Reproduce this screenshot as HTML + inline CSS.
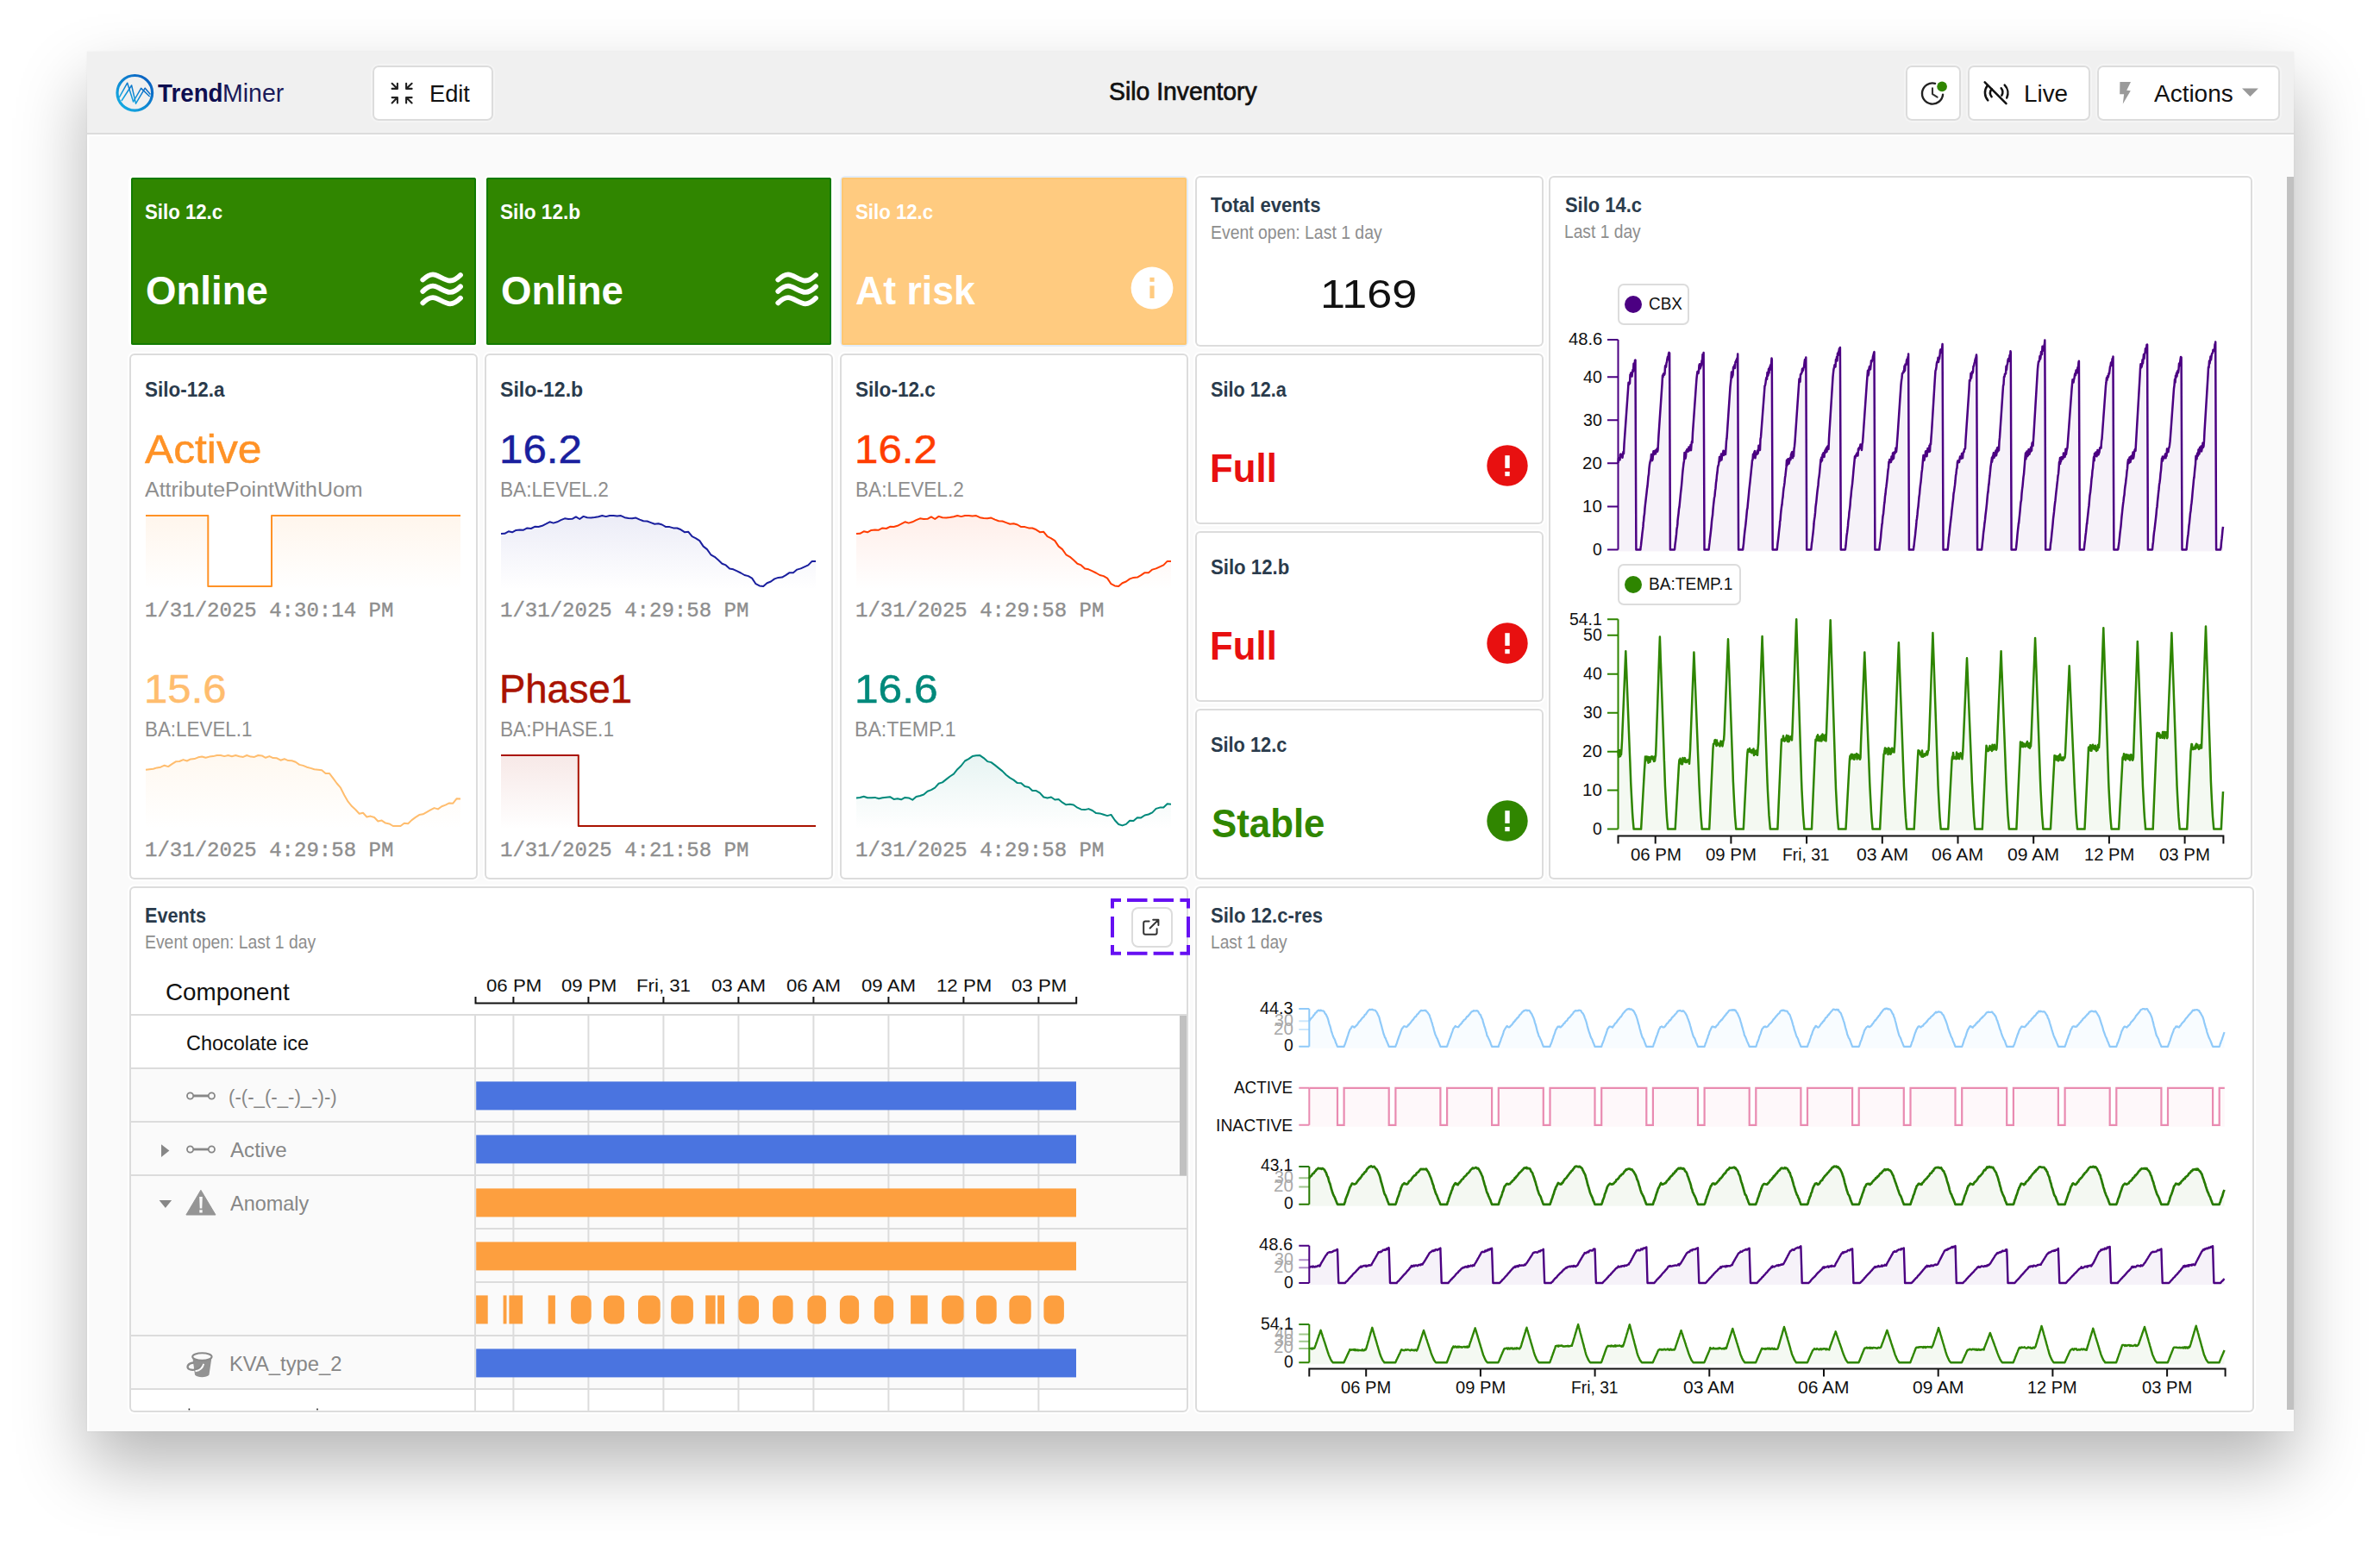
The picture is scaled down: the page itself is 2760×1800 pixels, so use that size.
<!DOCTYPE html>
<html lang="en"><head><meta charset="utf-8"><title>Silo Inventory</title>
<style>
html,body{margin:0;padding:0;background:#fff;}
body{width:2760px;height:1800px;position:relative;overflow:hidden;font-family:"Liberation Sans",sans-serif;}
#win{position:absolute;left:101.4px;top:60px;width:2558.6px;height:1600px;background:#fafafa;box-shadow:0 39px 76px rgba(0,0,0,.29),0 0 2px rgba(0,0,0,.06);overflow:visible;}
#win #hdr{left:0;top:0;width:2558.6px;height:96px;background:#f0f0f0;border-bottom:2px solid #dcdcdc;}
#ring{left:0;top:96px;width:2558.6px;height:1504px;box-shadow:inset 2.4px 2px 0 #fff;}
#win div,#win svg,#win i,#win section,#win button,#win header{position:absolute;box-sizing:border-box;display:block;margin:0;padding:0;border:0;}
button{font:inherit;color:inherit;appearance:none;-webkit-appearance:none;text-align:left;overflow:visible;}
.t{position:absolute;white-space:nowrap;line-height:1;transform-origin:0 0;display:block;}
.a{position:absolute;}
.btn{background:#fff;box-shadow:inset 0 0 0 2px #dcdcdc,0 0 0 2px rgba(255,255,255,.28);border-radius:7px;}
.card{background:#fff;box-shadow:inset 0 0 0 2px #dcdcdc,0 0 0 2px #fff;border-radius:6px;}
.tile{border-radius:2.5px;}
.lgd{background:#fff;box-shadow:inset 0 0 0 2px #dcdcdc;border-radius:7px;}
.dot{width:20px;height:20px;border-radius:50%;}
#sb{left:2550.6px;top:145px;width:8px;height:1430px;background:#c1c1c1;}
</style></head>
<body><div id="win">
<header id="hdr"><svg class="a" style="left:28.6px;top:22px" width="52" height="52" viewBox="130 82 52 52"><defs><linearGradient id="lg" x1="0" y1="1" x2="1" y2="0"><stop offset="0" stop-color="#14b4e6"/><stop offset="1" stop-color="#0a58bd"/></linearGradient></defs><circle cx="156.3" cy="107.8" r="20.3" fill="none" stroke="url(#lg)" stroke-width="3.2"/><path d="M138.2,113.2 L147.7,96.2 L154.6,118 L163.6,102.4 L173.6,112" fill="none" stroke="url(#lg)" stroke-width="1.5" stroke-linejoin="round"/><path d="M140.9,117 L152.6,99 L157.5,120.2 L168.2,102.2 L174.4,109.6" fill="none" stroke="url(#lg)" stroke-width="1.5" stroke-linejoin="round"/></svg><span class="t" style="left:81.6px;top:33px;font-size:29.5px;color:#0e0e50;font-weight:700;transform:scaleX(0.9407);">Trend</span><span class="t" style="left:156.37px;top:33px;font-size:29.5px;color:#1b1b5a;transform:scaleX(0.9661);">Miner</span><button class="btn" style="left:330.6px;top:16px;width:140px;height:64px;"><svg class="a" style="left:19px;top:17px" width="30" height="30" viewBox="451 93 30 30" fill="none" stroke="#222" stroke-width="2.1" stroke-linecap="round" stroke-linejoin="round"><path d="M454.6,96.8 L460.9,102.9 M454.6,102.9 H460.9 V96.8"/><path d="M477.6,96.8 L471.1,102.9 M477.6,102.9 H471.1 V96.8"/><path d="M454.6,119.4 L460.9,113.1 M454.6,113.1 H460.9 V119.4"/><path d="M477.6,119.4 L471.1,113.1 M477.6,113.1 H471.1 V119.4"/></svg><span class="t" style="left:66.28px;top:20px;font-size:27px;color:#111;transform:scaleX(1.0084);">Edit</span></button><span class="t" style="left:1184.61px;top:32px;font-size:28.6px;color:#111;-webkit-text-stroke:0.7px #111;transform:scaleX(0.9911);">Silo Inventory</span><button class="btn" style="left:2108.6px;top:16px;width:64px;height:64px;"><svg class="a" style="left:15px;top:8.5px" width="40" height="44" viewBox="2225 84.5 40 44" fill="none"><path d="M2244.1,96.3 A12.1,12.1 0 1 0 2253.1,109.2" stroke="#222" stroke-width="2.4" stroke-linecap="round"/><path d="M2241,101.9 V108.6 L2246.6,112.1" stroke="#333" stroke-width="2.1" stroke-linecap="round" stroke-linejoin="round"/><circle cx="2252.1" cy="99.9" r="5.8" fill="#308600"/></svg></button><button class="btn" style="left:2180.6px;top:16px;width:142px;height:64px;"><svg class="a" style="left:14px;top:14px" width="36" height="36" viewBox="2296 90 36 36" fill="none" stroke="#111" stroke-width="2.5" stroke-linecap="round"><path d="M2301.7,95.3 L2326.5,120.1"/><path d="M2304.6,99.6 A13.2,13.2 0 0 0 2305.3,116.3"/><path d="M2309.6,103.2 A7.4,7.4 0 0 0 2309.6,112.3"/><path d="M2320.7,102.2 A7.4,7.4 0 0 1 2321.3,110.6"/><path d="M2324.7,98.7 A13.2,13.2 0 0 1 2327.2,113.5"/></svg><span class="t" style="left:64.74px;top:20px;font-size:27px;color:#111;transform:scaleX(1.0319);">Live</span></button><button class="btn" style="left:2330.6px;top:16px;width:212px;height:64px;"><svg class="a" style="left:22.5px;top:15px" width="20" height="32" viewBox="2454.5 91 20 32"><path d="M2458.9,95.1 H2471.5 L2466.7,104.8 L2471.3,105.3 L2462.3,120.4 L2463.6,109.2 H2458.7 Z" fill="#9a9a9a"/></svg><span class="t" style="left:65.6px;top:20px;font-size:27px;color:#111;transform:scaleX(1.0359);">Actions</span><svg class="a" style="left:166.5px;top:23.5px" width="24" height="16" viewBox="2598.5 99.5 24 16"><path d="M2600.5,102 H2619.4 L2609.95,111.6 Z" fill="#999"/></svg></button></header><div id="ring"></div>
<div id="sb"></div><section class="card" style="left:48.6px;top:144px;width:404px;height:198px;background:#fff;box-shadow:0 0 0 1px #fff;"><div class="tile" style="left:2px;top:2px;width:400px;height:194px;background:#308600;box-shadow:inset 0 0 0 2px #127a00;"><span class="t" style="left:16.2px;top:28px;font-size:24px;color:#fff;font-weight:700;transform:scaleX(0.9254);">Silo 12.c</span><span class="t" style="left:16.52px;top:108px;font-size:46.6px;color:#fff;font-weight:700;transform:scaleX(0.9786);">Online</span><svg class="a" style="left:332px;top:103px" width="60" height="52" viewBox="484 309 60 52" fill="none" stroke="#fff" stroke-width="5.8" stroke-linecap="round"><path d="M490.3,324.5 C494,321 498,318.3 502,318.3 C508,318.3 515,325.5 522,325.5 C527,325.5 531,322 534,319"/><path d="M490.3,337.9 C494,334.4 498,331.7 502,331.7 C508,331.7 515,338.9 522,338.9 C527,338.9 531,335.4 534,332.4"/><path d="M490.3,351.3 C494,347.8 498,345.1 502,345.1 C508,345.1 515,352.3 522,352.3 C527,352.3 531,348.8 534,345.8"/></svg></div></section><section class="card" style="left:460.6px;top:144px;width:404px;height:198px;background:#fff;box-shadow:0 0 0 1px #fff;"><div class="tile" style="left:2px;top:2px;width:400px;height:194px;background:#308600;box-shadow:inset 0 0 0 2px #127a00;"><span class="t" style="left:16.2px;top:28px;font-size:24px;color:#fff;font-weight:700;transform:scaleX(0.9435);">Silo 12.b</span><span class="t" style="left:16.52px;top:108px;font-size:46.6px;color:#fff;font-weight:700;transform:scaleX(0.9786);">Online</span><svg class="a" style="left:332px;top:103px" width="60" height="52" viewBox="484 309 60 52" fill="none" stroke="#fff" stroke-width="5.8" stroke-linecap="round"><path d="M490.3,324.5 C494,321 498,318.3 502,318.3 C508,318.3 515,325.5 522,325.5 C527,325.5 531,322 534,319"/><path d="M490.3,337.9 C494,334.4 498,331.7 502,331.7 C508,331.7 515,338.9 522,338.9 C527,338.9 531,335.4 534,332.4"/><path d="M490.3,351.3 C494,347.8 498,345.1 502,345.1 C508,345.1 515,352.3 522,352.3 C527,352.3 531,348.8 534,345.8"/></svg></div></section><section class="card" style="left:872.6px;top:144px;width:404px;height:198px;background:#e3ecf8;box-shadow:none;"><div class="tile" style="left:2px;top:2px;width:400px;height:194px;background:#ffcb80;box-shadow:inset 0 0 0 2px #fdc772;"><span class="t" style="left:16.2px;top:28px;font-size:24px;color:#fff;font-weight:700;transform:scaleX(0.9254);">Silo 12.c</span><span class="t" style="left:15.54px;top:108px;font-size:46.6px;color:#fff;font-weight:700;transform:scaleX(0.9577);">At risk</span><svg class="a" style="left:331.8px;top:100.1px" width="56" height="56" viewBox="1307.8 306.1 56 56"><circle cx="1335.8" cy="334.1" r="24.4" fill="#fff"/><rect x="1333.2" y="321.9" width="5.2" height="5" fill="#ffcb80"/><rect x="1333.2" y="331.5" width="5.2" height="14.6" fill="#ffcb80"/></svg></div></section><section class="card" style="left:1284.6px;top:144px;width:404px;height:198px;"><span class="t" style="left:18.5px;top:22px;font-size:24px;color:#2a3b4c;font-weight:700;transform:scaleX(0.9223);">Total events</span><span class="t" style="left:17.6px;top:56px;font-size:21.5px;color:#8e8e8e;transform:scaleX(0.9034);">Event open: Last 1 day</span><span class="t" style="left:145.35px;top:114px;font-size:46.8px;color:#111;transform:scaleX(1.1150);">1169</span></section><section class="card" style="left:48.6px;top:350px;width:404px;height:610px;"><span class="t" style="left:18.2px;top:30px;font-size:24px;color:#2a3b4c;font-weight:700;transform:scaleX(0.9360);">Silo-12.a</span><span class="t" style="left:18.5px;top:88px;font-size:46.6px;color:#ff9226;-webkit-text-stroke:0.5px #ff9226;transform:scaleX(1.0675);">Active</span><span class="t" style="left:18.5px;top:147px;font-size:23px;color:#8e8e8e;transform:scaleX(1.0861);">AttributePointWithUom</span><svg class="a" style="left:14.7px;top:184px" width="373" height="94" viewBox="164.7 594 373 94"><defs><linearGradient id="sg1" x1="0" y1="0" x2="0" y2="1"><stop offset="0" stop-color="#ff9226" stop-opacity="0.085"/><stop offset="1" stop-color="#ff9226" stop-opacity="0"/></linearGradient></defs><path d="M168.7,598.0 L241.0,598.0 L241.0,680.0 L314.7,680.0 L314.7,598.0 L533.7,598.0 L533.7,684.0 L168.7,684.0 Z" fill="url(#sg1)"/><path d="M168.7,598.0 L241.0,598.0 L241.0,680.0 L314.7,680.0 L314.7,598.0 L533.7,598.0" fill="none" stroke="#ff9226" stroke-width="2" stroke-linejoin="round"/></svg><span class="t" style="left:18.3px;top:287px;font-size:24px;color:#8e8e8e;font-family:'Liberation Mono', monospace;-webkit-text-stroke:0.35px #8e8e8e;transform:scaleX(1.0012);">1/31/2025 4:30:14 PM</span><span class="t" style="left:17.34px;top:366px;font-size:46.6px;color:#ffbd6e;-webkit-text-stroke:0.5px #ffbd6e;transform:scaleX(1.0540);">15.6</span><span class="t" style="left:17.53px;top:425px;font-size:23px;color:#8e8e8e;transform:scaleX(0.9733);">BA:LEVEL.1</span><svg class="a" style="left:14.7px;top:462px" width="373" height="94" viewBox="164.7 872 373 94"><defs><linearGradient id="sg2" x1="0" y1="0" x2="0" y2="1"><stop offset="0" stop-color="#ffbd6e" stop-opacity="0.1"/><stop offset="1" stop-color="#ffbd6e" stop-opacity="0"/></linearGradient></defs><path d="M168.7,892.8 L173.0,892.3 L177.4,891.7 L181.7,890.4 L186.1,889.7 L190.4,887.7 L194.8,889.1 L199.1,886.2 L203.5,883.3 L207.8,883.0 L212.2,881.1 L216.5,882.5 L220.8,880.4 L225.2,880.1 L229.5,878.3 L233.9,877.5 L238.2,878.8 L242.6,877.6 L246.9,877.1 L251.3,876.0 L255.6,876.0 L259.9,877.1 L264.3,876.0 L268.6,877.2 L273.0,876.0 L277.3,877.3 L281.7,877.9 L286.0,876.0 L290.4,877.6 L294.7,877.9 L299.1,876.0 L303.4,876.4 L307.7,878.8 L312.1,877.1 L316.4,879.1 L320.8,879.3 L325.1,881.7 L329.5,880.2 L333.8,882.1 L338.2,882.3 L342.5,883.8 L346.9,886.9 L351.2,887.9 L355.5,889.7 L359.9,890.9 L364.2,892.3 L368.6,892.7 L372.9,893.2 L377.3,896.9 L381.6,896.9 L386.0,902.6 L390.3,908.5 L394.7,913.7 L399.0,922.3 L403.3,929.7 L407.7,935.1 L412.0,939.0 L416.4,943.8 L420.7,942.8 L425.1,947.5 L429.4,946.6 L433.8,948.0 L438.1,952.5 L442.4,951.6 L446.8,954.6 L451.1,955.4 L455.5,958.0 L459.8,958.0 L464.2,958.0 L468.5,954.7 L472.9,955.3 L477.2,951.1 L481.6,947.9 L485.9,945.1 L490.2,944.3 L494.6,941.8 L498.9,939.3 L503.3,937.1 L507.6,938.4 L512.0,935.2 L516.3,933.6 L520.7,931.4 L525.0,931.7 L529.4,926.2 L533.7,926.5 L533.7,962.0 L168.7,962.0 Z" fill="url(#sg2)"/><path d="M168.7,892.8 L173.0,892.3 L177.4,891.7 L181.7,890.4 L186.1,889.7 L190.4,887.7 L194.8,889.1 L199.1,886.2 L203.5,883.3 L207.8,883.0 L212.2,881.1 L216.5,882.5 L220.8,880.4 L225.2,880.1 L229.5,878.3 L233.9,877.5 L238.2,878.8 L242.6,877.6 L246.9,877.1 L251.3,876.0 L255.6,876.0 L259.9,877.1 L264.3,876.0 L268.6,877.2 L273.0,876.0 L277.3,877.3 L281.7,877.9 L286.0,876.0 L290.4,877.6 L294.7,877.9 L299.1,876.0 L303.4,876.4 L307.7,878.8 L312.1,877.1 L316.4,879.1 L320.8,879.3 L325.1,881.7 L329.5,880.2 L333.8,882.1 L338.2,882.3 L342.5,883.8 L346.9,886.9 L351.2,887.9 L355.5,889.7 L359.9,890.9 L364.2,892.3 L368.6,892.7 L372.9,893.2 L377.3,896.9 L381.6,896.9 L386.0,902.6 L390.3,908.5 L394.7,913.7 L399.0,922.3 L403.3,929.7 L407.7,935.1 L412.0,939.0 L416.4,943.8 L420.7,942.8 L425.1,947.5 L429.4,946.6 L433.8,948.0 L438.1,952.5 L442.4,951.6 L446.8,954.6 L451.1,955.4 L455.5,958.0 L459.8,958.0 L464.2,958.0 L468.5,954.7 L472.9,955.3 L477.2,951.1 L481.6,947.9 L485.9,945.1 L490.2,944.3 L494.6,941.8 L498.9,939.3 L503.3,937.1 L507.6,938.4 L512.0,935.2 L516.3,933.6 L520.7,931.4 L525.0,931.7 L529.4,926.2 L533.7,926.5" fill="none" stroke="#ffbd6e" stroke-width="2" stroke-linejoin="round"/></svg><span class="t" style="left:18.3px;top:565px;font-size:24px;color:#8e8e8e;font-family:'Liberation Mono', monospace;-webkit-text-stroke:0.35px #8e8e8e;transform:scaleX(1.0012);">1/31/2025 4:29:58 PM</span></section><section class="card" style="left:460.6px;top:350px;width:404px;height:610px;"><span class="t" style="left:18.2px;top:30px;font-size:24px;color:#2a3b4c;font-weight:700;transform:scaleX(0.9612);">Silo-12.b</span><span class="t" style="left:16.83px;top:88px;font-size:46.6px;color:#1a1f9e;-webkit-text-stroke:0.5px #1a1f9e;transform:scaleX(1.0575);">16.2</span><span class="t" style="left:17.52px;top:147px;font-size:23px;color:#8e8e8e;transform:scaleX(0.9836);">BA:LEVEL.2</span><svg class="a" style="left:15px;top:184px" width="373" height="94" viewBox="577 594 373 94"><defs><linearGradient id="sg3" x1="0" y1="0" x2="0" y2="1"><stop offset="0" stop-color="#1a1f9e" stop-opacity="0.085"/><stop offset="1" stop-color="#1a1f9e" stop-opacity="0"/></linearGradient></defs><path d="M581.0,619.1 L585.3,618.8 L589.7,616.3 L594.0,617.3 L598.4,614.9 L602.7,614.6 L607.1,614.7 L611.4,612.4 L615.8,613.0 L620.1,610.8 L624.5,611.0 L628.8,609.8 L633.1,607.7 L637.5,605.3 L641.8,606.6 L646.2,605.3 L650.5,603.2 L654.9,601.3 L659.2,601.9 L663.6,601.8 L667.9,599.4 L672.2,602.0 L676.6,598.9 L680.9,600.3 L685.3,600.4 L689.6,600.1 L694.0,599.2 L698.3,598.0 L702.7,599.1 L707.0,598.0 L711.4,598.0 L715.7,598.4 L720.0,598.1 L724.4,600.2 L728.7,600.9 L733.1,601.2 L737.4,600.6 L741.8,602.6 L746.1,604.2 L750.5,604.5 L754.8,606.1 L759.2,607.7 L763.5,607.2 L767.8,608.5 L772.2,611.1 L776.5,611.1 L780.9,612.4 L785.2,612.5 L789.6,614.3 L793.9,617.2 L798.3,616.8 L802.6,622.2 L807.0,624.3 L811.3,627.1 L815.6,633.6 L820.0,637.1 L824.3,643.3 L828.7,645.8 L833.0,649.6 L837.4,653.7 L841.7,655.4 L846.1,659.5 L850.4,660.3 L854.8,662.4 L859.1,664.5 L863.4,667.0 L867.8,668.1 L872.1,670.6 L876.5,677.2 L880.8,679.4 L885.2,680.0 L889.5,676.2 L893.9,674.5 L898.2,671.4 L902.5,669.9 L906.9,669.6 L911.2,667.2 L915.6,664.2 L919.9,664.2 L924.3,660.6 L928.6,659.4 L933.0,657.4 L937.3,655.4 L941.7,650.9 L946.0,650.9 L946.0,684.0 L581.0,684.0 Z" fill="url(#sg3)"/><path d="M581.0,619.1 L585.3,618.8 L589.7,616.3 L594.0,617.3 L598.4,614.9 L602.7,614.6 L607.1,614.7 L611.4,612.4 L615.8,613.0 L620.1,610.8 L624.5,611.0 L628.8,609.8 L633.1,607.7 L637.5,605.3 L641.8,606.6 L646.2,605.3 L650.5,603.2 L654.9,601.3 L659.2,601.9 L663.6,601.8 L667.9,599.4 L672.2,602.0 L676.6,598.9 L680.9,600.3 L685.3,600.4 L689.6,600.1 L694.0,599.2 L698.3,598.0 L702.7,599.1 L707.0,598.0 L711.4,598.0 L715.7,598.4 L720.0,598.1 L724.4,600.2 L728.7,600.9 L733.1,601.2 L737.4,600.6 L741.8,602.6 L746.1,604.2 L750.5,604.5 L754.8,606.1 L759.2,607.7 L763.5,607.2 L767.8,608.5 L772.2,611.1 L776.5,611.1 L780.9,612.4 L785.2,612.5 L789.6,614.3 L793.9,617.2 L798.3,616.8 L802.6,622.2 L807.0,624.3 L811.3,627.1 L815.6,633.6 L820.0,637.1 L824.3,643.3 L828.7,645.8 L833.0,649.6 L837.4,653.7 L841.7,655.4 L846.1,659.5 L850.4,660.3 L854.8,662.4 L859.1,664.5 L863.4,667.0 L867.8,668.1 L872.1,670.6 L876.5,677.2 L880.8,679.4 L885.2,680.0 L889.5,676.2 L893.9,674.5 L898.2,671.4 L902.5,669.9 L906.9,669.6 L911.2,667.2 L915.6,664.2 L919.9,664.2 L924.3,660.6 L928.6,659.4 L933.0,657.4 L937.3,655.4 L941.7,650.9 L946.0,650.9" fill="none" stroke="#1a1f9e" stroke-width="2" stroke-linejoin="round"/></svg><span class="t" style="left:18.3px;top:287px;font-size:24px;color:#8e8e8e;font-family:'Liberation Mono', monospace;-webkit-text-stroke:0.35px #8e8e8e;transform:scaleX(1.0012);">1/31/2025 4:29:58 PM</span><span class="t" style="left:16.57px;top:366px;font-size:46.6px;color:#a91200;-webkit-text-stroke:0.5px #a91200;transform:scaleX(0.9751);">Phase1</span><span class="t" style="left:17.52px;top:425px;font-size:23px;color:#8e8e8e;transform:scaleX(0.9831);">BA:PHASE.1</span><svg class="a" style="left:15px;top:462px" width="373" height="94" viewBox="577 872 373 94"><defs><linearGradient id="sg4" x1="0" y1="0" x2="0" y2="1"><stop offset="0" stop-color="#a91200" stop-opacity="0.095"/><stop offset="1" stop-color="#a91200" stop-opacity="0"/></linearGradient></defs><path d="M581.0,876.0 L670.8,876.0 L670.8,958.0 L946.0,958.0 L946.0,962.0 L581.0,962.0 Z" fill="url(#sg4)"/><path d="M581.0,876.0 L670.8,876.0 L670.8,958.0 L946.0,958.0" fill="none" stroke="#a91200" stroke-width="2" stroke-linejoin="round"/></svg><span class="t" style="left:18.3px;top:565px;font-size:24px;color:#8e8e8e;font-family:'Liberation Mono', monospace;-webkit-text-stroke:0.35px #8e8e8e;transform:scaleX(1.0012);">1/31/2025 4:21:58 PM</span></section><section class="card" style="left:872.6px;top:350px;width:404px;height:610px;"><span class="t" style="left:18.2px;top:30px;font-size:24px;color:#2a3b4c;font-weight:700;transform:scaleX(0.9404);">Silo-12.c</span><span class="t" style="left:16.83px;top:88px;font-size:46.6px;color:#ff3d00;-webkit-text-stroke:0.5px #ff3d00;transform:scaleX(1.0575);">16.2</span><span class="t" style="left:17.52px;top:147px;font-size:23px;color:#8e8e8e;transform:scaleX(0.9836);">BA:LEVEL.2</span><svg class="a" style="left:15px;top:184px" width="373" height="94" viewBox="989 594 373 94"><defs><linearGradient id="sg5" x1="0" y1="0" x2="0" y2="1"><stop offset="0" stop-color="#ff3d00" stop-opacity="0.085"/><stop offset="1" stop-color="#ff3d00" stop-opacity="0"/></linearGradient></defs><path d="M993.0,619.1 L997.3,618.8 L1001.7,616.3 L1006.0,617.3 L1010.4,614.9 L1014.7,614.6 L1019.1,614.7 L1023.4,612.4 L1027.8,613.0 L1032.1,610.8 L1036.5,611.0 L1040.8,609.8 L1045.1,607.7 L1049.5,605.3 L1053.8,606.6 L1058.2,605.3 L1062.5,603.2 L1066.9,601.3 L1071.2,601.9 L1075.6,601.8 L1079.9,599.4 L1084.2,602.0 L1088.6,598.9 L1092.9,600.3 L1097.3,600.4 L1101.6,600.1 L1106.0,599.2 L1110.3,598.0 L1114.7,599.1 L1119.0,598.0 L1123.4,598.0 L1127.7,598.4 L1132.0,598.1 L1136.4,600.2 L1140.7,600.9 L1145.1,601.2 L1149.4,600.6 L1153.8,602.6 L1158.1,604.2 L1162.5,604.5 L1166.8,606.1 L1171.2,607.7 L1175.5,607.2 L1179.8,608.5 L1184.2,611.1 L1188.5,611.1 L1192.9,612.4 L1197.2,612.5 L1201.6,614.3 L1205.9,617.2 L1210.3,616.8 L1214.6,622.2 L1219.0,624.3 L1223.3,627.1 L1227.6,633.6 L1232.0,637.1 L1236.3,643.3 L1240.7,645.8 L1245.0,649.6 L1249.4,653.7 L1253.7,655.4 L1258.1,659.5 L1262.4,660.3 L1266.8,662.4 L1271.1,664.5 L1275.4,667.0 L1279.8,668.1 L1284.1,670.6 L1288.5,677.2 L1292.8,679.4 L1297.2,680.0 L1301.5,676.2 L1305.9,674.5 L1310.2,671.4 L1314.5,669.9 L1318.9,669.6 L1323.2,667.2 L1327.6,664.2 L1331.9,664.2 L1336.3,660.6 L1340.6,659.4 L1345.0,657.4 L1349.3,655.4 L1353.7,650.9 L1358.0,650.9 L1358.0,684.0 L993.0,684.0 Z" fill="url(#sg5)"/><path d="M993.0,619.1 L997.3,618.8 L1001.7,616.3 L1006.0,617.3 L1010.4,614.9 L1014.7,614.6 L1019.1,614.7 L1023.4,612.4 L1027.8,613.0 L1032.1,610.8 L1036.5,611.0 L1040.8,609.8 L1045.1,607.7 L1049.5,605.3 L1053.8,606.6 L1058.2,605.3 L1062.5,603.2 L1066.9,601.3 L1071.2,601.9 L1075.6,601.8 L1079.9,599.4 L1084.2,602.0 L1088.6,598.9 L1092.9,600.3 L1097.3,600.4 L1101.6,600.1 L1106.0,599.2 L1110.3,598.0 L1114.7,599.1 L1119.0,598.0 L1123.4,598.0 L1127.7,598.4 L1132.0,598.1 L1136.4,600.2 L1140.7,600.9 L1145.1,601.2 L1149.4,600.6 L1153.8,602.6 L1158.1,604.2 L1162.5,604.5 L1166.8,606.1 L1171.2,607.7 L1175.5,607.2 L1179.8,608.5 L1184.2,611.1 L1188.5,611.1 L1192.9,612.4 L1197.2,612.5 L1201.6,614.3 L1205.9,617.2 L1210.3,616.8 L1214.6,622.2 L1219.0,624.3 L1223.3,627.1 L1227.6,633.6 L1232.0,637.1 L1236.3,643.3 L1240.7,645.8 L1245.0,649.6 L1249.4,653.7 L1253.7,655.4 L1258.1,659.5 L1262.4,660.3 L1266.8,662.4 L1271.1,664.5 L1275.4,667.0 L1279.8,668.1 L1284.1,670.6 L1288.5,677.2 L1292.8,679.4 L1297.2,680.0 L1301.5,676.2 L1305.9,674.5 L1310.2,671.4 L1314.5,669.9 L1318.9,669.6 L1323.2,667.2 L1327.6,664.2 L1331.9,664.2 L1336.3,660.6 L1340.6,659.4 L1345.0,657.4 L1349.3,655.4 L1353.7,650.9 L1358.0,650.9" fill="none" stroke="#ff3d00" stroke-width="2" stroke-linejoin="round"/></svg><span class="t" style="left:18.3px;top:287px;font-size:24px;color:#8e8e8e;font-family:'Liberation Mono', monospace;-webkit-text-stroke:0.35px #8e8e8e;transform:scaleX(1.0012);">1/31/2025 4:29:58 PM</span><span class="t" style="left:16.8px;top:366px;font-size:46.6px;color:#00897b;-webkit-text-stroke:0.5px #00897b;transform:scaleX(1.0656);">16.6</span><span class="t" style="left:17.5px;top:425px;font-size:23px;color:#8e8e8e;transform:scaleX(1.0036);">BA:TEMP.1</span><svg class="a" style="left:15px;top:462px" width="373" height="94" viewBox="989 872 373 94"><defs><linearGradient id="sg6" x1="0" y1="0" x2="0" y2="1"><stop offset="0" stop-color="#00897b" stop-opacity="0.095"/><stop offset="1" stop-color="#00897b" stop-opacity="0"/></linearGradient></defs><path d="M993.0,925.4 L997.3,925.0 L1001.7,923.7 L1006.0,925.3 L1010.4,925.2 L1014.7,924.9 L1019.1,926.3 L1023.4,925.2 L1027.8,924.7 L1032.1,924.2 L1036.5,926.9 L1040.8,926.3 L1045.1,927.3 L1049.5,924.9 L1053.8,925.4 L1058.2,927.7 L1062.5,923.9 L1066.9,923.0 L1071.2,921.5 L1075.6,917.7 L1079.9,916.1 L1084.2,913.6 L1088.6,908.8 L1092.9,907.4 L1097.3,903.9 L1101.6,900.5 L1106.0,897.7 L1110.3,892.2 L1114.7,888.0 L1119.0,882.5 L1123.4,880.1 L1127.7,877.1 L1132.0,876.2 L1136.4,876.1 L1140.7,879.1 L1145.1,883.1 L1149.4,884.1 L1153.8,887.4 L1158.1,890.9 L1162.5,894.4 L1166.8,898.8 L1171.2,902.1 L1175.5,904.6 L1179.8,908.1 L1184.2,908.2 L1188.5,912.1 L1192.9,912.9 L1197.2,917.0 L1201.6,917.1 L1205.9,919.6 L1210.3,924.5 L1214.6,925.4 L1219.0,924.5 L1223.3,927.5 L1227.6,927.1 L1232.0,930.7 L1236.3,933.3 L1240.7,932.7 L1245.0,933.5 L1249.4,936.7 L1253.7,938.7 L1258.1,939.1 L1262.4,938.1 L1266.8,940.0 L1271.1,943.1 L1275.4,943.4 L1279.8,944.8 L1284.1,946.1 L1288.5,944.9 L1292.8,951.2 L1297.2,956.0 L1301.5,957.4 L1305.9,955.9 L1310.2,951.7 L1314.5,951.9 L1318.9,948.2 L1323.2,948.4 L1327.6,945.5 L1331.9,944.5 L1336.3,942.4 L1340.6,937.9 L1345.0,936.6 L1349.3,936.4 L1353.7,932.3 L1358.0,932.8 L1358.0,962.0 L993.0,962.0 Z" fill="url(#sg6)"/><path d="M993.0,925.4 L997.3,925.0 L1001.7,923.7 L1006.0,925.3 L1010.4,925.2 L1014.7,924.9 L1019.1,926.3 L1023.4,925.2 L1027.8,924.7 L1032.1,924.2 L1036.5,926.9 L1040.8,926.3 L1045.1,927.3 L1049.5,924.9 L1053.8,925.4 L1058.2,927.7 L1062.5,923.9 L1066.9,923.0 L1071.2,921.5 L1075.6,917.7 L1079.9,916.1 L1084.2,913.6 L1088.6,908.8 L1092.9,907.4 L1097.3,903.9 L1101.6,900.5 L1106.0,897.7 L1110.3,892.2 L1114.7,888.0 L1119.0,882.5 L1123.4,880.1 L1127.7,877.1 L1132.0,876.2 L1136.4,876.1 L1140.7,879.1 L1145.1,883.1 L1149.4,884.1 L1153.8,887.4 L1158.1,890.9 L1162.5,894.4 L1166.8,898.8 L1171.2,902.1 L1175.5,904.6 L1179.8,908.1 L1184.2,908.2 L1188.5,912.1 L1192.9,912.9 L1197.2,917.0 L1201.6,917.1 L1205.9,919.6 L1210.3,924.5 L1214.6,925.4 L1219.0,924.5 L1223.3,927.5 L1227.6,927.1 L1232.0,930.7 L1236.3,933.3 L1240.7,932.7 L1245.0,933.5 L1249.4,936.7 L1253.7,938.7 L1258.1,939.1 L1262.4,938.1 L1266.8,940.0 L1271.1,943.1 L1275.4,943.4 L1279.8,944.8 L1284.1,946.1 L1288.5,944.9 L1292.8,951.2 L1297.2,956.0 L1301.5,957.4 L1305.9,955.9 L1310.2,951.7 L1314.5,951.9 L1318.9,948.2 L1323.2,948.4 L1327.6,945.5 L1331.9,944.5 L1336.3,942.4 L1340.6,937.9 L1345.0,936.6 L1349.3,936.4 L1353.7,932.3 L1358.0,932.8" fill="none" stroke="#00897b" stroke-width="2" stroke-linejoin="round"/></svg><span class="t" style="left:18.3px;top:565px;font-size:24px;color:#8e8e8e;font-family:'Liberation Mono', monospace;-webkit-text-stroke:0.35px #8e8e8e;transform:scaleX(1.0012);">1/31/2025 4:29:58 PM</span></section><section class="card" style="left:1284.6px;top:350px;width:404px;height:198px;"><span class="t" style="left:18.4px;top:30px;font-size:24px;color:#2a3b4c;font-weight:700;transform:scaleX(0.9027);">Silo 12.a</span><span class="t" style="left:17.18px;top:110px;font-size:46.6px;color:#e81010;font-weight:700;transform:scaleX(0.9393);">Full</span><svg class="a" style="left:334px;top:101.6px" width="56" height="56" viewBox="0 0 56 56"><circle cx="28" cy="28" r="23.7" fill="#e81010"/><rect x="25.3" y="16.2" width="5.4" height="14.7" fill="#fff"/><rect x="25.3" y="35" width="5.4" height="5.2" fill="#fff"/></svg></section><section class="card" style="left:1284.6px;top:556px;width:404px;height:198px;"><span class="t" style="left:18.4px;top:30px;font-size:24px;color:#2a3b4c;font-weight:700;transform:scaleX(0.9242);">Silo 12.b</span><span class="t" style="left:17.18px;top:110px;font-size:46.6px;color:#e81010;font-weight:700;transform:scaleX(0.9393);">Full</span><svg class="a" style="left:334px;top:101.6px" width="56" height="56" viewBox="0 0 56 56"><circle cx="28" cy="28" r="23.7" fill="#e81010"/><rect x="25.3" y="16.2" width="5.4" height="14.7" fill="#fff"/><rect x="25.3" y="35" width="5.4" height="5.2" fill="#fff"/></svg></section><section class="card" style="left:1284.6px;top:762px;width:404px;height:198px;"><span class="t" style="left:18.4px;top:30px;font-size:24px;color:#2a3b4c;font-weight:700;transform:scaleX(0.9069);">Silo 12.c</span><span class="t" style="left:18.56px;top:110px;font-size:46.6px;color:#308600;font-weight:700;transform:scaleX(0.9397);">Stable</span><svg class="a" style="left:334px;top:101.6px" width="56" height="56" viewBox="0 0 56 56"><circle cx="28" cy="28" r="23.7" fill="#308600"/><rect x="25.3" y="16.2" width="5.4" height="14.7" fill="#fff"/><rect x="25.3" y="35" width="5.4" height="5.2" fill="#fff"/></svg></section><section class="card" style="left:1694.6px;top:144px;width:816px;height:816px;"><span class="t" style="left:18.6px;top:22px;font-size:24px;color:#2a3b4c;font-weight:700;transform:scaleX(0.9131);">Silo 14.c</span><span class="t" style="left:17.71px;top:55px;font-size:21.5px;color:#8e8e8e;transform:scaleX(0.8938);">Last 1 day</span><div class="lgd" style="left:80px;top:125px;width:83.5px;height:48px;"><i class="dot" style="left:7.7px;top:13.8px;background:#4b0082"></i><span class="t" style="left:35.65px;top:13px;font-size:20px;color:#111;transform:scaleX(0.9451);">CBX</span></div>
<div class="lgd" style="left:80px;top:450px;width:142.6px;height:48px;"><i class="dot" style="left:7.7px;top:13.8px;background:#2e8500"></i><span class="t" style="left:35.65px;top:13px;font-size:20px;color:#111;transform:scaleX(0.9546);">BA:TEMP.1</span></div><svg class="a" style="left:0;top:0" width="816" height="816" viewBox="1796 204 816 816" fill="none"><path d="M1876.5,536.8 L1877.0,531.4 L1877.5,531.1 L1878.0,531.8 L1878.5,533.4 L1879.0,527.4 L1879.5,526.6 L1880.0,528.5 L1880.5,527.8 L1881.0,529.5 L1881.5,530.8 L1882.0,526.8 L1882.5,524.1 L1883.0,526.1 L1883.5,515.2 L1884.0,508.1 L1884.5,501.1 L1885.0,494.1 L1885.5,487.1 L1886.0,480.0 L1886.5,473.0 L1887.0,466.0 L1887.5,459.0 L1888.0,451.9 L1888.5,443.8 L1889.0,446.2 L1889.5,444.6 L1890.0,444.7 L1890.5,434.4 L1891.0,435.1 L1891.5,432.2 L1892.0,432.9 L1892.5,436.5 L1893.0,432.2 L1893.5,429.0 L1894.0,430.8 L1894.5,421.7 L1895.0,425.3 L1895.5,425.6 L1896.0,417.9 L1896.5,417.6 L1897.0,543.9 L1897.4,637.5 L1897.5,637.5 L1898.0,637.5 L1898.5,637.5 L1899.0,637.5 L1899.5,637.5 L1900.0,637.5 L1900.5,637.5 L1901.0,637.5 L1901.5,637.5 L1901.6,637.5 L1902.0,637.5 L1902.4,637.5 L1902.5,635.6 L1903.0,632.4 L1903.5,627.5 L1904.0,623.5 L1904.5,618.4 L1905.0,614.6 L1905.5,610.4 L1905.8,605.2 L1906.0,605.2 L1906.5,598.9 L1907.0,596.0 L1907.5,589.1 L1908.0,584.7 L1908.5,580.5 L1909.0,575.8 L1909.5,571.8 L1910.0,566.8 L1910.5,564.0 L1911.0,558.3 L1911.5,552.7 L1912.0,550.0 L1912.5,543.2 L1913.0,538.7 L1913.5,536.1 L1914.0,534.1 L1914.3,532.9 L1914.5,533.2 L1915.0,526.9 L1915.5,531.7 L1916.0,534.2 L1916.5,532.8 L1917.0,526.5 L1917.5,523.2 L1918.0,527.0 L1918.5,526.2 L1919.0,525.0 L1919.5,522.4 L1920.0,526.4 L1920.5,522.2 L1921.0,521.9 L1921.5,520.6 L1922.0,523.8 L1922.5,522.1 L1923.0,513.1 L1923.5,504.4 L1924.0,497.0 L1924.5,489.6 L1925.0,482.2 L1925.5,474.9 L1926.0,467.5 L1926.5,460.1 L1927.0,452.7 L1927.5,445.4 L1928.0,435.6 L1928.5,437.4 L1929.0,433.5 L1929.5,434.5 L1930.0,434.7 L1930.5,433.4 L1931.0,425.0 L1931.5,423.7 L1932.0,425.7 L1932.5,421.2 L1933.0,419.7 L1933.5,416.0 L1934.0,413.8 L1934.5,417.1 L1935.0,410.3 L1935.5,408.9 L1936.0,410.6 L1936.1,409.6 L1936.5,522.2 L1936.9,637.5 L1937.0,637.5 L1937.5,637.5 L1938.0,637.5 L1938.5,637.5 L1939.0,637.5 L1939.5,637.5 L1940.0,637.5 L1940.5,637.5 L1941.0,637.5 L1941.1,637.5 L1941.5,637.5 L1942.0,637.5 L1942.0,637.5 L1942.5,631.8 L1943.0,628.3 L1943.5,624.0 L1944.0,619.7 L1944.5,613.2 L1945.0,610.7 L1945.4,607.6 L1945.5,604.1 L1946.0,599.6 L1946.5,595.8 L1947.0,590.1 L1947.5,587.9 L1948.0,582.6 L1948.5,577.5 L1949.0,572.1 L1949.5,567.9 L1950.0,563.2 L1950.5,557.5 L1951.0,550.8 L1951.5,545.6 L1952.0,541.3 L1952.5,537.2 L1953.0,534.4 L1953.5,524.9 L1953.9,528.2 L1954.0,526.2 L1954.5,531.8 L1955.0,529.4 L1955.5,523.0 L1956.0,522.6 L1956.5,521.1 L1957.0,522.9 L1957.5,523.7 L1958.0,521.5 L1958.5,518.4 L1959.0,522.5 L1959.5,519.7 L1960.0,521.3 L1960.5,516.1 L1961.0,522.2 L1961.5,515.4 L1962.0,512.0 L1962.5,513.4 L1963.0,502.0 L1963.5,494.9 L1964.0,487.9 L1964.5,480.8 L1965.0,473.7 L1965.5,466.7 L1966.0,459.6 L1966.5,452.5 L1967.0,445.4 L1967.5,439.0 L1968.0,434.5 L1968.5,431.0 L1969.0,431.7 L1969.5,433.0 L1970.0,430.0 L1970.5,423.4 L1971.0,422.2 L1971.5,427.6 L1972.0,426.3 L1972.5,424.6 L1973.0,423.6 L1973.5,418.2 L1974.0,419.3 L1974.5,411.1 L1975.0,411.3 L1975.5,414.5 L1975.6,409.1 L1976.0,503.6 L1976.5,634.7 L1976.5,637.5 L1977.0,637.5 L1977.5,637.5 L1978.0,637.5 L1978.5,637.5 L1979.0,637.5 L1979.5,637.5 L1980.0,637.5 L1980.5,637.5 L1980.7,637.5 L1981.0,637.5 L1981.5,637.5 L1981.6,637.5 L1982.0,633.4 L1982.5,629.4 L1983.0,624.3 L1983.5,620.5 L1984.0,616.0 L1984.5,611.3 L1984.9,606.7 L1985.0,605.1 L1985.5,600.9 L1986.0,597.8 L1986.5,591.2 L1987.0,586.0 L1987.5,581.7 L1988.0,577.2 L1988.5,575.2 L1989.0,569.4 L1989.5,566.2 L1990.0,559.7 L1990.5,557.0 L1991.0,551.0 L1991.5,548.0 L1992.0,542.3 L1992.5,540.1 L1993.0,539.2 L1993.4,535.5 L1993.5,536.1 L1994.0,530.0 L1994.5,534.7 L1995.0,532.1 L1995.5,530.9 L1996.0,526.6 L1996.5,533.5 L1997.0,528.2 L1997.5,528.3 L1998.0,525.5 L1998.5,522.7 L1999.0,527.9 L1999.5,523.6 L2000.0,524.4 L2000.5,523.4 L2001.0,527.1 L2001.5,519.6 L2002.0,511.4 L2002.5,508.3 L2003.0,500.8 L2003.5,493.3 L2004.0,485.9 L2004.5,478.4 L2005.0,470.9 L2005.5,463.5 L2006.0,456.0 L2006.5,448.6 L2007.0,443.9 L2007.5,439.2 L2008.0,431.4 L2008.5,437.8 L2009.0,436.4 L2009.5,434.8 L2010.0,426.5 L2010.5,425.3 L2011.0,426.5 L2011.5,423.3 L2012.0,427.0 L2012.5,419.8 L2013.0,419.9 L2013.5,417.6 L2014.0,417.1 L2014.5,415.4 L2015.0,415.3 L2015.2,410.6 L2015.5,486.2 L2016.0,616.5 L2016.1,637.5 L2016.5,637.5 L2017.0,637.5 L2017.5,637.5 L2018.0,637.5 L2018.5,637.5 L2019.0,637.5 L2019.5,637.5 L2020.0,637.5 L2020.3,637.5 L2020.5,637.5 L2021.0,637.5 L2021.1,637.5 L2021.5,634.4 L2022.0,630.3 L2022.5,624.3 L2023.0,619.3 L2023.5,615.0 L2024.0,611.1 L2024.5,607.2 L2024.5,606.6 L2025.0,601.8 L2025.5,596.7 L2026.0,591.1 L2026.5,589.1 L2027.0,583.2 L2027.5,578.4 L2028.0,573.0 L2028.5,567.7 L2029.0,563.2 L2029.5,558.9 L2030.0,553.7 L2030.5,549.2 L2031.0,543.9 L2031.5,539.6 L2032.0,533.7 L2032.5,533.5 L2033.0,526.7 L2033.0,531.5 L2033.5,528.7 L2034.0,526.0 L2034.5,524.0 L2035.0,523.1 L2035.5,531.2 L2036.0,527.7 L2036.5,526.9 L2037.0,525.5 L2037.5,526.9 L2038.0,522.5 L2038.5,526.0 L2039.0,523.3 L2039.5,516.7 L2040.0,517.8 L2040.5,519.6 L2041.0,522.0 L2041.5,509.3 L2042.0,506.9 L2042.5,500.4 L2043.0,493.8 L2043.5,487.3 L2044.0,480.7 L2044.5,474.2 L2045.0,467.6 L2045.5,461.1 L2046.0,454.5 L2046.5,447.6 L2047.0,446.9 L2047.5,444.1 L2048.0,439.7 L2048.5,437.7 L2049.0,439.8 L2049.5,432.0 L2050.0,436.0 L2050.5,434.9 L2051.0,428.0 L2051.5,432.6 L2052.0,426.2 L2052.5,428.9 L2053.0,423.6 L2053.5,424.9 L2054.0,422.3 L2054.5,415.6 L2054.8,417.1 L2055.0,472.8 L2055.5,599.4 L2055.7,637.5 L2056.0,637.5 L2056.5,637.5 L2057.0,637.5 L2057.5,637.5 L2058.0,637.5 L2058.5,637.5 L2059.0,637.5 L2059.5,637.5 L2059.8,637.5 L2060.0,637.5 L2060.5,637.5 L2060.7,637.5 L2061.0,635.0 L2061.5,629.9 L2062.0,626.2 L2062.5,621.9 L2063.0,616.6 L2063.5,612.3 L2064.0,608.0 L2064.1,604.9 L2064.5,603.8 L2065.0,596.8 L2065.5,591.8 L2066.0,587.8 L2066.5,585.3 L2067.0,579.5 L2067.5,576.6 L2068.0,570.7 L2068.5,566.2 L2069.0,563.4 L2069.5,559.9 L2070.0,554.0 L2070.5,551.2 L2071.0,546.3 L2071.5,541.9 L2072.0,533.8 L2072.5,537.8 L2072.6,539.7 L2073.0,533.2 L2073.5,532.2 L2074.0,534.1 L2074.5,537.7 L2075.0,535.7 L2075.5,533.0 L2076.0,530.9 L2076.5,533.1 L2077.0,527.1 L2077.5,526.0 L2078.0,524.5 L2078.5,524.1 L2079.0,531.2 L2079.5,525.4 L2080.0,529.1 L2080.5,521.0 L2081.0,517.7 L2081.5,512.6 L2082.0,505.3 L2082.5,498.1 L2083.0,490.8 L2083.5,483.5 L2084.0,476.2 L2084.5,468.9 L2085.0,461.6 L2085.5,454.3 L2086.0,447.0 L2086.5,439.6 L2087.0,443.1 L2087.5,442.7 L2088.0,434.2 L2088.5,434.4 L2089.0,432.7 L2089.5,432.4 L2090.0,427.8 L2090.5,430.3 L2091.0,429.2 L2091.5,426.8 L2092.0,425.7 L2092.5,421.1 L2093.0,417.1 L2093.5,422.8 L2094.0,421.2 L2094.3,414.6 L2094.5,453.0 L2095.0,581.0 L2095.2,637.5 L2095.5,637.5 L2096.0,637.5 L2096.5,637.5 L2097.0,637.5 L2097.5,637.5 L2098.0,637.5 L2098.5,637.5 L2099.0,637.5 L2099.4,637.5 L2099.5,637.5 L2100.0,637.5 L2100.3,637.5 L2100.5,635.5 L2101.0,630.3 L2101.5,627.2 L2102.0,622.3 L2102.5,618.3 L2103.0,613.7 L2103.5,607.7 L2103.6,605.7 L2104.0,602.6 L2104.5,599.4 L2105.0,594.9 L2105.5,587.8 L2106.0,584.3 L2106.5,580.1 L2107.0,574.7 L2107.5,570.0 L2108.0,566.0 L2108.5,562.7 L2109.0,555.9 L2109.5,553.1 L2110.0,549.1 L2110.5,543.5 L2111.0,538.2 L2111.5,532.8 L2112.0,535.6 L2112.2,530.6 L2112.5,532.0 L2113.0,534.2 L2113.5,527.3 L2114.0,526.9 L2114.5,525.3 L2115.0,526.6 L2115.5,530.0 L2116.0,524.2 L2116.5,522.3 L2117.0,524.9 L2117.5,520.8 L2118.0,519.5 L2118.5,523.9 L2119.0,518.2 L2119.5,517.5 L2120.0,518.1 L2120.5,521.0 L2121.0,508.7 L2121.5,500.7 L2122.0,492.8 L2122.5,484.9 L2123.0,476.9 L2123.5,469.0 L2124.0,461.0 L2124.5,453.1 L2125.0,445.1 L2125.5,437.2 L2126.0,432.1 L2126.5,428.0 L2127.0,426.4 L2127.5,423.4 L2128.0,422.8 L2128.5,425.5 L2129.0,416.9 L2129.5,418.8 L2130.0,414.1 L2130.5,418.5 L2131.0,409.7 L2131.5,412.1 L2132.0,408.5 L2132.5,407.1 L2133.0,404.2 L2133.5,407.3 L2133.9,403.1 L2134.0,424.7 L2134.5,559.3 L2134.8,637.5 L2135.0,637.5 L2135.5,637.5 L2136.0,637.5 L2136.5,637.5 L2137.0,637.5 L2137.5,637.5 L2138.0,637.5 L2138.5,637.5 L2139.0,637.5 L2139.0,637.5 L2139.5,637.5 L2139.9,637.5 L2140.0,636.4 L2140.5,632.5 L2141.0,626.8 L2141.5,621.3 L2142.0,618.0 L2142.5,614.1 L2143.0,609.7 L2143.2,606.5 L2143.5,603.4 L2144.0,600.5 L2144.5,593.9 L2145.0,590.6 L2145.5,586.3 L2146.0,579.0 L2146.5,575.3 L2147.0,569.2 L2147.5,565.4 L2148.0,561.6 L2148.5,556.3 L2149.0,550.8 L2149.5,545.1 L2150.0,539.8 L2150.5,534.9 L2151.0,529.3 L2151.5,531.0 L2151.7,529.1 L2152.0,529.1 L2152.5,527.4 L2153.0,528.6 L2153.5,525.4 L2154.0,525.4 L2154.5,528.5 L2155.0,520.6 L2155.5,522.0 L2156.0,519.3 L2156.5,519.2 L2157.0,518.5 L2157.5,515.4 L2158.0,520.2 L2158.5,519.3 L2159.0,522.0 L2159.5,515.3 L2160.0,513.3 L2160.5,506.8 L2161.0,499.7 L2161.5,492.5 L2162.0,485.4 L2162.5,478.2 L2163.0,471.0 L2163.5,463.9 L2164.0,456.7 L2164.5,449.6 L2165.0,442.4 L2165.5,436.1 L2166.0,429.8 L2166.5,435.4 L2167.0,433.5 L2167.5,427.2 L2168.0,424.9 L2168.5,426.2 L2169.0,428.4 L2169.5,423.9 L2170.0,418.2 L2170.5,419.5 L2171.0,418.2 L2171.5,417.2 L2172.0,413.4 L2172.5,412.0 L2173.0,409.5 L2173.5,408.1 L2173.5,410.8 L2174.0,542.5 L2174.4,637.5 L2174.5,637.5 L2175.0,637.5 L2175.5,637.5 L2176.0,637.5 L2176.5,637.5 L2177.0,637.5 L2177.5,637.5 L2178.0,637.5 L2178.5,637.5 L2178.6,637.5 L2179.0,637.5 L2179.4,637.5 L2179.5,635.7 L2180.0,631.4 L2180.5,627.9 L2181.0,623.6 L2181.5,617.4 L2182.0,612.7 L2182.5,607.7 L2182.8,607.2 L2183.0,603.3 L2183.5,598.5 L2184.0,596.3 L2184.5,591.0 L2185.0,585.4 L2185.5,582.3 L2186.0,575.8 L2186.5,573.1 L2187.0,567.4 L2187.5,564.2 L2188.0,560.0 L2188.5,555.6 L2189.0,550.4 L2189.5,545.3 L2190.0,542.4 L2190.5,535.4 L2191.0,536.4 L2191.3,533.1 L2191.5,535.3 L2192.0,536.2 L2192.5,535.9 L2193.0,535.9 L2193.5,529.4 L2194.0,531.2 L2194.5,533.1 L2195.0,525.5 L2195.5,526.8 L2196.0,531.7 L2196.5,524.6 L2197.0,525.1 L2197.5,525.7 L2198.0,524.4 L2198.5,519.5 L2199.0,524.1 L2199.5,519.7 L2200.0,512.3 L2200.5,506.0 L2201.0,498.6 L2201.5,491.1 L2202.0,483.6 L2202.5,476.2 L2203.0,468.7 L2203.5,461.2 L2204.0,453.8 L2204.5,446.3 L2205.0,441.6 L2205.5,438.4 L2206.0,433.1 L2206.5,432.5 L2207.0,432.5 L2207.5,430.3 L2208.0,431.3 L2208.5,424.5 L2209.0,429.8 L2209.5,422.6 L2210.0,422.6 L2210.5,423.1 L2211.0,418.1 L2211.5,416.5 L2212.0,419.4 L2212.5,414.1 L2213.0,415.4 L2213.1,410.6 L2213.5,525.3 L2213.9,637.5 L2214.0,637.5 L2214.5,637.5 L2215.0,637.5 L2215.5,637.5 L2216.0,637.5 L2216.5,637.5 L2217.0,637.5 L2217.5,637.5 L2218.0,637.5 L2218.1,637.5 L2218.5,637.5 L2219.0,637.5 L2219.0,636.6 L2219.5,633.3 L2220.0,628.7 L2220.5,624.4 L2221.0,620.3 L2221.5,615.2 L2222.0,610.7 L2222.4,605.9 L2222.5,603.9 L2223.0,601.2 L2223.5,596.9 L2224.0,590.9 L2224.5,587.6 L2225.0,582.0 L2225.5,576.2 L2226.0,573.1 L2226.5,566.8 L2227.0,562.5 L2227.5,559.1 L2228.0,553.8 L2228.5,548.0 L2229.0,544.7 L2229.5,539.6 L2230.0,533.2 L2230.5,528.1 L2230.9,530.3 L2231.0,528.8 L2231.5,533.9 L2232.0,530.5 L2232.5,529.6 L2233.0,523.5 L2233.5,527.8 L2234.0,523.2 L2234.5,529.2 L2235.0,524.3 L2235.5,520.0 L2236.0,520.3 L2236.5,521.3 L2237.0,524.1 L2237.5,516.7 L2238.0,523.6 L2238.5,514.8 L2239.0,515.5 L2239.5,507.9 L2240.0,501.7 L2240.5,493.6 L2241.0,485.5 L2241.5,477.4 L2242.0,469.3 L2242.5,461.1 L2243.0,453.0 L2243.5,444.9 L2244.0,436.8 L2244.5,429.9 L2245.0,428.8 L2245.5,425.5 L2246.0,421.0 L2246.5,419.4 L2247.0,420.1 L2247.5,414.8 L2248.0,419.9 L2248.5,416.1 L2249.0,416.3 L2249.5,412.5 L2250.0,406.6 L2250.5,405.3 L2251.0,409.1 L2251.5,406.1 L2252.0,406.2 L2252.5,399.6 L2252.6,399.1 L2253.0,500.4 L2253.5,637.3 L2253.5,637.5 L2254.0,637.5 L2254.5,637.5 L2255.0,637.5 L2255.5,637.5 L2256.0,637.5 L2256.5,637.5 L2257.0,637.5 L2257.5,637.5 L2257.7,637.5 L2258.0,637.5 L2258.5,637.5 L2258.6,637.5 L2259.0,634.3 L2259.5,629.2 L2260.0,623.1 L2260.5,619.8 L2261.0,614.3 L2261.5,609.9 L2261.9,606.4 L2262.0,605.5 L2262.5,601.4 L2263.0,597.2 L2263.5,591.7 L2264.0,587.6 L2264.5,582.9 L2265.0,579.1 L2265.5,572.7 L2266.0,570.0 L2266.5,566.4 L2267.0,562.7 L2267.5,558.0 L2268.0,551.8 L2268.5,549.2 L2269.0,544.0 L2269.5,542.7 L2270.0,535.7 L2270.4,536.9 L2270.5,534.2 L2271.0,535.4 L2271.5,536.0 L2272.0,536.1 L2272.5,532.5 L2273.0,529.6 L2273.5,530.1 L2274.0,531.3 L2274.5,531.9 L2275.0,526.1 L2275.5,525.8 L2276.0,531.3 L2276.5,525.8 L2277.0,524.2 L2277.5,524.3 L2278.0,521.0 L2278.5,521.0 L2279.0,519.9 L2279.5,510.3 L2280.0,502.9 L2280.5,495.5 L2281.0,488.2 L2281.5,480.8 L2282.0,473.4 L2282.5,466.0 L2283.0,458.7 L2283.5,451.3 L2284.0,440.9 L2284.5,442.0 L2285.0,439.9 L2285.5,432.9 L2286.0,438.5 L2286.5,434.8 L2287.0,431.1 L2287.5,432.7 L2288.0,431.1 L2288.5,424.7 L2289.0,424.7 L2289.5,421.8 L2290.0,419.8 L2290.5,417.4 L2291.0,415.5 L2291.5,414.5 L2292.0,411.5 L2292.2,413.6 L2292.5,490.8 L2293.0,619.4 L2293.1,637.5 L2293.5,637.5 L2294.0,637.5 L2294.5,637.5 L2295.0,637.5 L2295.5,637.5 L2296.0,637.5 L2296.5,637.5 L2297.0,637.5 L2297.3,637.5 L2297.5,637.5 L2298.0,637.5 L2298.1,637.5 L2298.5,634.1 L2299.0,628.9 L2299.5,624.8 L2300.0,618.8 L2300.5,615.1 L2301.0,611.1 L2301.5,605.8 L2301.5,606.9 L2302.0,602.7 L2302.5,597.3 L2303.0,593.4 L2303.5,589.2 L2304.0,584.3 L2304.5,578.6 L2305.0,573.1 L2305.5,570.6 L2306.0,564.3 L2306.5,561.3 L2307.0,555.5 L2307.5,551.5 L2308.0,546.5 L2308.5,541.1 L2309.0,537.9 L2309.5,534.2 L2310.0,530.4 L2310.0,535.9 L2310.5,533.1 L2311.0,529.1 L2311.5,527.2 L2312.0,525.1 L2312.5,530.9 L2313.0,526.8 L2313.5,528.9 L2314.0,524.7 L2314.5,522.6 L2315.0,528.3 L2315.5,525.6 L2316.0,519.5 L2316.5,524.1 L2317.0,520.8 L2317.5,518.4 L2318.0,522.5 L2318.5,512.1 L2319.0,507.2 L2319.5,499.7 L2320.0,492.2 L2320.5,484.8 L2321.0,477.3 L2321.5,469.8 L2322.0,462.4 L2322.5,454.9 L2323.0,447.5 L2323.5,446.0 L2324.0,437.1 L2324.5,437.1 L2325.0,433.8 L2325.5,433.4 L2326.0,433.4 L2326.5,424.7 L2327.0,428.8 L2327.5,423.5 L2328.0,422.1 L2328.5,417.7 L2329.0,416.1 L2329.5,416.5 L2330.0,418.9 L2330.5,412.0 L2331.0,416.3 L2331.5,407.2 L2331.8,408.6 L2332.0,469.1 L2332.5,600.5 L2332.6,637.5 L2333.0,637.5 L2333.5,637.5 L2334.0,637.5 L2334.5,637.5 L2335.0,637.5 L2335.5,637.5 L2336.0,637.5 L2336.5,637.5 L2336.8,637.5 L2337.0,637.5 L2337.5,637.5 L2337.7,637.5 L2338.0,635.5 L2338.5,631.0 L2339.0,625.8 L2339.5,620.0 L2340.0,615.1 L2340.5,610.8 L2341.0,606.2 L2341.1,607.1 L2341.5,602.8 L2342.0,598.2 L2342.5,593.2 L2343.0,587.2 L2343.5,582.2 L2344.0,580.1 L2344.5,572.5 L2345.0,567.7 L2345.5,564.1 L2346.0,558.4 L2346.5,553.1 L2347.0,550.0 L2347.5,543.7 L2348.0,537.6 L2348.5,530.7 L2349.0,525.6 L2349.5,532.3 L2349.6,526.5 L2350.0,527.9 L2350.5,523.4 L2351.0,529.3 L2351.5,525.1 L2352.0,528.2 L2352.5,521.3 L2353.0,521.3 L2353.5,526.8 L2354.0,523.5 L2354.5,524.3 L2355.0,519.1 L2355.5,518.4 L2356.0,522.8 L2356.5,514.0 L2357.0,513.1 L2357.5,517.1 L2358.0,510.4 L2358.5,502.8 L2359.0,494.4 L2359.5,486.1 L2360.0,477.8 L2360.5,469.4 L2361.0,461.1 L2361.5,452.8 L2362.0,444.4 L2362.5,436.1 L2363.0,427.8 L2363.5,423.1 L2364.0,419.3 L2364.5,419.5 L2365.0,417.5 L2365.5,413.1 L2366.0,416.5 L2366.5,413.9 L2367.0,408.0 L2367.5,411.2 L2368.0,411.0 L2368.5,401.7 L2369.0,406.9 L2369.5,403.0 L2370.0,402.2 L2370.5,401.0 L2371.0,398.6 L2371.3,394.6 L2371.5,439.2 L2372.0,578.8 L2372.2,637.5 L2372.5,637.5 L2373.0,637.5 L2373.5,637.5 L2374.0,637.5 L2374.5,637.5 L2375.0,637.5 L2375.5,637.5 L2376.0,637.5 L2376.4,637.5 L2376.5,637.5 L2377.0,637.5 L2377.3,637.4 L2377.5,636.6 L2378.0,630.7 L2378.5,627.5 L2379.0,622.8 L2379.5,617.7 L2380.0,613.0 L2380.5,608.0 L2380.6,606.9 L2381.0,601.9 L2381.5,597.8 L2382.0,593.7 L2382.5,588.2 L2383.0,583.8 L2383.5,580.4 L2384.0,575.1 L2384.5,570.3 L2385.0,566.5 L2385.5,561.5 L2386.0,557.4 L2386.5,552.1 L2387.0,549.7 L2387.5,544.1 L2388.0,535.9 L2388.5,535.6 L2389.0,531.0 L2389.1,538.1 L2389.5,531.9 L2390.0,535.3 L2390.5,530.2 L2391.0,532.4 L2391.5,530.6 L2392.0,532.4 L2392.5,531.6 L2393.0,525.4 L2393.5,526.6 L2394.0,526.0 L2394.5,529.9 L2395.0,527.6 L2395.5,520.7 L2396.0,526.9 L2396.5,523.1 L2397.0,520.9 L2397.5,519.0 L2398.0,512.3 L2398.5,505.5 L2399.0,498.8 L2399.5,492.0 L2400.0,485.2 L2400.5,478.5 L2401.0,471.7 L2401.5,464.9 L2402.0,458.2 L2402.5,451.4 L2403.0,445.7 L2403.5,440.3 L2404.0,440.4 L2404.5,443.6 L2405.0,440.2 L2405.5,438.7 L2406.0,434.7 L2406.5,433.1 L2407.0,435.2 L2407.5,429.6 L2408.0,430.3 L2408.5,432.5 L2409.0,428.3 L2409.5,425.9 L2410.0,425.9 L2410.5,420.0 L2410.9,418.7 L2411.0,441.3 L2411.5,567.0 L2411.8,637.5 L2412.0,637.5 L2412.5,637.5 L2413.0,637.5 L2413.5,637.5 L2414.0,637.5 L2414.5,637.5 L2415.0,637.5 L2415.5,637.5 L2416.0,637.5 L2416.0,637.5 L2416.5,637.5 L2416.8,637.5 L2417.0,634.6 L2417.5,630.1 L2418.0,626.4 L2418.5,621.1 L2419.0,617.5 L2419.5,612.6 L2420.0,607.0 L2420.2,607.6 L2420.5,604.0 L2421.0,599.3 L2421.5,594.8 L2422.0,589.9 L2422.5,586.4 L2423.0,579.8 L2423.5,574.2 L2424.0,571.6 L2424.5,566.9 L2425.0,561.7 L2425.5,555.5 L2426.0,552.5 L2426.5,546.0 L2427.0,543.1 L2427.5,537.0 L2428.0,530.5 L2428.5,529.2 L2428.7,534.2 L2429.0,525.9 L2429.5,526.1 L2430.0,528.7 L2430.5,524.5 L2431.0,526.1 L2431.5,529.3 L2432.0,526.5 L2432.5,521.9 L2433.0,524.4 L2433.5,527.4 L2434.0,525.6 L2434.5,524.6 L2435.0,520.3 L2435.5,519.0 L2436.0,520.0 L2436.5,519.7 L2437.0,511.8 L2437.5,509.1 L2438.0,502.3 L2438.5,495.4 L2439.0,488.6 L2439.5,481.7 L2440.0,474.8 L2440.5,468.0 L2441.0,461.1 L2441.5,454.3 L2442.0,447.4 L2442.5,443.5 L2443.0,438.2 L2443.5,440.8 L2444.0,436.3 L2444.5,437.7 L2445.0,436.7 L2445.5,433.0 L2446.0,433.4 L2446.5,429.3 L2447.0,425.2 L2447.5,424.5 L2448.0,420.6 L2448.5,421.9 L2449.0,423.8 L2449.5,416.3 L2450.0,417.6 L2450.5,413.6 L2450.5,418.8 L2451.0,547.4 L2451.4,637.5 L2451.5,637.5 L2452.0,637.5 L2452.5,637.5 L2453.0,637.5 L2453.5,637.5 L2454.0,637.5 L2454.5,637.5 L2455.0,637.5 L2455.5,637.5 L2455.5,637.5 L2456.0,637.5 L2456.4,636.7 L2456.5,635.3 L2457.0,632.0 L2457.5,628.2 L2458.0,623.2 L2458.5,618.2 L2459.0,614.1 L2459.5,610.1 L2459.8,606.6 L2460.0,603.8 L2460.5,598.6 L2461.0,594.2 L2461.5,589.2 L2462.0,584.8 L2462.5,581.4 L2463.0,576.5 L2463.5,574.1 L2464.0,567.6 L2464.5,563.7 L2465.0,560.8 L2465.5,555.9 L2466.0,552.3 L2466.5,546.5 L2467.0,543.4 L2467.5,536.4 L2468.0,533.1 L2468.3,533.9 L2468.5,537.2 L2469.0,536.8 L2469.5,530.6 L2470.0,530.2 L2470.5,535.9 L2471.0,533.6 L2471.5,529.0 L2472.0,528.6 L2472.5,532.1 L2473.0,529.9 L2473.5,524.5 L2474.0,531.6 L2474.5,529.2 L2475.0,524.9 L2475.5,522.0 L2476.0,520.9 L2476.5,522.9 L2477.0,514.0 L2477.5,505.5 L2478.0,496.9 L2478.5,488.4 L2479.0,479.8 L2479.5,471.3 L2480.0,462.7 L2480.5,454.1 L2481.0,445.6 L2481.5,437.0 L2482.0,427.4 L2482.5,422.2 L2483.0,426.4 L2483.5,425.6 L2484.0,423.7 L2484.5,417.3 L2485.0,421.5 L2485.5,416.2 L2486.0,411.1 L2486.5,416.0 L2487.0,410.5 L2487.5,409.7 L2488.0,404.2 L2488.5,406.6 L2489.0,405.2 L2489.5,399.8 L2490.0,399.5 L2490.1,400.1 L2490.5,522.8 L2490.9,637.5 L2491.0,637.5 L2491.5,637.5 L2492.0,637.5 L2492.5,637.5 L2493.0,637.5 L2493.5,637.5 L2494.0,637.5 L2494.5,637.5 L2495.0,637.5 L2495.1,637.5 L2495.5,637.5 L2496.0,637.5 L2496.0,637.5 L2496.5,631.8 L2497.0,628.4 L2497.5,622.0 L2498.0,617.4 L2498.5,614.2 L2499.0,609.8 L2499.3,607.1 L2499.5,605.6 L2500.0,601.1 L2500.5,596.6 L2501.0,590.3 L2501.5,587.7 L2502.0,581.4 L2502.5,576.8 L2503.0,571.8 L2503.5,567.7 L2504.0,562.0 L2504.5,559.4 L2505.0,555.3 L2505.5,549.3 L2506.0,545.6 L2506.5,538.9 L2507.0,531.9 L2507.5,531.3 L2507.9,529.4 L2508.0,534.5 L2508.5,531.6 L2509.0,531.8 L2509.5,531.4 L2510.0,530.4 L2510.5,528.7 L2511.0,526.4 L2511.5,531.3 L2512.0,525.9 L2512.5,528.9 L2513.0,520.5 L2513.5,523.5 L2514.0,522.5 L2514.5,524.2 L2515.0,519.9 L2515.5,519.1 L2516.0,516.2 L2516.5,512.2 L2517.0,506.0 L2517.5,499.1 L2518.0,492.1 L2518.5,485.2 L2519.0,478.2 L2519.5,471.3 L2520.0,464.4 L2520.5,457.4 L2521.0,450.5 L2521.5,447.1 L2522.0,440.1 L2522.5,443.6 L2523.0,435.7 L2523.5,438.0 L2524.0,432.7 L2524.5,436.3 L2525.0,430.5 L2525.5,432.7 L2526.0,432.2 L2526.5,428.5 L2527.0,421.6 L2527.5,424.1 L2528.0,421.3 L2528.5,417.2 L2529.0,413.9 L2529.5,418.7 L2529.6,414.6 L2530.0,511.9 L2530.5,637.5 L2530.5,637.5 L2531.0,637.5 L2531.5,637.5 L2532.0,637.5 L2532.5,637.5 L2533.0,637.5 L2533.5,637.5 L2534.0,637.5 L2534.5,637.5 L2534.7,637.5 L2535.0,637.5 L2535.5,637.5 L2535.6,637.5 L2536.0,632.8 L2536.5,627.9 L2537.0,623.2 L2537.5,619.9 L2538.0,614.9 L2538.5,609.3 L2538.9,607.0 L2539.0,605.6 L2539.5,600.5 L2540.0,595.2 L2540.5,592.4 L2541.0,586.5 L2541.5,583.2 L2542.0,578.4 L2542.5,572.5 L2543.0,567.0 L2543.5,562.0 L2544.0,556.1 L2544.5,553.5 L2545.0,547.5 L2545.5,542.6 L2546.0,538.3 L2546.5,528.9 L2547.0,532.3 L2547.4,530.6 L2547.5,532.5 L2548.0,526.3 L2548.5,525.4 L2549.0,528.6 L2549.5,521.5 L2550.0,523.4 L2550.5,526.5 L2551.0,519.1 L2551.5,519.2 L2552.0,523.3 L2552.5,517.6 L2553.0,523.4 L2553.5,520.7 L2554.0,519.3 L2554.5,513.8 L2555.0,518.9 L2555.5,517.4 L2556.0,511.4 L2556.5,500.6 L2557.0,492.4 L2557.5,484.3 L2558.0,476.1 L2558.5,468.0 L2559.0,459.8 L2559.5,451.6 L2560.0,443.5 L2560.5,435.3 L2561.0,425.8 L2561.5,426.3 L2562.0,418.6 L2562.5,421.6 L2563.0,418.0 L2563.5,413.4 L2564.0,417.3 L2564.5,413.3 L2565.0,410.7 L2565.5,409.6 L2566.0,409.4 L2566.5,405.7 L2567.0,407.0 L2567.5,406.8 L2568.0,406.5 L2568.5,399.4 L2569.0,398.1 L2569.2,396.6 L2569.5,482.4 L2570.0,620.7 L2570.1,637.5 L2570.5,637.5 L2571.0,637.5 L2571.5,637.5 L2572.0,637.5 L2572.5,637.5 L2573.0,637.5 L2573.5,637.5 L2574.0,637.5 L2574.3,637.5 L2574.5,637.5 L2575.0,637.5 L2575.1,636.6 L2575.5,635.1 L2576.0,628.9 L2576.5,624.9 L2577.0,620.0 L2577.5,614.5 L2578.0,610.8 L2578.0,639.5 L1876.5,639.5 Z" fill="#4b0082" fill-opacity="0.05"/><path d="M1876.5,536.8 L1877.0,531.4 L1877.5,531.1 L1878.0,531.8 L1878.5,533.4 L1879.0,527.4 L1879.5,526.6 L1880.0,528.5 L1880.5,527.8 L1881.0,529.5 L1881.5,530.8 L1882.0,526.8 L1882.5,524.1 L1883.0,526.1 L1883.5,515.2 L1884.0,508.1 L1884.5,501.1 L1885.0,494.1 L1885.5,487.1 L1886.0,480.0 L1886.5,473.0 L1887.0,466.0 L1887.5,459.0 L1888.0,451.9 L1888.5,443.8 L1889.0,446.2 L1889.5,444.6 L1890.0,444.7 L1890.5,434.4 L1891.0,435.1 L1891.5,432.2 L1892.0,432.9 L1892.5,436.5 L1893.0,432.2 L1893.5,429.0 L1894.0,430.8 L1894.5,421.7 L1895.0,425.3 L1895.5,425.6 L1896.0,417.9 L1896.5,417.6 L1897.0,543.9 L1897.4,637.5 L1897.5,637.5 L1898.0,637.5 L1898.5,637.5 L1899.0,637.5 L1899.5,637.5 L1900.0,637.5 L1900.5,637.5 L1901.0,637.5 L1901.5,637.5 L1901.6,637.5 L1902.0,637.5 L1902.4,637.5 L1902.5,635.6 L1903.0,632.4 L1903.5,627.5 L1904.0,623.5 L1904.5,618.4 L1905.0,614.6 L1905.5,610.4 L1905.8,605.2 L1906.0,605.2 L1906.5,598.9 L1907.0,596.0 L1907.5,589.1 L1908.0,584.7 L1908.5,580.5 L1909.0,575.8 L1909.5,571.8 L1910.0,566.8 L1910.5,564.0 L1911.0,558.3 L1911.5,552.7 L1912.0,550.0 L1912.5,543.2 L1913.0,538.7 L1913.5,536.1 L1914.0,534.1 L1914.3,532.9 L1914.5,533.2 L1915.0,526.9 L1915.5,531.7 L1916.0,534.2 L1916.5,532.8 L1917.0,526.5 L1917.5,523.2 L1918.0,527.0 L1918.5,526.2 L1919.0,525.0 L1919.5,522.4 L1920.0,526.4 L1920.5,522.2 L1921.0,521.9 L1921.5,520.6 L1922.0,523.8 L1922.5,522.1 L1923.0,513.1 L1923.5,504.4 L1924.0,497.0 L1924.5,489.6 L1925.0,482.2 L1925.5,474.9 L1926.0,467.5 L1926.5,460.1 L1927.0,452.7 L1927.5,445.4 L1928.0,435.6 L1928.5,437.4 L1929.0,433.5 L1929.5,434.5 L1930.0,434.7 L1930.5,433.4 L1931.0,425.0 L1931.5,423.7 L1932.0,425.7 L1932.5,421.2 L1933.0,419.7 L1933.5,416.0 L1934.0,413.8 L1934.5,417.1 L1935.0,410.3 L1935.5,408.9 L1936.0,410.6 L1936.1,409.6 L1936.5,522.2 L1936.9,637.5 L1937.0,637.5 L1937.5,637.5 L1938.0,637.5 L1938.5,637.5 L1939.0,637.5 L1939.5,637.5 L1940.0,637.5 L1940.5,637.5 L1941.0,637.5 L1941.1,637.5 L1941.5,637.5 L1942.0,637.5 L1942.0,637.5 L1942.5,631.8 L1943.0,628.3 L1943.5,624.0 L1944.0,619.7 L1944.5,613.2 L1945.0,610.7 L1945.4,607.6 L1945.5,604.1 L1946.0,599.6 L1946.5,595.8 L1947.0,590.1 L1947.5,587.9 L1948.0,582.6 L1948.5,577.5 L1949.0,572.1 L1949.5,567.9 L1950.0,563.2 L1950.5,557.5 L1951.0,550.8 L1951.5,545.6 L1952.0,541.3 L1952.5,537.2 L1953.0,534.4 L1953.5,524.9 L1953.9,528.2 L1954.0,526.2 L1954.5,531.8 L1955.0,529.4 L1955.5,523.0 L1956.0,522.6 L1956.5,521.1 L1957.0,522.9 L1957.5,523.7 L1958.0,521.5 L1958.5,518.4 L1959.0,522.5 L1959.5,519.7 L1960.0,521.3 L1960.5,516.1 L1961.0,522.2 L1961.5,515.4 L1962.0,512.0 L1962.5,513.4 L1963.0,502.0 L1963.5,494.9 L1964.0,487.9 L1964.5,480.8 L1965.0,473.7 L1965.5,466.7 L1966.0,459.6 L1966.5,452.5 L1967.0,445.4 L1967.5,439.0 L1968.0,434.5 L1968.5,431.0 L1969.0,431.7 L1969.5,433.0 L1970.0,430.0 L1970.5,423.4 L1971.0,422.2 L1971.5,427.6 L1972.0,426.3 L1972.5,424.6 L1973.0,423.6 L1973.5,418.2 L1974.0,419.3 L1974.5,411.1 L1975.0,411.3 L1975.5,414.5 L1975.6,409.1 L1976.0,503.6 L1976.5,634.7 L1976.5,637.5 L1977.0,637.5 L1977.5,637.5 L1978.0,637.5 L1978.5,637.5 L1979.0,637.5 L1979.5,637.5 L1980.0,637.5 L1980.5,637.5 L1980.7,637.5 L1981.0,637.5 L1981.5,637.5 L1981.6,637.5 L1982.0,633.4 L1982.5,629.4 L1983.0,624.3 L1983.5,620.5 L1984.0,616.0 L1984.5,611.3 L1984.9,606.7 L1985.0,605.1 L1985.5,600.9 L1986.0,597.8 L1986.5,591.2 L1987.0,586.0 L1987.5,581.7 L1988.0,577.2 L1988.5,575.2 L1989.0,569.4 L1989.5,566.2 L1990.0,559.7 L1990.5,557.0 L1991.0,551.0 L1991.5,548.0 L1992.0,542.3 L1992.5,540.1 L1993.0,539.2 L1993.4,535.5 L1993.5,536.1 L1994.0,530.0 L1994.5,534.7 L1995.0,532.1 L1995.5,530.9 L1996.0,526.6 L1996.5,533.5 L1997.0,528.2 L1997.5,528.3 L1998.0,525.5 L1998.5,522.7 L1999.0,527.9 L1999.5,523.6 L2000.0,524.4 L2000.5,523.4 L2001.0,527.1 L2001.5,519.6 L2002.0,511.4 L2002.5,508.3 L2003.0,500.8 L2003.5,493.3 L2004.0,485.9 L2004.5,478.4 L2005.0,470.9 L2005.5,463.5 L2006.0,456.0 L2006.5,448.6 L2007.0,443.9 L2007.5,439.2 L2008.0,431.4 L2008.5,437.8 L2009.0,436.4 L2009.5,434.8 L2010.0,426.5 L2010.5,425.3 L2011.0,426.5 L2011.5,423.3 L2012.0,427.0 L2012.5,419.8 L2013.0,419.9 L2013.5,417.6 L2014.0,417.1 L2014.5,415.4 L2015.0,415.3 L2015.2,410.6 L2015.5,486.2 L2016.0,616.5 L2016.1,637.5 L2016.5,637.5 L2017.0,637.5 L2017.5,637.5 L2018.0,637.5 L2018.5,637.5 L2019.0,637.5 L2019.5,637.5 L2020.0,637.5 L2020.3,637.5 L2020.5,637.5 L2021.0,637.5 L2021.1,637.5 L2021.5,634.4 L2022.0,630.3 L2022.5,624.3 L2023.0,619.3 L2023.5,615.0 L2024.0,611.1 L2024.5,607.2 L2024.5,606.6 L2025.0,601.8 L2025.5,596.7 L2026.0,591.1 L2026.5,589.1 L2027.0,583.2 L2027.5,578.4 L2028.0,573.0 L2028.5,567.7 L2029.0,563.2 L2029.5,558.9 L2030.0,553.7 L2030.5,549.2 L2031.0,543.9 L2031.5,539.6 L2032.0,533.7 L2032.5,533.5 L2033.0,526.7 L2033.0,531.5 L2033.5,528.7 L2034.0,526.0 L2034.5,524.0 L2035.0,523.1 L2035.5,531.2 L2036.0,527.7 L2036.5,526.9 L2037.0,525.5 L2037.5,526.9 L2038.0,522.5 L2038.5,526.0 L2039.0,523.3 L2039.5,516.7 L2040.0,517.8 L2040.5,519.6 L2041.0,522.0 L2041.5,509.3 L2042.0,506.9 L2042.5,500.4 L2043.0,493.8 L2043.5,487.3 L2044.0,480.7 L2044.5,474.2 L2045.0,467.6 L2045.5,461.1 L2046.0,454.5 L2046.5,447.6 L2047.0,446.9 L2047.5,444.1 L2048.0,439.7 L2048.5,437.7 L2049.0,439.8 L2049.5,432.0 L2050.0,436.0 L2050.5,434.9 L2051.0,428.0 L2051.5,432.6 L2052.0,426.2 L2052.5,428.9 L2053.0,423.6 L2053.5,424.9 L2054.0,422.3 L2054.5,415.6 L2054.8,417.1 L2055.0,472.8 L2055.5,599.4 L2055.7,637.5 L2056.0,637.5 L2056.5,637.5 L2057.0,637.5 L2057.5,637.5 L2058.0,637.5 L2058.5,637.5 L2059.0,637.5 L2059.5,637.5 L2059.8,637.5 L2060.0,637.5 L2060.5,637.5 L2060.7,637.5 L2061.0,635.0 L2061.5,629.9 L2062.0,626.2 L2062.5,621.9 L2063.0,616.6 L2063.5,612.3 L2064.0,608.0 L2064.1,604.9 L2064.5,603.8 L2065.0,596.8 L2065.5,591.8 L2066.0,587.8 L2066.5,585.3 L2067.0,579.5 L2067.5,576.6 L2068.0,570.7 L2068.5,566.2 L2069.0,563.4 L2069.5,559.9 L2070.0,554.0 L2070.5,551.2 L2071.0,546.3 L2071.5,541.9 L2072.0,533.8 L2072.5,537.8 L2072.6,539.7 L2073.0,533.2 L2073.5,532.2 L2074.0,534.1 L2074.5,537.7 L2075.0,535.7 L2075.5,533.0 L2076.0,530.9 L2076.5,533.1 L2077.0,527.1 L2077.5,526.0 L2078.0,524.5 L2078.5,524.1 L2079.0,531.2 L2079.5,525.4 L2080.0,529.1 L2080.5,521.0 L2081.0,517.7 L2081.5,512.6 L2082.0,505.3 L2082.5,498.1 L2083.0,490.8 L2083.5,483.5 L2084.0,476.2 L2084.5,468.9 L2085.0,461.6 L2085.5,454.3 L2086.0,447.0 L2086.5,439.6 L2087.0,443.1 L2087.5,442.7 L2088.0,434.2 L2088.5,434.4 L2089.0,432.7 L2089.5,432.4 L2090.0,427.8 L2090.5,430.3 L2091.0,429.2 L2091.5,426.8 L2092.0,425.7 L2092.5,421.1 L2093.0,417.1 L2093.5,422.8 L2094.0,421.2 L2094.3,414.6 L2094.5,453.0 L2095.0,581.0 L2095.2,637.5 L2095.5,637.5 L2096.0,637.5 L2096.5,637.5 L2097.0,637.5 L2097.5,637.5 L2098.0,637.5 L2098.5,637.5 L2099.0,637.5 L2099.4,637.5 L2099.5,637.5 L2100.0,637.5 L2100.3,637.5 L2100.5,635.5 L2101.0,630.3 L2101.5,627.2 L2102.0,622.3 L2102.5,618.3 L2103.0,613.7 L2103.5,607.7 L2103.6,605.7 L2104.0,602.6 L2104.5,599.4 L2105.0,594.9 L2105.5,587.8 L2106.0,584.3 L2106.5,580.1 L2107.0,574.7 L2107.5,570.0 L2108.0,566.0 L2108.5,562.7 L2109.0,555.9 L2109.5,553.1 L2110.0,549.1 L2110.5,543.5 L2111.0,538.2 L2111.5,532.8 L2112.0,535.6 L2112.2,530.6 L2112.5,532.0 L2113.0,534.2 L2113.5,527.3 L2114.0,526.9 L2114.5,525.3 L2115.0,526.6 L2115.5,530.0 L2116.0,524.2 L2116.5,522.3 L2117.0,524.9 L2117.5,520.8 L2118.0,519.5 L2118.5,523.9 L2119.0,518.2 L2119.5,517.5 L2120.0,518.1 L2120.5,521.0 L2121.0,508.7 L2121.5,500.7 L2122.0,492.8 L2122.5,484.9 L2123.0,476.9 L2123.5,469.0 L2124.0,461.0 L2124.5,453.1 L2125.0,445.1 L2125.5,437.2 L2126.0,432.1 L2126.5,428.0 L2127.0,426.4 L2127.5,423.4 L2128.0,422.8 L2128.5,425.5 L2129.0,416.9 L2129.5,418.8 L2130.0,414.1 L2130.5,418.5 L2131.0,409.7 L2131.5,412.1 L2132.0,408.5 L2132.5,407.1 L2133.0,404.2 L2133.5,407.3 L2133.9,403.1 L2134.0,424.7 L2134.5,559.3 L2134.8,637.5 L2135.0,637.5 L2135.5,637.5 L2136.0,637.5 L2136.5,637.5 L2137.0,637.5 L2137.5,637.5 L2138.0,637.5 L2138.5,637.5 L2139.0,637.5 L2139.0,637.5 L2139.5,637.5 L2139.9,637.5 L2140.0,636.4 L2140.5,632.5 L2141.0,626.8 L2141.5,621.3 L2142.0,618.0 L2142.5,614.1 L2143.0,609.7 L2143.2,606.5 L2143.5,603.4 L2144.0,600.5 L2144.5,593.9 L2145.0,590.6 L2145.5,586.3 L2146.0,579.0 L2146.5,575.3 L2147.0,569.2 L2147.5,565.4 L2148.0,561.6 L2148.5,556.3 L2149.0,550.8 L2149.5,545.1 L2150.0,539.8 L2150.5,534.9 L2151.0,529.3 L2151.5,531.0 L2151.7,529.1 L2152.0,529.1 L2152.5,527.4 L2153.0,528.6 L2153.5,525.4 L2154.0,525.4 L2154.5,528.5 L2155.0,520.6 L2155.5,522.0 L2156.0,519.3 L2156.5,519.2 L2157.0,518.5 L2157.5,515.4 L2158.0,520.2 L2158.5,519.3 L2159.0,522.0 L2159.5,515.3 L2160.0,513.3 L2160.5,506.8 L2161.0,499.7 L2161.5,492.5 L2162.0,485.4 L2162.5,478.2 L2163.0,471.0 L2163.5,463.9 L2164.0,456.7 L2164.5,449.6 L2165.0,442.4 L2165.5,436.1 L2166.0,429.8 L2166.5,435.4 L2167.0,433.5 L2167.5,427.2 L2168.0,424.9 L2168.5,426.2 L2169.0,428.4 L2169.5,423.9 L2170.0,418.2 L2170.5,419.5 L2171.0,418.2 L2171.5,417.2 L2172.0,413.4 L2172.5,412.0 L2173.0,409.5 L2173.5,408.1 L2173.5,410.8 L2174.0,542.5 L2174.4,637.5 L2174.5,637.5 L2175.0,637.5 L2175.5,637.5 L2176.0,637.5 L2176.5,637.5 L2177.0,637.5 L2177.5,637.5 L2178.0,637.5 L2178.5,637.5 L2178.6,637.5 L2179.0,637.5 L2179.4,637.5 L2179.5,635.7 L2180.0,631.4 L2180.5,627.9 L2181.0,623.6 L2181.5,617.4 L2182.0,612.7 L2182.5,607.7 L2182.8,607.2 L2183.0,603.3 L2183.5,598.5 L2184.0,596.3 L2184.5,591.0 L2185.0,585.4 L2185.5,582.3 L2186.0,575.8 L2186.5,573.1 L2187.0,567.4 L2187.5,564.2 L2188.0,560.0 L2188.5,555.6 L2189.0,550.4 L2189.5,545.3 L2190.0,542.4 L2190.5,535.4 L2191.0,536.4 L2191.3,533.1 L2191.5,535.3 L2192.0,536.2 L2192.5,535.9 L2193.0,535.9 L2193.5,529.4 L2194.0,531.2 L2194.5,533.1 L2195.0,525.5 L2195.5,526.8 L2196.0,531.7 L2196.5,524.6 L2197.0,525.1 L2197.5,525.7 L2198.0,524.4 L2198.5,519.5 L2199.0,524.1 L2199.5,519.7 L2200.0,512.3 L2200.5,506.0 L2201.0,498.6 L2201.5,491.1 L2202.0,483.6 L2202.5,476.2 L2203.0,468.7 L2203.5,461.2 L2204.0,453.8 L2204.5,446.3 L2205.0,441.6 L2205.5,438.4 L2206.0,433.1 L2206.5,432.5 L2207.0,432.5 L2207.5,430.3 L2208.0,431.3 L2208.5,424.5 L2209.0,429.8 L2209.5,422.6 L2210.0,422.6 L2210.5,423.1 L2211.0,418.1 L2211.5,416.5 L2212.0,419.4 L2212.5,414.1 L2213.0,415.4 L2213.1,410.6 L2213.5,525.3 L2213.9,637.5 L2214.0,637.5 L2214.5,637.5 L2215.0,637.5 L2215.5,637.5 L2216.0,637.5 L2216.5,637.5 L2217.0,637.5 L2217.5,637.5 L2218.0,637.5 L2218.1,637.5 L2218.5,637.5 L2219.0,637.5 L2219.0,636.6 L2219.5,633.3 L2220.0,628.7 L2220.5,624.4 L2221.0,620.3 L2221.5,615.2 L2222.0,610.7 L2222.4,605.9 L2222.5,603.9 L2223.0,601.2 L2223.5,596.9 L2224.0,590.9 L2224.5,587.6 L2225.0,582.0 L2225.5,576.2 L2226.0,573.1 L2226.5,566.8 L2227.0,562.5 L2227.5,559.1 L2228.0,553.8 L2228.5,548.0 L2229.0,544.7 L2229.5,539.6 L2230.0,533.2 L2230.5,528.1 L2230.9,530.3 L2231.0,528.8 L2231.5,533.9 L2232.0,530.5 L2232.5,529.6 L2233.0,523.5 L2233.5,527.8 L2234.0,523.2 L2234.5,529.2 L2235.0,524.3 L2235.5,520.0 L2236.0,520.3 L2236.5,521.3 L2237.0,524.1 L2237.5,516.7 L2238.0,523.6 L2238.5,514.8 L2239.0,515.5 L2239.5,507.9 L2240.0,501.7 L2240.5,493.6 L2241.0,485.5 L2241.5,477.4 L2242.0,469.3 L2242.5,461.1 L2243.0,453.0 L2243.5,444.9 L2244.0,436.8 L2244.5,429.9 L2245.0,428.8 L2245.5,425.5 L2246.0,421.0 L2246.5,419.4 L2247.0,420.1 L2247.5,414.8 L2248.0,419.9 L2248.5,416.1 L2249.0,416.3 L2249.5,412.5 L2250.0,406.6 L2250.5,405.3 L2251.0,409.1 L2251.5,406.1 L2252.0,406.2 L2252.5,399.6 L2252.6,399.1 L2253.0,500.4 L2253.5,637.3 L2253.5,637.5 L2254.0,637.5 L2254.5,637.5 L2255.0,637.5 L2255.5,637.5 L2256.0,637.5 L2256.5,637.5 L2257.0,637.5 L2257.5,637.5 L2257.7,637.5 L2258.0,637.5 L2258.5,637.5 L2258.6,637.5 L2259.0,634.3 L2259.5,629.2 L2260.0,623.1 L2260.5,619.8 L2261.0,614.3 L2261.5,609.9 L2261.9,606.4 L2262.0,605.5 L2262.5,601.4 L2263.0,597.2 L2263.5,591.7 L2264.0,587.6 L2264.5,582.9 L2265.0,579.1 L2265.5,572.7 L2266.0,570.0 L2266.5,566.4 L2267.0,562.7 L2267.5,558.0 L2268.0,551.8 L2268.5,549.2 L2269.0,544.0 L2269.5,542.7 L2270.0,535.7 L2270.4,536.9 L2270.5,534.2 L2271.0,535.4 L2271.5,536.0 L2272.0,536.1 L2272.5,532.5 L2273.0,529.6 L2273.5,530.1 L2274.0,531.3 L2274.5,531.9 L2275.0,526.1 L2275.5,525.8 L2276.0,531.3 L2276.5,525.8 L2277.0,524.2 L2277.5,524.3 L2278.0,521.0 L2278.5,521.0 L2279.0,519.9 L2279.5,510.3 L2280.0,502.9 L2280.5,495.5 L2281.0,488.2 L2281.5,480.8 L2282.0,473.4 L2282.5,466.0 L2283.0,458.7 L2283.5,451.3 L2284.0,440.9 L2284.5,442.0 L2285.0,439.9 L2285.5,432.9 L2286.0,438.5 L2286.5,434.8 L2287.0,431.1 L2287.5,432.7 L2288.0,431.1 L2288.5,424.7 L2289.0,424.7 L2289.5,421.8 L2290.0,419.8 L2290.5,417.4 L2291.0,415.5 L2291.5,414.5 L2292.0,411.5 L2292.2,413.6 L2292.5,490.8 L2293.0,619.4 L2293.1,637.5 L2293.5,637.5 L2294.0,637.5 L2294.5,637.5 L2295.0,637.5 L2295.5,637.5 L2296.0,637.5 L2296.5,637.5 L2297.0,637.5 L2297.3,637.5 L2297.5,637.5 L2298.0,637.5 L2298.1,637.5 L2298.5,634.1 L2299.0,628.9 L2299.5,624.8 L2300.0,618.8 L2300.5,615.1 L2301.0,611.1 L2301.5,605.8 L2301.5,606.9 L2302.0,602.7 L2302.5,597.3 L2303.0,593.4 L2303.5,589.2 L2304.0,584.3 L2304.5,578.6 L2305.0,573.1 L2305.5,570.6 L2306.0,564.3 L2306.5,561.3 L2307.0,555.5 L2307.5,551.5 L2308.0,546.5 L2308.5,541.1 L2309.0,537.9 L2309.5,534.2 L2310.0,530.4 L2310.0,535.9 L2310.5,533.1 L2311.0,529.1 L2311.5,527.2 L2312.0,525.1 L2312.5,530.9 L2313.0,526.8 L2313.5,528.9 L2314.0,524.7 L2314.5,522.6 L2315.0,528.3 L2315.5,525.6 L2316.0,519.5 L2316.5,524.1 L2317.0,520.8 L2317.5,518.4 L2318.0,522.5 L2318.5,512.1 L2319.0,507.2 L2319.5,499.7 L2320.0,492.2 L2320.5,484.8 L2321.0,477.3 L2321.5,469.8 L2322.0,462.4 L2322.5,454.9 L2323.0,447.5 L2323.5,446.0 L2324.0,437.1 L2324.5,437.1 L2325.0,433.8 L2325.5,433.4 L2326.0,433.4 L2326.5,424.7 L2327.0,428.8 L2327.5,423.5 L2328.0,422.1 L2328.5,417.7 L2329.0,416.1 L2329.5,416.5 L2330.0,418.9 L2330.5,412.0 L2331.0,416.3 L2331.5,407.2 L2331.8,408.6 L2332.0,469.1 L2332.5,600.5 L2332.6,637.5 L2333.0,637.5 L2333.5,637.5 L2334.0,637.5 L2334.5,637.5 L2335.0,637.5 L2335.5,637.5 L2336.0,637.5 L2336.5,637.5 L2336.8,637.5 L2337.0,637.5 L2337.5,637.5 L2337.7,637.5 L2338.0,635.5 L2338.5,631.0 L2339.0,625.8 L2339.5,620.0 L2340.0,615.1 L2340.5,610.8 L2341.0,606.2 L2341.1,607.1 L2341.5,602.8 L2342.0,598.2 L2342.5,593.2 L2343.0,587.2 L2343.5,582.2 L2344.0,580.1 L2344.5,572.5 L2345.0,567.7 L2345.5,564.1 L2346.0,558.4 L2346.5,553.1 L2347.0,550.0 L2347.5,543.7 L2348.0,537.6 L2348.5,530.7 L2349.0,525.6 L2349.5,532.3 L2349.6,526.5 L2350.0,527.9 L2350.5,523.4 L2351.0,529.3 L2351.5,525.1 L2352.0,528.2 L2352.5,521.3 L2353.0,521.3 L2353.5,526.8 L2354.0,523.5 L2354.5,524.3 L2355.0,519.1 L2355.5,518.4 L2356.0,522.8 L2356.5,514.0 L2357.0,513.1 L2357.5,517.1 L2358.0,510.4 L2358.5,502.8 L2359.0,494.4 L2359.5,486.1 L2360.0,477.8 L2360.5,469.4 L2361.0,461.1 L2361.5,452.8 L2362.0,444.4 L2362.5,436.1 L2363.0,427.8 L2363.5,423.1 L2364.0,419.3 L2364.5,419.5 L2365.0,417.5 L2365.5,413.1 L2366.0,416.5 L2366.5,413.9 L2367.0,408.0 L2367.5,411.2 L2368.0,411.0 L2368.5,401.7 L2369.0,406.9 L2369.5,403.0 L2370.0,402.2 L2370.5,401.0 L2371.0,398.6 L2371.3,394.6 L2371.5,439.2 L2372.0,578.8 L2372.2,637.5 L2372.5,637.5 L2373.0,637.5 L2373.5,637.5 L2374.0,637.5 L2374.5,637.5 L2375.0,637.5 L2375.5,637.5 L2376.0,637.5 L2376.4,637.5 L2376.5,637.5 L2377.0,637.5 L2377.3,637.4 L2377.5,636.6 L2378.0,630.7 L2378.5,627.5 L2379.0,622.8 L2379.5,617.7 L2380.0,613.0 L2380.5,608.0 L2380.6,606.9 L2381.0,601.9 L2381.5,597.8 L2382.0,593.7 L2382.5,588.2 L2383.0,583.8 L2383.5,580.4 L2384.0,575.1 L2384.5,570.3 L2385.0,566.5 L2385.5,561.5 L2386.0,557.4 L2386.5,552.1 L2387.0,549.7 L2387.5,544.1 L2388.0,535.9 L2388.5,535.6 L2389.0,531.0 L2389.1,538.1 L2389.5,531.9 L2390.0,535.3 L2390.5,530.2 L2391.0,532.4 L2391.5,530.6 L2392.0,532.4 L2392.5,531.6 L2393.0,525.4 L2393.5,526.6 L2394.0,526.0 L2394.5,529.9 L2395.0,527.6 L2395.5,520.7 L2396.0,526.9 L2396.5,523.1 L2397.0,520.9 L2397.5,519.0 L2398.0,512.3 L2398.5,505.5 L2399.0,498.8 L2399.5,492.0 L2400.0,485.2 L2400.5,478.5 L2401.0,471.7 L2401.5,464.9 L2402.0,458.2 L2402.5,451.4 L2403.0,445.7 L2403.5,440.3 L2404.0,440.4 L2404.5,443.6 L2405.0,440.2 L2405.5,438.7 L2406.0,434.7 L2406.5,433.1 L2407.0,435.2 L2407.5,429.6 L2408.0,430.3 L2408.5,432.5 L2409.0,428.3 L2409.5,425.9 L2410.0,425.9 L2410.5,420.0 L2410.9,418.7 L2411.0,441.3 L2411.5,567.0 L2411.8,637.5 L2412.0,637.5 L2412.5,637.5 L2413.0,637.5 L2413.5,637.5 L2414.0,637.5 L2414.5,637.5 L2415.0,637.5 L2415.5,637.5 L2416.0,637.5 L2416.0,637.5 L2416.5,637.5 L2416.8,637.5 L2417.0,634.6 L2417.5,630.1 L2418.0,626.4 L2418.5,621.1 L2419.0,617.5 L2419.5,612.6 L2420.0,607.0 L2420.2,607.6 L2420.5,604.0 L2421.0,599.3 L2421.5,594.8 L2422.0,589.9 L2422.5,586.4 L2423.0,579.8 L2423.5,574.2 L2424.0,571.6 L2424.5,566.9 L2425.0,561.7 L2425.5,555.5 L2426.0,552.5 L2426.5,546.0 L2427.0,543.1 L2427.5,537.0 L2428.0,530.5 L2428.5,529.2 L2428.7,534.2 L2429.0,525.9 L2429.5,526.1 L2430.0,528.7 L2430.5,524.5 L2431.0,526.1 L2431.5,529.3 L2432.0,526.5 L2432.5,521.9 L2433.0,524.4 L2433.5,527.4 L2434.0,525.6 L2434.5,524.6 L2435.0,520.3 L2435.5,519.0 L2436.0,520.0 L2436.5,519.7 L2437.0,511.8 L2437.5,509.1 L2438.0,502.3 L2438.5,495.4 L2439.0,488.6 L2439.5,481.7 L2440.0,474.8 L2440.5,468.0 L2441.0,461.1 L2441.5,454.3 L2442.0,447.4 L2442.5,443.5 L2443.0,438.2 L2443.5,440.8 L2444.0,436.3 L2444.5,437.7 L2445.0,436.7 L2445.5,433.0 L2446.0,433.4 L2446.5,429.3 L2447.0,425.2 L2447.5,424.5 L2448.0,420.6 L2448.5,421.9 L2449.0,423.8 L2449.5,416.3 L2450.0,417.6 L2450.5,413.6 L2450.5,418.8 L2451.0,547.4 L2451.4,637.5 L2451.5,637.5 L2452.0,637.5 L2452.5,637.5 L2453.0,637.5 L2453.5,637.5 L2454.0,637.5 L2454.5,637.5 L2455.0,637.5 L2455.5,637.5 L2455.5,637.5 L2456.0,637.5 L2456.4,636.7 L2456.5,635.3 L2457.0,632.0 L2457.5,628.2 L2458.0,623.2 L2458.5,618.2 L2459.0,614.1 L2459.5,610.1 L2459.8,606.6 L2460.0,603.8 L2460.5,598.6 L2461.0,594.2 L2461.5,589.2 L2462.0,584.8 L2462.5,581.4 L2463.0,576.5 L2463.5,574.1 L2464.0,567.6 L2464.5,563.7 L2465.0,560.8 L2465.5,555.9 L2466.0,552.3 L2466.5,546.5 L2467.0,543.4 L2467.5,536.4 L2468.0,533.1 L2468.3,533.9 L2468.5,537.2 L2469.0,536.8 L2469.5,530.6 L2470.0,530.2 L2470.5,535.9 L2471.0,533.6 L2471.5,529.0 L2472.0,528.6 L2472.5,532.1 L2473.0,529.9 L2473.5,524.5 L2474.0,531.6 L2474.5,529.2 L2475.0,524.9 L2475.5,522.0 L2476.0,520.9 L2476.5,522.9 L2477.0,514.0 L2477.5,505.5 L2478.0,496.9 L2478.5,488.4 L2479.0,479.8 L2479.5,471.3 L2480.0,462.7 L2480.5,454.1 L2481.0,445.6 L2481.5,437.0 L2482.0,427.4 L2482.5,422.2 L2483.0,426.4 L2483.5,425.6 L2484.0,423.7 L2484.5,417.3 L2485.0,421.5 L2485.5,416.2 L2486.0,411.1 L2486.5,416.0 L2487.0,410.5 L2487.5,409.7 L2488.0,404.2 L2488.5,406.6 L2489.0,405.2 L2489.5,399.8 L2490.0,399.5 L2490.1,400.1 L2490.5,522.8 L2490.9,637.5 L2491.0,637.5 L2491.5,637.5 L2492.0,637.5 L2492.5,637.5 L2493.0,637.5 L2493.5,637.5 L2494.0,637.5 L2494.5,637.5 L2495.0,637.5 L2495.1,637.5 L2495.5,637.5 L2496.0,637.5 L2496.0,637.5 L2496.5,631.8 L2497.0,628.4 L2497.5,622.0 L2498.0,617.4 L2498.5,614.2 L2499.0,609.8 L2499.3,607.1 L2499.5,605.6 L2500.0,601.1 L2500.5,596.6 L2501.0,590.3 L2501.5,587.7 L2502.0,581.4 L2502.5,576.8 L2503.0,571.8 L2503.5,567.7 L2504.0,562.0 L2504.5,559.4 L2505.0,555.3 L2505.5,549.3 L2506.0,545.6 L2506.5,538.9 L2507.0,531.9 L2507.5,531.3 L2507.9,529.4 L2508.0,534.5 L2508.5,531.6 L2509.0,531.8 L2509.5,531.4 L2510.0,530.4 L2510.5,528.7 L2511.0,526.4 L2511.5,531.3 L2512.0,525.9 L2512.5,528.9 L2513.0,520.5 L2513.5,523.5 L2514.0,522.5 L2514.5,524.2 L2515.0,519.9 L2515.5,519.1 L2516.0,516.2 L2516.5,512.2 L2517.0,506.0 L2517.5,499.1 L2518.0,492.1 L2518.5,485.2 L2519.0,478.2 L2519.5,471.3 L2520.0,464.4 L2520.5,457.4 L2521.0,450.5 L2521.5,447.1 L2522.0,440.1 L2522.5,443.6 L2523.0,435.7 L2523.5,438.0 L2524.0,432.7 L2524.5,436.3 L2525.0,430.5 L2525.5,432.7 L2526.0,432.2 L2526.5,428.5 L2527.0,421.6 L2527.5,424.1 L2528.0,421.3 L2528.5,417.2 L2529.0,413.9 L2529.5,418.7 L2529.6,414.6 L2530.0,511.9 L2530.5,637.5 L2530.5,637.5 L2531.0,637.5 L2531.5,637.5 L2532.0,637.5 L2532.5,637.5 L2533.0,637.5 L2533.5,637.5 L2534.0,637.5 L2534.5,637.5 L2534.7,637.5 L2535.0,637.5 L2535.5,637.5 L2535.6,637.5 L2536.0,632.8 L2536.5,627.9 L2537.0,623.2 L2537.5,619.9 L2538.0,614.9 L2538.5,609.3 L2538.9,607.0 L2539.0,605.6 L2539.5,600.5 L2540.0,595.2 L2540.5,592.4 L2541.0,586.5 L2541.5,583.2 L2542.0,578.4 L2542.5,572.5 L2543.0,567.0 L2543.5,562.0 L2544.0,556.1 L2544.5,553.5 L2545.0,547.5 L2545.5,542.6 L2546.0,538.3 L2546.5,528.9 L2547.0,532.3 L2547.4,530.6 L2547.5,532.5 L2548.0,526.3 L2548.5,525.4 L2549.0,528.6 L2549.5,521.5 L2550.0,523.4 L2550.5,526.5 L2551.0,519.1 L2551.5,519.2 L2552.0,523.3 L2552.5,517.6 L2553.0,523.4 L2553.5,520.7 L2554.0,519.3 L2554.5,513.8 L2555.0,518.9 L2555.5,517.4 L2556.0,511.4 L2556.5,500.6 L2557.0,492.4 L2557.5,484.3 L2558.0,476.1 L2558.5,468.0 L2559.0,459.8 L2559.5,451.6 L2560.0,443.5 L2560.5,435.3 L2561.0,425.8 L2561.5,426.3 L2562.0,418.6 L2562.5,421.6 L2563.0,418.0 L2563.5,413.4 L2564.0,417.3 L2564.5,413.3 L2565.0,410.7 L2565.5,409.6 L2566.0,409.4 L2566.5,405.7 L2567.0,407.0 L2567.5,406.8 L2568.0,406.5 L2568.5,399.4 L2569.0,398.1 L2569.2,396.6 L2569.5,482.4 L2570.0,620.7 L2570.1,637.5 L2570.5,637.5 L2571.0,637.5 L2571.5,637.5 L2572.0,637.5 L2572.5,637.5 L2573.0,637.5 L2573.5,637.5 L2574.0,637.5 L2574.3,637.5 L2574.5,637.5 L2575.0,637.5 L2575.1,636.6 L2575.5,635.1 L2576.0,628.9 L2576.5,624.9 L2577.0,620.0 L2577.5,614.5 L2578.0,610.8" stroke="#4b0082" stroke-width="2.5" stroke-linejoin="round"/><path d="M1876.5,870.2 L1877.0,876.8 L1877.5,877.8 L1878.0,869.9 L1878.5,876.5 L1879.0,877.0 L1879.5,872.7 L1880.0,875.2 L1880.5,868.2 L1881.0,859.2 L1881.5,847.1 L1882.0,835.0 L1882.5,822.9 L1883.0,810.8 L1883.5,798.7 L1884.0,786.6 L1884.5,774.5 L1885.0,762.4 L1885.3,755.2 L1885.5,760.3 L1886.0,773.1 L1886.2,777.5 L1886.5,785.9 L1887.0,798.7 L1887.5,811.5 L1888.0,824.3 L1888.5,837.1 L1889.0,849.9 L1889.5,862.7 L1890.0,875.5 L1890.4,884.8 L1890.5,888.2 L1891.0,901.0 L1891.2,907.1 L1891.5,913.4 L1892.0,922.9 L1892.5,932.3 L1893.0,941.8 L1893.5,949.1 L1894.0,954.8 L1894.5,960.5 L1894.6,961.6 L1895.0,961.6 L1895.5,961.6 L1896.0,961.6 L1896.5,961.6 L1897.0,961.6 L1897.5,961.6 L1898.0,961.6 L1898.5,961.6 L1899.0,961.6 L1899.5,961.6 L1900.0,961.6 L1900.5,961.6 L1901.0,961.6 L1901.5,961.6 L1902.0,961.6 L1902.5,961.6 L1903.0,961.6 L1903.1,961.6 L1903.5,954.6 L1904.0,945.8 L1904.5,936.9 L1905.0,928.1 L1905.5,919.3 L1906.0,910.4 L1906.5,901.6 L1907.0,892.7 L1907.5,886.1 L1908.0,877.4 L1908.5,882.6 L1909.0,880.3 L1909.5,877.6 L1910.0,879.6 L1910.5,877.7 L1911.0,879.4 L1911.5,884.8 L1912.0,878.0 L1912.5,880.4 L1913.0,882.6 L1913.5,883.6 L1914.0,878.3 L1914.5,880.4 L1915.0,877.6 L1915.5,878.9 L1916.0,877.4 L1916.5,880.6 L1917.0,879.5 L1917.5,880.2 L1918.0,883.1 L1918.5,877.4 L1919.0,882.6 L1919.5,878.8 L1920.0,876.4 L1920.5,865.5 L1921.0,851.0 L1921.5,836.5 L1922.0,821.9 L1922.5,807.4 L1923.0,792.9 L1923.5,778.4 L1924.0,763.8 L1924.5,749.3 L1924.9,738.5 L1925.0,742.2 L1925.5,756.4 L1925.7,763.2 L1926.0,770.5 L1926.5,784.7 L1927.0,798.8 L1927.5,813.0 L1928.0,827.1 L1928.5,841.3 L1929.0,855.4 L1929.5,869.6 L1929.9,881.9 L1930.0,883.7 L1930.5,897.9 L1930.8,906.5 L1931.0,912.0 L1931.5,921.5 L1932.0,931.0 L1932.5,940.5 L1933.0,948.3 L1933.5,954.0 L1934.0,959.7 L1934.2,961.6 L1934.5,961.6 L1935.0,961.6 L1935.5,961.6 L1936.0,961.6 L1936.5,961.6 L1937.0,961.6 L1937.5,961.6 L1938.0,961.6 L1938.5,961.6 L1939.0,961.6 L1939.5,961.6 L1940.0,961.6 L1940.5,961.6 L1941.0,961.6 L1941.5,961.6 L1942.0,961.6 L1942.5,961.6 L1942.7,961.6 L1943.0,956.0 L1943.5,947.3 L1944.0,938.6 L1944.5,929.9 L1945.0,921.2 L1945.5,912.5 L1946.0,903.8 L1946.5,895.1 L1947.0,886.4 L1947.5,881.2 L1948.0,885.3 L1948.5,879.8 L1949.0,881.1 L1949.5,885.0 L1950.0,886.1 L1950.5,882.2 L1951.0,886.2 L1951.5,879.0 L1952.0,882.4 L1952.5,882.3 L1953.0,883.2 L1953.5,881.1 L1954.0,879.1 L1954.5,884.0 L1955.0,883.5 L1955.5,881.8 L1956.0,884.1 L1956.5,881.7 L1957.0,882.1 L1957.5,883.0 L1958.0,881.1 L1958.5,882.2 L1959.0,885.8 L1959.5,878.4 L1960.0,870.5 L1960.5,857.6 L1961.0,844.8 L1961.5,832.0 L1962.0,819.2 L1962.5,806.3 L1963.0,793.5 L1963.5,780.7 L1964.0,767.8 L1964.4,756.5 L1964.5,758.1 L1965.0,770.7 L1965.3,778.6 L1965.5,783.4 L1966.0,796.1 L1966.5,808.8 L1967.0,821.5 L1967.5,834.2 L1968.0,846.8 L1968.5,859.5 L1969.0,872.2 L1969.5,884.9 L1969.5,885.0 L1970.0,897.6 L1970.4,907.1 L1970.5,910.3 L1971.0,920.2 L1971.5,929.7 L1972.0,939.2 L1972.5,947.5 L1973.0,953.2 L1973.5,958.9 L1973.7,961.6 L1974.0,961.6 L1974.5,961.6 L1975.0,961.6 L1975.5,961.6 L1976.0,961.6 L1976.5,961.6 L1977.0,961.6 L1977.5,961.6 L1978.0,961.6 L1978.5,961.6 L1979.0,961.6 L1979.5,961.6 L1980.0,961.6 L1980.5,961.6 L1981.0,961.6 L1981.5,961.6 L1982.0,961.6 L1982.2,961.6 L1982.5,956.0 L1983.0,945.1 L1983.5,934.1 L1984.0,923.1 L1984.5,912.2 L1985.0,901.2 L1985.5,890.2 L1986.0,879.3 L1986.5,868.3 L1987.0,862.9 L1987.5,862.3 L1988.0,862.6 L1988.5,858.3 L1989.0,858.1 L1989.5,861.7 L1990.0,862.6 L1990.5,865.0 L1991.0,858.6 L1991.5,864.4 L1992.0,861.4 L1992.5,863.0 L1993.0,863.2 L1993.5,862.9 L1994.0,864.3 L1994.5,865.5 L1995.0,861.5 L1995.5,859.4 L1996.0,860.6 L1996.5,864.2 L1997.0,860.2 L1997.5,865.4 L1998.0,862.5 L1998.5,859.1 L1999.0,858.4 L1999.5,852.0 L2000.0,839.7 L2000.5,827.5 L2001.0,815.2 L2001.5,802.9 L2002.0,790.6 L2002.5,778.3 L2003.0,766.1 L2003.5,753.8 L2004.0,741.5 L2004.0,741.2 L2004.5,754.9 L2004.9,765.5 L2005.0,768.8 L2005.5,782.8 L2006.0,796.7 L2006.5,810.6 L2007.0,824.6 L2007.5,838.5 L2008.0,852.4 L2008.5,866.3 L2009.0,880.3 L2009.1,882.4 L2009.5,894.2 L2009.9,906.6 L2010.0,908.1 L2010.5,918.9 L2011.0,928.4 L2011.5,937.8 L2012.0,946.7 L2012.5,952.4 L2013.0,958.1 L2013.3,961.6 L2013.5,961.6 L2014.0,961.6 L2014.5,961.6 L2015.0,961.6 L2015.5,961.6 L2016.0,961.6 L2016.5,961.6 L2017.0,961.6 L2017.5,961.6 L2018.0,961.6 L2018.5,961.6 L2019.0,961.6 L2019.5,961.6 L2020.0,961.6 L2020.5,961.6 L2021.0,961.6 L2021.5,961.6 L2021.8,961.6 L2022.0,958.0 L2022.5,948.2 L2023.0,938.3 L2023.5,928.5 L2024.0,918.7 L2024.5,908.8 L2025.0,899.0 L2025.5,889.2 L2026.0,879.3 L2026.5,872.4 L2027.0,869.3 L2027.5,872.1 L2028.0,871.9 L2028.5,871.4 L2029.0,868.1 L2029.5,870.1 L2030.0,872.3 L2030.5,870.3 L2031.0,871.0 L2031.5,873.3 L2032.0,869.8 L2032.5,869.5 L2033.0,871.2 L2033.5,868.5 L2034.0,876.0 L2034.5,872.1 L2035.0,871.0 L2035.5,873.4 L2036.0,874.8 L2036.5,870.6 L2037.0,872.6 L2037.5,874.0 L2038.0,875.8 L2038.5,868.3 L2039.0,863.2 L2039.5,849.5 L2040.0,835.9 L2040.5,822.2 L2041.0,808.6 L2041.5,794.9 L2042.0,781.3 L2042.5,767.6 L2043.0,753.9 L2043.5,740.3 L2043.6,738.1 L2044.0,750.0 L2044.5,762.8 L2044.5,764.2 L2045.0,778.4 L2045.5,792.6 L2046.0,806.8 L2046.5,821.0 L2047.0,835.1 L2047.5,849.3 L2048.0,863.5 L2048.5,877.7 L2048.6,881.8 L2049.0,891.9 L2049.5,906.1 L2049.5,906.5 L2050.0,917.6 L2050.5,927.0 L2051.0,936.5 L2051.5,945.9 L2052.0,951.6 L2052.5,957.3 L2052.9,961.6 L2053.0,961.6 L2053.5,961.6 L2054.0,961.6 L2054.5,961.6 L2055.0,961.6 L2055.5,961.6 L2056.0,961.6 L2056.5,961.6 L2057.0,961.6 L2057.5,961.6 L2058.0,961.6 L2058.5,961.6 L2059.0,961.6 L2059.5,961.6 L2060.0,961.6 L2060.5,961.6 L2061.0,961.6 L2061.4,961.6 L2061.5,959.0 L2062.0,947.4 L2062.5,935.9 L2063.0,924.3 L2063.5,912.7 L2064.0,901.2 L2064.5,889.6 L2065.0,878.0 L2065.5,866.5 L2066.0,857.6 L2066.5,859.5 L2067.0,858.7 L2067.5,858.4 L2068.0,853.4 L2068.5,859.0 L2069.0,858.2 L2069.5,859.6 L2070.0,856.6 L2070.5,858.7 L2071.0,857.6 L2071.5,854.5 L2072.0,852.9 L2072.5,853.7 L2073.0,860.1 L2073.5,857.4 L2074.0,853.5 L2074.5,860.2 L2075.0,858.8 L2075.5,856.5 L2076.0,857.3 L2076.5,854.3 L2077.0,854.6 L2077.5,856.7 L2078.0,858.4 L2078.5,849.1 L2079.0,835.1 L2079.5,821.0 L2080.0,806.9 L2080.5,792.9 L2081.0,778.8 L2081.5,764.7 L2082.0,750.7 L2082.5,736.6 L2083.0,722.5 L2083.2,718.3 L2083.5,729.4 L2084.0,745.2 L2084.0,745.8 L2084.5,761.0 L2085.0,776.8 L2085.5,792.6 L2086.0,808.4 L2086.5,824.2 L2087.0,840.0 L2087.5,855.8 L2088.0,871.6 L2088.2,878.4 L2088.5,887.4 L2089.0,903.2 L2089.1,905.9 L2089.5,916.2 L2090.0,925.7 L2090.5,935.2 L2091.0,944.6 L2091.5,950.8 L2092.0,956.5 L2092.4,961.6 L2092.5,961.6 L2093.0,961.6 L2093.5,961.6 L2094.0,961.6 L2094.5,961.6 L2095.0,961.6 L2095.5,961.6 L2096.0,961.6 L2096.5,961.6 L2097.0,961.6 L2097.5,961.6 L2098.0,961.6 L2098.5,961.6 L2099.0,961.6 L2099.5,961.6 L2100.0,961.6 L2100.5,961.6 L2101.0,961.6 L2101.0,960.6 L2101.5,948.9 L2102.0,937.3 L2102.5,925.6 L2103.0,913.9 L2103.5,902.3 L2104.0,890.6 L2104.5,879.0 L2105.0,867.3 L2105.5,857.8 L2106.0,857.4 L2106.5,859.0 L2107.0,854.1 L2107.5,858.2 L2108.0,852.3 L2108.5,854.3 L2109.0,859.1 L2109.5,855.5 L2110.0,854.6 L2110.5,859.2 L2111.0,855.6 L2111.5,859.3 L2112.0,853.3 L2112.5,859.5 L2113.0,854.4 L2113.5,851.5 L2114.0,852.7 L2114.5,857.6 L2115.0,855.2 L2115.5,858.4 L2116.0,856.7 L2116.5,852.5 L2117.0,852.9 L2117.5,859.4 L2118.0,850.3 L2118.5,836.4 L2119.0,822.5 L2119.5,808.6 L2120.0,794.7 L2120.5,780.9 L2121.0,767.0 L2121.5,753.1 L2122.0,739.2 L2122.5,725.3 L2122.7,719.2 L2123.0,728.0 L2123.5,743.7 L2123.6,746.6 L2124.0,759.5 L2124.5,775.2 L2125.0,790.9 L2125.5,806.7 L2126.0,822.4 L2126.5,838.1 L2127.0,853.8 L2127.5,869.6 L2127.8,878.5 L2128.0,885.3 L2128.5,901.0 L2128.7,905.9 L2129.0,914.9 L2129.5,924.4 L2130.0,933.9 L2130.5,943.3 L2131.0,950.0 L2131.5,955.7 L2132.0,961.4 L2132.0,961.6 L2132.5,961.6 L2133.0,961.6 L2133.5,961.6 L2134.0,961.6 L2134.5,961.6 L2135.0,961.6 L2135.5,961.6 L2136.0,961.6 L2136.5,961.6 L2137.0,961.6 L2137.5,961.6 L2138.0,961.6 L2138.5,961.6 L2139.0,961.6 L2139.5,961.6 L2140.0,961.6 L2140.5,961.6 L2140.5,961.6 L2141.0,952.9 L2141.5,943.7 L2142.0,934.5 L2142.5,925.3 L2143.0,916.1 L2143.5,906.9 L2144.0,897.8 L2144.5,888.6 L2145.0,880.3 L2145.5,876.8 L2146.0,880.6 L2146.5,875.5 L2147.0,874.8 L2147.5,877.5 L2148.0,879.1 L2148.5,875.1 L2149.0,877.9 L2149.5,880.5 L2150.0,879.8 L2150.5,880.7 L2151.0,875.2 L2151.5,877.9 L2152.0,876.4 L2152.5,875.4 L2153.0,874.1 L2153.5,880.5 L2154.0,878.7 L2154.5,874.9 L2155.0,875.8 L2155.5,878.9 L2156.0,876.7 L2156.5,880.4 L2157.0,880.7 L2157.5,878.7 L2158.0,862.7 L2158.5,850.3 L2159.0,838.0 L2159.5,825.6 L2160.0,813.2 L2160.5,800.8 L2161.0,788.5 L2161.5,776.1 L2162.0,763.7 L2162.3,756.5 L2162.5,761.9 L2163.0,774.5 L2163.2,778.6 L2163.5,787.2 L2164.0,799.9 L2164.5,812.6 L2165.0,825.3 L2165.5,838.0 L2166.0,850.7 L2166.5,863.3 L2167.0,876.0 L2167.4,885.0 L2167.5,888.7 L2168.0,901.4 L2168.2,907.1 L2168.5,913.6 L2169.0,923.1 L2169.5,932.5 L2170.0,942.0 L2170.5,949.2 L2171.0,954.9 L2171.5,960.6 L2171.6,961.6 L2172.0,961.6 L2172.5,961.6 L2173.0,961.6 L2173.5,961.6 L2174.0,961.6 L2174.5,961.6 L2175.0,961.6 L2175.5,961.6 L2176.0,961.6 L2176.5,961.6 L2177.0,961.6 L2177.5,961.6 L2178.0,961.6 L2178.5,961.6 L2179.0,961.6 L2179.5,961.6 L2180.0,961.6 L2180.1,961.6 L2180.5,953.6 L2181.0,943.7 L2181.5,933.7 L2182.0,923.8 L2182.5,913.9 L2183.0,903.9 L2183.5,894.0 L2184.0,884.1 L2184.5,875.1 L2185.0,873.3 L2185.5,871.1 L2186.0,867.4 L2186.5,874.0 L2187.0,870.7 L2187.5,868.3 L2188.0,870.4 L2188.5,871.0 L2189.0,869.0 L2189.5,875.1 L2190.0,867.6 L2190.5,869.7 L2191.0,868.7 L2191.5,868.6 L2192.0,874.5 L2192.5,874.7 L2193.0,873.8 L2193.5,871.2 L2194.0,867.7 L2194.5,867.9 L2195.0,871.9 L2195.5,870.2 L2196.0,869.3 L2196.5,872.6 L2197.0,866.2 L2197.5,857.2 L2198.0,844.4 L2198.5,831.5 L2199.0,818.7 L2199.5,805.9 L2200.0,793.0 L2200.5,780.2 L2201.0,767.4 L2201.5,754.5 L2201.9,745.3 L2202.0,749.1 L2202.5,762.7 L2202.7,769.0 L2203.0,776.3 L2203.5,789.9 L2204.0,803.5 L2204.5,817.1 L2205.0,830.7 L2205.5,844.3 L2206.0,857.9 L2206.5,871.5 L2206.9,883.1 L2207.0,885.1 L2207.5,898.7 L2207.8,906.8 L2208.0,912.3 L2208.5,921.7 L2209.0,931.2 L2209.5,940.7 L2210.0,948.4 L2210.5,954.1 L2211.0,959.8 L2211.2,961.6 L2211.5,961.6 L2212.0,961.6 L2212.5,961.6 L2213.0,961.6 L2213.5,961.6 L2214.0,961.6 L2214.5,961.6 L2215.0,961.6 L2215.5,961.6 L2216.0,961.6 L2216.5,961.6 L2217.0,961.6 L2217.5,961.6 L2218.0,961.6 L2218.5,961.6 L2219.0,961.6 L2219.5,961.6 L2219.7,961.6 L2220.0,955.2 L2220.5,945.5 L2221.0,935.9 L2221.5,926.3 L2222.0,916.6 L2222.5,907.0 L2223.0,897.4 L2223.5,887.7 L2224.0,878.1 L2224.5,870.3 L2225.0,872.1 L2225.5,870.7 L2226.0,871.5 L2226.5,872.7 L2227.0,875.4 L2227.5,875.7 L2228.0,876.0 L2228.5,877.5 L2229.0,870.5 L2229.5,875.5 L2230.0,877.8 L2230.5,875.4 L2231.0,877.1 L2231.5,874.4 L2232.0,875.3 L2232.5,876.5 L2233.0,874.1 L2233.5,874.6 L2234.0,875.1 L2234.5,871.4 L2235.0,875.5 L2235.5,873.6 L2236.0,870.8 L2236.5,870.2 L2237.0,860.3 L2237.5,846.1 L2238.0,831.8 L2238.5,817.6 L2239.0,803.3 L2239.5,789.1 L2240.0,774.8 L2240.5,760.6 L2241.0,746.3 L2241.4,734.1 L2241.5,736.1 L2242.0,750.6 L2242.3,759.3 L2242.5,765.1 L2243.0,779.6 L2243.5,794.2 L2244.0,808.7 L2244.5,823.2 L2245.0,837.7 L2245.5,852.2 L2246.0,866.7 L2246.5,881.1 L2246.5,881.3 L2247.0,895.8 L2247.4,906.4 L2247.5,910.3 L2248.0,920.4 L2248.5,929.9 L2249.0,939.3 L2249.5,947.6 L2250.0,953.3 L2250.5,959.0 L2250.7,961.6 L2251.0,961.6 L2251.5,961.6 L2252.0,961.6 L2252.5,961.6 L2253.0,961.6 L2253.5,961.6 L2254.0,961.6 L2254.5,961.6 L2255.0,961.6 L2255.5,961.6 L2256.0,961.6 L2256.5,961.6 L2257.0,961.6 L2257.5,961.6 L2258.0,961.6 L2258.5,961.6 L2259.0,961.6 L2259.2,961.6 L2259.5,956.7 L2260.0,947.3 L2260.5,938.0 L2261.0,928.7 L2261.5,919.3 L2262.0,910.0 L2262.5,900.6 L2263.0,891.3 L2263.5,882.0 L2264.0,877.6 L2264.5,880.3 L2265.0,873.0 L2265.5,876.5 L2266.0,878.9 L2266.5,879.6 L2267.0,878.7 L2267.5,878.1 L2268.0,879.5 L2268.5,880.3 L2269.0,872.6 L2269.5,874.0 L2270.0,879.7 L2270.5,876.8 L2271.0,874.2 L2271.5,876.6 L2272.0,880.1 L2272.5,877.9 L2273.0,877.6 L2273.5,873.3 L2274.0,875.9 L2274.5,876.9 L2275.0,875.5 L2275.5,880.3 L2276.0,875.1 L2276.5,867.2 L2277.0,855.7 L2277.5,844.1 L2278.0,832.6 L2278.5,821.0 L2279.0,809.5 L2279.5,797.9 L2280.0,786.4 L2280.5,774.8 L2281.0,763.3 L2281.5,775.4 L2281.9,784.4 L2282.0,787.6 L2282.5,799.7 L2283.0,811.8 L2283.5,824.0 L2284.0,836.1 L2284.5,848.2 L2285.0,860.4 L2285.5,872.5 L2286.0,884.6 L2286.1,886.2 L2286.5,896.8 L2286.9,907.3 L2287.0,908.9 L2287.5,919.1 L2288.0,928.5 L2288.5,938.0 L2289.0,946.8 L2289.5,952.5 L2290.0,958.2 L2290.3,961.6 L2290.5,961.6 L2291.0,961.6 L2291.5,961.6 L2292.0,961.6 L2292.5,961.6 L2293.0,961.6 L2293.5,961.6 L2294.0,961.6 L2294.5,961.6 L2295.0,961.6 L2295.5,961.6 L2296.0,961.6 L2296.5,961.6 L2297.0,961.6 L2297.5,961.6 L2298.0,961.6 L2298.5,961.6 L2298.8,961.6 L2299.0,957.6 L2299.5,947.2 L2300.0,936.8 L2300.5,926.5 L2301.0,916.1 L2301.5,905.7 L2302.0,895.3 L2302.5,884.9 L2303.0,874.6 L2303.5,864.7 L2304.0,865.8 L2304.5,868.3 L2305.0,868.9 L2305.5,871.1 L2306.0,870.5 L2306.5,870.0 L2307.0,867.5 L2307.5,864.9 L2308.0,869.5 L2308.5,867.4 L2309.0,866.1 L2309.5,866.1 L2310.0,871.0 L2310.5,863.8 L2311.0,866.5 L2311.5,868.8 L2312.0,869.3 L2312.5,865.6 L2313.0,863.7 L2313.5,868.5 L2314.0,868.0 L2314.5,866.7 L2315.0,869.8 L2315.5,867.9 L2316.0,859.5 L2316.5,848.1 L2317.0,836.7 L2317.5,825.2 L2318.0,813.8 L2318.5,802.4 L2319.0,791.0 L2319.5,779.6 L2320.0,768.2 L2320.5,756.8 L2320.6,755.2 L2321.0,766.2 L2321.4,777.5 L2321.5,779.0 L2322.0,791.8 L2322.5,804.6 L2323.0,817.4 L2323.5,830.2 L2324.0,843.0 L2324.5,855.8 L2325.0,868.5 L2325.5,881.3 L2325.6,884.8 L2326.0,894.1 L2326.5,906.9 L2326.5,907.1 L2327.0,917.8 L2327.5,927.2 L2328.0,936.7 L2328.5,946.0 L2329.0,951.7 L2329.5,957.4 L2329.9,961.6 L2330.0,961.6 L2330.5,961.6 L2331.0,961.6 L2331.5,961.6 L2332.0,961.6 L2332.5,961.6 L2333.0,961.6 L2333.5,961.6 L2334.0,961.6 L2334.5,961.6 L2335.0,961.6 L2335.5,961.6 L2336.0,961.6 L2336.5,961.6 L2337.0,961.6 L2337.5,961.6 L2338.0,961.6 L2338.4,961.6 L2338.5,959.0 L2339.0,948.2 L2339.5,937.5 L2340.0,926.8 L2340.5,916.1 L2341.0,905.3 L2341.5,894.6 L2342.0,883.9 L2342.5,873.2 L2343.0,860.6 L2343.5,863.6 L2344.0,861.4 L2344.5,865.9 L2345.0,861.0 L2345.5,861.7 L2346.0,866.2 L2346.5,863.8 L2347.0,862.5 L2347.5,863.4 L2348.0,863.2 L2348.5,866.1 L2349.0,863.6 L2349.5,865.2 L2350.0,861.6 L2350.5,865.0 L2351.0,860.1 L2351.5,863.4 L2352.0,866.2 L2352.5,864.7 L2353.0,867.0 L2353.5,862.1 L2354.0,867.7 L2354.5,863.2 L2355.0,865.6 L2355.5,857.3 L2356.0,844.6 L2356.5,832.0 L2357.0,819.3 L2357.5,806.7 L2358.0,794.0 L2358.5,781.4 L2359.0,768.7 L2359.5,756.1 L2360.0,743.4 L2360.1,739.9 L2360.5,750.0 L2361.0,764.0 L2361.0,764.4 L2361.5,778.1 L2362.0,792.1 L2362.5,806.2 L2363.0,820.2 L2363.5,834.3 L2364.0,848.3 L2364.5,862.3 L2365.0,876.4 L2365.2,882.1 L2365.5,890.4 L2366.0,904.5 L2366.1,906.6 L2366.5,916.4 L2367.0,925.9 L2367.5,935.4 L2368.0,944.8 L2368.5,950.9 L2369.0,956.6 L2369.4,961.6 L2369.5,961.6 L2370.0,961.6 L2370.5,961.6 L2371.0,961.6 L2371.5,961.6 L2372.0,961.6 L2372.5,961.6 L2373.0,961.6 L2373.5,961.6 L2374.0,961.6 L2374.5,961.6 L2375.0,961.6 L2375.5,961.6 L2376.0,961.6 L2376.5,961.6 L2377.0,961.6 L2377.5,961.6 L2377.9,961.6 L2378.0,960.6 L2378.5,951.5 L2379.0,942.3 L2379.5,933.2 L2380.0,924.1 L2380.5,914.9 L2381.0,905.8 L2381.5,896.6 L2382.0,887.5 L2382.5,876.2 L2383.0,881.4 L2383.5,876.9 L2384.0,876.7 L2384.5,880.6 L2385.0,881.4 L2385.5,879.4 L2386.0,877.2 L2386.5,880.3 L2387.0,882.4 L2387.5,878.9 L2388.0,875.9 L2388.5,881.2 L2389.0,874.8 L2389.5,878.3 L2390.0,881.2 L2390.5,881.6 L2391.0,879.5 L2391.5,878.6 L2392.0,881.0 L2392.5,881.8 L2393.0,878.4 L2393.5,880.4 L2394.0,878.9 L2394.5,878.8 L2395.0,874.2 L2395.5,863.3 L2396.0,852.5 L2396.5,841.7 L2397.0,830.9 L2397.5,820.1 L2398.0,809.3 L2398.5,798.4 L2399.0,787.6 L2399.5,776.8 L2399.7,772.3 L2400.0,778.9 L2400.5,790.3 L2400.6,792.1 L2401.0,801.7 L2401.5,813.1 L2402.0,824.5 L2402.5,835.9 L2403.0,847.3 L2403.5,858.7 L2404.0,870.1 L2404.5,881.5 L2404.8,887.8 L2405.0,892.9 L2405.5,904.3 L2405.6,907.6 L2406.0,915.1 L2406.5,924.6 L2407.0,934.0 L2407.5,943.5 L2408.0,950.1 L2408.5,955.8 L2409.0,961.5 L2409.0,961.6 L2409.5,961.6 L2410.0,961.6 L2410.5,961.6 L2411.0,961.6 L2411.5,961.6 L2412.0,961.6 L2412.5,961.6 L2413.0,961.6 L2413.5,961.6 L2414.0,961.6 L2414.5,961.6 L2415.0,961.6 L2415.5,961.6 L2416.0,961.6 L2416.5,961.6 L2417.0,961.6 L2417.5,961.6 L2417.5,961.6 L2418.0,951.6 L2418.5,941.2 L2419.0,930.8 L2419.5,920.4 L2420.0,910.1 L2420.5,899.7 L2421.0,889.3 L2421.5,878.9 L2422.0,867.0 L2422.5,866.5 L2423.0,869.4 L2423.5,869.8 L2424.0,864.3 L2424.5,870.8 L2425.0,870.2 L2425.5,870.6 L2426.0,864.5 L2426.5,866.8 L2427.0,863.7 L2427.5,866.1 L2428.0,868.5 L2428.5,867.7 L2429.0,865.3 L2429.5,869.3 L2430.0,864.7 L2430.5,867.9 L2431.0,870.9 L2431.5,868.4 L2432.0,866.7 L2432.5,870.0 L2433.0,863.9 L2433.5,863.7 L2434.0,867.1 L2434.5,860.3 L2435.0,849.4 L2435.5,835.3 L2436.0,821.1 L2436.5,806.9 L2437.0,792.8 L2437.5,778.6 L2438.0,764.5 L2438.5,750.3 L2439.0,736.1 L2439.3,728.2 L2439.5,734.8 L2440.0,749.8 L2440.2,754.3 L2440.5,764.8 L2441.0,779.8 L2441.5,794.8 L2442.0,809.8 L2442.5,824.8 L2443.0,839.8 L2443.5,854.8 L2444.0,869.7 L2444.3,880.1 L2444.5,884.7 L2445.0,899.7 L2445.2,906.2 L2445.5,913.8 L2446.0,923.2 L2446.5,932.7 L2447.0,942.2 L2447.5,949.3 L2448.0,955.0 L2448.5,960.7 L2448.6,961.6 L2449.0,961.6 L2449.5,961.6 L2450.0,961.6 L2450.5,961.6 L2451.0,961.6 L2451.5,961.6 L2452.0,961.6 L2452.5,961.6 L2453.0,961.6 L2453.5,961.6 L2454.0,961.6 L2454.5,961.6 L2455.0,961.6 L2455.5,961.6 L2456.0,961.6 L2456.5,961.6 L2457.0,961.6 L2457.1,961.6 L2457.5,954.0 L2458.0,944.8 L2458.5,935.6 L2459.0,926.4 L2459.5,917.2 L2460.0,908.0 L2460.5,898.9 L2461.0,889.7 L2461.5,878.9 L2462.0,877.6 L2462.5,880.7 L2463.0,874.3 L2463.5,874.6 L2464.0,878.3 L2464.5,878.9 L2465.0,881.4 L2465.5,877.0 L2466.0,875.1 L2466.5,878.9 L2467.0,879.7 L2467.5,877.0 L2468.0,875.6 L2468.5,880.6 L2469.0,879.7 L2469.5,876.8 L2470.0,881.7 L2470.5,875.4 L2471.0,879.4 L2471.5,875.3 L2472.0,878.3 L2472.5,880.7 L2473.0,881.8 L2473.5,881.1 L2474.0,878.3 L2474.5,862.8 L2475.0,849.1 L2475.5,835.4 L2476.0,821.8 L2476.5,808.1 L2477.0,794.5 L2477.5,780.8 L2478.0,767.2 L2478.5,753.5 L2478.8,743.9 L2479.0,748.1 L2479.5,761.8 L2479.7,767.8 L2480.0,775.5 L2480.5,789.2 L2481.0,802.9 L2481.5,816.6 L2482.0,830.3 L2482.5,844.0 L2483.0,857.7 L2483.5,871.5 L2483.9,882.8 L2484.0,885.2 L2484.5,898.9 L2484.8,906.7 L2485.0,912.4 L2485.5,921.9 L2486.0,931.4 L2486.5,940.9 L2487.0,948.5 L2487.5,954.2 L2488.0,959.9 L2488.1,961.6 L2488.5,961.6 L2489.0,961.6 L2489.5,961.6 L2490.0,961.6 L2490.5,961.6 L2491.0,961.6 L2491.5,961.6 L2492.0,961.6 L2492.5,961.6 L2493.0,961.6 L2493.5,961.6 L2494.0,961.6 L2494.5,961.6 L2495.0,961.6 L2495.5,961.6 L2496.0,961.6 L2496.5,961.6 L2496.7,961.6 L2497.0,953.4 L2497.5,941.3 L2498.0,929.3 L2498.5,917.3 L2499.0,905.3 L2499.5,893.3 L2500.0,881.3 L2500.5,869.3 L2501.0,857.3 L2501.5,850.2 L2502.0,849.9 L2502.5,851.3 L2503.0,853.9 L2503.5,851.0 L2504.0,850.4 L2504.5,853.4 L2505.0,855.7 L2505.5,852.6 L2506.0,854.6 L2506.5,854.8 L2507.0,853.2 L2507.5,855.8 L2508.0,849.1 L2508.5,854.1 L2509.0,849.1 L2509.5,850.4 L2510.0,856.3 L2510.5,849.1 L2511.0,849.8 L2511.5,852.1 L2512.0,849.2 L2512.5,852.5 L2513.0,856.2 L2513.5,855.2 L2514.0,840.6 L2514.5,828.5 L2515.0,816.5 L2515.5,804.4 L2516.0,792.4 L2516.5,780.3 L2517.0,768.3 L2517.5,756.2 L2518.0,744.2 L2518.4,734.1 L2518.5,736.4 L2519.0,750.9 L2519.3,759.3 L2519.5,765.4 L2520.0,779.9 L2520.5,794.4 L2521.0,809.0 L2521.5,823.5 L2522.0,838.0 L2522.5,852.5 L2523.0,867.0 L2523.5,881.1 L2523.5,881.5 L2524.0,896.1 L2524.4,906.4 L2524.5,910.6 L2525.0,920.6 L2525.5,930.1 L2526.0,939.5 L2526.5,947.7 L2527.0,953.4 L2527.5,959.1 L2527.7,961.6 L2528.0,961.6 L2528.5,961.6 L2529.0,961.6 L2529.5,961.6 L2530.0,961.6 L2530.5,961.6 L2531.0,961.6 L2531.5,961.6 L2532.0,961.6 L2532.5,961.6 L2533.0,961.6 L2533.5,961.6 L2534.0,961.6 L2534.5,961.6 L2535.0,961.6 L2535.5,961.6 L2536.0,961.6 L2536.2,961.6 L2536.5,955.8 L2537.0,945.3 L2537.5,934.8 L2538.0,924.3 L2538.5,913.7 L2539.0,903.2 L2539.5,892.7 L2540.0,882.2 L2540.5,871.6 L2541.0,867.3 L2541.5,862.9 L2542.0,863.1 L2542.5,868.9 L2543.0,867.0 L2543.5,869.0 L2544.0,868.0 L2544.5,867.0 L2545.0,866.5 L2545.5,868.6 L2546.0,864.5 L2546.5,867.9 L2547.0,862.7 L2547.5,866.0 L2548.0,866.4 L2548.5,863.7 L2549.0,867.1 L2549.5,867.8 L2550.0,868.9 L2550.5,867.5 L2551.0,868.0 L2551.5,863.9 L2552.0,867.0 L2552.5,864.1 L2553.0,867.6 L2553.5,854.0 L2554.0,839.8 L2554.5,825.6 L2555.0,811.4 L2555.5,797.2 L2556.0,782.9 L2556.5,768.7 L2557.0,754.5 L2557.5,740.3 L2558.0,726.4 L2558.0,726.7 L2558.5,741.9 L2558.9,752.8 L2559.0,757.0 L2559.5,772.1 L2560.0,787.3 L2560.5,802.4 L2561.0,817.6 L2561.5,832.7 L2562.0,847.8 L2562.5,863.0 L2563.0,878.1 L2563.1,879.8 L2563.5,893.3 L2563.9,906.1 L2564.0,908.4 L2564.5,919.3 L2565.0,928.7 L2565.5,938.2 L2566.0,947.0 L2566.5,952.6 L2567.0,958.3 L2567.3,961.6 L2567.5,961.6 L2568.0,961.6 L2568.5,961.6 L2569.0,961.6 L2569.5,961.6 L2570.0,961.6 L2570.5,961.6 L2571.0,961.6 L2571.5,961.6 L2572.0,961.6 L2572.5,961.6 L2573.0,961.6 L2573.5,961.6 L2574.0,961.6 L2574.5,961.6 L2575.0,961.6 L2575.5,961.6 L2575.8,961.6 L2576.0,957.6 L2576.5,947.7 L2577.0,937.8 L2577.5,927.9 L2578.0,918.0 L2578.0,963.6 L1876.5,963.6 Z" fill="#2e8500" fill-opacity="0.05"/><path d="M1876.5,870.2 L1877.0,876.8 L1877.5,877.8 L1878.0,869.9 L1878.5,876.5 L1879.0,877.0 L1879.5,872.7 L1880.0,875.2 L1880.5,868.2 L1881.0,859.2 L1881.5,847.1 L1882.0,835.0 L1882.5,822.9 L1883.0,810.8 L1883.5,798.7 L1884.0,786.6 L1884.5,774.5 L1885.0,762.4 L1885.3,755.2 L1885.5,760.3 L1886.0,773.1 L1886.2,777.5 L1886.5,785.9 L1887.0,798.7 L1887.5,811.5 L1888.0,824.3 L1888.5,837.1 L1889.0,849.9 L1889.5,862.7 L1890.0,875.5 L1890.4,884.8 L1890.5,888.2 L1891.0,901.0 L1891.2,907.1 L1891.5,913.4 L1892.0,922.9 L1892.5,932.3 L1893.0,941.8 L1893.5,949.1 L1894.0,954.8 L1894.5,960.5 L1894.6,961.6 L1895.0,961.6 L1895.5,961.6 L1896.0,961.6 L1896.5,961.6 L1897.0,961.6 L1897.5,961.6 L1898.0,961.6 L1898.5,961.6 L1899.0,961.6 L1899.5,961.6 L1900.0,961.6 L1900.5,961.6 L1901.0,961.6 L1901.5,961.6 L1902.0,961.6 L1902.5,961.6 L1903.0,961.6 L1903.1,961.6 L1903.5,954.6 L1904.0,945.8 L1904.5,936.9 L1905.0,928.1 L1905.5,919.3 L1906.0,910.4 L1906.5,901.6 L1907.0,892.7 L1907.5,886.1 L1908.0,877.4 L1908.5,882.6 L1909.0,880.3 L1909.5,877.6 L1910.0,879.6 L1910.5,877.7 L1911.0,879.4 L1911.5,884.8 L1912.0,878.0 L1912.5,880.4 L1913.0,882.6 L1913.5,883.6 L1914.0,878.3 L1914.5,880.4 L1915.0,877.6 L1915.5,878.9 L1916.0,877.4 L1916.5,880.6 L1917.0,879.5 L1917.5,880.2 L1918.0,883.1 L1918.5,877.4 L1919.0,882.6 L1919.5,878.8 L1920.0,876.4 L1920.5,865.5 L1921.0,851.0 L1921.5,836.5 L1922.0,821.9 L1922.5,807.4 L1923.0,792.9 L1923.5,778.4 L1924.0,763.8 L1924.5,749.3 L1924.9,738.5 L1925.0,742.2 L1925.5,756.4 L1925.7,763.2 L1926.0,770.5 L1926.5,784.7 L1927.0,798.8 L1927.5,813.0 L1928.0,827.1 L1928.5,841.3 L1929.0,855.4 L1929.5,869.6 L1929.9,881.9 L1930.0,883.7 L1930.5,897.9 L1930.8,906.5 L1931.0,912.0 L1931.5,921.5 L1932.0,931.0 L1932.5,940.5 L1933.0,948.3 L1933.5,954.0 L1934.0,959.7 L1934.2,961.6 L1934.5,961.6 L1935.0,961.6 L1935.5,961.6 L1936.0,961.6 L1936.5,961.6 L1937.0,961.6 L1937.5,961.6 L1938.0,961.6 L1938.5,961.6 L1939.0,961.6 L1939.5,961.6 L1940.0,961.6 L1940.5,961.6 L1941.0,961.6 L1941.5,961.6 L1942.0,961.6 L1942.5,961.6 L1942.7,961.6 L1943.0,956.0 L1943.5,947.3 L1944.0,938.6 L1944.5,929.9 L1945.0,921.2 L1945.5,912.5 L1946.0,903.8 L1946.5,895.1 L1947.0,886.4 L1947.5,881.2 L1948.0,885.3 L1948.5,879.8 L1949.0,881.1 L1949.5,885.0 L1950.0,886.1 L1950.5,882.2 L1951.0,886.2 L1951.5,879.0 L1952.0,882.4 L1952.5,882.3 L1953.0,883.2 L1953.5,881.1 L1954.0,879.1 L1954.5,884.0 L1955.0,883.5 L1955.5,881.8 L1956.0,884.1 L1956.5,881.7 L1957.0,882.1 L1957.5,883.0 L1958.0,881.1 L1958.5,882.2 L1959.0,885.8 L1959.5,878.4 L1960.0,870.5 L1960.5,857.6 L1961.0,844.8 L1961.5,832.0 L1962.0,819.2 L1962.5,806.3 L1963.0,793.5 L1963.5,780.7 L1964.0,767.8 L1964.4,756.5 L1964.5,758.1 L1965.0,770.7 L1965.3,778.6 L1965.5,783.4 L1966.0,796.1 L1966.5,808.8 L1967.0,821.5 L1967.5,834.2 L1968.0,846.8 L1968.5,859.5 L1969.0,872.2 L1969.5,884.9 L1969.5,885.0 L1970.0,897.6 L1970.4,907.1 L1970.5,910.3 L1971.0,920.2 L1971.5,929.7 L1972.0,939.2 L1972.5,947.5 L1973.0,953.2 L1973.5,958.9 L1973.7,961.6 L1974.0,961.6 L1974.5,961.6 L1975.0,961.6 L1975.5,961.6 L1976.0,961.6 L1976.5,961.6 L1977.0,961.6 L1977.5,961.6 L1978.0,961.6 L1978.5,961.6 L1979.0,961.6 L1979.5,961.6 L1980.0,961.6 L1980.5,961.6 L1981.0,961.6 L1981.5,961.6 L1982.0,961.6 L1982.2,961.6 L1982.5,956.0 L1983.0,945.1 L1983.5,934.1 L1984.0,923.1 L1984.5,912.2 L1985.0,901.2 L1985.5,890.2 L1986.0,879.3 L1986.5,868.3 L1987.0,862.9 L1987.5,862.3 L1988.0,862.6 L1988.5,858.3 L1989.0,858.1 L1989.5,861.7 L1990.0,862.6 L1990.5,865.0 L1991.0,858.6 L1991.5,864.4 L1992.0,861.4 L1992.5,863.0 L1993.0,863.2 L1993.5,862.9 L1994.0,864.3 L1994.5,865.5 L1995.0,861.5 L1995.5,859.4 L1996.0,860.6 L1996.5,864.2 L1997.0,860.2 L1997.5,865.4 L1998.0,862.5 L1998.5,859.1 L1999.0,858.4 L1999.5,852.0 L2000.0,839.7 L2000.5,827.5 L2001.0,815.2 L2001.5,802.9 L2002.0,790.6 L2002.5,778.3 L2003.0,766.1 L2003.5,753.8 L2004.0,741.5 L2004.0,741.2 L2004.5,754.9 L2004.9,765.5 L2005.0,768.8 L2005.5,782.8 L2006.0,796.7 L2006.5,810.6 L2007.0,824.6 L2007.5,838.5 L2008.0,852.4 L2008.5,866.3 L2009.0,880.3 L2009.1,882.4 L2009.5,894.2 L2009.9,906.6 L2010.0,908.1 L2010.5,918.9 L2011.0,928.4 L2011.5,937.8 L2012.0,946.7 L2012.5,952.4 L2013.0,958.1 L2013.3,961.6 L2013.5,961.6 L2014.0,961.6 L2014.5,961.6 L2015.0,961.6 L2015.5,961.6 L2016.0,961.6 L2016.5,961.6 L2017.0,961.6 L2017.5,961.6 L2018.0,961.6 L2018.5,961.6 L2019.0,961.6 L2019.5,961.6 L2020.0,961.6 L2020.5,961.6 L2021.0,961.6 L2021.5,961.6 L2021.8,961.6 L2022.0,958.0 L2022.5,948.2 L2023.0,938.3 L2023.5,928.5 L2024.0,918.7 L2024.5,908.8 L2025.0,899.0 L2025.5,889.2 L2026.0,879.3 L2026.5,872.4 L2027.0,869.3 L2027.5,872.1 L2028.0,871.9 L2028.5,871.4 L2029.0,868.1 L2029.5,870.1 L2030.0,872.3 L2030.5,870.3 L2031.0,871.0 L2031.5,873.3 L2032.0,869.8 L2032.5,869.5 L2033.0,871.2 L2033.5,868.5 L2034.0,876.0 L2034.5,872.1 L2035.0,871.0 L2035.5,873.4 L2036.0,874.8 L2036.5,870.6 L2037.0,872.6 L2037.5,874.0 L2038.0,875.8 L2038.5,868.3 L2039.0,863.2 L2039.5,849.5 L2040.0,835.9 L2040.5,822.2 L2041.0,808.6 L2041.5,794.9 L2042.0,781.3 L2042.5,767.6 L2043.0,753.9 L2043.5,740.3 L2043.6,738.1 L2044.0,750.0 L2044.5,762.8 L2044.5,764.2 L2045.0,778.4 L2045.5,792.6 L2046.0,806.8 L2046.5,821.0 L2047.0,835.1 L2047.5,849.3 L2048.0,863.5 L2048.5,877.7 L2048.6,881.8 L2049.0,891.9 L2049.5,906.1 L2049.5,906.5 L2050.0,917.6 L2050.5,927.0 L2051.0,936.5 L2051.5,945.9 L2052.0,951.6 L2052.5,957.3 L2052.9,961.6 L2053.0,961.6 L2053.5,961.6 L2054.0,961.6 L2054.5,961.6 L2055.0,961.6 L2055.5,961.6 L2056.0,961.6 L2056.5,961.6 L2057.0,961.6 L2057.5,961.6 L2058.0,961.6 L2058.5,961.6 L2059.0,961.6 L2059.5,961.6 L2060.0,961.6 L2060.5,961.6 L2061.0,961.6 L2061.4,961.6 L2061.5,959.0 L2062.0,947.4 L2062.5,935.9 L2063.0,924.3 L2063.5,912.7 L2064.0,901.2 L2064.5,889.6 L2065.0,878.0 L2065.5,866.5 L2066.0,857.6 L2066.5,859.5 L2067.0,858.7 L2067.5,858.4 L2068.0,853.4 L2068.5,859.0 L2069.0,858.2 L2069.5,859.6 L2070.0,856.6 L2070.5,858.7 L2071.0,857.6 L2071.5,854.5 L2072.0,852.9 L2072.5,853.7 L2073.0,860.1 L2073.5,857.4 L2074.0,853.5 L2074.5,860.2 L2075.0,858.8 L2075.5,856.5 L2076.0,857.3 L2076.5,854.3 L2077.0,854.6 L2077.5,856.7 L2078.0,858.4 L2078.5,849.1 L2079.0,835.1 L2079.5,821.0 L2080.0,806.9 L2080.5,792.9 L2081.0,778.8 L2081.5,764.7 L2082.0,750.7 L2082.5,736.6 L2083.0,722.5 L2083.2,718.3 L2083.5,729.4 L2084.0,745.2 L2084.0,745.8 L2084.5,761.0 L2085.0,776.8 L2085.5,792.6 L2086.0,808.4 L2086.5,824.2 L2087.0,840.0 L2087.5,855.8 L2088.0,871.6 L2088.2,878.4 L2088.5,887.4 L2089.0,903.2 L2089.1,905.9 L2089.5,916.2 L2090.0,925.7 L2090.5,935.2 L2091.0,944.6 L2091.5,950.8 L2092.0,956.5 L2092.4,961.6 L2092.5,961.6 L2093.0,961.6 L2093.5,961.6 L2094.0,961.6 L2094.5,961.6 L2095.0,961.6 L2095.5,961.6 L2096.0,961.6 L2096.5,961.6 L2097.0,961.6 L2097.5,961.6 L2098.0,961.6 L2098.5,961.6 L2099.0,961.6 L2099.5,961.6 L2100.0,961.6 L2100.5,961.6 L2101.0,961.6 L2101.0,960.6 L2101.5,948.9 L2102.0,937.3 L2102.5,925.6 L2103.0,913.9 L2103.5,902.3 L2104.0,890.6 L2104.5,879.0 L2105.0,867.3 L2105.5,857.8 L2106.0,857.4 L2106.5,859.0 L2107.0,854.1 L2107.5,858.2 L2108.0,852.3 L2108.5,854.3 L2109.0,859.1 L2109.5,855.5 L2110.0,854.6 L2110.5,859.2 L2111.0,855.6 L2111.5,859.3 L2112.0,853.3 L2112.5,859.5 L2113.0,854.4 L2113.5,851.5 L2114.0,852.7 L2114.5,857.6 L2115.0,855.2 L2115.5,858.4 L2116.0,856.7 L2116.5,852.5 L2117.0,852.9 L2117.5,859.4 L2118.0,850.3 L2118.5,836.4 L2119.0,822.5 L2119.5,808.6 L2120.0,794.7 L2120.5,780.9 L2121.0,767.0 L2121.5,753.1 L2122.0,739.2 L2122.5,725.3 L2122.7,719.2 L2123.0,728.0 L2123.5,743.7 L2123.6,746.6 L2124.0,759.5 L2124.5,775.2 L2125.0,790.9 L2125.5,806.7 L2126.0,822.4 L2126.5,838.1 L2127.0,853.8 L2127.5,869.6 L2127.8,878.5 L2128.0,885.3 L2128.5,901.0 L2128.7,905.9 L2129.0,914.9 L2129.5,924.4 L2130.0,933.9 L2130.5,943.3 L2131.0,950.0 L2131.5,955.7 L2132.0,961.4 L2132.0,961.6 L2132.5,961.6 L2133.0,961.6 L2133.5,961.6 L2134.0,961.6 L2134.5,961.6 L2135.0,961.6 L2135.5,961.6 L2136.0,961.6 L2136.5,961.6 L2137.0,961.6 L2137.5,961.6 L2138.0,961.6 L2138.5,961.6 L2139.0,961.6 L2139.5,961.6 L2140.0,961.6 L2140.5,961.6 L2140.5,961.6 L2141.0,952.9 L2141.5,943.7 L2142.0,934.5 L2142.5,925.3 L2143.0,916.1 L2143.5,906.9 L2144.0,897.8 L2144.5,888.6 L2145.0,880.3 L2145.5,876.8 L2146.0,880.6 L2146.5,875.5 L2147.0,874.8 L2147.5,877.5 L2148.0,879.1 L2148.5,875.1 L2149.0,877.9 L2149.5,880.5 L2150.0,879.8 L2150.5,880.7 L2151.0,875.2 L2151.5,877.9 L2152.0,876.4 L2152.5,875.4 L2153.0,874.1 L2153.5,880.5 L2154.0,878.7 L2154.5,874.9 L2155.0,875.8 L2155.5,878.9 L2156.0,876.7 L2156.5,880.4 L2157.0,880.7 L2157.5,878.7 L2158.0,862.7 L2158.5,850.3 L2159.0,838.0 L2159.5,825.6 L2160.0,813.2 L2160.5,800.8 L2161.0,788.5 L2161.5,776.1 L2162.0,763.7 L2162.3,756.5 L2162.5,761.9 L2163.0,774.5 L2163.2,778.6 L2163.5,787.2 L2164.0,799.9 L2164.5,812.6 L2165.0,825.3 L2165.5,838.0 L2166.0,850.7 L2166.5,863.3 L2167.0,876.0 L2167.4,885.0 L2167.5,888.7 L2168.0,901.4 L2168.2,907.1 L2168.5,913.6 L2169.0,923.1 L2169.5,932.5 L2170.0,942.0 L2170.5,949.2 L2171.0,954.9 L2171.5,960.6 L2171.6,961.6 L2172.0,961.6 L2172.5,961.6 L2173.0,961.6 L2173.5,961.6 L2174.0,961.6 L2174.5,961.6 L2175.0,961.6 L2175.5,961.6 L2176.0,961.6 L2176.5,961.6 L2177.0,961.6 L2177.5,961.6 L2178.0,961.6 L2178.5,961.6 L2179.0,961.6 L2179.5,961.6 L2180.0,961.6 L2180.1,961.6 L2180.5,953.6 L2181.0,943.7 L2181.5,933.7 L2182.0,923.8 L2182.5,913.9 L2183.0,903.9 L2183.5,894.0 L2184.0,884.1 L2184.5,875.1 L2185.0,873.3 L2185.5,871.1 L2186.0,867.4 L2186.5,874.0 L2187.0,870.7 L2187.5,868.3 L2188.0,870.4 L2188.5,871.0 L2189.0,869.0 L2189.5,875.1 L2190.0,867.6 L2190.5,869.7 L2191.0,868.7 L2191.5,868.6 L2192.0,874.5 L2192.5,874.7 L2193.0,873.8 L2193.5,871.2 L2194.0,867.7 L2194.5,867.9 L2195.0,871.9 L2195.5,870.2 L2196.0,869.3 L2196.5,872.6 L2197.0,866.2 L2197.5,857.2 L2198.0,844.4 L2198.5,831.5 L2199.0,818.7 L2199.5,805.9 L2200.0,793.0 L2200.5,780.2 L2201.0,767.4 L2201.5,754.5 L2201.9,745.3 L2202.0,749.1 L2202.5,762.7 L2202.7,769.0 L2203.0,776.3 L2203.5,789.9 L2204.0,803.5 L2204.5,817.1 L2205.0,830.7 L2205.5,844.3 L2206.0,857.9 L2206.5,871.5 L2206.9,883.1 L2207.0,885.1 L2207.5,898.7 L2207.8,906.8 L2208.0,912.3 L2208.5,921.7 L2209.0,931.2 L2209.5,940.7 L2210.0,948.4 L2210.5,954.1 L2211.0,959.8 L2211.2,961.6 L2211.5,961.6 L2212.0,961.6 L2212.5,961.6 L2213.0,961.6 L2213.5,961.6 L2214.0,961.6 L2214.5,961.6 L2215.0,961.6 L2215.5,961.6 L2216.0,961.6 L2216.5,961.6 L2217.0,961.6 L2217.5,961.6 L2218.0,961.6 L2218.5,961.6 L2219.0,961.6 L2219.5,961.6 L2219.7,961.6 L2220.0,955.2 L2220.5,945.5 L2221.0,935.9 L2221.5,926.3 L2222.0,916.6 L2222.5,907.0 L2223.0,897.4 L2223.5,887.7 L2224.0,878.1 L2224.5,870.3 L2225.0,872.1 L2225.5,870.7 L2226.0,871.5 L2226.5,872.7 L2227.0,875.4 L2227.5,875.7 L2228.0,876.0 L2228.5,877.5 L2229.0,870.5 L2229.5,875.5 L2230.0,877.8 L2230.5,875.4 L2231.0,877.1 L2231.5,874.4 L2232.0,875.3 L2232.5,876.5 L2233.0,874.1 L2233.5,874.6 L2234.0,875.1 L2234.5,871.4 L2235.0,875.5 L2235.5,873.6 L2236.0,870.8 L2236.5,870.2 L2237.0,860.3 L2237.5,846.1 L2238.0,831.8 L2238.5,817.6 L2239.0,803.3 L2239.5,789.1 L2240.0,774.8 L2240.5,760.6 L2241.0,746.3 L2241.4,734.1 L2241.5,736.1 L2242.0,750.6 L2242.3,759.3 L2242.5,765.1 L2243.0,779.6 L2243.5,794.2 L2244.0,808.7 L2244.5,823.2 L2245.0,837.7 L2245.5,852.2 L2246.0,866.7 L2246.5,881.1 L2246.5,881.3 L2247.0,895.8 L2247.4,906.4 L2247.5,910.3 L2248.0,920.4 L2248.5,929.9 L2249.0,939.3 L2249.5,947.6 L2250.0,953.3 L2250.5,959.0 L2250.7,961.6 L2251.0,961.6 L2251.5,961.6 L2252.0,961.6 L2252.5,961.6 L2253.0,961.6 L2253.5,961.6 L2254.0,961.6 L2254.5,961.6 L2255.0,961.6 L2255.5,961.6 L2256.0,961.6 L2256.5,961.6 L2257.0,961.6 L2257.5,961.6 L2258.0,961.6 L2258.5,961.6 L2259.0,961.6 L2259.2,961.6 L2259.5,956.7 L2260.0,947.3 L2260.5,938.0 L2261.0,928.7 L2261.5,919.3 L2262.0,910.0 L2262.5,900.6 L2263.0,891.3 L2263.5,882.0 L2264.0,877.6 L2264.5,880.3 L2265.0,873.0 L2265.5,876.5 L2266.0,878.9 L2266.5,879.6 L2267.0,878.7 L2267.5,878.1 L2268.0,879.5 L2268.5,880.3 L2269.0,872.6 L2269.5,874.0 L2270.0,879.7 L2270.5,876.8 L2271.0,874.2 L2271.5,876.6 L2272.0,880.1 L2272.5,877.9 L2273.0,877.6 L2273.5,873.3 L2274.0,875.9 L2274.5,876.9 L2275.0,875.5 L2275.5,880.3 L2276.0,875.1 L2276.5,867.2 L2277.0,855.7 L2277.5,844.1 L2278.0,832.6 L2278.5,821.0 L2279.0,809.5 L2279.5,797.9 L2280.0,786.4 L2280.5,774.8 L2281.0,763.3 L2281.5,775.4 L2281.9,784.4 L2282.0,787.6 L2282.5,799.7 L2283.0,811.8 L2283.5,824.0 L2284.0,836.1 L2284.5,848.2 L2285.0,860.4 L2285.5,872.5 L2286.0,884.6 L2286.1,886.2 L2286.5,896.8 L2286.9,907.3 L2287.0,908.9 L2287.5,919.1 L2288.0,928.5 L2288.5,938.0 L2289.0,946.8 L2289.5,952.5 L2290.0,958.2 L2290.3,961.6 L2290.5,961.6 L2291.0,961.6 L2291.5,961.6 L2292.0,961.6 L2292.5,961.6 L2293.0,961.6 L2293.5,961.6 L2294.0,961.6 L2294.5,961.6 L2295.0,961.6 L2295.5,961.6 L2296.0,961.6 L2296.5,961.6 L2297.0,961.6 L2297.5,961.6 L2298.0,961.6 L2298.5,961.6 L2298.8,961.6 L2299.0,957.6 L2299.5,947.2 L2300.0,936.8 L2300.5,926.5 L2301.0,916.1 L2301.5,905.7 L2302.0,895.3 L2302.5,884.9 L2303.0,874.6 L2303.5,864.7 L2304.0,865.8 L2304.5,868.3 L2305.0,868.9 L2305.5,871.1 L2306.0,870.5 L2306.5,870.0 L2307.0,867.5 L2307.5,864.9 L2308.0,869.5 L2308.5,867.4 L2309.0,866.1 L2309.5,866.1 L2310.0,871.0 L2310.5,863.8 L2311.0,866.5 L2311.5,868.8 L2312.0,869.3 L2312.5,865.6 L2313.0,863.7 L2313.5,868.5 L2314.0,868.0 L2314.5,866.7 L2315.0,869.8 L2315.5,867.9 L2316.0,859.5 L2316.5,848.1 L2317.0,836.7 L2317.5,825.2 L2318.0,813.8 L2318.5,802.4 L2319.0,791.0 L2319.5,779.6 L2320.0,768.2 L2320.5,756.8 L2320.6,755.2 L2321.0,766.2 L2321.4,777.5 L2321.5,779.0 L2322.0,791.8 L2322.5,804.6 L2323.0,817.4 L2323.5,830.2 L2324.0,843.0 L2324.5,855.8 L2325.0,868.5 L2325.5,881.3 L2325.6,884.8 L2326.0,894.1 L2326.5,906.9 L2326.5,907.1 L2327.0,917.8 L2327.5,927.2 L2328.0,936.7 L2328.5,946.0 L2329.0,951.7 L2329.5,957.4 L2329.9,961.6 L2330.0,961.6 L2330.5,961.6 L2331.0,961.6 L2331.5,961.6 L2332.0,961.6 L2332.5,961.6 L2333.0,961.6 L2333.5,961.6 L2334.0,961.6 L2334.5,961.6 L2335.0,961.6 L2335.5,961.6 L2336.0,961.6 L2336.5,961.6 L2337.0,961.6 L2337.5,961.6 L2338.0,961.6 L2338.4,961.6 L2338.5,959.0 L2339.0,948.2 L2339.5,937.5 L2340.0,926.8 L2340.5,916.1 L2341.0,905.3 L2341.5,894.6 L2342.0,883.9 L2342.5,873.2 L2343.0,860.6 L2343.5,863.6 L2344.0,861.4 L2344.5,865.9 L2345.0,861.0 L2345.5,861.7 L2346.0,866.2 L2346.5,863.8 L2347.0,862.5 L2347.5,863.4 L2348.0,863.2 L2348.5,866.1 L2349.0,863.6 L2349.5,865.2 L2350.0,861.6 L2350.5,865.0 L2351.0,860.1 L2351.5,863.4 L2352.0,866.2 L2352.5,864.7 L2353.0,867.0 L2353.5,862.1 L2354.0,867.7 L2354.5,863.2 L2355.0,865.6 L2355.5,857.3 L2356.0,844.6 L2356.5,832.0 L2357.0,819.3 L2357.5,806.7 L2358.0,794.0 L2358.5,781.4 L2359.0,768.7 L2359.5,756.1 L2360.0,743.4 L2360.1,739.9 L2360.5,750.0 L2361.0,764.0 L2361.0,764.4 L2361.5,778.1 L2362.0,792.1 L2362.5,806.2 L2363.0,820.2 L2363.5,834.3 L2364.0,848.3 L2364.5,862.3 L2365.0,876.4 L2365.2,882.1 L2365.5,890.4 L2366.0,904.5 L2366.1,906.6 L2366.5,916.4 L2367.0,925.9 L2367.5,935.4 L2368.0,944.8 L2368.5,950.9 L2369.0,956.6 L2369.4,961.6 L2369.5,961.6 L2370.0,961.6 L2370.5,961.6 L2371.0,961.6 L2371.5,961.6 L2372.0,961.6 L2372.5,961.6 L2373.0,961.6 L2373.5,961.6 L2374.0,961.6 L2374.5,961.6 L2375.0,961.6 L2375.5,961.6 L2376.0,961.6 L2376.5,961.6 L2377.0,961.6 L2377.5,961.6 L2377.9,961.6 L2378.0,960.6 L2378.5,951.5 L2379.0,942.3 L2379.5,933.2 L2380.0,924.1 L2380.5,914.9 L2381.0,905.8 L2381.5,896.6 L2382.0,887.5 L2382.5,876.2 L2383.0,881.4 L2383.5,876.9 L2384.0,876.7 L2384.5,880.6 L2385.0,881.4 L2385.5,879.4 L2386.0,877.2 L2386.5,880.3 L2387.0,882.4 L2387.5,878.9 L2388.0,875.9 L2388.5,881.2 L2389.0,874.8 L2389.5,878.3 L2390.0,881.2 L2390.5,881.6 L2391.0,879.5 L2391.5,878.6 L2392.0,881.0 L2392.5,881.8 L2393.0,878.4 L2393.5,880.4 L2394.0,878.9 L2394.5,878.8 L2395.0,874.2 L2395.5,863.3 L2396.0,852.5 L2396.5,841.7 L2397.0,830.9 L2397.5,820.1 L2398.0,809.3 L2398.5,798.4 L2399.0,787.6 L2399.5,776.8 L2399.7,772.3 L2400.0,778.9 L2400.5,790.3 L2400.6,792.1 L2401.0,801.7 L2401.5,813.1 L2402.0,824.5 L2402.5,835.9 L2403.0,847.3 L2403.5,858.7 L2404.0,870.1 L2404.5,881.5 L2404.8,887.8 L2405.0,892.9 L2405.5,904.3 L2405.6,907.6 L2406.0,915.1 L2406.5,924.6 L2407.0,934.0 L2407.5,943.5 L2408.0,950.1 L2408.5,955.8 L2409.0,961.5 L2409.0,961.6 L2409.5,961.6 L2410.0,961.6 L2410.5,961.6 L2411.0,961.6 L2411.5,961.6 L2412.0,961.6 L2412.5,961.6 L2413.0,961.6 L2413.5,961.6 L2414.0,961.6 L2414.5,961.6 L2415.0,961.6 L2415.5,961.6 L2416.0,961.6 L2416.5,961.6 L2417.0,961.6 L2417.5,961.6 L2417.5,961.6 L2418.0,951.6 L2418.5,941.2 L2419.0,930.8 L2419.5,920.4 L2420.0,910.1 L2420.5,899.7 L2421.0,889.3 L2421.5,878.9 L2422.0,867.0 L2422.5,866.5 L2423.0,869.4 L2423.5,869.8 L2424.0,864.3 L2424.5,870.8 L2425.0,870.2 L2425.5,870.6 L2426.0,864.5 L2426.5,866.8 L2427.0,863.7 L2427.5,866.1 L2428.0,868.5 L2428.5,867.7 L2429.0,865.3 L2429.5,869.3 L2430.0,864.7 L2430.5,867.9 L2431.0,870.9 L2431.5,868.4 L2432.0,866.7 L2432.5,870.0 L2433.0,863.9 L2433.5,863.7 L2434.0,867.1 L2434.5,860.3 L2435.0,849.4 L2435.5,835.3 L2436.0,821.1 L2436.5,806.9 L2437.0,792.8 L2437.5,778.6 L2438.0,764.5 L2438.5,750.3 L2439.0,736.1 L2439.3,728.2 L2439.5,734.8 L2440.0,749.8 L2440.2,754.3 L2440.5,764.8 L2441.0,779.8 L2441.5,794.8 L2442.0,809.8 L2442.5,824.8 L2443.0,839.8 L2443.5,854.8 L2444.0,869.7 L2444.3,880.1 L2444.5,884.7 L2445.0,899.7 L2445.2,906.2 L2445.5,913.8 L2446.0,923.2 L2446.5,932.7 L2447.0,942.2 L2447.5,949.3 L2448.0,955.0 L2448.5,960.7 L2448.6,961.6 L2449.0,961.6 L2449.5,961.6 L2450.0,961.6 L2450.5,961.6 L2451.0,961.6 L2451.5,961.6 L2452.0,961.6 L2452.5,961.6 L2453.0,961.6 L2453.5,961.6 L2454.0,961.6 L2454.5,961.6 L2455.0,961.6 L2455.5,961.6 L2456.0,961.6 L2456.5,961.6 L2457.0,961.6 L2457.1,961.6 L2457.5,954.0 L2458.0,944.8 L2458.5,935.6 L2459.0,926.4 L2459.5,917.2 L2460.0,908.0 L2460.5,898.9 L2461.0,889.7 L2461.5,878.9 L2462.0,877.6 L2462.5,880.7 L2463.0,874.3 L2463.5,874.6 L2464.0,878.3 L2464.5,878.9 L2465.0,881.4 L2465.5,877.0 L2466.0,875.1 L2466.5,878.9 L2467.0,879.7 L2467.5,877.0 L2468.0,875.6 L2468.5,880.6 L2469.0,879.7 L2469.5,876.8 L2470.0,881.7 L2470.5,875.4 L2471.0,879.4 L2471.5,875.3 L2472.0,878.3 L2472.5,880.7 L2473.0,881.8 L2473.5,881.1 L2474.0,878.3 L2474.5,862.8 L2475.0,849.1 L2475.5,835.4 L2476.0,821.8 L2476.5,808.1 L2477.0,794.5 L2477.5,780.8 L2478.0,767.2 L2478.5,753.5 L2478.8,743.9 L2479.0,748.1 L2479.5,761.8 L2479.7,767.8 L2480.0,775.5 L2480.5,789.2 L2481.0,802.9 L2481.5,816.6 L2482.0,830.3 L2482.5,844.0 L2483.0,857.7 L2483.5,871.5 L2483.9,882.8 L2484.0,885.2 L2484.5,898.9 L2484.8,906.7 L2485.0,912.4 L2485.5,921.9 L2486.0,931.4 L2486.5,940.9 L2487.0,948.5 L2487.5,954.2 L2488.0,959.9 L2488.1,961.6 L2488.5,961.6 L2489.0,961.6 L2489.5,961.6 L2490.0,961.6 L2490.5,961.6 L2491.0,961.6 L2491.5,961.6 L2492.0,961.6 L2492.5,961.6 L2493.0,961.6 L2493.5,961.6 L2494.0,961.6 L2494.5,961.6 L2495.0,961.6 L2495.5,961.6 L2496.0,961.6 L2496.5,961.6 L2496.7,961.6 L2497.0,953.4 L2497.5,941.3 L2498.0,929.3 L2498.5,917.3 L2499.0,905.3 L2499.5,893.3 L2500.0,881.3 L2500.5,869.3 L2501.0,857.3 L2501.5,850.2 L2502.0,849.9 L2502.5,851.3 L2503.0,853.9 L2503.5,851.0 L2504.0,850.4 L2504.5,853.4 L2505.0,855.7 L2505.5,852.6 L2506.0,854.6 L2506.5,854.8 L2507.0,853.2 L2507.5,855.8 L2508.0,849.1 L2508.5,854.1 L2509.0,849.1 L2509.5,850.4 L2510.0,856.3 L2510.5,849.1 L2511.0,849.8 L2511.5,852.1 L2512.0,849.2 L2512.5,852.5 L2513.0,856.2 L2513.5,855.2 L2514.0,840.6 L2514.5,828.5 L2515.0,816.5 L2515.5,804.4 L2516.0,792.4 L2516.5,780.3 L2517.0,768.3 L2517.5,756.2 L2518.0,744.2 L2518.4,734.1 L2518.5,736.4 L2519.0,750.9 L2519.3,759.3 L2519.5,765.4 L2520.0,779.9 L2520.5,794.4 L2521.0,809.0 L2521.5,823.5 L2522.0,838.0 L2522.5,852.5 L2523.0,867.0 L2523.5,881.1 L2523.5,881.5 L2524.0,896.1 L2524.4,906.4 L2524.5,910.6 L2525.0,920.6 L2525.5,930.1 L2526.0,939.5 L2526.5,947.7 L2527.0,953.4 L2527.5,959.1 L2527.7,961.6 L2528.0,961.6 L2528.5,961.6 L2529.0,961.6 L2529.5,961.6 L2530.0,961.6 L2530.5,961.6 L2531.0,961.6 L2531.5,961.6 L2532.0,961.6 L2532.5,961.6 L2533.0,961.6 L2533.5,961.6 L2534.0,961.6 L2534.5,961.6 L2535.0,961.6 L2535.5,961.6 L2536.0,961.6 L2536.2,961.6 L2536.5,955.8 L2537.0,945.3 L2537.5,934.8 L2538.0,924.3 L2538.5,913.7 L2539.0,903.2 L2539.5,892.7 L2540.0,882.2 L2540.5,871.6 L2541.0,867.3 L2541.5,862.9 L2542.0,863.1 L2542.5,868.9 L2543.0,867.0 L2543.5,869.0 L2544.0,868.0 L2544.5,867.0 L2545.0,866.5 L2545.5,868.6 L2546.0,864.5 L2546.5,867.9 L2547.0,862.7 L2547.5,866.0 L2548.0,866.4 L2548.5,863.7 L2549.0,867.1 L2549.5,867.8 L2550.0,868.9 L2550.5,867.5 L2551.0,868.0 L2551.5,863.9 L2552.0,867.0 L2552.5,864.1 L2553.0,867.6 L2553.5,854.0 L2554.0,839.8 L2554.5,825.6 L2555.0,811.4 L2555.5,797.2 L2556.0,782.9 L2556.5,768.7 L2557.0,754.5 L2557.5,740.3 L2558.0,726.4 L2558.0,726.7 L2558.5,741.9 L2558.9,752.8 L2559.0,757.0 L2559.5,772.1 L2560.0,787.3 L2560.5,802.4 L2561.0,817.6 L2561.5,832.7 L2562.0,847.8 L2562.5,863.0 L2563.0,878.1 L2563.1,879.8 L2563.5,893.3 L2563.9,906.1 L2564.0,908.4 L2564.5,919.3 L2565.0,928.7 L2565.5,938.2 L2566.0,947.0 L2566.5,952.6 L2567.0,958.3 L2567.3,961.6 L2567.5,961.6 L2568.0,961.6 L2568.5,961.6 L2569.0,961.6 L2569.5,961.6 L2570.0,961.6 L2570.5,961.6 L2571.0,961.6 L2571.5,961.6 L2572.0,961.6 L2572.5,961.6 L2573.0,961.6 L2573.5,961.6 L2574.0,961.6 L2574.5,961.6 L2575.0,961.6 L2575.5,961.6 L2575.8,961.6 L2576.0,957.6 L2576.5,947.7 L2577.0,937.8 L2577.5,927.9 L2578.0,918.0" stroke="#2e8500" stroke-width="2.5" stroke-linejoin="round"/><path d="M1876.5,394.1 V637.5 M1864,394.1 H1876.5 M1864,437.2 H1876.5 M1864,487.3 H1876.5 M1864,537.3 H1876.5 M1864,587.4 H1876.5 M1864,637.5 H1876.5" stroke="#4b0082" stroke-width="2"/><path d="M1876.5,718.3 V961.6 M1864,718.3 H1876.5 M1864,736.7 H1876.5 M1864,781.7 H1876.5 M1864,826.7 H1876.5 M1864,871.7 H1876.5 M1864,916.6 H1876.5 M1864,961.6 H1876.5" stroke="#2e8500" stroke-width="2"/><path d="M1876.5,978.4 V969.4 H2578.4 V978.4 M1919.7,969.4 V978.4 M2007.4,969.4 V978.4 M2095.1,969.4 V978.4 M2182.8,969.4 V978.4 M2270.5,969.4 V978.4 M2358.2,969.4 V978.4 M2445.9,969.4 V978.4 M2533.6,969.4 V978.4" stroke="#111" stroke-width="2"/></svg><span class="t" style="left:22.6px;top:179px;font-size:20.3px;color:#111;transform:scaleX(0.9951);">48.6</span><span class="t" style="left:40.1px;top:223px;font-size:20.3px;color:#111;transform:scaleX(0.9650);">40</span><span class="t" style="left:40.1px;top:273px;font-size:20.3px;color:#111;transform:scaleX(0.9650);">30</span><span class="t" style="left:39.09px;top:323px;font-size:20.3px;color:#111;transform:scaleX(1.0104);">20</span><span class="t" style="left:39.09px;top:373px;font-size:20.3px;color:#111;transform:scaleX(1.0104);">10</span><span class="t" style="left:51.1px;top:423px;font-size:20.3px;color:#111;transform:scaleX(0.9545);">0</span><span class="t" style="left:24.1px;top:504px;font-size:20.3px;color:#111;transform:scaleX(0.9568);">54.1</span><span class="t" style="left:40.1px;top:522px;font-size:20.3px;color:#111;transform:scaleX(0.9650);">50</span><span class="t" style="left:40.1px;top:567px;font-size:20.3px;color:#111;transform:scaleX(0.9650);">40</span><span class="t" style="left:40.1px;top:612px;font-size:20.3px;color:#111;transform:scaleX(0.9650);">30</span><span class="t" style="left:39.09px;top:657px;font-size:20.3px;color:#111;transform:scaleX(1.0104);">20</span><span class="t" style="left:39.09px;top:702px;font-size:20.3px;color:#111;transform:scaleX(1.0104);">10</span><span class="t" style="left:51.1px;top:747px;font-size:20.3px;color:#111;transform:scaleX(0.9545);">0</span><span class="t" style="left:94.6px;top:777px;font-size:20px;color:#111;transform:scaleX(1.0185);">06 PM</span><span class="t" style="left:182.3px;top:777px;font-size:20px;color:#111;transform:scaleX(1.0185);">09 PM</span><span class="t" style="left:271.39px;top:777px;font-size:20px;color:#111;transform:scaleX(0.9630);">Fri, 31</span><span class="t" style="left:356.55px;top:777px;font-size:20px;color:#111;transform:scaleX(1.0588);">03 AM</span><span class="t" style="left:444.25px;top:777px;font-size:20px;color:#111;transform:scaleX(1.0588);">06 AM</span><span class="t" style="left:531.95px;top:777px;font-size:20px;color:#111;transform:scaleX(1.0588);">09 AM</span><span class="t" style="left:620.64px;top:777px;font-size:20px;color:#111;transform:scaleX(1.0064);">12 PM</span><span class="t" style="left:708.5px;top:777px;font-size:20px;color:#111;transform:scaleX(1.0185);">03 PM</span></section><section class="card" style="left:48.6px;top:968px;width:1228px;height:610px;overflow:hidden;"><div class="a" style="left:2px;top:149px;width:1224px;height:62px;background:#fff;"></div>
<div class="a" style="left:2px;top:211px;width:1224px;height:372px;background:#fafafa;"></div><svg class="a" style="left:0;top:0" width="1228" height="610" viewBox="150 1028 1228 610" fill="none"><path d="M150,1177 H1378 M150,1239 H1378 M150,1301 H1378 M150,1363 H1378 M150,1549 H1378 M150,1611 H1378 M551,1425 H1378 M551,1487 H1378 M551,1177 V1638 M595.4,1177 V1638 M682.4,1177 V1638 M769.4,1177 V1638 M856.4,1177 V1638 M943.4,1177 V1638 M1030.4,1177 V1638 M1117.4,1177 V1638 M1204.4,1177 V1638 " stroke="#dcdcdc" stroke-width="2"/><rect x="552.2" y="1254.4" width="695.8" height="33" fill="#4a74e0"/><rect x="552.2" y="1316.4" width="695.8" height="33" fill="#4a74e0"/><rect x="552.2" y="1378.4" width="695.8" height="33" fill="#fd9f3f"/><rect x="552.2" y="1440.4" width="695.8" height="33" fill="#fd9f3f"/><rect x="552.2" y="1564.4" width="695.8" height="33" fill="#4a74e0"/><rect x="552.1" y="1502.4" width="13.6" height="33" rx="0" fill="#fd9f3f"/><rect x="583.6" y="1502.4" width="3.9" height="33" rx="0" fill="#fd9f3f"/><rect x="590.4" y="1502.4" width="15.7" height="33" rx="0" fill="#fd9f3f"/><rect x="635.7" y="1502.4" width="8.2" height="33" rx="0" fill="#fd9f3f"/><rect x="662.1" y="1502.4" width="23.6" height="33" rx="8.5" fill="#fd9f3f"/><rect x="700" y="1502.4" width="23.9" height="33" rx="8.5" fill="#fd9f3f"/><rect x="740" y="1502.4" width="25.7" height="33" rx="8.5" fill="#fd9f3f"/><rect x="778.2" y="1502.4" width="25.7" height="33" rx="8.5" fill="#fd9f3f"/><rect x="818.2" y="1502.4" width="11.4" height="33" rx="0" fill="#fd9f3f"/><rect x="832.1" y="1502.4" width="7.9" height="33" rx="0" fill="#fd9f3f"/><rect x="856.4" y="1502.4" width="23.6" height="33" rx="8.5" fill="#fd9f3f"/><rect x="896.1" y="1502.4" width="23.5" height="33" rx="8.5" fill="#fd9f3f"/><rect x="936.4" y="1502.4" width="21.5" height="33" rx="8.5" fill="#fd9f3f"/><rect x="973.9" y="1502.4" width="22.2" height="33" rx="8.5" fill="#fd9f3f"/><rect x="1013.9" y="1502.4" width="22.2" height="33" rx="8.5" fill="#fd9f3f"/><rect x="1056.1" y="1502.4" width="19.6" height="33" rx="0" fill="#fd9f3f"/><rect x="1092.1" y="1502.4" width="25.4" height="33" rx="8.5" fill="#fd9f3f"/><rect x="1132.1" y="1502.4" width="23.6" height="33" rx="8.5" fill="#fd9f3f"/><rect x="1170.4" y="1502.4" width="25.3" height="33" rx="8.5" fill="#fd9f3f"/><rect x="1210.4" y="1502.4" width="23.5" height="33" rx="8.5" fill="#fd9f3f"/><path d="M551.5,1156 V1163.5 H1248.2 V1156 M595.4,1156 V1163.5 M682.4,1156 V1163.5 M769.4,1156 V1163.5 M856.4,1156 V1163.5 M943.4,1156 V1163.5 M1030.4,1156 V1163.5 M1117.4,1156 V1163.5 M1204.4,1156 V1163.5 " stroke="#111" stroke-width="2"/><rect x="1368" y="1178" width="8" height="185.5" fill="#c1c1c1"/><path d="M187,1327.2 V1342 L196.4,1334.6 Z" fill="#878787"/><path d="M184.6,1391.9 H199.1 L191.85,1401 Z" fill="#878787"/><path d="M232.9,1380.3 L250,1409 H215.9 Z" fill="#959595" stroke="#959595" stroke-width="1" stroke-linejoin="round"/><path d="M231.2,1388 h3.6 l-0.5,13.6 h-2.6 z M231.3,1403.2 h3.4 v3.2 h-3.4 z" fill="#fafafa"/><g transform="translate(216,1567.5)" fill="none" stroke="#8a8a8a"><path d="M7.2,6 L10,27 C13,30.5 23.5,30.5 26.5,27 L29.6,6 Z" fill="#929292" stroke="none"/><ellipse cx="18.4" cy="6" rx="11.2" ry="4.2" fill="#fafafa" stroke-width="2"/><path d="M8,13 C2,13.5 -0.5,18.5 3.5,20.5 C8,22.5 15,21 19.5,14.5" stroke-width="2.4" stroke-linecap="round"/><path d="M10.5,22.8 C15.5,22 19.2,18.5 20.2,14.2" stroke="#fafafa" stroke-width="2"/></g><rect x="218.6" y="1633.6" width="1.6" height="1.8" fill="#222"/><rect x="367.2" y="1633.6" width="1.6" height="1.8" fill="#222"/></svg><svg class="a" style="left:66px;top:235px" width="42" height="16" viewBox="0 0 42 16" fill="none" stroke="#878787"><path d="M8.5,8 H29.5" stroke-width="2.8"/><circle cx="4.6" cy="8" r="3.6" stroke-width="1.8" fill="#fafafa"/><circle cx="29.4" cy="8" r="3.6" stroke-width="1.8" fill="#fafafa"/></svg><svg class="a" style="left:66px;top:297.3px" width="42" height="16" viewBox="0 0 42 16" fill="none" stroke="#878787"><path d="M8.5,8 H29.5" stroke-width="2.8"/><circle cx="4.6" cy="8" r="3.6" stroke-width="1.8" fill="#fafafa"/><circle cx="29.4" cy="8" r="3.6" stroke-width="1.8" fill="#fafafa"/></svg><span class="t" style="left:17.8px;top:22px;font-size:24px;color:#2a3b4c;font-weight:700;transform:scaleX(0.9023);">Events</span><span class="t" style="left:17.8px;top:55px;font-size:21.5px;color:#8e8e8e;transform:scaleX(0.9011);">Event open: Last 1 day</span><span class="t" style="left:41.89px;top:109px;font-size:27.6px;color:#111;transform:scaleX(1.0071);">Component</span><span class="t" style="left:414.08px;top:104px;font-size:21px;color:#111;transform:scaleX(1.0580);">06 PM</span><span class="t" style="left:501.08px;top:104px;font-size:21px;color:#111;transform:scaleX(1.0580);">09 PM</span><span class="t" style="left:587.75px;top:104px;font-size:21px;color:#111;transform:scaleX(1.0580);">Fri, 31</span><span class="t" style="left:675.08px;top:104px;font-size:21px;color:#111;transform:scaleX(1.0580);">03 AM</span><span class="t" style="left:762.08px;top:104px;font-size:21px;color:#111;transform:scaleX(1.0580);">06 AM</span><span class="t" style="left:849.08px;top:104px;font-size:21px;color:#111;transform:scaleX(1.0580);">09 AM</span><span class="t" style="left:935.55px;top:104px;font-size:21px;color:#111;transform:scaleX(1.0580);">12 PM</span><span class="t" style="left:1023.08px;top:104px;font-size:21px;color:#111;transform:scaleX(1.0580);">03 PM</span><span class="t" style="left:65.82px;top:170px;font-size:24px;color:#111;transform:scaleX(0.9766);">Chocolate ice</span><span class="t" style="left:115.46px;top:233px;font-size:23.6px;color:#878787;transform:scaleX(0.9409);">(-(-_(-_-)_-)-)</span><span class="t" style="left:116.6px;top:295px;font-size:23.6px;color:#878787;transform:scaleX(1.0230);">Active</span><span class="t" style="left:116.6px;top:357px;font-size:23.6px;color:#878787;transform:scaleX(0.9935);">Anomaly</span><span class="t" style="left:115.89px;top:543px;font-size:23.6px;color:#878787;transform:scaleX(1.0087);">KVA_type_2</span><button class="btn" style="left:1162.4px;top:24.3px;width:47.2px;height:47.2px;border-radius:8px;"><svg class="a" style="left:11px;top:12px" width="24" height="24" viewBox="1323.4 1064.3 24 24" fill="none" stroke="#333" stroke-width="2" stroke-linecap="round" stroke-linejoin="round"><path d="M1333,1068.8 H1328.6 Q1326.6,1068.8 1326.6,1070.8 V1082 Q1326.6,1084 1328.6,1084 H1340 Q1342,1084 1342,1082 V1077.6"/><path d="M1337.6,1067 H1343.8 V1073.2 M1343.4,1067.4 L1334,1076.8"/></svg></button></section><svg class="a" style="left:1182.6px;top:978px" width="100" height="74" viewBox="1284 1038 100 74" fill="none" stroke="#6610f2" stroke-width="4"><path d="M1288,1044 H1300 M1307,1044 H1330.5 M1337.6,1044 H1361 M1368.4,1044 H1380 M1288,1105.7 H1300 M1307,1105.7 H1330.5 M1337.6,1105.7 H1361 M1368.4,1105.7 H1380 M1290,1044 V1053.6 M1290,1063 V1087.2 M1290,1096 V1105.7 M1378,1044 V1053.6 M1378,1063 V1087.2 M1378,1096 V1105.7"/></svg><section class="card" style="left:1284.6px;top:968px;width:1228px;height:610px;"><span class="t" style="left:18.3px;top:22px;font-size:24px;color:#2a3b4c;font-weight:700;transform:scaleX(0.9187);">Silo 12.c-res</span><span class="t" style="left:17.71px;top:55px;font-size:21.5px;color:#8e8e8e;transform:scaleX(0.8938);">Last 1 day</span><svg class="a" style="left:0;top:0" width="1228" height="610" viewBox="1386 1028 1228 610" fill="none"><path d="M1518.3,1184.1 L1519.0,1183.1 L1519.8,1181.9 L1520.5,1180.8 L1521.3,1180.4 L1522.0,1179.6 L1522.8,1178.6 L1523.5,1177.2 L1524.3,1176.9 L1525.0,1175.4 L1525.8,1174.6 L1526.5,1174.3 L1527.3,1173.0 L1528.0,1172.2 L1528.8,1172.1 L1529.5,1171.5 L1530.3,1172.2 L1531.0,1172.3 L1531.8,1171.5 L1532.5,1172.1 L1533.3,1172.3 L1534.0,1172.3 L1534.8,1172.6 L1535.5,1173.1 L1536.3,1174.8 L1537.0,1175.9 L1537.8,1176.6 L1538.5,1178.4 L1539.3,1179.8 L1540.0,1181.8 L1540.8,1184.8 L1541.5,1187.6 L1542.3,1189.6 L1543.0,1192.0 L1543.8,1195.6 L1544.5,1197.5 L1545.3,1200.0 L1546.0,1202.0 L1546.8,1203.9 L1547.5,1204.9 L1548.3,1206.7 L1549.0,1209.2 L1549.8,1210.8 L1550.5,1212.7 L1551.0,1213.8 L1551.3,1213.8 L1552.0,1213.8 L1552.3,1213.8 L1552.8,1213.8 L1553.5,1213.8 L1554.3,1213.8 L1555.0,1213.8 L1555.8,1213.8 L1556.5,1213.8 L1557.3,1213.8 L1558.0,1213.8 L1558.6,1213.8 L1558.8,1213.2 L1559.5,1211.5 L1560.0,1210.5 L1560.3,1209.3 L1561.0,1207.2 L1561.8,1205.0 L1562.5,1202.6 L1563.3,1200.3 L1564.0,1198.0 L1564.8,1195.9 L1565.0,1195.2 L1565.5,1194.0 L1566.3,1193.2 L1567.0,1192.1 L1567.8,1190.5 L1568.5,1190.3 L1569.3,1190.5 L1570.0,1191.4 L1570.8,1191.6 L1571.5,1190.7 L1572.3,1190.1 L1573.0,1189.1 L1573.8,1188.8 L1574.5,1187.5 L1575.3,1186.1 L1576.0,1185.4 L1576.8,1184.2 L1577.5,1184.0 L1577.9,1183.4 L1578.3,1182.5 L1579.0,1181.9 L1579.8,1180.7 L1580.5,1180.0 L1581.3,1179.5 L1582.0,1178.6 L1582.8,1176.8 L1583.5,1176.7 L1584.3,1175.7 L1585.0,1174.6 L1585.8,1173.3 L1586.5,1172.3 L1587.3,1171.7 L1588.0,1171.1 L1588.8,1170.7 L1589.5,1171.1 L1590.3,1170.9 L1591.0,1170.7 L1591.8,1170.8 L1592.5,1171.5 L1593.3,1171.5 L1594.0,1171.5 L1594.8,1171.7 L1595.5,1172.7 L1596.3,1173.5 L1597.0,1174.7 L1597.8,1176.5 L1598.5,1177.9 L1599.3,1179.5 L1600.0,1182.3 L1600.8,1185.4 L1601.5,1187.8 L1602.3,1190.6 L1603.0,1193.4 L1603.8,1196.3 L1604.5,1199.0 L1605.3,1200.9 L1606.0,1203.2 L1606.8,1204.1 L1607.5,1206.1 L1608.3,1208.0 L1609.0,1209.6 L1609.8,1211.5 L1610.5,1213.4 L1610.7,1213.8 L1611.3,1213.8 L1612.0,1213.8 L1612.0,1213.8 L1612.8,1213.8 L1613.5,1213.8 L1614.3,1213.8 L1615.0,1213.8 L1615.8,1213.8 L1616.5,1213.8 L1617.3,1213.8 L1618.0,1213.8 L1618.4,1213.8 L1618.8,1212.2 L1619.5,1210.6 L1619.7,1210.4 L1620.3,1208.3 L1621.0,1206.0 L1621.8,1204.0 L1622.5,1201.6 L1623.3,1199.9 L1624.0,1197.7 L1624.7,1195.5 L1624.8,1195.6 L1625.5,1193.5 L1626.3,1192.5 L1627.0,1191.7 L1627.8,1190.5 L1628.5,1190.2 L1629.3,1190.5 L1630.0,1190.6 L1630.8,1191.2 L1631.5,1190.7 L1632.3,1190.3 L1633.0,1188.7 L1633.8,1188.6 L1634.5,1187.4 L1635.3,1186.8 L1636.0,1185.7 L1636.8,1184.8 L1637.5,1183.9 L1637.6,1183.5 L1638.3,1182.9 L1639.0,1182.3 L1639.8,1180.9 L1640.5,1180.0 L1641.3,1179.1 L1642.0,1179.0 L1642.8,1177.5 L1643.5,1176.3 L1644.3,1176.1 L1645.0,1175.3 L1645.8,1173.8 L1646.5,1173.3 L1647.3,1172.4 L1648.0,1171.8 L1648.8,1172.1 L1649.5,1172.2 L1650.3,1172.1 L1651.0,1172.0 L1651.8,1171.8 L1652.5,1172.2 L1653.3,1171.8 L1654.0,1172.7 L1654.8,1173.5 L1655.5,1174.2 L1656.3,1175.4 L1657.0,1176.4 L1657.8,1177.6 L1658.5,1180.1 L1659.3,1182.0 L1660.0,1184.6 L1660.8,1186.7 L1661.5,1189.5 L1662.3,1191.9 L1663.0,1195.0 L1663.8,1197.6 L1664.5,1199.9 L1665.3,1201.5 L1666.0,1203.5 L1666.8,1204.4 L1667.5,1206.5 L1668.3,1208.5 L1669.0,1210.3 L1669.8,1212.2 L1670.4,1213.8 L1670.5,1213.8 L1671.3,1213.8 L1671.7,1213.8 L1672.0,1213.8 L1672.8,1213.8 L1673.5,1213.8 L1674.3,1213.8 L1675.0,1213.8 L1675.8,1213.8 L1676.5,1213.8 L1677.3,1213.8 L1678.0,1213.8 L1678.1,1213.8 L1678.8,1211.4 L1679.4,1210.3 L1679.5,1209.5 L1680.3,1207.1 L1681.0,1205.3 L1681.8,1203.4 L1682.5,1201.5 L1683.3,1198.9 L1684.0,1197.2 L1684.5,1195.8 L1684.8,1194.7 L1685.5,1192.8 L1686.3,1191.9 L1687.0,1190.9 L1687.8,1189.9 L1688.5,1190.8 L1689.3,1191.0 L1690.0,1191.0 L1690.8,1191.3 L1691.5,1190.8 L1692.3,1189.7 L1693.0,1188.5 L1693.8,1188.2 L1694.5,1186.9 L1695.3,1186.7 L1696.0,1184.9 L1696.8,1184.3 L1697.3,1184.1 L1697.5,1183.2 L1698.3,1182.5 L1699.0,1182.4 L1699.8,1181.3 L1700.5,1180.2 L1701.3,1178.9 L1702.0,1178.8 L1702.8,1178.1 L1703.5,1177.0 L1704.3,1176.4 L1705.0,1175.2 L1705.8,1174.2 L1706.5,1173.4 L1707.3,1173.0 L1708.0,1173.0 L1708.8,1172.1 L1709.5,1172.4 L1710.3,1172.3 L1711.0,1172.4 L1711.8,1172.3 L1712.5,1172.2 L1713.3,1172.3 L1714.0,1172.9 L1714.8,1174.3 L1715.5,1175.5 L1716.3,1176.7 L1717.0,1177.0 L1717.8,1179.6 L1718.5,1181.0 L1719.3,1182.6 L1720.0,1185.7 L1720.8,1188.2 L1721.5,1190.7 L1722.3,1192.7 L1723.0,1195.5 L1723.8,1197.9 L1724.5,1201.2 L1725.3,1202.2 L1726.0,1203.9 L1726.8,1205.5 L1727.5,1207.0 L1728.3,1208.9 L1729.0,1211.1 L1729.8,1213.0 L1730.1,1213.8 L1730.5,1213.8 L1731.3,1213.8 L1731.4,1213.8 L1732.0,1213.8 L1732.8,1213.8 L1733.5,1213.8 L1734.3,1213.8 L1735.0,1213.8 L1735.8,1213.8 L1736.5,1213.8 L1737.3,1213.8 L1737.8,1213.8 L1738.0,1212.6 L1738.8,1210.7 L1739.1,1209.7 L1739.5,1208.8 L1740.3,1206.6 L1741.0,1204.2 L1741.8,1202.4 L1742.5,1200.6 L1743.3,1198.1 L1744.0,1195.7 L1744.2,1195.3 L1744.8,1194.3 L1745.5,1192.9 L1746.3,1191.9 L1747.0,1190.6 L1747.8,1190.0 L1748.5,1190.8 L1749.3,1191.2 L1750.0,1191.5 L1750.8,1191.1 L1751.5,1190.0 L1752.3,1189.4 L1753.0,1188.7 L1753.8,1187.8 L1754.5,1186.9 L1755.3,1185.3 L1756.0,1185.2 L1756.8,1183.7 L1757.0,1184.1 L1757.5,1182.8 L1758.3,1182.4 L1759.0,1181.1 L1759.8,1180.5 L1760.5,1180.0 L1761.3,1179.1 L1762.0,1177.5 L1762.8,1176.9 L1763.5,1176.1 L1764.3,1175.3 L1765.0,1174.1 L1765.8,1173.4 L1766.5,1173.0 L1767.3,1172.0 L1768.0,1172.2 L1768.8,1171.5 L1769.5,1171.7 L1770.3,1171.6 L1771.0,1172.3 L1771.8,1171.8 L1772.5,1172.0 L1773.3,1171.8 L1774.0,1172.7 L1774.8,1174.0 L1775.5,1175.0 L1776.3,1175.9 L1777.0,1177.8 L1777.8,1179.4 L1778.5,1181.0 L1779.3,1183.4 L1780.0,1186.1 L1780.8,1188.4 L1781.5,1190.9 L1782.3,1194.2 L1783.0,1197.0 L1783.8,1199.0 L1784.5,1201.8 L1785.3,1202.5 L1786.0,1204.5 L1786.8,1206.1 L1787.5,1207.7 L1788.3,1209.9 L1789.0,1211.8 L1789.8,1213.7 L1789.8,1213.8 L1790.5,1213.8 L1791.2,1213.8 L1791.3,1213.8 L1792.0,1213.8 L1792.8,1213.8 L1793.5,1213.8 L1794.3,1213.8 L1795.0,1213.8 L1795.8,1213.8 L1796.5,1213.8 L1797.3,1213.8 L1797.5,1213.8 L1798.0,1211.8 L1798.8,1210.4 L1798.8,1210.1 L1799.5,1208.3 L1800.3,1205.9 L1801.0,1204.1 L1801.8,1201.2 L1802.5,1199.6 L1803.3,1197.4 L1803.9,1195.3 L1804.0,1194.9 L1804.8,1193.7 L1805.5,1192.3 L1806.3,1191.0 L1807.0,1190.5 L1807.8,1190.9 L1808.5,1190.5 L1809.3,1191.5 L1810.0,1191.2 L1810.8,1190.4 L1811.5,1189.7 L1812.3,1189.1 L1813.0,1187.7 L1813.8,1186.9 L1814.5,1186.7 L1815.3,1185.0 L1816.0,1184.4 L1816.7,1184.0 L1816.8,1184.0 L1817.5,1183.2 L1818.3,1181.6 L1819.0,1180.7 L1819.8,1180.3 L1820.5,1179.6 L1821.3,1178.8 L1822.0,1177.6 L1822.8,1176.8 L1823.5,1176.2 L1824.3,1175.0 L1825.0,1173.6 L1825.8,1173.5 L1826.5,1172.3 L1827.3,1172.1 L1828.0,1172.3 L1828.8,1172.3 L1829.5,1172.2 L1830.3,1172.2 L1831.0,1171.5 L1831.8,1171.7 L1832.5,1171.9 L1833.3,1172.0 L1834.0,1173.6 L1834.8,1174.7 L1835.5,1175.2 L1836.3,1176.5 L1837.0,1177.9 L1837.8,1180.3 L1838.5,1182.1 L1839.3,1184.3 L1840.0,1186.7 L1840.8,1190.1 L1841.5,1192.6 L1842.3,1195.4 L1843.0,1197.5 L1843.8,1199.7 L1844.5,1202.0 L1845.3,1203.9 L1846.0,1204.9 L1846.8,1206.7 L1847.5,1209.1 L1848.3,1210.6 L1849.0,1212.5 L1849.5,1213.8 L1849.8,1213.8 L1850.5,1213.8 L1850.9,1213.8 L1851.3,1213.8 L1852.0,1213.8 L1852.8,1213.8 L1853.5,1213.8 L1854.3,1213.8 L1855.0,1213.8 L1855.8,1213.8 L1856.5,1213.8 L1857.2,1213.8 L1857.3,1213.5 L1858.0,1211.0 L1858.5,1209.9 L1858.8,1209.3 L1859.5,1207.3 L1860.3,1205.3 L1861.0,1202.9 L1861.8,1200.9 L1862.5,1198.9 L1863.3,1196.4 L1863.6,1195.6 L1864.0,1193.9 L1864.8,1192.6 L1865.5,1191.9 L1866.3,1190.5 L1867.0,1190.5 L1867.8,1190.7 L1868.5,1190.9 L1869.3,1190.8 L1870.0,1191.7 L1870.8,1190.3 L1871.5,1189.5 L1872.3,1188.1 L1873.0,1187.0 L1873.8,1186.5 L1874.5,1185.9 L1875.3,1184.5 L1876.0,1183.5 L1876.4,1183.0 L1876.8,1182.4 L1877.5,1181.8 L1878.3,1180.7 L1879.0,1179.6 L1879.8,1179.3 L1880.5,1178.2 L1881.3,1176.8 L1882.0,1175.6 L1882.8,1174.6 L1883.5,1174.3 L1884.3,1172.7 L1885.0,1172.5 L1885.8,1171.3 L1886.5,1171.0 L1887.3,1170.4 L1888.0,1170.5 L1888.8,1170.1 L1889.5,1169.9 L1890.3,1170.8 L1891.0,1170.4 L1891.8,1170.5 L1892.5,1170.9 L1893.3,1171.8 L1894.0,1171.9 L1894.8,1173.2 L1895.5,1174.3 L1896.3,1176.1 L1897.0,1177.1 L1897.8,1179.5 L1898.5,1181.5 L1899.3,1184.2 L1900.0,1187.2 L1900.8,1189.5 L1901.5,1192.8 L1902.3,1195.4 L1903.0,1198.1 L1903.8,1200.7 L1904.5,1202.9 L1905.3,1204.3 L1906.0,1205.2 L1906.8,1207.5 L1907.5,1209.5 L1908.3,1211.4 L1909.0,1213.3 L1909.3,1213.8 L1909.8,1213.8 L1910.5,1213.8 L1910.6,1213.8 L1911.3,1213.8 L1912.0,1213.8 L1912.8,1213.8 L1913.5,1213.8 L1914.3,1213.8 L1915.0,1213.8 L1915.8,1213.8 L1916.5,1213.8 L1916.9,1213.8 L1917.3,1212.8 L1918.0,1210.2 L1918.2,1210.5 L1918.8,1208.7 L1919.5,1206.7 L1920.3,1204.0 L1921.0,1202.1 L1921.8,1200.1 L1922.5,1197.9 L1923.3,1196.0 L1923.3,1195.5 L1924.0,1193.5 L1924.8,1192.7 L1925.5,1191.0 L1926.3,1190.7 L1927.0,1190.4 L1927.8,1191.1 L1928.5,1191.4 L1929.3,1191.3 L1930.0,1191.3 L1930.8,1190.5 L1931.5,1189.5 L1932.3,1188.4 L1933.0,1187.1 L1933.8,1186.8 L1934.5,1186.1 L1935.3,1184.6 L1936.0,1183.7 L1936.1,1183.4 L1936.8,1183.6 L1937.5,1182.6 L1938.3,1181.5 L1939.0,1180.1 L1939.8,1179.7 L1940.5,1178.5 L1941.3,1178.3 L1942.0,1177.2 L1942.8,1176.1 L1943.5,1175.7 L1944.3,1174.6 L1945.0,1173.4 L1945.8,1172.6 L1946.5,1172.4 L1947.3,1172.2 L1948.0,1171.9 L1948.8,1172.2 L1949.5,1172.6 L1950.3,1172.7 L1951.0,1173.0 L1951.8,1172.2 L1952.5,1172.6 L1953.3,1173.6 L1954.0,1174.4 L1954.8,1175.6 L1955.5,1176.9 L1956.3,1178.3 L1957.0,1180.6 L1957.8,1182.3 L1958.5,1184.5 L1959.3,1186.6 L1960.0,1189.3 L1960.8,1191.9 L1961.5,1194.6 L1962.3,1197.2 L1963.0,1199.7 L1963.8,1202.1 L1964.5,1203.3 L1965.3,1204.3 L1966.0,1206.1 L1966.8,1208.6 L1967.5,1210.2 L1968.3,1212.1 L1969.0,1213.8 L1969.0,1213.8 L1969.8,1213.8 L1970.3,1213.8 L1970.5,1213.8 L1971.3,1213.8 L1972.0,1213.8 L1972.8,1213.8 L1973.5,1213.8 L1974.3,1213.8 L1975.0,1213.8 L1975.8,1213.8 L1976.5,1213.8 L1976.6,1213.8 L1977.3,1211.9 L1977.9,1209.8 L1978.0,1210.0 L1978.8,1207.8 L1979.5,1205.4 L1980.3,1203.7 L1981.0,1200.8 L1981.8,1199.6 L1982.5,1196.6 L1983.0,1195.5 L1983.3,1195.0 L1984.0,1193.5 L1984.8,1191.8 L1985.5,1190.7 L1986.3,1190.6 L1987.0,1190.8 L1987.8,1191.3 L1988.5,1191.0 L1989.3,1191.5 L1990.0,1190.7 L1990.8,1189.4 L1991.5,1189.0 L1992.3,1188.2 L1993.0,1186.6 L1993.8,1185.6 L1994.5,1184.8 L1995.3,1184.1 L1995.8,1183.3 L1996.0,1182.9 L1996.8,1182.8 L1997.5,1181.7 L1998.3,1180.7 L1999.0,1179.4 L1999.8,1178.9 L2000.5,1177.6 L2001.3,1177.2 L2002.0,1175.6 L2002.8,1175.2 L2003.5,1174.2 L2004.3,1173.2 L2005.0,1172.1 L2005.8,1171.6 L2006.5,1171.8 L2007.3,1171.5 L2008.0,1171.3 L2008.8,1171.8 L2009.5,1171.1 L2010.3,1171.7 L2011.0,1171.1 L2011.8,1171.8 L2012.5,1171.6 L2013.3,1172.9 L2014.0,1174.3 L2014.8,1175.0 L2015.5,1176.7 L2016.3,1178.5 L2017.0,1179.9 L2017.8,1182.0 L2018.5,1184.6 L2019.3,1187.0 L2020.0,1189.9 L2020.8,1192.4 L2021.5,1195.0 L2022.3,1197.6 L2023.0,1200.9 L2023.8,1202.0 L2024.5,1203.6 L2025.3,1205.6 L2026.0,1207.6 L2026.8,1209.3 L2027.5,1210.9 L2028.3,1212.8 L2028.7,1213.8 L2029.0,1213.8 L2029.8,1213.8 L2030.0,1213.8 L2030.5,1213.8 L2031.3,1213.8 L2032.0,1213.8 L2032.8,1213.8 L2033.5,1213.8 L2034.3,1213.8 L2035.0,1213.8 L2035.8,1213.8 L2036.3,1213.8 L2036.5,1213.6 L2037.3,1211.0 L2037.6,1209.6 L2038.0,1208.9 L2038.8,1207.0 L2039.5,1205.0 L2040.3,1202.1 L2041.0,1200.4 L2041.8,1198.6 L2042.5,1195.8 L2042.7,1195.8 L2043.3,1193.6 L2044.0,1192.8 L2044.8,1191.9 L2045.5,1190.8 L2046.3,1190.9 L2047.0,1190.4 L2047.8,1191.2 L2048.6,1191.1 L2049.3,1190.7 L2050.1,1190.3 L2050.8,1189.3 L2051.6,1188.2 L2052.3,1187.4 L2053.1,1186.8 L2053.8,1186.1 L2054.6,1185.1 L2055.3,1184.5 L2055.6,1183.6 L2056.1,1183.0 L2056.8,1182.0 L2057.6,1181.5 L2058.3,1180.3 L2059.1,1179.6 L2059.8,1178.4 L2060.6,1177.8 L2061.3,1176.8 L2062.1,1176.0 L2062.8,1175.5 L2063.6,1174.8 L2064.3,1173.2 L2065.1,1172.4 L2065.8,1172.1 L2066.6,1171.6 L2067.3,1172.2 L2068.1,1171.6 L2068.8,1171.8 L2069.6,1172.3 L2070.3,1172.4 L2071.1,1172.6 L2071.8,1172.5 L2072.6,1172.7 L2073.3,1174.0 L2074.1,1175.5 L2074.8,1176.1 L2075.6,1177.0 L2076.3,1179.0 L2077.1,1181.3 L2077.8,1183.3 L2078.6,1186.1 L2079.3,1188.8 L2080.1,1191.0 L2080.8,1194.2 L2081.6,1196.4 L2082.3,1198.5 L2083.1,1201.1 L2083.8,1202.7 L2084.6,1204.0 L2085.3,1205.5 L2086.1,1208.1 L2086.8,1209.8 L2087.6,1211.7 L2088.3,1213.6 L2088.4,1213.8 L2089.1,1213.8 L2089.7,1213.8 L2089.8,1213.8 L2090.6,1213.8 L2091.3,1213.8 L2092.1,1213.8 L2092.8,1213.8 L2093.6,1213.8 L2094.3,1213.8 L2095.1,1213.8 L2095.8,1213.8 L2096.0,1213.8 L2096.6,1211.9 L2097.3,1209.8 L2097.3,1210.1 L2098.1,1208.5 L2098.8,1205.9 L2099.6,1203.8 L2100.3,1201.2 L2101.1,1199.9 L2101.8,1197.3 L2102.4,1195.5 L2102.6,1195.3 L2103.3,1193.8 L2104.1,1192.0 L2104.8,1191.5 L2105.6,1189.8 L2106.3,1190.1 L2107.1,1190.8 L2107.8,1191.5 L2108.6,1191.6 L2109.3,1191.1 L2110.1,1190.1 L2110.8,1189.0 L2111.6,1187.9 L2112.3,1186.7 L2113.1,1186.5 L2113.8,1184.9 L2114.6,1184.6 L2115.3,1183.1 L2115.3,1183.8 L2116.1,1182.5 L2116.8,1181.0 L2117.6,1180.1 L2118.3,1180.0 L2119.1,1178.8 L2119.8,1177.3 L2120.6,1177.1 L2121.3,1175.9 L2122.1,1175.2 L2122.8,1174.2 L2123.6,1173.1 L2124.3,1172.5 L2125.1,1171.6 L2125.8,1170.6 L2126.6,1170.7 L2127.3,1170.8 L2128.1,1171.2 L2128.8,1171.3 L2129.6,1170.8 L2130.3,1170.9 L2131.1,1171.6 L2131.8,1170.9 L2132.6,1172.5 L2133.3,1173.7 L2134.1,1174.3 L2134.8,1175.1 L2135.6,1177.3 L2136.3,1179.0 L2137.1,1181.3 L2137.8,1183.5 L2138.6,1185.8 L2139.3,1188.5 L2140.1,1191.8 L2140.8,1194.1 L2141.6,1196.7 L2142.3,1200.1 L2143.1,1201.6 L2143.8,1203.7 L2144.6,1204.5 L2145.3,1206.3 L2146.1,1208.2 L2146.8,1210.5 L2147.6,1212.4 L2148.1,1213.8 L2148.3,1213.8 L2149.1,1213.8 L2149.4,1213.8 L2149.8,1213.8 L2150.6,1213.8 L2151.3,1213.8 L2152.1,1213.8 L2152.8,1213.8 L2153.6,1213.8 L2154.3,1213.8 L2155.1,1213.8 L2155.7,1213.8 L2155.8,1213.6 L2156.6,1211.6 L2157.1,1209.9 L2157.3,1209.2 L2158.1,1207.2 L2158.8,1205.6 L2159.6,1202.9 L2160.3,1200.6 L2161.1,1198.6 L2161.8,1196.3 L2162.1,1195.3 L2162.6,1194.4 L2163.3,1193.3 L2164.1,1191.9 L2164.8,1191.1 L2165.6,1190.6 L2166.3,1190.1 L2167.1,1191.0 L2167.8,1191.2 L2168.6,1190.9 L2169.3,1190.0 L2170.1,1189.8 L2170.8,1188.5 L2171.6,1187.4 L2172.3,1186.7 L2173.1,1185.2 L2173.8,1184.4 L2174.6,1183.2 L2175.0,1183.4 L2175.3,1182.9 L2176.1,1181.8 L2176.8,1180.7 L2177.6,1180.0 L2178.3,1178.7 L2179.1,1177.9 L2179.8,1177.3 L2180.6,1175.6 L2181.3,1174.9 L2182.1,1173.6 L2182.8,1173.0 L2183.6,1171.7 L2184.3,1171.0 L2185.1,1170.4 L2185.8,1169.8 L2186.6,1170.3 L2187.3,1169.6 L2188.1,1170.0 L2188.8,1169.7 L2189.6,1170.6 L2190.3,1170.2 L2191.1,1170.5 L2191.8,1170.6 L2192.6,1171.6 L2193.3,1172.7 L2194.1,1174.2 L2194.8,1175.7 L2195.6,1176.6 L2196.3,1179.2 L2197.1,1180.7 L2197.8,1183.8 L2198.6,1186.5 L2199.3,1189.4 L2200.1,1192.7 L2200.8,1195.4 L2201.6,1198.2 L2202.3,1200.8 L2203.1,1202.3 L2203.8,1203.5 L2204.6,1205.5 L2205.3,1207.6 L2206.1,1209.3 L2206.8,1211.2 L2207.6,1213.1 L2207.8,1213.8 L2208.3,1213.8 L2209.1,1213.8 L2209.1,1213.8 L2209.8,1213.8 L2210.6,1213.8 L2211.3,1213.8 L2212.1,1213.8 L2212.8,1213.8 L2213.6,1213.8 L2214.3,1213.8 L2215.1,1213.8 L2215.5,1213.8 L2215.8,1213.2 L2216.6,1210.8 L2216.8,1210.0 L2217.3,1208.4 L2218.1,1206.9 L2218.8,1204.6 L2219.6,1202.1 L2220.3,1199.8 L2221.1,1197.5 L2221.8,1196.2 L2221.8,1195.5 L2222.6,1193.9 L2223.3,1192.6 L2224.1,1191.3 L2224.8,1190.4 L2225.6,1190.3 L2226.3,1190.3 L2227.1,1191.5 L2227.8,1191.3 L2228.6,1190.5 L2229.3,1189.8 L2230.1,1189.7 L2230.8,1188.3 L2231.6,1187.4 L2232.3,1187.1 L2233.1,1186.2 L2233.8,1185.7 L2234.6,1184.2 L2234.7,1184.8 L2235.3,1183.7 L2236.1,1182.6 L2236.8,1181.8 L2237.6,1181.2 L2238.3,1180.8 L2239.1,1179.5 L2239.8,1178.8 L2240.6,1178.4 L2241.3,1177.7 L2242.1,1176.9 L2242.8,1176.2 L2243.6,1175.1 L2244.3,1174.5 L2245.1,1173.6 L2245.8,1174.5 L2246.6,1173.8 L2247.3,1173.8 L2248.1,1173.3 L2248.8,1173.4 L2249.6,1173.8 L2250.3,1173.8 L2251.1,1174.3 L2251.8,1174.9 L2252.6,1176.4 L2253.3,1176.9 L2254.1,1178.2 L2254.8,1180.0 L2255.6,1181.9 L2256.3,1183.5 L2257.1,1185.7 L2257.8,1187.7 L2258.6,1190.3 L2259.3,1193.0 L2260.1,1195.1 L2260.8,1197.3 L2261.6,1199.1 L2262.3,1201.2 L2263.1,1203.0 L2263.8,1204.2 L2264.6,1206.6 L2265.3,1208.5 L2266.1,1210.1 L2266.8,1212.0 L2267.5,1213.8 L2267.6,1213.8 L2268.3,1213.8 L2268.8,1213.8 L2269.1,1213.8 L2269.8,1213.8 L2270.6,1213.8 L2271.3,1213.8 L2272.1,1213.8 L2272.8,1213.8 L2273.6,1213.8 L2274.3,1213.8 L2275.1,1213.8 L2275.2,1213.8 L2275.8,1212.3 L2276.5,1210.3 L2276.6,1210.1 L2277.3,1207.7 L2278.1,1205.2 L2278.8,1203.7 L2279.6,1201.6 L2280.3,1199.3 L2281.1,1196.7 L2281.6,1195.7 L2281.8,1194.5 L2282.6,1193.6 L2283.3,1192.2 L2284.1,1190.9 L2284.8,1190.0 L2285.6,1190.2 L2286.3,1191.2 L2287.1,1191.4 L2287.8,1191.8 L2288.6,1190.4 L2289.3,1189.9 L2290.1,1189.1 L2290.8,1188.8 L2291.6,1187.2 L2292.3,1186.3 L2293.1,1186.4 L2293.8,1184.7 L2294.4,1184.5 L2294.6,1184.7 L2295.3,1184.0 L2296.1,1182.6 L2296.8,1181.7 L2297.6,1181.3 L2298.3,1180.0 L2299.1,1180.1 L2299.8,1178.5 L2300.6,1178.4 L2301.3,1177.6 L2302.1,1176.6 L2302.8,1175.8 L2303.6,1174.5 L2304.3,1174.1 L2305.1,1174.1 L2305.8,1173.6 L2306.6,1173.9 L2307.3,1174.0 L2308.1,1174.0 L2308.8,1173.9 L2309.6,1173.6 L2310.3,1173.7 L2311.1,1175.0 L2311.8,1175.7 L2312.6,1176.4 L2313.3,1177.6 L2314.1,1178.4 L2314.8,1180.0 L2315.6,1182.7 L2316.3,1183.9 L2317.1,1186.7 L2317.8,1188.6 L2318.6,1191.4 L2319.3,1193.8 L2320.1,1195.5 L2320.8,1198.0 L2321.6,1200.3 L2322.3,1202.2 L2323.1,1203.9 L2323.8,1205.6 L2324.6,1206.6 L2325.3,1208.6 L2326.1,1210.8 L2326.8,1212.7 L2327.2,1213.8 L2327.6,1213.8 L2328.3,1213.8 L2328.5,1213.8 L2329.1,1213.8 L2329.8,1213.8 L2330.6,1213.8 L2331.3,1213.8 L2332.1,1213.8 L2332.8,1213.8 L2333.6,1213.8 L2334.3,1213.8 L2334.9,1213.8 L2335.1,1213.0 L2335.8,1211.6 L2336.2,1210.6 L2336.6,1209.1 L2337.3,1207.3 L2338.1,1204.7 L2338.8,1202.9 L2339.6,1200.3 L2340.3,1198.8 L2341.1,1196.3 L2341.3,1195.8 L2341.8,1194.5 L2342.6,1193.1 L2343.3,1192.1 L2344.1,1190.8 L2344.8,1190.4 L2345.6,1190.8 L2346.3,1190.8 L2347.1,1190.9 L2347.8,1191.2 L2348.6,1190.6 L2349.3,1189.5 L2350.1,1189.0 L2350.8,1187.5 L2351.6,1187.5 L2352.3,1186.4 L2353.1,1184.9 L2353.8,1184.4 L2354.1,1184.3 L2354.6,1184.1 L2355.3,1183.1 L2356.1,1181.6 L2356.8,1181.5 L2357.6,1180.1 L2358.3,1179.8 L2359.1,1178.4 L2359.8,1178.2 L2360.6,1177.3 L2361.3,1176.4 L2362.1,1174.8 L2362.8,1174.9 L2363.6,1173.6 L2364.3,1172.7 L2365.1,1172.8 L2365.8,1173.4 L2366.6,1172.6 L2367.3,1173.0 L2368.1,1173.2 L2368.8,1173.4 L2369.6,1173.4 L2370.3,1173.1 L2371.1,1173.6 L2371.8,1174.5 L2372.6,1175.8 L2373.3,1177.1 L2374.1,1177.9 L2374.8,1180.5 L2375.6,1181.6 L2376.3,1183.6 L2377.1,1186.5 L2377.8,1188.8 L2378.6,1191.4 L2379.3,1193.8 L2380.1,1196.3 L2380.8,1198.7 L2381.6,1201.1 L2382.3,1202.8 L2383.1,1204.6 L2383.8,1206.0 L2384.6,1207.9 L2385.3,1209.7 L2386.1,1211.5 L2386.8,1213.4 L2386.9,1213.8 L2387.6,1213.8 L2388.3,1213.8 L2388.3,1213.8 L2389.1,1213.8 L2389.8,1213.8 L2390.6,1213.8 L2391.3,1213.8 L2392.1,1213.8 L2392.8,1213.8 L2393.6,1213.8 L2394.3,1213.8 L2394.6,1213.8 L2395.1,1212.3 L2395.8,1210.7 L2395.9,1209.9 L2396.6,1208.3 L2397.3,1205.7 L2398.1,1204.1 L2398.8,1201.6 L2399.6,1200.1 L2400.3,1198.0 L2401.0,1195.4 L2401.1,1195.2 L2401.8,1193.9 L2402.6,1192.6 L2403.3,1191.0 L2404.1,1190.6 L2404.8,1190.3 L2405.6,1190.6 L2406.3,1190.6 L2407.1,1190.9 L2407.8,1190.6 L2408.6,1190.4 L2409.3,1188.8 L2410.1,1188.7 L2410.8,1187.7 L2411.6,1186.3 L2412.3,1185.8 L2413.1,1185.1 L2413.8,1183.8 L2413.8,1183.8 L2414.6,1183.5 L2415.3,1182.1 L2416.1,1181.2 L2416.8,1180.6 L2417.6,1180.2 L2418.3,1179.1 L2419.1,1178.2 L2419.8,1177.7 L2420.6,1176.4 L2421.3,1176.2 L2422.1,1175.3 L2422.8,1173.7 L2423.6,1173.4 L2424.3,1173.4 L2425.1,1172.7 L2425.8,1172.6 L2426.6,1172.8 L2427.3,1172.9 L2428.1,1173.4 L2428.8,1173.5 L2429.6,1172.7 L2430.3,1172.8 L2431.1,1174.1 L2431.8,1175.2 L2432.6,1176.5 L2433.3,1177.6 L2434.1,1178.8 L2434.8,1180.6 L2435.6,1183.1 L2436.3,1185.4 L2437.1,1187.9 L2437.8,1189.8 L2438.6,1192.5 L2439.3,1195.4 L2440.1,1197.4 L2440.8,1199.4 L2441.6,1201.6 L2442.3,1203.1 L2443.1,1204.7 L2443.8,1206.9 L2444.6,1208.4 L2445.3,1210.4 L2446.1,1212.3 L2446.7,1213.8 L2446.8,1213.8 L2447.6,1213.8 L2448.0,1213.8 L2448.3,1213.8 L2449.1,1213.8 L2449.8,1213.8 L2450.6,1213.8 L2451.3,1213.8 L2452.1,1213.8 L2452.8,1213.8 L2453.6,1213.8 L2454.3,1213.8 L2454.3,1213.8 L2455.1,1211.7 L2455.6,1209.6 L2455.8,1210.0 L2456.6,1207.9 L2457.3,1205.8 L2458.1,1203.6 L2458.8,1201.2 L2459.6,1198.8 L2460.3,1196.5 L2460.7,1195.4 L2461.1,1195.1 L2461.8,1193.3 L2462.6,1191.9 L2463.3,1191.0 L2464.1,1190.5 L2464.8,1190.9 L2465.6,1191.0 L2466.3,1191.6 L2467.1,1190.8 L2467.8,1190.1 L2468.6,1189.0 L2469.3,1188.9 L2470.1,1187.9 L2470.8,1186.4 L2471.6,1185.1 L2472.3,1184.7 L2473.1,1183.8 L2473.5,1183.1 L2473.8,1183.2 L2474.6,1182.0 L2475.3,1181.1 L2476.1,1180.1 L2476.8,1178.4 L2477.6,1177.7 L2478.3,1176.6 L2479.1,1176.0 L2479.8,1174.9 L2480.6,1174.1 L2481.3,1173.1 L2482.1,1171.8 L2482.8,1171.0 L2483.6,1170.7 L2484.3,1170.5 L2485.1,1170.0 L2485.8,1170.0 L2486.6,1170.0 L2487.3,1170.6 L2488.1,1170.4 L2488.8,1170.3 L2489.6,1170.0 L2490.3,1170.4 L2491.1,1172.3 L2491.8,1173.0 L2492.6,1174.3 L2493.3,1175.2 L2494.1,1176.9 L2494.8,1178.6 L2495.6,1180.7 L2496.3,1183.6 L2497.1,1186.4 L2497.8,1189.7 L2498.6,1192.5 L2499.3,1195.1 L2500.1,1198.4 L2500.8,1200.9 L2501.6,1202.3 L2502.3,1203.6 L2503.1,1205.0 L2503.8,1207.3 L2504.6,1209.6 L2505.3,1211.1 L2506.1,1213.0 L2506.4,1213.8 L2506.8,1213.8 L2507.6,1213.8 L2507.7,1213.8 L2508.3,1213.8 L2509.1,1213.8 L2509.8,1213.8 L2510.6,1213.8 L2511.3,1213.8 L2512.1,1213.8 L2512.8,1213.8 L2513.6,1213.8 L2514.0,1213.8 L2514.3,1212.9 L2515.1,1210.7 L2515.3,1210.4 L2515.8,1208.4 L2516.6,1206.9 L2517.3,1204.3 L2518.1,1201.9 L2518.8,1199.9 L2519.6,1197.8 L2520.3,1196.2 L2520.4,1195.8 L2521.1,1193.5 L2521.8,1192.8 L2522.6,1191.9 L2523.3,1190.5 L2524.1,1190.8 L2524.8,1190.3 L2525.6,1191.1 L2526.3,1191.3 L2527.1,1191.4 L2527.8,1190.0 L2528.6,1189.5 L2529.3,1188.6 L2530.1,1187.1 L2530.8,1186.5 L2531.6,1185.5 L2532.3,1184.9 L2533.1,1184.2 L2533.2,1183.7 L2533.8,1183.0 L2534.6,1181.6 L2535.3,1180.8 L2536.1,1180.2 L2536.8,1179.2 L2537.6,1178.1 L2538.3,1177.2 L2539.1,1176.3 L2539.8,1175.8 L2540.6,1174.8 L2541.3,1174.0 L2542.1,1173.0 L2542.8,1171.7 L2543.6,1171.7 L2544.3,1171.9 L2545.1,1171.2 L2545.8,1171.4 L2546.6,1171.2 L2547.3,1171.0 L2548.1,1171.1 L2548.8,1171.5 L2549.6,1172.1 L2550.3,1172.2 L2551.1,1174.1 L2551.8,1174.6 L2552.6,1176.2 L2553.3,1177.6 L2554.1,1178.6 L2554.8,1180.6 L2555.6,1183.0 L2556.3,1186.1 L2557.1,1188.7 L2557.8,1191.3 L2558.6,1193.5 L2559.3,1196.8 L2560.1,1199.1 L2560.8,1201.1 L2561.6,1203.4 L2562.3,1204.6 L2563.1,1206.4 L2563.8,1208.0 L2564.6,1210.0 L2565.3,1211.9 L2566.1,1213.7 L2566.1,1213.8 L2566.8,1213.8 L2567.4,1213.8 L2567.6,1213.8 L2568.3,1213.8 L2569.1,1213.8 L2569.8,1213.8 L2570.6,1213.8 L2571.3,1213.8 L2572.1,1213.8 L2572.8,1213.8 L2573.6,1213.8 L2573.7,1213.8 L2574.3,1212.3 L2575.0,1209.6 L2575.1,1210.2 L2575.8,1207.5 L2576.6,1205.9 L2577.3,1203.6 L2578.1,1201.3 L2578.8,1199.2 L2579.6,1197.1 L2579.6,1215.8 L1518.3,1215.8 Z" fill="#90caf9" fill-opacity="0.06"/><path d="M1518.3,1184.1 L1519.0,1183.1 L1519.8,1181.9 L1520.5,1180.8 L1521.3,1180.4 L1522.0,1179.6 L1522.8,1178.6 L1523.5,1177.2 L1524.3,1176.9 L1525.0,1175.4 L1525.8,1174.6 L1526.5,1174.3 L1527.3,1173.0 L1528.0,1172.2 L1528.8,1172.1 L1529.5,1171.5 L1530.3,1172.2 L1531.0,1172.3 L1531.8,1171.5 L1532.5,1172.1 L1533.3,1172.3 L1534.0,1172.3 L1534.8,1172.6 L1535.5,1173.1 L1536.3,1174.8 L1537.0,1175.9 L1537.8,1176.6 L1538.5,1178.4 L1539.3,1179.8 L1540.0,1181.8 L1540.8,1184.8 L1541.5,1187.6 L1542.3,1189.6 L1543.0,1192.0 L1543.8,1195.6 L1544.5,1197.5 L1545.3,1200.0 L1546.0,1202.0 L1546.8,1203.9 L1547.5,1204.9 L1548.3,1206.7 L1549.0,1209.2 L1549.8,1210.8 L1550.5,1212.7 L1551.0,1213.8 L1551.3,1213.8 L1552.0,1213.8 L1552.3,1213.8 L1552.8,1213.8 L1553.5,1213.8 L1554.3,1213.8 L1555.0,1213.8 L1555.8,1213.8 L1556.5,1213.8 L1557.3,1213.8 L1558.0,1213.8 L1558.6,1213.8 L1558.8,1213.2 L1559.5,1211.5 L1560.0,1210.5 L1560.3,1209.3 L1561.0,1207.2 L1561.8,1205.0 L1562.5,1202.6 L1563.3,1200.3 L1564.0,1198.0 L1564.8,1195.9 L1565.0,1195.2 L1565.5,1194.0 L1566.3,1193.2 L1567.0,1192.1 L1567.8,1190.5 L1568.5,1190.3 L1569.3,1190.5 L1570.0,1191.4 L1570.8,1191.6 L1571.5,1190.7 L1572.3,1190.1 L1573.0,1189.1 L1573.8,1188.8 L1574.5,1187.5 L1575.3,1186.1 L1576.0,1185.4 L1576.8,1184.2 L1577.5,1184.0 L1577.9,1183.4 L1578.3,1182.5 L1579.0,1181.9 L1579.8,1180.7 L1580.5,1180.0 L1581.3,1179.5 L1582.0,1178.6 L1582.8,1176.8 L1583.5,1176.7 L1584.3,1175.7 L1585.0,1174.6 L1585.8,1173.3 L1586.5,1172.3 L1587.3,1171.7 L1588.0,1171.1 L1588.8,1170.7 L1589.5,1171.1 L1590.3,1170.9 L1591.0,1170.7 L1591.8,1170.8 L1592.5,1171.5 L1593.3,1171.5 L1594.0,1171.5 L1594.8,1171.7 L1595.5,1172.7 L1596.3,1173.5 L1597.0,1174.7 L1597.8,1176.5 L1598.5,1177.9 L1599.3,1179.5 L1600.0,1182.3 L1600.8,1185.4 L1601.5,1187.8 L1602.3,1190.6 L1603.0,1193.4 L1603.8,1196.3 L1604.5,1199.0 L1605.3,1200.9 L1606.0,1203.2 L1606.8,1204.1 L1607.5,1206.1 L1608.3,1208.0 L1609.0,1209.6 L1609.8,1211.5 L1610.5,1213.4 L1610.7,1213.8 L1611.3,1213.8 L1612.0,1213.8 L1612.0,1213.8 L1612.8,1213.8 L1613.5,1213.8 L1614.3,1213.8 L1615.0,1213.8 L1615.8,1213.8 L1616.5,1213.8 L1617.3,1213.8 L1618.0,1213.8 L1618.4,1213.8 L1618.8,1212.2 L1619.5,1210.6 L1619.7,1210.4 L1620.3,1208.3 L1621.0,1206.0 L1621.8,1204.0 L1622.5,1201.6 L1623.3,1199.9 L1624.0,1197.7 L1624.7,1195.5 L1624.8,1195.6 L1625.5,1193.5 L1626.3,1192.5 L1627.0,1191.7 L1627.8,1190.5 L1628.5,1190.2 L1629.3,1190.5 L1630.0,1190.6 L1630.8,1191.2 L1631.5,1190.7 L1632.3,1190.3 L1633.0,1188.7 L1633.8,1188.6 L1634.5,1187.4 L1635.3,1186.8 L1636.0,1185.7 L1636.8,1184.8 L1637.5,1183.9 L1637.6,1183.5 L1638.3,1182.9 L1639.0,1182.3 L1639.8,1180.9 L1640.5,1180.0 L1641.3,1179.1 L1642.0,1179.0 L1642.8,1177.5 L1643.5,1176.3 L1644.3,1176.1 L1645.0,1175.3 L1645.8,1173.8 L1646.5,1173.3 L1647.3,1172.4 L1648.0,1171.8 L1648.8,1172.1 L1649.5,1172.2 L1650.3,1172.1 L1651.0,1172.0 L1651.8,1171.8 L1652.5,1172.2 L1653.3,1171.8 L1654.0,1172.7 L1654.8,1173.5 L1655.5,1174.2 L1656.3,1175.4 L1657.0,1176.4 L1657.8,1177.6 L1658.5,1180.1 L1659.3,1182.0 L1660.0,1184.6 L1660.8,1186.7 L1661.5,1189.5 L1662.3,1191.9 L1663.0,1195.0 L1663.8,1197.6 L1664.5,1199.9 L1665.3,1201.5 L1666.0,1203.5 L1666.8,1204.4 L1667.5,1206.5 L1668.3,1208.5 L1669.0,1210.3 L1669.8,1212.2 L1670.4,1213.8 L1670.5,1213.8 L1671.3,1213.8 L1671.7,1213.8 L1672.0,1213.8 L1672.8,1213.8 L1673.5,1213.8 L1674.3,1213.8 L1675.0,1213.8 L1675.8,1213.8 L1676.5,1213.8 L1677.3,1213.8 L1678.0,1213.8 L1678.1,1213.8 L1678.8,1211.4 L1679.4,1210.3 L1679.5,1209.5 L1680.3,1207.1 L1681.0,1205.3 L1681.8,1203.4 L1682.5,1201.5 L1683.3,1198.9 L1684.0,1197.2 L1684.5,1195.8 L1684.8,1194.7 L1685.5,1192.8 L1686.3,1191.9 L1687.0,1190.9 L1687.8,1189.9 L1688.5,1190.8 L1689.3,1191.0 L1690.0,1191.0 L1690.8,1191.3 L1691.5,1190.8 L1692.3,1189.7 L1693.0,1188.5 L1693.8,1188.2 L1694.5,1186.9 L1695.3,1186.7 L1696.0,1184.9 L1696.8,1184.3 L1697.3,1184.1 L1697.5,1183.2 L1698.3,1182.5 L1699.0,1182.4 L1699.8,1181.3 L1700.5,1180.2 L1701.3,1178.9 L1702.0,1178.8 L1702.8,1178.1 L1703.5,1177.0 L1704.3,1176.4 L1705.0,1175.2 L1705.8,1174.2 L1706.5,1173.4 L1707.3,1173.0 L1708.0,1173.0 L1708.8,1172.1 L1709.5,1172.4 L1710.3,1172.3 L1711.0,1172.4 L1711.8,1172.3 L1712.5,1172.2 L1713.3,1172.3 L1714.0,1172.9 L1714.8,1174.3 L1715.5,1175.5 L1716.3,1176.7 L1717.0,1177.0 L1717.8,1179.6 L1718.5,1181.0 L1719.3,1182.6 L1720.0,1185.7 L1720.8,1188.2 L1721.5,1190.7 L1722.3,1192.7 L1723.0,1195.5 L1723.8,1197.9 L1724.5,1201.2 L1725.3,1202.2 L1726.0,1203.9 L1726.8,1205.5 L1727.5,1207.0 L1728.3,1208.9 L1729.0,1211.1 L1729.8,1213.0 L1730.1,1213.8 L1730.5,1213.8 L1731.3,1213.8 L1731.4,1213.8 L1732.0,1213.8 L1732.8,1213.8 L1733.5,1213.8 L1734.3,1213.8 L1735.0,1213.8 L1735.8,1213.8 L1736.5,1213.8 L1737.3,1213.8 L1737.8,1213.8 L1738.0,1212.6 L1738.8,1210.7 L1739.1,1209.7 L1739.5,1208.8 L1740.3,1206.6 L1741.0,1204.2 L1741.8,1202.4 L1742.5,1200.6 L1743.3,1198.1 L1744.0,1195.7 L1744.2,1195.3 L1744.8,1194.3 L1745.5,1192.9 L1746.3,1191.9 L1747.0,1190.6 L1747.8,1190.0 L1748.5,1190.8 L1749.3,1191.2 L1750.0,1191.5 L1750.8,1191.1 L1751.5,1190.0 L1752.3,1189.4 L1753.0,1188.7 L1753.8,1187.8 L1754.5,1186.9 L1755.3,1185.3 L1756.0,1185.2 L1756.8,1183.7 L1757.0,1184.1 L1757.5,1182.8 L1758.3,1182.4 L1759.0,1181.1 L1759.8,1180.5 L1760.5,1180.0 L1761.3,1179.1 L1762.0,1177.5 L1762.8,1176.9 L1763.5,1176.1 L1764.3,1175.3 L1765.0,1174.1 L1765.8,1173.4 L1766.5,1173.0 L1767.3,1172.0 L1768.0,1172.2 L1768.8,1171.5 L1769.5,1171.7 L1770.3,1171.6 L1771.0,1172.3 L1771.8,1171.8 L1772.5,1172.0 L1773.3,1171.8 L1774.0,1172.7 L1774.8,1174.0 L1775.5,1175.0 L1776.3,1175.9 L1777.0,1177.8 L1777.8,1179.4 L1778.5,1181.0 L1779.3,1183.4 L1780.0,1186.1 L1780.8,1188.4 L1781.5,1190.9 L1782.3,1194.2 L1783.0,1197.0 L1783.8,1199.0 L1784.5,1201.8 L1785.3,1202.5 L1786.0,1204.5 L1786.8,1206.1 L1787.5,1207.7 L1788.3,1209.9 L1789.0,1211.8 L1789.8,1213.7 L1789.8,1213.8 L1790.5,1213.8 L1791.2,1213.8 L1791.3,1213.8 L1792.0,1213.8 L1792.8,1213.8 L1793.5,1213.8 L1794.3,1213.8 L1795.0,1213.8 L1795.8,1213.8 L1796.5,1213.8 L1797.3,1213.8 L1797.5,1213.8 L1798.0,1211.8 L1798.8,1210.4 L1798.8,1210.1 L1799.5,1208.3 L1800.3,1205.9 L1801.0,1204.1 L1801.8,1201.2 L1802.5,1199.6 L1803.3,1197.4 L1803.9,1195.3 L1804.0,1194.9 L1804.8,1193.7 L1805.5,1192.3 L1806.3,1191.0 L1807.0,1190.5 L1807.8,1190.9 L1808.5,1190.5 L1809.3,1191.5 L1810.0,1191.2 L1810.8,1190.4 L1811.5,1189.7 L1812.3,1189.1 L1813.0,1187.7 L1813.8,1186.9 L1814.5,1186.7 L1815.3,1185.0 L1816.0,1184.4 L1816.7,1184.0 L1816.8,1184.0 L1817.5,1183.2 L1818.3,1181.6 L1819.0,1180.7 L1819.8,1180.3 L1820.5,1179.6 L1821.3,1178.8 L1822.0,1177.6 L1822.8,1176.8 L1823.5,1176.2 L1824.3,1175.0 L1825.0,1173.6 L1825.8,1173.5 L1826.5,1172.3 L1827.3,1172.1 L1828.0,1172.3 L1828.8,1172.3 L1829.5,1172.2 L1830.3,1172.2 L1831.0,1171.5 L1831.8,1171.7 L1832.5,1171.9 L1833.3,1172.0 L1834.0,1173.6 L1834.8,1174.7 L1835.5,1175.2 L1836.3,1176.5 L1837.0,1177.9 L1837.8,1180.3 L1838.5,1182.1 L1839.3,1184.3 L1840.0,1186.7 L1840.8,1190.1 L1841.5,1192.6 L1842.3,1195.4 L1843.0,1197.5 L1843.8,1199.7 L1844.5,1202.0 L1845.3,1203.9 L1846.0,1204.9 L1846.8,1206.7 L1847.5,1209.1 L1848.3,1210.6 L1849.0,1212.5 L1849.5,1213.8 L1849.8,1213.8 L1850.5,1213.8 L1850.9,1213.8 L1851.3,1213.8 L1852.0,1213.8 L1852.8,1213.8 L1853.5,1213.8 L1854.3,1213.8 L1855.0,1213.8 L1855.8,1213.8 L1856.5,1213.8 L1857.2,1213.8 L1857.3,1213.5 L1858.0,1211.0 L1858.5,1209.9 L1858.8,1209.3 L1859.5,1207.3 L1860.3,1205.3 L1861.0,1202.9 L1861.8,1200.9 L1862.5,1198.9 L1863.3,1196.4 L1863.6,1195.6 L1864.0,1193.9 L1864.8,1192.6 L1865.5,1191.9 L1866.3,1190.5 L1867.0,1190.5 L1867.8,1190.7 L1868.5,1190.9 L1869.3,1190.8 L1870.0,1191.7 L1870.8,1190.3 L1871.5,1189.5 L1872.3,1188.1 L1873.0,1187.0 L1873.8,1186.5 L1874.5,1185.9 L1875.3,1184.5 L1876.0,1183.5 L1876.4,1183.0 L1876.8,1182.4 L1877.5,1181.8 L1878.3,1180.7 L1879.0,1179.6 L1879.8,1179.3 L1880.5,1178.2 L1881.3,1176.8 L1882.0,1175.6 L1882.8,1174.6 L1883.5,1174.3 L1884.3,1172.7 L1885.0,1172.5 L1885.8,1171.3 L1886.5,1171.0 L1887.3,1170.4 L1888.0,1170.5 L1888.8,1170.1 L1889.5,1169.9 L1890.3,1170.8 L1891.0,1170.4 L1891.8,1170.5 L1892.5,1170.9 L1893.3,1171.8 L1894.0,1171.9 L1894.8,1173.2 L1895.5,1174.3 L1896.3,1176.1 L1897.0,1177.1 L1897.8,1179.5 L1898.5,1181.5 L1899.3,1184.2 L1900.0,1187.2 L1900.8,1189.5 L1901.5,1192.8 L1902.3,1195.4 L1903.0,1198.1 L1903.8,1200.7 L1904.5,1202.9 L1905.3,1204.3 L1906.0,1205.2 L1906.8,1207.5 L1907.5,1209.5 L1908.3,1211.4 L1909.0,1213.3 L1909.3,1213.8 L1909.8,1213.8 L1910.5,1213.8 L1910.6,1213.8 L1911.3,1213.8 L1912.0,1213.8 L1912.8,1213.8 L1913.5,1213.8 L1914.3,1213.8 L1915.0,1213.8 L1915.8,1213.8 L1916.5,1213.8 L1916.9,1213.8 L1917.3,1212.8 L1918.0,1210.2 L1918.2,1210.5 L1918.8,1208.7 L1919.5,1206.7 L1920.3,1204.0 L1921.0,1202.1 L1921.8,1200.1 L1922.5,1197.9 L1923.3,1196.0 L1923.3,1195.5 L1924.0,1193.5 L1924.8,1192.7 L1925.5,1191.0 L1926.3,1190.7 L1927.0,1190.4 L1927.8,1191.1 L1928.5,1191.4 L1929.3,1191.3 L1930.0,1191.3 L1930.8,1190.5 L1931.5,1189.5 L1932.3,1188.4 L1933.0,1187.1 L1933.8,1186.8 L1934.5,1186.1 L1935.3,1184.6 L1936.0,1183.7 L1936.1,1183.4 L1936.8,1183.6 L1937.5,1182.6 L1938.3,1181.5 L1939.0,1180.1 L1939.8,1179.7 L1940.5,1178.5 L1941.3,1178.3 L1942.0,1177.2 L1942.8,1176.1 L1943.5,1175.7 L1944.3,1174.6 L1945.0,1173.4 L1945.8,1172.6 L1946.5,1172.4 L1947.3,1172.2 L1948.0,1171.9 L1948.8,1172.2 L1949.5,1172.6 L1950.3,1172.7 L1951.0,1173.0 L1951.8,1172.2 L1952.5,1172.6 L1953.3,1173.6 L1954.0,1174.4 L1954.8,1175.6 L1955.5,1176.9 L1956.3,1178.3 L1957.0,1180.6 L1957.8,1182.3 L1958.5,1184.5 L1959.3,1186.6 L1960.0,1189.3 L1960.8,1191.9 L1961.5,1194.6 L1962.3,1197.2 L1963.0,1199.7 L1963.8,1202.1 L1964.5,1203.3 L1965.3,1204.3 L1966.0,1206.1 L1966.8,1208.6 L1967.5,1210.2 L1968.3,1212.1 L1969.0,1213.8 L1969.0,1213.8 L1969.8,1213.8 L1970.3,1213.8 L1970.5,1213.8 L1971.3,1213.8 L1972.0,1213.8 L1972.8,1213.8 L1973.5,1213.8 L1974.3,1213.8 L1975.0,1213.8 L1975.8,1213.8 L1976.5,1213.8 L1976.6,1213.8 L1977.3,1211.9 L1977.9,1209.8 L1978.0,1210.0 L1978.8,1207.8 L1979.5,1205.4 L1980.3,1203.7 L1981.0,1200.8 L1981.8,1199.6 L1982.5,1196.6 L1983.0,1195.5 L1983.3,1195.0 L1984.0,1193.5 L1984.8,1191.8 L1985.5,1190.7 L1986.3,1190.6 L1987.0,1190.8 L1987.8,1191.3 L1988.5,1191.0 L1989.3,1191.5 L1990.0,1190.7 L1990.8,1189.4 L1991.5,1189.0 L1992.3,1188.2 L1993.0,1186.6 L1993.8,1185.6 L1994.5,1184.8 L1995.3,1184.1 L1995.8,1183.3 L1996.0,1182.9 L1996.8,1182.8 L1997.5,1181.7 L1998.3,1180.7 L1999.0,1179.4 L1999.8,1178.9 L2000.5,1177.6 L2001.3,1177.2 L2002.0,1175.6 L2002.8,1175.2 L2003.5,1174.2 L2004.3,1173.2 L2005.0,1172.1 L2005.8,1171.6 L2006.5,1171.8 L2007.3,1171.5 L2008.0,1171.3 L2008.8,1171.8 L2009.5,1171.1 L2010.3,1171.7 L2011.0,1171.1 L2011.8,1171.8 L2012.5,1171.6 L2013.3,1172.9 L2014.0,1174.3 L2014.8,1175.0 L2015.5,1176.7 L2016.3,1178.5 L2017.0,1179.9 L2017.8,1182.0 L2018.5,1184.6 L2019.3,1187.0 L2020.0,1189.9 L2020.8,1192.4 L2021.5,1195.0 L2022.3,1197.6 L2023.0,1200.9 L2023.8,1202.0 L2024.5,1203.6 L2025.3,1205.6 L2026.0,1207.6 L2026.8,1209.3 L2027.5,1210.9 L2028.3,1212.8 L2028.7,1213.8 L2029.0,1213.8 L2029.8,1213.8 L2030.0,1213.8 L2030.5,1213.8 L2031.3,1213.8 L2032.0,1213.8 L2032.8,1213.8 L2033.5,1213.8 L2034.3,1213.8 L2035.0,1213.8 L2035.8,1213.8 L2036.3,1213.8 L2036.5,1213.6 L2037.3,1211.0 L2037.6,1209.6 L2038.0,1208.9 L2038.8,1207.0 L2039.5,1205.0 L2040.3,1202.1 L2041.0,1200.4 L2041.8,1198.6 L2042.5,1195.8 L2042.7,1195.8 L2043.3,1193.6 L2044.0,1192.8 L2044.8,1191.9 L2045.5,1190.8 L2046.3,1190.9 L2047.0,1190.4 L2047.8,1191.2 L2048.6,1191.1 L2049.3,1190.7 L2050.1,1190.3 L2050.8,1189.3 L2051.6,1188.2 L2052.3,1187.4 L2053.1,1186.8 L2053.8,1186.1 L2054.6,1185.1 L2055.3,1184.5 L2055.6,1183.6 L2056.1,1183.0 L2056.8,1182.0 L2057.6,1181.5 L2058.3,1180.3 L2059.1,1179.6 L2059.8,1178.4 L2060.6,1177.8 L2061.3,1176.8 L2062.1,1176.0 L2062.8,1175.5 L2063.6,1174.8 L2064.3,1173.2 L2065.1,1172.4 L2065.8,1172.1 L2066.6,1171.6 L2067.3,1172.2 L2068.1,1171.6 L2068.8,1171.8 L2069.6,1172.3 L2070.3,1172.4 L2071.1,1172.6 L2071.8,1172.5 L2072.6,1172.7 L2073.3,1174.0 L2074.1,1175.5 L2074.8,1176.1 L2075.6,1177.0 L2076.3,1179.0 L2077.1,1181.3 L2077.8,1183.3 L2078.6,1186.1 L2079.3,1188.8 L2080.1,1191.0 L2080.8,1194.2 L2081.6,1196.4 L2082.3,1198.5 L2083.1,1201.1 L2083.8,1202.7 L2084.6,1204.0 L2085.3,1205.5 L2086.1,1208.1 L2086.8,1209.8 L2087.6,1211.7 L2088.3,1213.6 L2088.4,1213.8 L2089.1,1213.8 L2089.7,1213.8 L2089.8,1213.8 L2090.6,1213.8 L2091.3,1213.8 L2092.1,1213.8 L2092.8,1213.8 L2093.6,1213.8 L2094.3,1213.8 L2095.1,1213.8 L2095.8,1213.8 L2096.0,1213.8 L2096.6,1211.9 L2097.3,1209.8 L2097.3,1210.1 L2098.1,1208.5 L2098.8,1205.9 L2099.6,1203.8 L2100.3,1201.2 L2101.1,1199.9 L2101.8,1197.3 L2102.4,1195.5 L2102.6,1195.3 L2103.3,1193.8 L2104.1,1192.0 L2104.8,1191.5 L2105.6,1189.8 L2106.3,1190.1 L2107.1,1190.8 L2107.8,1191.5 L2108.6,1191.6 L2109.3,1191.1 L2110.1,1190.1 L2110.8,1189.0 L2111.6,1187.9 L2112.3,1186.7 L2113.1,1186.5 L2113.8,1184.9 L2114.6,1184.6 L2115.3,1183.1 L2115.3,1183.8 L2116.1,1182.5 L2116.8,1181.0 L2117.6,1180.1 L2118.3,1180.0 L2119.1,1178.8 L2119.8,1177.3 L2120.6,1177.1 L2121.3,1175.9 L2122.1,1175.2 L2122.8,1174.2 L2123.6,1173.1 L2124.3,1172.5 L2125.1,1171.6 L2125.8,1170.6 L2126.6,1170.7 L2127.3,1170.8 L2128.1,1171.2 L2128.8,1171.3 L2129.6,1170.8 L2130.3,1170.9 L2131.1,1171.6 L2131.8,1170.9 L2132.6,1172.5 L2133.3,1173.7 L2134.1,1174.3 L2134.8,1175.1 L2135.6,1177.3 L2136.3,1179.0 L2137.1,1181.3 L2137.8,1183.5 L2138.6,1185.8 L2139.3,1188.5 L2140.1,1191.8 L2140.8,1194.1 L2141.6,1196.7 L2142.3,1200.1 L2143.1,1201.6 L2143.8,1203.7 L2144.6,1204.5 L2145.3,1206.3 L2146.1,1208.2 L2146.8,1210.5 L2147.6,1212.4 L2148.1,1213.8 L2148.3,1213.8 L2149.1,1213.8 L2149.4,1213.8 L2149.8,1213.8 L2150.6,1213.8 L2151.3,1213.8 L2152.1,1213.8 L2152.8,1213.8 L2153.6,1213.8 L2154.3,1213.8 L2155.1,1213.8 L2155.7,1213.8 L2155.8,1213.6 L2156.6,1211.6 L2157.1,1209.9 L2157.3,1209.2 L2158.1,1207.2 L2158.8,1205.6 L2159.6,1202.9 L2160.3,1200.6 L2161.1,1198.6 L2161.8,1196.3 L2162.1,1195.3 L2162.6,1194.4 L2163.3,1193.3 L2164.1,1191.9 L2164.8,1191.1 L2165.6,1190.6 L2166.3,1190.1 L2167.1,1191.0 L2167.8,1191.2 L2168.6,1190.9 L2169.3,1190.0 L2170.1,1189.8 L2170.8,1188.5 L2171.6,1187.4 L2172.3,1186.7 L2173.1,1185.2 L2173.8,1184.4 L2174.6,1183.2 L2175.0,1183.4 L2175.3,1182.9 L2176.1,1181.8 L2176.8,1180.7 L2177.6,1180.0 L2178.3,1178.7 L2179.1,1177.9 L2179.8,1177.3 L2180.6,1175.6 L2181.3,1174.9 L2182.1,1173.6 L2182.8,1173.0 L2183.6,1171.7 L2184.3,1171.0 L2185.1,1170.4 L2185.8,1169.8 L2186.6,1170.3 L2187.3,1169.6 L2188.1,1170.0 L2188.8,1169.7 L2189.6,1170.6 L2190.3,1170.2 L2191.1,1170.5 L2191.8,1170.6 L2192.6,1171.6 L2193.3,1172.7 L2194.1,1174.2 L2194.8,1175.7 L2195.6,1176.6 L2196.3,1179.2 L2197.1,1180.7 L2197.8,1183.8 L2198.6,1186.5 L2199.3,1189.4 L2200.1,1192.7 L2200.8,1195.4 L2201.6,1198.2 L2202.3,1200.8 L2203.1,1202.3 L2203.8,1203.5 L2204.6,1205.5 L2205.3,1207.6 L2206.1,1209.3 L2206.8,1211.2 L2207.6,1213.1 L2207.8,1213.8 L2208.3,1213.8 L2209.1,1213.8 L2209.1,1213.8 L2209.8,1213.8 L2210.6,1213.8 L2211.3,1213.8 L2212.1,1213.8 L2212.8,1213.8 L2213.6,1213.8 L2214.3,1213.8 L2215.1,1213.8 L2215.5,1213.8 L2215.8,1213.2 L2216.6,1210.8 L2216.8,1210.0 L2217.3,1208.4 L2218.1,1206.9 L2218.8,1204.6 L2219.6,1202.1 L2220.3,1199.8 L2221.1,1197.5 L2221.8,1196.2 L2221.8,1195.5 L2222.6,1193.9 L2223.3,1192.6 L2224.1,1191.3 L2224.8,1190.4 L2225.6,1190.3 L2226.3,1190.3 L2227.1,1191.5 L2227.8,1191.3 L2228.6,1190.5 L2229.3,1189.8 L2230.1,1189.7 L2230.8,1188.3 L2231.6,1187.4 L2232.3,1187.1 L2233.1,1186.2 L2233.8,1185.7 L2234.6,1184.2 L2234.7,1184.8 L2235.3,1183.7 L2236.1,1182.6 L2236.8,1181.8 L2237.6,1181.2 L2238.3,1180.8 L2239.1,1179.5 L2239.8,1178.8 L2240.6,1178.4 L2241.3,1177.7 L2242.1,1176.9 L2242.8,1176.2 L2243.6,1175.1 L2244.3,1174.5 L2245.1,1173.6 L2245.8,1174.5 L2246.6,1173.8 L2247.3,1173.8 L2248.1,1173.3 L2248.8,1173.4 L2249.6,1173.8 L2250.3,1173.8 L2251.1,1174.3 L2251.8,1174.9 L2252.6,1176.4 L2253.3,1176.9 L2254.1,1178.2 L2254.8,1180.0 L2255.6,1181.9 L2256.3,1183.5 L2257.1,1185.7 L2257.8,1187.7 L2258.6,1190.3 L2259.3,1193.0 L2260.1,1195.1 L2260.8,1197.3 L2261.6,1199.1 L2262.3,1201.2 L2263.1,1203.0 L2263.8,1204.2 L2264.6,1206.6 L2265.3,1208.5 L2266.1,1210.1 L2266.8,1212.0 L2267.5,1213.8 L2267.6,1213.8 L2268.3,1213.8 L2268.8,1213.8 L2269.1,1213.8 L2269.8,1213.8 L2270.6,1213.8 L2271.3,1213.8 L2272.1,1213.8 L2272.8,1213.8 L2273.6,1213.8 L2274.3,1213.8 L2275.1,1213.8 L2275.2,1213.8 L2275.8,1212.3 L2276.5,1210.3 L2276.6,1210.1 L2277.3,1207.7 L2278.1,1205.2 L2278.8,1203.7 L2279.6,1201.6 L2280.3,1199.3 L2281.1,1196.7 L2281.6,1195.7 L2281.8,1194.5 L2282.6,1193.6 L2283.3,1192.2 L2284.1,1190.9 L2284.8,1190.0 L2285.6,1190.2 L2286.3,1191.2 L2287.1,1191.4 L2287.8,1191.8 L2288.6,1190.4 L2289.3,1189.9 L2290.1,1189.1 L2290.8,1188.8 L2291.6,1187.2 L2292.3,1186.3 L2293.1,1186.4 L2293.8,1184.7 L2294.4,1184.5 L2294.6,1184.7 L2295.3,1184.0 L2296.1,1182.6 L2296.8,1181.7 L2297.6,1181.3 L2298.3,1180.0 L2299.1,1180.1 L2299.8,1178.5 L2300.6,1178.4 L2301.3,1177.6 L2302.1,1176.6 L2302.8,1175.8 L2303.6,1174.5 L2304.3,1174.1 L2305.1,1174.1 L2305.8,1173.6 L2306.6,1173.9 L2307.3,1174.0 L2308.1,1174.0 L2308.8,1173.9 L2309.6,1173.6 L2310.3,1173.7 L2311.1,1175.0 L2311.8,1175.7 L2312.6,1176.4 L2313.3,1177.6 L2314.1,1178.4 L2314.8,1180.0 L2315.6,1182.7 L2316.3,1183.9 L2317.1,1186.7 L2317.8,1188.6 L2318.6,1191.4 L2319.3,1193.8 L2320.1,1195.5 L2320.8,1198.0 L2321.6,1200.3 L2322.3,1202.2 L2323.1,1203.9 L2323.8,1205.6 L2324.6,1206.6 L2325.3,1208.6 L2326.1,1210.8 L2326.8,1212.7 L2327.2,1213.8 L2327.6,1213.8 L2328.3,1213.8 L2328.5,1213.8 L2329.1,1213.8 L2329.8,1213.8 L2330.6,1213.8 L2331.3,1213.8 L2332.1,1213.8 L2332.8,1213.8 L2333.6,1213.8 L2334.3,1213.8 L2334.9,1213.8 L2335.1,1213.0 L2335.8,1211.6 L2336.2,1210.6 L2336.6,1209.1 L2337.3,1207.3 L2338.1,1204.7 L2338.8,1202.9 L2339.6,1200.3 L2340.3,1198.8 L2341.1,1196.3 L2341.3,1195.8 L2341.8,1194.5 L2342.6,1193.1 L2343.3,1192.1 L2344.1,1190.8 L2344.8,1190.4 L2345.6,1190.8 L2346.3,1190.8 L2347.1,1190.9 L2347.8,1191.2 L2348.6,1190.6 L2349.3,1189.5 L2350.1,1189.0 L2350.8,1187.5 L2351.6,1187.5 L2352.3,1186.4 L2353.1,1184.9 L2353.8,1184.4 L2354.1,1184.3 L2354.6,1184.1 L2355.3,1183.1 L2356.1,1181.6 L2356.8,1181.5 L2357.6,1180.1 L2358.3,1179.8 L2359.1,1178.4 L2359.8,1178.2 L2360.6,1177.3 L2361.3,1176.4 L2362.1,1174.8 L2362.8,1174.9 L2363.6,1173.6 L2364.3,1172.7 L2365.1,1172.8 L2365.8,1173.4 L2366.6,1172.6 L2367.3,1173.0 L2368.1,1173.2 L2368.8,1173.4 L2369.6,1173.4 L2370.3,1173.1 L2371.1,1173.6 L2371.8,1174.5 L2372.6,1175.8 L2373.3,1177.1 L2374.1,1177.9 L2374.8,1180.5 L2375.6,1181.6 L2376.3,1183.6 L2377.1,1186.5 L2377.8,1188.8 L2378.6,1191.4 L2379.3,1193.8 L2380.1,1196.3 L2380.8,1198.7 L2381.6,1201.1 L2382.3,1202.8 L2383.1,1204.6 L2383.8,1206.0 L2384.6,1207.9 L2385.3,1209.7 L2386.1,1211.5 L2386.8,1213.4 L2386.9,1213.8 L2387.6,1213.8 L2388.3,1213.8 L2388.3,1213.8 L2389.1,1213.8 L2389.8,1213.8 L2390.6,1213.8 L2391.3,1213.8 L2392.1,1213.8 L2392.8,1213.8 L2393.6,1213.8 L2394.3,1213.8 L2394.6,1213.8 L2395.1,1212.3 L2395.8,1210.7 L2395.9,1209.9 L2396.6,1208.3 L2397.3,1205.7 L2398.1,1204.1 L2398.8,1201.6 L2399.6,1200.1 L2400.3,1198.0 L2401.0,1195.4 L2401.1,1195.2 L2401.8,1193.9 L2402.6,1192.6 L2403.3,1191.0 L2404.1,1190.6 L2404.8,1190.3 L2405.6,1190.6 L2406.3,1190.6 L2407.1,1190.9 L2407.8,1190.6 L2408.6,1190.4 L2409.3,1188.8 L2410.1,1188.7 L2410.8,1187.7 L2411.6,1186.3 L2412.3,1185.8 L2413.1,1185.1 L2413.8,1183.8 L2413.8,1183.8 L2414.6,1183.5 L2415.3,1182.1 L2416.1,1181.2 L2416.8,1180.6 L2417.6,1180.2 L2418.3,1179.1 L2419.1,1178.2 L2419.8,1177.7 L2420.6,1176.4 L2421.3,1176.2 L2422.1,1175.3 L2422.8,1173.7 L2423.6,1173.4 L2424.3,1173.4 L2425.1,1172.7 L2425.8,1172.6 L2426.6,1172.8 L2427.3,1172.9 L2428.1,1173.4 L2428.8,1173.5 L2429.6,1172.7 L2430.3,1172.8 L2431.1,1174.1 L2431.8,1175.2 L2432.6,1176.5 L2433.3,1177.6 L2434.1,1178.8 L2434.8,1180.6 L2435.6,1183.1 L2436.3,1185.4 L2437.1,1187.9 L2437.8,1189.8 L2438.6,1192.5 L2439.3,1195.4 L2440.1,1197.4 L2440.8,1199.4 L2441.6,1201.6 L2442.3,1203.1 L2443.1,1204.7 L2443.8,1206.9 L2444.6,1208.4 L2445.3,1210.4 L2446.1,1212.3 L2446.7,1213.8 L2446.8,1213.8 L2447.6,1213.8 L2448.0,1213.8 L2448.3,1213.8 L2449.1,1213.8 L2449.8,1213.8 L2450.6,1213.8 L2451.3,1213.8 L2452.1,1213.8 L2452.8,1213.8 L2453.6,1213.8 L2454.3,1213.8 L2454.3,1213.8 L2455.1,1211.7 L2455.6,1209.6 L2455.8,1210.0 L2456.6,1207.9 L2457.3,1205.8 L2458.1,1203.6 L2458.8,1201.2 L2459.6,1198.8 L2460.3,1196.5 L2460.7,1195.4 L2461.1,1195.1 L2461.8,1193.3 L2462.6,1191.9 L2463.3,1191.0 L2464.1,1190.5 L2464.8,1190.9 L2465.6,1191.0 L2466.3,1191.6 L2467.1,1190.8 L2467.8,1190.1 L2468.6,1189.0 L2469.3,1188.9 L2470.1,1187.9 L2470.8,1186.4 L2471.6,1185.1 L2472.3,1184.7 L2473.1,1183.8 L2473.5,1183.1 L2473.8,1183.2 L2474.6,1182.0 L2475.3,1181.1 L2476.1,1180.1 L2476.8,1178.4 L2477.6,1177.7 L2478.3,1176.6 L2479.1,1176.0 L2479.8,1174.9 L2480.6,1174.1 L2481.3,1173.1 L2482.1,1171.8 L2482.8,1171.0 L2483.6,1170.7 L2484.3,1170.5 L2485.1,1170.0 L2485.8,1170.0 L2486.6,1170.0 L2487.3,1170.6 L2488.1,1170.4 L2488.8,1170.3 L2489.6,1170.0 L2490.3,1170.4 L2491.1,1172.3 L2491.8,1173.0 L2492.6,1174.3 L2493.3,1175.2 L2494.1,1176.9 L2494.8,1178.6 L2495.6,1180.7 L2496.3,1183.6 L2497.1,1186.4 L2497.8,1189.7 L2498.6,1192.5 L2499.3,1195.1 L2500.1,1198.4 L2500.8,1200.9 L2501.6,1202.3 L2502.3,1203.6 L2503.1,1205.0 L2503.8,1207.3 L2504.6,1209.6 L2505.3,1211.1 L2506.1,1213.0 L2506.4,1213.8 L2506.8,1213.8 L2507.6,1213.8 L2507.7,1213.8 L2508.3,1213.8 L2509.1,1213.8 L2509.8,1213.8 L2510.6,1213.8 L2511.3,1213.8 L2512.1,1213.8 L2512.8,1213.8 L2513.6,1213.8 L2514.0,1213.8 L2514.3,1212.9 L2515.1,1210.7 L2515.3,1210.4 L2515.8,1208.4 L2516.6,1206.9 L2517.3,1204.3 L2518.1,1201.9 L2518.8,1199.9 L2519.6,1197.8 L2520.3,1196.2 L2520.4,1195.8 L2521.1,1193.5 L2521.8,1192.8 L2522.6,1191.9 L2523.3,1190.5 L2524.1,1190.8 L2524.8,1190.3 L2525.6,1191.1 L2526.3,1191.3 L2527.1,1191.4 L2527.8,1190.0 L2528.6,1189.5 L2529.3,1188.6 L2530.1,1187.1 L2530.8,1186.5 L2531.6,1185.5 L2532.3,1184.9 L2533.1,1184.2 L2533.2,1183.7 L2533.8,1183.0 L2534.6,1181.6 L2535.3,1180.8 L2536.1,1180.2 L2536.8,1179.2 L2537.6,1178.1 L2538.3,1177.2 L2539.1,1176.3 L2539.8,1175.8 L2540.6,1174.8 L2541.3,1174.0 L2542.1,1173.0 L2542.8,1171.7 L2543.6,1171.7 L2544.3,1171.9 L2545.1,1171.2 L2545.8,1171.4 L2546.6,1171.2 L2547.3,1171.0 L2548.1,1171.1 L2548.8,1171.5 L2549.6,1172.1 L2550.3,1172.2 L2551.1,1174.1 L2551.8,1174.6 L2552.6,1176.2 L2553.3,1177.6 L2554.1,1178.6 L2554.8,1180.6 L2555.6,1183.0 L2556.3,1186.1 L2557.1,1188.7 L2557.8,1191.3 L2558.6,1193.5 L2559.3,1196.8 L2560.1,1199.1 L2560.8,1201.1 L2561.6,1203.4 L2562.3,1204.6 L2563.1,1206.4 L2563.8,1208.0 L2564.6,1210.0 L2565.3,1211.9 L2566.1,1213.7 L2566.1,1213.8 L2566.8,1213.8 L2567.4,1213.8 L2567.6,1213.8 L2568.3,1213.8 L2569.1,1213.8 L2569.8,1213.8 L2570.6,1213.8 L2571.3,1213.8 L2572.1,1213.8 L2572.8,1213.8 L2573.6,1213.8 L2573.7,1213.8 L2574.3,1212.3 L2575.0,1209.6 L2575.1,1210.2 L2575.8,1207.5 L2576.6,1205.9 L2577.3,1203.6 L2578.1,1201.3 L2578.8,1199.2 L2579.6,1197.1" stroke="#90caf9" stroke-width="2.2" stroke-linejoin="round"/><path d="M1518.3,1170 V1213.8 M1506.3,1170 H1518.3 M1506.3,1213.8 H1518.3" stroke="#90caf9" stroke-width="2"/><path d="M1506.3,1184.14 H1518.3 M1506.3,1194.03 H1518.3 " stroke="#90caf9" stroke-width="2" stroke-opacity="0.45"/><path d="M1518.3,1261.8 L1551.0,1261.8 L1551.0,1304.8 L1558.6,1304.8 L1558.6,1261.8 L1610.7,1261.8 L1610.7,1304.8 L1618.4,1304.8 L1618.4,1261.8 L1670.4,1261.8 L1670.4,1304.8 L1678.1,1304.8 L1678.1,1261.8 L1730.1,1261.8 L1730.1,1304.8 L1737.8,1304.8 L1737.8,1261.8 L1789.8,1261.8 L1789.8,1304.8 L1797.5,1304.8 L1797.5,1261.8 L1849.5,1261.8 L1849.5,1304.8 L1857.2,1304.8 L1857.2,1261.8 L1909.3,1261.8 L1909.3,1304.8 L1916.9,1304.8 L1916.9,1261.8 L1969.0,1261.8 L1969.0,1304.8 L1976.6,1304.8 L1976.6,1261.8 L2028.7,1261.8 L2028.7,1304.8 L2036.3,1304.8 L2036.3,1261.8 L2088.4,1261.8 L2088.4,1304.8 L2096.0,1304.8 L2096.0,1261.8 L2148.1,1261.8 L2148.1,1304.8 L2155.7,1304.8 L2155.7,1261.8 L2207.8,1261.8 L2207.8,1304.8 L2215.5,1304.8 L2215.5,1261.8 L2267.5,1261.8 L2267.5,1304.8 L2275.2,1304.8 L2275.2,1261.8 L2327.2,1261.8 L2327.2,1304.8 L2334.9,1304.8 L2334.9,1261.8 L2386.9,1261.8 L2386.9,1304.8 L2394.6,1304.8 L2394.6,1261.8 L2446.7,1261.8 L2446.7,1304.8 L2454.3,1304.8 L2454.3,1261.8 L2506.4,1261.8 L2506.4,1304.8 L2514.0,1304.8 L2514.0,1261.8 L2566.1,1261.8 L2566.1,1304.8 L2573.7,1304.8 L2573.7,1261.8 L2579.8,1261.8 L2579.8,1306.8 L1518.3,1306.8 Z" fill="#f48fb1" fill-opacity="0.06"/><path d="M1518.3,1261.8 L1551.0,1261.8 L1551.0,1304.8 L1558.6,1304.8 L1558.6,1261.8 L1610.7,1261.8 L1610.7,1304.8 L1618.4,1304.8 L1618.4,1261.8 L1670.4,1261.8 L1670.4,1304.8 L1678.1,1304.8 L1678.1,1261.8 L1730.1,1261.8 L1730.1,1304.8 L1737.8,1304.8 L1737.8,1261.8 L1789.8,1261.8 L1789.8,1304.8 L1797.5,1304.8 L1797.5,1261.8 L1849.5,1261.8 L1849.5,1304.8 L1857.2,1304.8 L1857.2,1261.8 L1909.3,1261.8 L1909.3,1304.8 L1916.9,1304.8 L1916.9,1261.8 L1969.0,1261.8 L1969.0,1304.8 L1976.6,1304.8 L1976.6,1261.8 L2028.7,1261.8 L2028.7,1304.8 L2036.3,1304.8 L2036.3,1261.8 L2088.4,1261.8 L2088.4,1304.8 L2096.0,1304.8 L2096.0,1261.8 L2148.1,1261.8 L2148.1,1304.8 L2155.7,1304.8 L2155.7,1261.8 L2207.8,1261.8 L2207.8,1304.8 L2215.5,1304.8 L2215.5,1261.8 L2267.5,1261.8 L2267.5,1304.8 L2275.2,1304.8 L2275.2,1261.8 L2327.2,1261.8 L2327.2,1304.8 L2334.9,1304.8 L2334.9,1261.8 L2386.9,1261.8 L2386.9,1304.8 L2394.6,1304.8 L2394.6,1261.8 L2446.7,1261.8 L2446.7,1304.8 L2454.3,1304.8 L2454.3,1261.8 L2506.4,1261.8 L2506.4,1304.8 L2514.0,1304.8 L2514.0,1261.8 L2566.1,1261.8 L2566.1,1304.8 L2573.7,1304.8 L2573.7,1261.8 L2579.8,1261.8" stroke="#e98bb1" stroke-width="2.2"/><path d="M1518.3,1261.8 V1304.8 M1506.3,1261.8 H1518.3 M1506.3,1304.8 H1518.3" stroke="#e98bb1" stroke-width="2"/><path d="M1518.3,1366.2 L1519.0,1365.3 L1519.8,1364.2 L1520.5,1364.0 L1521.3,1362.8 L1522.0,1361.6 L1522.8,1360.8 L1523.5,1360.8 L1524.3,1359.4 L1525.0,1358.6 L1525.8,1357.9 L1526.5,1356.5 L1527.3,1356.2 L1528.0,1355.5 L1528.8,1354.8 L1529.5,1355.0 L1530.3,1355.3 L1531.0,1355.3 L1531.8,1355.2 L1532.5,1355.8 L1533.3,1355.2 L1534.0,1355.1 L1534.8,1355.9 L1535.5,1356.4 L1536.3,1357.4 L1537.0,1358.9 L1537.8,1359.8 L1538.5,1362.3 L1539.3,1364.3 L1540.0,1365.1 L1540.8,1368.4 L1541.5,1371.0 L1542.3,1372.6 L1543.0,1375.2 L1543.8,1378.5 L1544.5,1380.7 L1545.3,1383.3 L1546.0,1385.1 L1546.8,1386.9 L1547.5,1387.9 L1548.3,1390.0 L1549.0,1391.8 L1549.8,1393.7 L1550.5,1395.6 L1551.0,1396.8 L1551.3,1396.8 L1552.0,1396.8 L1552.3,1396.8 L1552.8,1396.8 L1553.5,1396.8 L1554.3,1396.8 L1555.0,1396.8 L1555.8,1396.8 L1556.5,1396.8 L1557.3,1396.8 L1558.0,1396.8 L1558.6,1396.8 L1558.8,1396.7 L1559.5,1394.6 L1560.0,1393.5 L1560.3,1391.5 L1561.0,1389.5 L1561.8,1387.5 L1562.5,1385.9 L1563.3,1383.6 L1564.0,1381.5 L1564.8,1379.1 L1565.0,1378.7 L1565.5,1376.9 L1566.3,1375.7 L1567.0,1374.5 L1567.8,1372.7 L1568.5,1372.7 L1569.3,1373.0 L1570.0,1373.4 L1570.8,1373.5 L1571.5,1373.1 L1572.3,1372.8 L1573.0,1372.1 L1573.8,1370.7 L1574.5,1369.9 L1575.3,1368.5 L1576.0,1368.3 L1576.8,1366.5 L1577.5,1366.6 L1577.9,1365.5 L1578.3,1365.1 L1579.0,1364.3 L1579.8,1362.7 L1580.5,1362.0 L1581.3,1361.7 L1582.0,1360.4 L1582.8,1359.3 L1583.5,1359.1 L1584.3,1358.1 L1585.0,1356.5 L1585.8,1355.4 L1586.5,1354.8 L1587.3,1353.9 L1588.0,1353.2 L1588.8,1353.4 L1589.5,1352.6 L1590.3,1352.4 L1591.0,1353.0 L1591.8,1353.6 L1592.5,1353.3 L1593.3,1352.8 L1594.0,1353.5 L1594.8,1354.5 L1595.5,1355.5 L1596.3,1355.9 L1597.0,1357.1 L1597.8,1358.8 L1598.5,1360.3 L1599.3,1362.1 L1600.0,1364.0 L1600.8,1366.9 L1601.5,1370.2 L1602.3,1372.5 L1603.0,1375.1 L1603.8,1378.0 L1604.5,1380.9 L1605.3,1383.7 L1606.0,1385.4 L1606.8,1386.5 L1607.5,1388.4 L1608.3,1390.3 L1609.0,1392.5 L1609.8,1394.4 L1610.5,1396.4 L1610.7,1396.8 L1611.3,1396.8 L1612.0,1396.8 L1612.0,1396.8 L1612.8,1396.8 L1613.5,1396.8 L1614.3,1396.8 L1615.0,1396.8 L1615.8,1396.8 L1616.5,1396.8 L1617.3,1396.8 L1618.0,1396.8 L1618.4,1396.8 L1618.8,1395.8 L1619.5,1393.8 L1619.7,1393.2 L1620.3,1391.0 L1621.0,1388.8 L1621.8,1387.1 L1622.5,1384.9 L1623.3,1381.8 L1624.0,1380.7 L1624.7,1377.6 L1624.8,1377.7 L1625.5,1376.0 L1626.3,1374.3 L1627.0,1373.4 L1627.8,1373.1 L1628.5,1372.2 L1629.3,1373.2 L1630.0,1372.9 L1630.8,1373.3 L1631.5,1373.6 L1632.3,1372.9 L1633.0,1372.2 L1633.8,1370.4 L1634.5,1369.6 L1635.3,1369.5 L1636.0,1368.8 L1636.8,1367.7 L1637.5,1366.3 L1637.6,1366.4 L1638.3,1365.4 L1639.0,1364.5 L1639.8,1363.9 L1640.5,1363.0 L1641.3,1363.2 L1642.0,1362.4 L1642.8,1360.5 L1643.5,1360.0 L1644.3,1359.6 L1645.0,1359.0 L1645.8,1357.9 L1646.5,1357.1 L1647.3,1356.1 L1648.0,1355.9 L1648.8,1356.1 L1649.5,1356.1 L1650.3,1355.9 L1651.0,1356.1 L1651.8,1356.2 L1652.5,1355.9 L1653.3,1356.3 L1654.0,1355.7 L1654.8,1357.0 L1655.5,1358.2 L1656.3,1359.1 L1657.0,1360.6 L1657.8,1362.5 L1658.5,1364.4 L1659.3,1366.0 L1660.0,1368.2 L1660.8,1370.7 L1661.5,1373.1 L1662.3,1374.8 L1663.0,1378.2 L1663.8,1380.1 L1664.5,1382.6 L1665.3,1384.7 L1666.0,1385.7 L1666.8,1387.9 L1667.5,1389.9 L1668.3,1391.7 L1669.0,1393.2 L1669.8,1395.2 L1670.4,1396.8 L1670.5,1396.8 L1671.3,1396.8 L1671.7,1396.8 L1672.0,1396.8 L1672.8,1396.8 L1673.5,1396.8 L1674.3,1396.8 L1675.0,1396.8 L1675.8,1396.8 L1676.5,1396.8 L1677.3,1396.8 L1678.0,1396.8 L1678.1,1396.8 L1678.8,1394.1 L1679.4,1393.2 L1679.5,1392.9 L1680.3,1389.7 L1681.0,1387.9 L1681.8,1385.3 L1682.5,1383.9 L1683.3,1381.1 L1684.0,1379.9 L1684.5,1378.5 L1684.8,1376.8 L1685.5,1375.6 L1686.3,1374.0 L1687.0,1373.3 L1687.8,1372.1 L1688.5,1373.4 L1689.3,1373.0 L1690.0,1373.9 L1690.8,1374.1 L1691.5,1372.4 L1692.3,1372.1 L1693.0,1370.7 L1693.8,1370.5 L1694.5,1369.1 L1695.3,1368.0 L1696.0,1367.5 L1696.8,1367.1 L1697.3,1366.0 L1697.5,1365.4 L1698.3,1364.7 L1699.0,1364.3 L1699.8,1363.5 L1700.5,1363.0 L1701.3,1361.3 L1702.0,1361.2 L1702.8,1360.3 L1703.5,1359.6 L1704.3,1358.6 L1705.0,1357.5 L1705.8,1356.5 L1706.5,1356.0 L1707.3,1355.0 L1708.0,1354.5 L1708.8,1355.2 L1709.5,1355.0 L1710.3,1354.6 L1711.0,1354.2 L1711.8,1354.2 L1712.5,1354.7 L1713.3,1355.4 L1714.0,1355.0 L1714.8,1355.9 L1715.5,1357.1 L1716.3,1358.6 L1717.0,1359.9 L1717.8,1361.6 L1718.5,1363.2 L1719.3,1364.9 L1720.0,1368.1 L1720.8,1370.6 L1721.5,1373.4 L1722.3,1375.7 L1723.0,1378.2 L1723.8,1381.1 L1724.5,1383.4 L1725.3,1384.5 L1726.0,1386.9 L1726.8,1388.4 L1727.5,1390.3 L1728.3,1391.6 L1729.0,1394.0 L1729.8,1395.9 L1730.1,1396.8 L1730.5,1396.8 L1731.3,1396.8 L1731.4,1396.8 L1732.0,1396.8 L1732.8,1396.8 L1733.5,1396.8 L1734.3,1396.8 L1735.0,1396.8 L1735.8,1396.8 L1736.5,1396.8 L1737.3,1396.8 L1737.8,1396.8 L1738.0,1396.2 L1738.8,1393.4 L1739.1,1392.4 L1739.5,1391.2 L1740.3,1389.1 L1741.0,1387.6 L1741.8,1385.1 L1742.5,1382.5 L1743.3,1381.0 L1744.0,1378.4 L1744.2,1377.7 L1744.8,1375.8 L1745.5,1375.3 L1746.3,1374.4 L1747.0,1373.3 L1747.8,1372.9 L1748.5,1373.0 L1749.3,1373.6 L1750.0,1373.2 L1750.8,1373.2 L1751.5,1372.3 L1752.3,1371.2 L1753.0,1371.0 L1753.8,1369.7 L1754.5,1369.2 L1755.3,1368.5 L1756.0,1367.8 L1756.8,1366.1 L1757.0,1365.8 L1757.5,1366.2 L1758.3,1364.5 L1759.0,1364.4 L1759.8,1363.1 L1760.5,1362.4 L1761.3,1360.8 L1762.0,1360.5 L1762.8,1359.6 L1763.5,1358.9 L1764.3,1358.2 L1765.0,1357.3 L1765.8,1356.7 L1766.5,1355.9 L1767.3,1354.8 L1768.0,1354.5 L1768.8,1354.4 L1769.5,1354.8 L1770.3,1354.0 L1771.0,1355.2 L1771.8,1354.9 L1772.5,1355.0 L1773.3,1355.3 L1774.0,1355.3 L1774.8,1356.6 L1775.5,1358.4 L1776.3,1359.4 L1777.0,1360.1 L1777.8,1362.6 L1778.5,1364.5 L1779.3,1366.8 L1780.0,1369.3 L1780.8,1371.5 L1781.5,1374.4 L1782.3,1376.6 L1783.0,1379.8 L1783.8,1381.8 L1784.5,1384.0 L1785.3,1385.9 L1786.0,1386.7 L1786.8,1388.4 L1787.5,1390.6 L1788.3,1392.8 L1789.0,1394.7 L1789.8,1396.7 L1789.8,1396.8 L1790.5,1396.8 L1791.2,1396.8 L1791.3,1396.8 L1792.0,1396.8 L1792.8,1396.8 L1793.5,1396.8 L1794.3,1396.8 L1795.0,1396.8 L1795.8,1396.8 L1796.5,1396.8 L1797.3,1396.8 L1797.5,1396.8 L1798.0,1395.3 L1798.8,1393.4 L1798.8,1392.8 L1799.5,1391.0 L1800.3,1389.0 L1801.0,1386.4 L1801.8,1384.6 L1802.5,1381.9 L1803.3,1379.5 L1803.9,1378.8 L1804.0,1377.5 L1804.8,1376.3 L1805.5,1374.9 L1806.3,1373.2 L1807.0,1371.9 L1807.8,1373.0 L1808.5,1372.8 L1809.3,1373.6 L1810.0,1373.2 L1810.8,1373.4 L1811.5,1371.8 L1812.3,1371.6 L1813.0,1370.1 L1813.8,1368.9 L1814.5,1367.8 L1815.3,1367.1 L1816.0,1366.4 L1816.7,1365.8 L1816.8,1365.4 L1817.5,1364.4 L1818.3,1363.5 L1819.0,1362.5 L1819.8,1361.5 L1820.5,1360.3 L1821.3,1359.8 L1822.0,1358.5 L1822.8,1357.8 L1823.5,1357.3 L1824.3,1355.8 L1825.0,1355.4 L1825.8,1354.0 L1826.5,1353.0 L1827.3,1352.8 L1828.0,1352.7 L1828.8,1352.8 L1829.5,1353.0 L1830.3,1353.4 L1831.0,1353.0 L1831.8,1352.8 L1832.5,1353.5 L1833.3,1354.0 L1834.0,1354.4 L1834.8,1355.3 L1835.5,1357.2 L1836.3,1358.4 L1837.0,1360.2 L1837.8,1361.5 L1838.5,1363.1 L1839.3,1366.5 L1840.0,1368.6 L1840.8,1372.2 L1841.5,1374.8 L1842.3,1377.1 L1843.0,1379.6 L1843.8,1382.7 L1844.5,1384.5 L1845.3,1386.4 L1846.0,1387.9 L1846.8,1389.6 L1847.5,1392.2 L1848.3,1393.5 L1849.0,1395.5 L1849.5,1396.8 L1849.8,1396.8 L1850.5,1396.8 L1850.9,1396.8 L1851.3,1396.8 L1852.0,1396.8 L1852.8,1396.8 L1853.5,1396.8 L1854.3,1396.8 L1855.0,1396.8 L1855.8,1396.8 L1856.5,1396.8 L1857.2,1396.8 L1857.3,1396.5 L1858.0,1394.7 L1858.5,1393.2 L1858.8,1391.9 L1859.5,1390.3 L1860.3,1388.1 L1861.0,1385.0 L1861.8,1383.2 L1862.5,1381.3 L1863.3,1378.6 L1863.6,1377.9 L1864.0,1376.4 L1864.8,1375.3 L1865.5,1374.1 L1866.3,1373.5 L1867.0,1372.7 L1867.8,1373.1 L1868.5,1373.5 L1869.3,1373.7 L1870.0,1373.1 L1870.8,1373.1 L1871.5,1372.5 L1872.3,1371.4 L1873.0,1370.8 L1873.8,1370.2 L1874.5,1368.3 L1875.3,1368.0 L1876.0,1367.8 L1876.4,1366.8 L1876.8,1366.9 L1877.5,1365.7 L1878.3,1364.3 L1879.0,1363.5 L1879.8,1363.4 L1880.5,1362.2 L1881.3,1361.7 L1882.0,1361.4 L1882.8,1360.2 L1883.5,1359.0 L1884.3,1358.2 L1885.0,1357.5 L1885.8,1356.4 L1886.5,1356.6 L1887.3,1356.1 L1888.0,1355.8 L1888.8,1355.6 L1889.5,1355.7 L1890.3,1355.7 L1891.0,1356.5 L1891.8,1356.5 L1892.5,1356.3 L1893.3,1357.6 L1894.0,1358.4 L1894.8,1359.4 L1895.5,1360.7 L1896.3,1362.0 L1897.0,1363.3 L1897.8,1365.6 L1898.5,1368.0 L1899.3,1369.4 L1900.0,1371.5 L1900.8,1374.8 L1901.5,1376.5 L1902.3,1379.6 L1903.0,1381.8 L1903.8,1384.1 L1904.5,1385.1 L1905.3,1386.8 L1906.0,1388.0 L1906.8,1390.2 L1907.5,1392.3 L1908.3,1394.3 L1909.0,1396.3 L1909.3,1396.8 L1909.8,1396.8 L1910.5,1396.8 L1910.6,1396.8 L1911.3,1396.8 L1912.0,1396.8 L1912.8,1396.8 L1913.5,1396.8 L1914.3,1396.8 L1915.0,1396.8 L1915.8,1396.8 L1916.5,1396.8 L1916.9,1396.8 L1917.3,1395.3 L1918.0,1393.0 L1918.2,1392.9 L1918.8,1391.6 L1919.5,1389.5 L1920.3,1386.5 L1921.0,1384.3 L1921.8,1382.3 L1922.5,1379.8 L1923.3,1377.8 L1923.3,1378.3 L1924.0,1376.6 L1924.8,1375.0 L1925.5,1373.2 L1926.3,1372.0 L1927.0,1373.4 L1927.8,1373.7 L1928.5,1373.4 L1929.3,1373.2 L1930.0,1372.8 L1930.8,1372.0 L1931.5,1372.1 L1932.3,1371.1 L1933.0,1369.6 L1933.8,1369.1 L1934.5,1368.4 L1935.3,1366.8 L1936.0,1367.1 L1936.1,1366.5 L1936.8,1365.2 L1937.5,1364.6 L1938.3,1363.5 L1939.0,1363.5 L1939.8,1362.3 L1940.5,1360.9 L1941.3,1361.1 L1942.0,1359.9 L1942.8,1358.4 L1943.5,1358.6 L1944.3,1357.0 L1945.0,1356.2 L1945.8,1355.9 L1946.5,1354.8 L1947.3,1354.9 L1948.0,1355.6 L1948.8,1354.5 L1949.5,1354.7 L1950.3,1355.2 L1951.0,1355.9 L1951.8,1355.0 L1952.5,1355.3 L1953.3,1356.2 L1954.0,1358.1 L1954.8,1358.7 L1955.5,1359.4 L1956.3,1361.0 L1957.0,1363.6 L1957.8,1365.3 L1958.5,1367.5 L1959.3,1369.9 L1960.0,1371.8 L1960.8,1374.3 L1961.5,1377.9 L1962.3,1379.6 L1963.0,1382.7 L1963.8,1383.9 L1964.5,1385.9 L1965.3,1387.0 L1966.0,1388.7 L1966.8,1390.6 L1967.5,1393.1 L1968.3,1395.1 L1969.0,1396.8 L1969.0,1396.8 L1969.8,1396.8 L1970.3,1396.8 L1970.5,1396.8 L1971.3,1396.8 L1972.0,1396.8 L1972.8,1396.8 L1973.5,1396.8 L1974.3,1396.8 L1975.0,1396.8 L1975.8,1396.8 L1976.5,1396.8 L1976.6,1396.8 L1977.3,1395.2 L1977.9,1393.5 L1978.0,1392.3 L1978.8,1390.5 L1979.5,1387.9 L1980.3,1386.1 L1981.0,1384.0 L1981.8,1381.4 L1982.5,1379.6 L1983.0,1378.2 L1983.3,1377.4 L1984.0,1375.5 L1984.8,1375.0 L1985.5,1373.3 L1986.3,1372.5 L1987.0,1372.6 L1987.8,1372.7 L1988.5,1373.6 L1989.3,1373.2 L1990.0,1372.6 L1990.8,1372.1 L1991.5,1371.0 L1992.3,1370.4 L1993.0,1369.1 L1993.8,1369.0 L1994.5,1367.1 L1995.3,1366.8 L1995.8,1366.6 L1996.0,1366.3 L1996.8,1365.1 L1997.5,1364.3 L1998.3,1362.7 L1999.0,1362.4 L1999.8,1360.9 L2000.5,1360.8 L2001.3,1359.8 L2002.0,1358.2 L2002.8,1357.4 L2003.5,1356.4 L2004.3,1356.5 L2005.0,1355.7 L2005.8,1354.2 L2006.5,1354.5 L2007.3,1354.7 L2008.0,1354.6 L2008.8,1354.3 L2009.5,1354.4 L2010.3,1354.0 L2011.0,1353.7 L2011.8,1354.8 L2012.5,1354.5 L2013.3,1355.8 L2014.0,1356.5 L2014.8,1357.5 L2015.5,1358.6 L2016.3,1361.5 L2017.0,1362.6 L2017.8,1364.5 L2018.5,1367.6 L2019.3,1370.7 L2020.0,1372.4 L2020.8,1375.2 L2021.5,1377.6 L2022.3,1380.3 L2023.0,1382.9 L2023.8,1385.5 L2024.5,1385.9 L2025.3,1387.5 L2026.0,1390.1 L2026.8,1391.6 L2027.5,1393.9 L2028.3,1395.8 L2028.7,1396.8 L2029.0,1396.8 L2029.8,1396.8 L2030.0,1396.8 L2030.5,1396.8 L2031.3,1396.8 L2032.0,1396.8 L2032.8,1396.8 L2033.5,1396.8 L2034.3,1396.8 L2035.0,1396.8 L2035.8,1396.8 L2036.3,1396.8 L2036.5,1395.6 L2037.3,1394.0 L2037.6,1393.2 L2038.0,1391.6 L2038.8,1389.2 L2039.5,1387.5 L2040.3,1385.0 L2041.0,1382.5 L2041.8,1381.0 L2042.5,1378.1 L2042.7,1378.6 L2043.3,1376.3 L2044.0,1374.8 L2044.8,1374.1 L2045.5,1373.1 L2046.3,1373.0 L2047.0,1373.2 L2047.8,1373.4 L2048.6,1373.7 L2049.3,1373.7 L2050.1,1372.4 L2050.8,1372.0 L2051.6,1371.1 L2052.3,1370.0 L2053.1,1368.6 L2053.8,1368.5 L2054.6,1367.8 L2055.3,1366.2 L2055.6,1366.1 L2056.1,1366.1 L2056.8,1364.2 L2057.6,1364.3 L2058.3,1362.9 L2059.1,1362.5 L2059.8,1361.0 L2060.6,1360.7 L2061.3,1359.5 L2062.1,1358.4 L2062.8,1357.7 L2063.6,1357.3 L2064.3,1356.4 L2065.1,1355.2 L2065.8,1354.8 L2066.6,1354.5 L2067.3,1355.2 L2068.1,1355.1 L2068.8,1355.2 L2069.6,1354.3 L2070.3,1355.2 L2071.1,1354.5 L2071.8,1355.0 L2072.6,1355.2 L2073.3,1356.7 L2074.1,1357.5 L2074.8,1359.5 L2075.6,1359.9 L2076.3,1362.4 L2077.1,1364.7 L2077.8,1365.9 L2078.6,1369.2 L2079.3,1371.3 L2080.1,1374.6 L2080.8,1376.6 L2081.6,1379.1 L2082.3,1381.7 L2083.1,1383.6 L2083.8,1385.8 L2084.6,1386.6 L2085.3,1389.2 L2086.1,1390.1 L2086.8,1392.7 L2087.6,1394.6 L2088.3,1396.6 L2088.4,1396.8 L2089.1,1396.8 L2089.7,1396.8 L2089.8,1396.8 L2090.6,1396.8 L2091.3,1396.8 L2092.1,1396.8 L2092.8,1396.8 L2093.6,1396.8 L2094.3,1396.8 L2095.1,1396.8 L2095.8,1396.8 L2096.0,1396.8 L2096.6,1395.6 L2097.3,1392.9 L2097.3,1392.4 L2098.1,1390.7 L2098.8,1388.3 L2099.6,1387.0 L2100.3,1383.8 L2101.1,1382.7 L2101.8,1379.8 L2102.4,1377.8 L2102.6,1377.5 L2103.3,1375.7 L2104.1,1374.6 L2104.8,1372.9 L2105.6,1372.8 L2106.3,1372.3 L2107.1,1372.7 L2107.8,1373.8 L2108.6,1373.8 L2109.3,1373.1 L2110.1,1372.5 L2110.8,1370.7 L2111.6,1369.8 L2112.3,1369.0 L2113.1,1368.9 L2113.8,1367.2 L2114.6,1366.0 L2115.3,1365.4 L2115.3,1365.1 L2116.1,1364.1 L2116.8,1363.5 L2117.6,1362.5 L2118.3,1362.1 L2119.1,1360.6 L2119.8,1360.2 L2120.6,1359.4 L2121.3,1358.3 L2122.1,1357.4 L2122.8,1356.8 L2123.6,1355.8 L2124.3,1354.7 L2125.1,1353.8 L2125.8,1353.9 L2126.6,1352.9 L2127.3,1352.7 L2128.1,1353.2 L2128.8,1352.8 L2129.6,1352.7 L2130.3,1353.8 L2131.1,1353.3 L2131.8,1353.5 L2132.6,1355.1 L2133.3,1355.2 L2134.1,1356.4 L2134.8,1357.8 L2135.6,1359.5 L2136.3,1361.1 L2137.1,1363.9 L2137.8,1365.5 L2138.6,1368.7 L2139.3,1371.8 L2140.1,1374.6 L2140.8,1377.0 L2141.6,1380.3 L2142.3,1382.1 L2143.1,1384.7 L2143.8,1385.7 L2144.6,1387.1 L2145.3,1389.1 L2146.1,1391.9 L2146.8,1393.4 L2147.6,1395.4 L2148.1,1396.8 L2148.3,1396.8 L2149.1,1396.8 L2149.4,1396.8 L2149.8,1396.8 L2150.6,1396.8 L2151.3,1396.8 L2152.1,1396.8 L2152.8,1396.8 L2153.6,1396.8 L2154.3,1396.8 L2155.1,1396.8 L2155.7,1396.8 L2155.8,1396.6 L2156.6,1394.8 L2157.1,1392.8 L2157.3,1391.7 L2158.1,1389.9 L2158.8,1388.1 L2159.6,1385.3 L2160.3,1383.6 L2161.1,1381.2 L2161.8,1379.2 L2162.1,1377.6 L2162.6,1376.8 L2163.3,1376.0 L2164.1,1374.1 L2164.8,1373.2 L2165.6,1373.0 L2166.3,1372.9 L2167.1,1373.5 L2167.8,1373.0 L2168.6,1374.0 L2169.3,1372.8 L2170.1,1372.7 L2170.8,1371.6 L2171.6,1370.4 L2172.3,1369.8 L2173.1,1368.8 L2173.8,1368.2 L2174.6,1367.3 L2175.0,1367.4 L2175.3,1366.2 L2176.1,1365.8 L2176.8,1365.8 L2177.6,1364.0 L2178.3,1364.1 L2179.1,1363.0 L2179.8,1361.9 L2180.6,1360.9 L2181.3,1361.0 L2182.1,1360.1 L2182.8,1359.0 L2183.6,1358.1 L2184.3,1357.6 L2185.1,1356.7 L2185.8,1356.2 L2186.6,1357.2 L2187.3,1356.7 L2188.1,1356.3 L2188.8,1356.3 L2189.6,1356.2 L2190.3,1357.1 L2191.1,1357.2 L2191.8,1357.4 L2192.6,1358.2 L2193.3,1359.3 L2194.1,1360.7 L2194.8,1362.4 L2195.6,1363.6 L2196.3,1366.1 L2197.1,1368.3 L2197.8,1370.6 L2198.6,1372.5 L2199.3,1374.7 L2200.1,1376.8 L2200.8,1379.1 L2201.6,1381.3 L2202.3,1383.4 L2203.1,1385.6 L2203.8,1386.4 L2204.6,1388.1 L2205.3,1389.9 L2206.1,1392.2 L2206.8,1394.2 L2207.6,1396.1 L2207.8,1396.8 L2208.3,1396.8 L2209.1,1396.8 L2209.1,1396.8 L2209.8,1396.8 L2210.6,1396.8 L2211.3,1396.8 L2212.1,1396.8 L2212.8,1396.8 L2213.6,1396.8 L2214.3,1396.8 L2215.1,1396.8 L2215.5,1396.8 L2215.8,1395.7 L2216.6,1393.6 L2216.8,1392.6 L2217.3,1391.2 L2218.1,1389.5 L2218.8,1386.6 L2219.6,1385.2 L2220.3,1382.9 L2221.1,1380.1 L2221.8,1378.3 L2221.8,1378.6 L2222.6,1375.8 L2223.3,1374.9 L2224.1,1374.4 L2224.8,1372.8 L2225.6,1372.9 L2226.3,1373.3 L2227.1,1373.1 L2227.8,1374.0 L2228.6,1373.8 L2229.3,1371.9 L2230.1,1371.4 L2230.8,1370.6 L2231.6,1369.3 L2232.3,1368.6 L2233.1,1367.5 L2233.8,1367.3 L2234.6,1366.4 L2234.7,1366.2 L2235.3,1365.3 L2236.1,1364.3 L2236.8,1363.9 L2237.6,1362.6 L2238.3,1361.2 L2239.1,1360.6 L2239.8,1360.6 L2240.6,1359.1 L2241.3,1358.1 L2242.1,1357.9 L2242.8,1355.9 L2243.6,1355.2 L2244.3,1354.6 L2245.1,1354.3 L2245.8,1354.1 L2246.6,1354.2 L2247.3,1353.9 L2248.1,1354.1 L2248.8,1354.4 L2249.6,1354.3 L2250.3,1354.9 L2251.1,1354.3 L2251.8,1355.7 L2252.6,1356.8 L2253.3,1358.0 L2254.1,1358.3 L2254.8,1360.2 L2255.6,1362.0 L2256.3,1364.0 L2257.1,1366.2 L2257.8,1369.1 L2258.6,1371.8 L2259.3,1373.8 L2260.1,1376.5 L2260.8,1379.8 L2261.6,1382.4 L2262.3,1384.4 L2263.1,1385.4 L2263.8,1387.6 L2264.6,1389.4 L2265.3,1391.1 L2266.1,1393.0 L2266.8,1394.9 L2267.5,1396.8 L2267.6,1396.8 L2268.3,1396.8 L2268.8,1396.8 L2269.1,1396.8 L2269.8,1396.8 L2270.6,1396.8 L2271.3,1396.8 L2272.1,1396.8 L2272.8,1396.8 L2273.6,1396.8 L2274.3,1396.8 L2275.1,1396.8 L2275.2,1396.8 L2275.8,1394.9 L2276.5,1392.8 L2276.6,1393.0 L2277.3,1390.7 L2278.1,1387.8 L2278.8,1385.9 L2279.6,1384.4 L2280.3,1381.8 L2281.1,1380.1 L2281.6,1377.6 L2281.8,1377.7 L2282.6,1375.3 L2283.3,1374.9 L2284.1,1373.7 L2284.8,1372.7 L2285.6,1373.1 L2286.3,1373.3 L2287.1,1373.6 L2287.8,1373.9 L2288.6,1373.4 L2289.3,1371.8 L2290.1,1370.8 L2290.8,1370.5 L2291.6,1369.7 L2292.3,1368.9 L2293.1,1367.8 L2293.8,1366.5 L2294.4,1365.7 L2294.6,1365.1 L2295.3,1364.3 L2296.1,1364.2 L2296.8,1363.2 L2297.6,1362.4 L2298.3,1361.6 L2299.1,1360.8 L2299.8,1359.2 L2300.6,1357.8 L2301.3,1356.9 L2302.1,1357.2 L2302.8,1356.0 L2303.6,1354.9 L2304.3,1353.5 L2305.1,1354.3 L2305.8,1353.8 L2306.6,1353.1 L2307.3,1353.2 L2308.1,1354.0 L2308.8,1353.7 L2309.6,1353.6 L2310.3,1354.3 L2311.1,1353.8 L2311.8,1355.1 L2312.6,1356.6 L2313.3,1357.7 L2314.1,1359.0 L2314.8,1359.9 L2315.6,1362.7 L2316.3,1364.1 L2317.1,1366.6 L2317.8,1369.4 L2318.6,1371.9 L2319.3,1375.2 L2320.1,1377.4 L2320.8,1380.7 L2321.6,1382.7 L2322.3,1384.5 L2323.1,1386.4 L2323.8,1387.7 L2324.6,1389.6 L2325.3,1392.4 L2326.1,1393.7 L2326.8,1395.7 L2327.2,1396.8 L2327.6,1396.8 L2328.3,1396.8 L2328.5,1396.8 L2329.1,1396.8 L2329.8,1396.8 L2330.6,1396.8 L2331.3,1396.8 L2332.1,1396.8 L2332.8,1396.8 L2333.6,1396.8 L2334.3,1396.8 L2334.9,1396.8 L2335.1,1396.6 L2335.8,1394.5 L2336.2,1392.7 L2336.6,1391.5 L2337.3,1390.1 L2338.1,1387.0 L2338.8,1385.7 L2339.6,1383.2 L2340.3,1380.5 L2341.1,1379.1 L2341.3,1377.7 L2341.8,1377.2 L2342.6,1375.6 L2343.3,1373.7 L2344.1,1372.7 L2344.8,1373.1 L2345.6,1373.0 L2346.3,1373.2 L2347.1,1374.2 L2347.8,1372.9 L2348.6,1373.1 L2349.3,1371.1 L2350.1,1370.5 L2350.8,1369.6 L2351.6,1369.1 L2352.3,1368.3 L2353.1,1367.1 L2353.8,1365.6 L2354.1,1366.3 L2354.6,1365.3 L2355.3,1364.3 L2356.1,1362.9 L2356.8,1362.3 L2357.6,1361.1 L2358.3,1360.5 L2359.1,1359.9 L2359.8,1358.4 L2360.6,1358.6 L2361.3,1356.8 L2362.1,1356.8 L2362.8,1355.8 L2363.6,1355.0 L2364.3,1353.9 L2365.1,1353.4 L2365.8,1353.3 L2366.6,1353.4 L2367.3,1353.7 L2368.1,1353.9 L2368.8,1353.8 L2369.6,1354.0 L2370.3,1353.9 L2371.1,1354.5 L2371.8,1356.2 L2372.6,1356.3 L2373.3,1358.3 L2374.1,1358.8 L2374.8,1361.7 L2375.6,1363.6 L2376.3,1364.7 L2377.1,1368.1 L2377.8,1370.7 L2378.6,1373.0 L2379.3,1376.5 L2380.1,1378.5 L2380.8,1380.9 L2381.6,1383.9 L2382.3,1386.0 L2383.1,1387.4 L2383.8,1388.2 L2384.6,1390.9 L2385.3,1392.5 L2386.1,1394.5 L2386.8,1396.4 L2386.9,1396.8 L2387.6,1396.8 L2388.3,1396.8 L2388.3,1396.8 L2389.1,1396.8 L2389.8,1396.8 L2390.6,1396.8 L2391.3,1396.8 L2392.1,1396.8 L2392.8,1396.8 L2393.6,1396.8 L2394.3,1396.8 L2394.6,1396.8 L2395.1,1395.2 L2395.8,1393.1 L2395.9,1392.6 L2396.6,1390.9 L2397.3,1388.8 L2398.1,1386.3 L2398.8,1384.2 L2399.6,1382.6 L2400.3,1380.7 L2401.0,1378.1 L2401.1,1377.9 L2401.8,1375.9 L2402.6,1375.1 L2403.3,1373.0 L2404.1,1372.4 L2404.8,1372.9 L2405.6,1373.5 L2406.3,1373.8 L2407.1,1374.0 L2407.8,1372.9 L2408.6,1372.3 L2409.3,1370.9 L2410.1,1370.6 L2410.8,1369.0 L2411.6,1367.9 L2412.3,1367.4 L2413.1,1366.3 L2413.8,1366.0 L2413.8,1365.8 L2414.6,1364.9 L2415.3,1364.0 L2416.1,1362.4 L2416.8,1362.2 L2417.6,1360.6 L2418.3,1359.9 L2419.1,1359.6 L2419.8,1358.4 L2420.6,1357.5 L2421.3,1356.6 L2422.1,1355.0 L2422.8,1354.5 L2423.6,1353.8 L2424.3,1353.4 L2425.1,1353.6 L2425.8,1353.7 L2426.6,1353.4 L2427.3,1352.9 L2428.1,1353.0 L2428.8,1354.0 L2429.6,1353.4 L2430.3,1353.4 L2431.1,1354.6 L2431.8,1355.3 L2432.6,1357.2 L2433.3,1358.4 L2434.1,1359.8 L2434.8,1362.1 L2435.6,1363.0 L2436.3,1366.1 L2437.1,1368.5 L2437.8,1371.5 L2438.6,1374.1 L2439.3,1377.1 L2440.1,1379.3 L2440.8,1381.9 L2441.6,1383.9 L2442.3,1386.0 L2443.1,1387.6 L2443.8,1389.3 L2444.6,1390.8 L2445.3,1393.3 L2446.1,1395.2 L2446.7,1396.8 L2446.8,1396.8 L2447.6,1396.8 L2448.0,1396.8 L2448.3,1396.8 L2449.1,1396.8 L2449.8,1396.8 L2450.6,1396.8 L2451.3,1396.8 L2452.1,1396.8 L2452.8,1396.8 L2453.6,1396.8 L2454.3,1396.8 L2454.3,1396.8 L2455.1,1394.8 L2455.6,1393.6 L2455.8,1392.4 L2456.6,1389.8 L2457.3,1388.5 L2458.1,1386.0 L2458.8,1383.5 L2459.6,1381.3 L2460.3,1379.5 L2460.7,1377.9 L2461.1,1376.7 L2461.8,1375.3 L2462.6,1373.9 L2463.3,1373.6 L2464.1,1372.7 L2464.8,1373.0 L2465.6,1373.5 L2466.3,1373.6 L2467.1,1373.1 L2467.8,1372.5 L2468.6,1372.4 L2469.3,1370.9 L2470.1,1370.1 L2470.8,1369.8 L2471.6,1368.8 L2472.3,1368.3 L2473.1,1367.0 L2473.5,1366.2 L2473.8,1366.3 L2474.6,1365.5 L2475.3,1364.8 L2476.1,1363.0 L2476.8,1363.1 L2477.6,1362.0 L2478.3,1361.4 L2479.1,1360.3 L2479.8,1359.1 L2480.6,1358.1 L2481.3,1357.7 L2482.1,1356.4 L2482.8,1356.3 L2483.6,1355.2 L2484.3,1355.5 L2485.1,1355.5 L2485.8,1355.2 L2486.6,1355.4 L2487.3,1355.0 L2488.1,1355.7 L2488.8,1355.1 L2489.6,1355.1 L2490.3,1356.5 L2491.1,1357.2 L2491.8,1357.9 L2492.6,1359.0 L2493.3,1360.2 L2494.1,1362.8 L2494.8,1363.8 L2495.6,1366.6 L2496.3,1369.2 L2497.1,1370.8 L2497.8,1373.6 L2498.6,1376.4 L2499.3,1378.9 L2500.1,1381.1 L2500.8,1383.2 L2501.6,1385.6 L2502.3,1386.6 L2503.1,1388.2 L2503.8,1389.7 L2504.6,1392.2 L2505.3,1394.0 L2506.1,1396.0 L2506.4,1396.8 L2506.8,1396.8 L2507.6,1396.8 L2507.7,1396.8 L2508.3,1396.8 L2509.1,1396.8 L2509.8,1396.8 L2510.6,1396.8 L2511.3,1396.8 L2512.1,1396.8 L2512.8,1396.8 L2513.6,1396.8 L2514.0,1396.8 L2514.3,1396.3 L2515.1,1393.6 L2515.3,1393.5 L2515.8,1392.1 L2516.6,1388.9 L2517.3,1387.1 L2518.1,1385.2 L2518.8,1383.2 L2519.6,1381.1 L2520.3,1378.5 L2520.4,1378.3 L2521.1,1375.8 L2521.8,1375.1 L2522.6,1374.0 L2523.3,1372.7 L2524.1,1373.0 L2524.8,1373.0 L2525.6,1373.5 L2526.3,1374.0 L2527.1,1373.5 L2527.8,1372.2 L2528.6,1372.3 L2529.3,1370.9 L2530.1,1369.7 L2530.8,1369.3 L2531.6,1368.7 L2532.3,1367.4 L2533.1,1366.8 L2533.2,1367.1 L2533.8,1366.9 L2534.6,1365.0 L2535.3,1364.7 L2536.1,1364.1 L2536.8,1363.7 L2537.6,1362.6 L2538.3,1361.2 L2539.1,1360.6 L2539.8,1360.3 L2540.6,1358.8 L2541.3,1358.0 L2542.1,1358.1 L2542.8,1356.6 L2543.6,1356.6 L2544.3,1356.4 L2545.1,1356.4 L2545.8,1356.0 L2546.6,1356.6 L2547.3,1355.7 L2548.1,1356.7 L2548.8,1355.8 L2549.6,1357.0 L2550.3,1357.5 L2551.1,1358.7 L2551.8,1358.9 L2552.6,1360.8 L2553.3,1361.5 L2554.1,1364.1 L2554.8,1366.4 L2555.6,1368.2 L2556.3,1370.9 L2557.1,1372.7 L2557.8,1375.4 L2558.6,1377.7 L2559.3,1380.1 L2560.1,1382.2 L2560.8,1383.5 L2561.6,1385.6 L2562.3,1387.1 L2563.1,1388.5 L2563.8,1391.0 L2564.6,1392.8 L2565.3,1394.8 L2566.1,1396.7 L2566.1,1396.8 L2566.8,1396.8 L2567.4,1396.8 L2567.6,1396.8 L2568.3,1396.8 L2569.1,1396.8 L2569.8,1396.8 L2570.6,1396.8 L2571.3,1396.8 L2572.1,1396.8 L2572.8,1396.8 L2573.6,1396.8 L2573.7,1396.8 L2574.3,1394.9 L2575.0,1393.6 L2575.1,1392.9 L2575.8,1390.3 L2576.6,1388.7 L2577.3,1386.8 L2578.1,1383.6 L2578.8,1381.6 L2579.6,1380.0 L2579.6,1398.8 L1518.3,1398.8 Z" fill="#277a00" fill-opacity="0.05"/><path d="M1518.3,1366.2 L1519.0,1365.3 L1519.8,1364.2 L1520.5,1364.0 L1521.3,1362.8 L1522.0,1361.6 L1522.8,1360.8 L1523.5,1360.8 L1524.3,1359.4 L1525.0,1358.6 L1525.8,1357.9 L1526.5,1356.5 L1527.3,1356.2 L1528.0,1355.5 L1528.8,1354.8 L1529.5,1355.0 L1530.3,1355.3 L1531.0,1355.3 L1531.8,1355.2 L1532.5,1355.8 L1533.3,1355.2 L1534.0,1355.1 L1534.8,1355.9 L1535.5,1356.4 L1536.3,1357.4 L1537.0,1358.9 L1537.8,1359.8 L1538.5,1362.3 L1539.3,1364.3 L1540.0,1365.1 L1540.8,1368.4 L1541.5,1371.0 L1542.3,1372.6 L1543.0,1375.2 L1543.8,1378.5 L1544.5,1380.7 L1545.3,1383.3 L1546.0,1385.1 L1546.8,1386.9 L1547.5,1387.9 L1548.3,1390.0 L1549.0,1391.8 L1549.8,1393.7 L1550.5,1395.6 L1551.0,1396.8 L1551.3,1396.8 L1552.0,1396.8 L1552.3,1396.8 L1552.8,1396.8 L1553.5,1396.8 L1554.3,1396.8 L1555.0,1396.8 L1555.8,1396.8 L1556.5,1396.8 L1557.3,1396.8 L1558.0,1396.8 L1558.6,1396.8 L1558.8,1396.7 L1559.5,1394.6 L1560.0,1393.5 L1560.3,1391.5 L1561.0,1389.5 L1561.8,1387.5 L1562.5,1385.9 L1563.3,1383.6 L1564.0,1381.5 L1564.8,1379.1 L1565.0,1378.7 L1565.5,1376.9 L1566.3,1375.7 L1567.0,1374.5 L1567.8,1372.7 L1568.5,1372.7 L1569.3,1373.0 L1570.0,1373.4 L1570.8,1373.5 L1571.5,1373.1 L1572.3,1372.8 L1573.0,1372.1 L1573.8,1370.7 L1574.5,1369.9 L1575.3,1368.5 L1576.0,1368.3 L1576.8,1366.5 L1577.5,1366.6 L1577.9,1365.5 L1578.3,1365.1 L1579.0,1364.3 L1579.8,1362.7 L1580.5,1362.0 L1581.3,1361.7 L1582.0,1360.4 L1582.8,1359.3 L1583.5,1359.1 L1584.3,1358.1 L1585.0,1356.5 L1585.8,1355.4 L1586.5,1354.8 L1587.3,1353.9 L1588.0,1353.2 L1588.8,1353.4 L1589.5,1352.6 L1590.3,1352.4 L1591.0,1353.0 L1591.8,1353.6 L1592.5,1353.3 L1593.3,1352.8 L1594.0,1353.5 L1594.8,1354.5 L1595.5,1355.5 L1596.3,1355.9 L1597.0,1357.1 L1597.8,1358.8 L1598.5,1360.3 L1599.3,1362.1 L1600.0,1364.0 L1600.8,1366.9 L1601.5,1370.2 L1602.3,1372.5 L1603.0,1375.1 L1603.8,1378.0 L1604.5,1380.9 L1605.3,1383.7 L1606.0,1385.4 L1606.8,1386.5 L1607.5,1388.4 L1608.3,1390.3 L1609.0,1392.5 L1609.8,1394.4 L1610.5,1396.4 L1610.7,1396.8 L1611.3,1396.8 L1612.0,1396.8 L1612.0,1396.8 L1612.8,1396.8 L1613.5,1396.8 L1614.3,1396.8 L1615.0,1396.8 L1615.8,1396.8 L1616.5,1396.8 L1617.3,1396.8 L1618.0,1396.8 L1618.4,1396.8 L1618.8,1395.8 L1619.5,1393.8 L1619.7,1393.2 L1620.3,1391.0 L1621.0,1388.8 L1621.8,1387.1 L1622.5,1384.9 L1623.3,1381.8 L1624.0,1380.7 L1624.7,1377.6 L1624.8,1377.7 L1625.5,1376.0 L1626.3,1374.3 L1627.0,1373.4 L1627.8,1373.1 L1628.5,1372.2 L1629.3,1373.2 L1630.0,1372.9 L1630.8,1373.3 L1631.5,1373.6 L1632.3,1372.9 L1633.0,1372.2 L1633.8,1370.4 L1634.5,1369.6 L1635.3,1369.5 L1636.0,1368.8 L1636.8,1367.7 L1637.5,1366.3 L1637.6,1366.4 L1638.3,1365.4 L1639.0,1364.5 L1639.8,1363.9 L1640.5,1363.0 L1641.3,1363.2 L1642.0,1362.4 L1642.8,1360.5 L1643.5,1360.0 L1644.3,1359.6 L1645.0,1359.0 L1645.8,1357.9 L1646.5,1357.1 L1647.3,1356.1 L1648.0,1355.9 L1648.8,1356.1 L1649.5,1356.1 L1650.3,1355.9 L1651.0,1356.1 L1651.8,1356.2 L1652.5,1355.9 L1653.3,1356.3 L1654.0,1355.7 L1654.8,1357.0 L1655.5,1358.2 L1656.3,1359.1 L1657.0,1360.6 L1657.8,1362.5 L1658.5,1364.4 L1659.3,1366.0 L1660.0,1368.2 L1660.8,1370.7 L1661.5,1373.1 L1662.3,1374.8 L1663.0,1378.2 L1663.8,1380.1 L1664.5,1382.6 L1665.3,1384.7 L1666.0,1385.7 L1666.8,1387.9 L1667.5,1389.9 L1668.3,1391.7 L1669.0,1393.2 L1669.8,1395.2 L1670.4,1396.8 L1670.5,1396.8 L1671.3,1396.8 L1671.7,1396.8 L1672.0,1396.8 L1672.8,1396.8 L1673.5,1396.8 L1674.3,1396.8 L1675.0,1396.8 L1675.8,1396.8 L1676.5,1396.8 L1677.3,1396.8 L1678.0,1396.8 L1678.1,1396.8 L1678.8,1394.1 L1679.4,1393.2 L1679.5,1392.9 L1680.3,1389.7 L1681.0,1387.9 L1681.8,1385.3 L1682.5,1383.9 L1683.3,1381.1 L1684.0,1379.9 L1684.5,1378.5 L1684.8,1376.8 L1685.5,1375.6 L1686.3,1374.0 L1687.0,1373.3 L1687.8,1372.1 L1688.5,1373.4 L1689.3,1373.0 L1690.0,1373.9 L1690.8,1374.1 L1691.5,1372.4 L1692.3,1372.1 L1693.0,1370.7 L1693.8,1370.5 L1694.5,1369.1 L1695.3,1368.0 L1696.0,1367.5 L1696.8,1367.1 L1697.3,1366.0 L1697.5,1365.4 L1698.3,1364.7 L1699.0,1364.3 L1699.8,1363.5 L1700.5,1363.0 L1701.3,1361.3 L1702.0,1361.2 L1702.8,1360.3 L1703.5,1359.6 L1704.3,1358.6 L1705.0,1357.5 L1705.8,1356.5 L1706.5,1356.0 L1707.3,1355.0 L1708.0,1354.5 L1708.8,1355.2 L1709.5,1355.0 L1710.3,1354.6 L1711.0,1354.2 L1711.8,1354.2 L1712.5,1354.7 L1713.3,1355.4 L1714.0,1355.0 L1714.8,1355.9 L1715.5,1357.1 L1716.3,1358.6 L1717.0,1359.9 L1717.8,1361.6 L1718.5,1363.2 L1719.3,1364.9 L1720.0,1368.1 L1720.8,1370.6 L1721.5,1373.4 L1722.3,1375.7 L1723.0,1378.2 L1723.8,1381.1 L1724.5,1383.4 L1725.3,1384.5 L1726.0,1386.9 L1726.8,1388.4 L1727.5,1390.3 L1728.3,1391.6 L1729.0,1394.0 L1729.8,1395.9 L1730.1,1396.8 L1730.5,1396.8 L1731.3,1396.8 L1731.4,1396.8 L1732.0,1396.8 L1732.8,1396.8 L1733.5,1396.8 L1734.3,1396.8 L1735.0,1396.8 L1735.8,1396.8 L1736.5,1396.8 L1737.3,1396.8 L1737.8,1396.8 L1738.0,1396.2 L1738.8,1393.4 L1739.1,1392.4 L1739.5,1391.2 L1740.3,1389.1 L1741.0,1387.6 L1741.8,1385.1 L1742.5,1382.5 L1743.3,1381.0 L1744.0,1378.4 L1744.2,1377.7 L1744.8,1375.8 L1745.5,1375.3 L1746.3,1374.4 L1747.0,1373.3 L1747.8,1372.9 L1748.5,1373.0 L1749.3,1373.6 L1750.0,1373.2 L1750.8,1373.2 L1751.5,1372.3 L1752.3,1371.2 L1753.0,1371.0 L1753.8,1369.7 L1754.5,1369.2 L1755.3,1368.5 L1756.0,1367.8 L1756.8,1366.1 L1757.0,1365.8 L1757.5,1366.2 L1758.3,1364.5 L1759.0,1364.4 L1759.8,1363.1 L1760.5,1362.4 L1761.3,1360.8 L1762.0,1360.5 L1762.8,1359.6 L1763.5,1358.9 L1764.3,1358.2 L1765.0,1357.3 L1765.8,1356.7 L1766.5,1355.9 L1767.3,1354.8 L1768.0,1354.5 L1768.8,1354.4 L1769.5,1354.8 L1770.3,1354.0 L1771.0,1355.2 L1771.8,1354.9 L1772.5,1355.0 L1773.3,1355.3 L1774.0,1355.3 L1774.8,1356.6 L1775.5,1358.4 L1776.3,1359.4 L1777.0,1360.1 L1777.8,1362.6 L1778.5,1364.5 L1779.3,1366.8 L1780.0,1369.3 L1780.8,1371.5 L1781.5,1374.4 L1782.3,1376.6 L1783.0,1379.8 L1783.8,1381.8 L1784.5,1384.0 L1785.3,1385.9 L1786.0,1386.7 L1786.8,1388.4 L1787.5,1390.6 L1788.3,1392.8 L1789.0,1394.7 L1789.8,1396.7 L1789.8,1396.8 L1790.5,1396.8 L1791.2,1396.8 L1791.3,1396.8 L1792.0,1396.8 L1792.8,1396.8 L1793.5,1396.8 L1794.3,1396.8 L1795.0,1396.8 L1795.8,1396.8 L1796.5,1396.8 L1797.3,1396.8 L1797.5,1396.8 L1798.0,1395.3 L1798.8,1393.4 L1798.8,1392.8 L1799.5,1391.0 L1800.3,1389.0 L1801.0,1386.4 L1801.8,1384.6 L1802.5,1381.9 L1803.3,1379.5 L1803.9,1378.8 L1804.0,1377.5 L1804.8,1376.3 L1805.5,1374.9 L1806.3,1373.2 L1807.0,1371.9 L1807.8,1373.0 L1808.5,1372.8 L1809.3,1373.6 L1810.0,1373.2 L1810.8,1373.4 L1811.5,1371.8 L1812.3,1371.6 L1813.0,1370.1 L1813.8,1368.9 L1814.5,1367.8 L1815.3,1367.1 L1816.0,1366.4 L1816.7,1365.8 L1816.8,1365.4 L1817.5,1364.4 L1818.3,1363.5 L1819.0,1362.5 L1819.8,1361.5 L1820.5,1360.3 L1821.3,1359.8 L1822.0,1358.5 L1822.8,1357.8 L1823.5,1357.3 L1824.3,1355.8 L1825.0,1355.4 L1825.8,1354.0 L1826.5,1353.0 L1827.3,1352.8 L1828.0,1352.7 L1828.8,1352.8 L1829.5,1353.0 L1830.3,1353.4 L1831.0,1353.0 L1831.8,1352.8 L1832.5,1353.5 L1833.3,1354.0 L1834.0,1354.4 L1834.8,1355.3 L1835.5,1357.2 L1836.3,1358.4 L1837.0,1360.2 L1837.8,1361.5 L1838.5,1363.1 L1839.3,1366.5 L1840.0,1368.6 L1840.8,1372.2 L1841.5,1374.8 L1842.3,1377.1 L1843.0,1379.6 L1843.8,1382.7 L1844.5,1384.5 L1845.3,1386.4 L1846.0,1387.9 L1846.8,1389.6 L1847.5,1392.2 L1848.3,1393.5 L1849.0,1395.5 L1849.5,1396.8 L1849.8,1396.8 L1850.5,1396.8 L1850.9,1396.8 L1851.3,1396.8 L1852.0,1396.8 L1852.8,1396.8 L1853.5,1396.8 L1854.3,1396.8 L1855.0,1396.8 L1855.8,1396.8 L1856.5,1396.8 L1857.2,1396.8 L1857.3,1396.5 L1858.0,1394.7 L1858.5,1393.2 L1858.8,1391.9 L1859.5,1390.3 L1860.3,1388.1 L1861.0,1385.0 L1861.8,1383.2 L1862.5,1381.3 L1863.3,1378.6 L1863.6,1377.9 L1864.0,1376.4 L1864.8,1375.3 L1865.5,1374.1 L1866.3,1373.5 L1867.0,1372.7 L1867.8,1373.1 L1868.5,1373.5 L1869.3,1373.7 L1870.0,1373.1 L1870.8,1373.1 L1871.5,1372.5 L1872.3,1371.4 L1873.0,1370.8 L1873.8,1370.2 L1874.5,1368.3 L1875.3,1368.0 L1876.0,1367.8 L1876.4,1366.8 L1876.8,1366.9 L1877.5,1365.7 L1878.3,1364.3 L1879.0,1363.5 L1879.8,1363.4 L1880.5,1362.2 L1881.3,1361.7 L1882.0,1361.4 L1882.8,1360.2 L1883.5,1359.0 L1884.3,1358.2 L1885.0,1357.5 L1885.8,1356.4 L1886.5,1356.6 L1887.3,1356.1 L1888.0,1355.8 L1888.8,1355.6 L1889.5,1355.7 L1890.3,1355.7 L1891.0,1356.5 L1891.8,1356.5 L1892.5,1356.3 L1893.3,1357.6 L1894.0,1358.4 L1894.8,1359.4 L1895.5,1360.7 L1896.3,1362.0 L1897.0,1363.3 L1897.8,1365.6 L1898.5,1368.0 L1899.3,1369.4 L1900.0,1371.5 L1900.8,1374.8 L1901.5,1376.5 L1902.3,1379.6 L1903.0,1381.8 L1903.8,1384.1 L1904.5,1385.1 L1905.3,1386.8 L1906.0,1388.0 L1906.8,1390.2 L1907.5,1392.3 L1908.3,1394.3 L1909.0,1396.3 L1909.3,1396.8 L1909.8,1396.8 L1910.5,1396.8 L1910.6,1396.8 L1911.3,1396.8 L1912.0,1396.8 L1912.8,1396.8 L1913.5,1396.8 L1914.3,1396.8 L1915.0,1396.8 L1915.8,1396.8 L1916.5,1396.8 L1916.9,1396.8 L1917.3,1395.3 L1918.0,1393.0 L1918.2,1392.9 L1918.8,1391.6 L1919.5,1389.5 L1920.3,1386.5 L1921.0,1384.3 L1921.8,1382.3 L1922.5,1379.8 L1923.3,1377.8 L1923.3,1378.3 L1924.0,1376.6 L1924.8,1375.0 L1925.5,1373.2 L1926.3,1372.0 L1927.0,1373.4 L1927.8,1373.7 L1928.5,1373.4 L1929.3,1373.2 L1930.0,1372.8 L1930.8,1372.0 L1931.5,1372.1 L1932.3,1371.1 L1933.0,1369.6 L1933.8,1369.1 L1934.5,1368.4 L1935.3,1366.8 L1936.0,1367.1 L1936.1,1366.5 L1936.8,1365.2 L1937.5,1364.6 L1938.3,1363.5 L1939.0,1363.5 L1939.8,1362.3 L1940.5,1360.9 L1941.3,1361.1 L1942.0,1359.9 L1942.8,1358.4 L1943.5,1358.6 L1944.3,1357.0 L1945.0,1356.2 L1945.8,1355.9 L1946.5,1354.8 L1947.3,1354.9 L1948.0,1355.6 L1948.8,1354.5 L1949.5,1354.7 L1950.3,1355.2 L1951.0,1355.9 L1951.8,1355.0 L1952.5,1355.3 L1953.3,1356.2 L1954.0,1358.1 L1954.8,1358.7 L1955.5,1359.4 L1956.3,1361.0 L1957.0,1363.6 L1957.8,1365.3 L1958.5,1367.5 L1959.3,1369.9 L1960.0,1371.8 L1960.8,1374.3 L1961.5,1377.9 L1962.3,1379.6 L1963.0,1382.7 L1963.8,1383.9 L1964.5,1385.9 L1965.3,1387.0 L1966.0,1388.7 L1966.8,1390.6 L1967.5,1393.1 L1968.3,1395.1 L1969.0,1396.8 L1969.0,1396.8 L1969.8,1396.8 L1970.3,1396.8 L1970.5,1396.8 L1971.3,1396.8 L1972.0,1396.8 L1972.8,1396.8 L1973.5,1396.8 L1974.3,1396.8 L1975.0,1396.8 L1975.8,1396.8 L1976.5,1396.8 L1976.6,1396.8 L1977.3,1395.2 L1977.9,1393.5 L1978.0,1392.3 L1978.8,1390.5 L1979.5,1387.9 L1980.3,1386.1 L1981.0,1384.0 L1981.8,1381.4 L1982.5,1379.6 L1983.0,1378.2 L1983.3,1377.4 L1984.0,1375.5 L1984.8,1375.0 L1985.5,1373.3 L1986.3,1372.5 L1987.0,1372.6 L1987.8,1372.7 L1988.5,1373.6 L1989.3,1373.2 L1990.0,1372.6 L1990.8,1372.1 L1991.5,1371.0 L1992.3,1370.4 L1993.0,1369.1 L1993.8,1369.0 L1994.5,1367.1 L1995.3,1366.8 L1995.8,1366.6 L1996.0,1366.3 L1996.8,1365.1 L1997.5,1364.3 L1998.3,1362.7 L1999.0,1362.4 L1999.8,1360.9 L2000.5,1360.8 L2001.3,1359.8 L2002.0,1358.2 L2002.8,1357.4 L2003.5,1356.4 L2004.3,1356.5 L2005.0,1355.7 L2005.8,1354.2 L2006.5,1354.5 L2007.3,1354.7 L2008.0,1354.6 L2008.8,1354.3 L2009.5,1354.4 L2010.3,1354.0 L2011.0,1353.7 L2011.8,1354.8 L2012.5,1354.5 L2013.3,1355.8 L2014.0,1356.5 L2014.8,1357.5 L2015.5,1358.6 L2016.3,1361.5 L2017.0,1362.6 L2017.8,1364.5 L2018.5,1367.6 L2019.3,1370.7 L2020.0,1372.4 L2020.8,1375.2 L2021.5,1377.6 L2022.3,1380.3 L2023.0,1382.9 L2023.8,1385.5 L2024.5,1385.9 L2025.3,1387.5 L2026.0,1390.1 L2026.8,1391.6 L2027.5,1393.9 L2028.3,1395.8 L2028.7,1396.8 L2029.0,1396.8 L2029.8,1396.8 L2030.0,1396.8 L2030.5,1396.8 L2031.3,1396.8 L2032.0,1396.8 L2032.8,1396.8 L2033.5,1396.8 L2034.3,1396.8 L2035.0,1396.8 L2035.8,1396.8 L2036.3,1396.8 L2036.5,1395.6 L2037.3,1394.0 L2037.6,1393.2 L2038.0,1391.6 L2038.8,1389.2 L2039.5,1387.5 L2040.3,1385.0 L2041.0,1382.5 L2041.8,1381.0 L2042.5,1378.1 L2042.7,1378.6 L2043.3,1376.3 L2044.0,1374.8 L2044.8,1374.1 L2045.5,1373.1 L2046.3,1373.0 L2047.0,1373.2 L2047.8,1373.4 L2048.6,1373.7 L2049.3,1373.7 L2050.1,1372.4 L2050.8,1372.0 L2051.6,1371.1 L2052.3,1370.0 L2053.1,1368.6 L2053.8,1368.5 L2054.6,1367.8 L2055.3,1366.2 L2055.6,1366.1 L2056.1,1366.1 L2056.8,1364.2 L2057.6,1364.3 L2058.3,1362.9 L2059.1,1362.5 L2059.8,1361.0 L2060.6,1360.7 L2061.3,1359.5 L2062.1,1358.4 L2062.8,1357.7 L2063.6,1357.3 L2064.3,1356.4 L2065.1,1355.2 L2065.8,1354.8 L2066.6,1354.5 L2067.3,1355.2 L2068.1,1355.1 L2068.8,1355.2 L2069.6,1354.3 L2070.3,1355.2 L2071.1,1354.5 L2071.8,1355.0 L2072.6,1355.2 L2073.3,1356.7 L2074.1,1357.5 L2074.8,1359.5 L2075.6,1359.9 L2076.3,1362.4 L2077.1,1364.7 L2077.8,1365.9 L2078.6,1369.2 L2079.3,1371.3 L2080.1,1374.6 L2080.8,1376.6 L2081.6,1379.1 L2082.3,1381.7 L2083.1,1383.6 L2083.8,1385.8 L2084.6,1386.6 L2085.3,1389.2 L2086.1,1390.1 L2086.8,1392.7 L2087.6,1394.6 L2088.3,1396.6 L2088.4,1396.8 L2089.1,1396.8 L2089.7,1396.8 L2089.8,1396.8 L2090.6,1396.8 L2091.3,1396.8 L2092.1,1396.8 L2092.8,1396.8 L2093.6,1396.8 L2094.3,1396.8 L2095.1,1396.8 L2095.8,1396.8 L2096.0,1396.8 L2096.6,1395.6 L2097.3,1392.9 L2097.3,1392.4 L2098.1,1390.7 L2098.8,1388.3 L2099.6,1387.0 L2100.3,1383.8 L2101.1,1382.7 L2101.8,1379.8 L2102.4,1377.8 L2102.6,1377.5 L2103.3,1375.7 L2104.1,1374.6 L2104.8,1372.9 L2105.6,1372.8 L2106.3,1372.3 L2107.1,1372.7 L2107.8,1373.8 L2108.6,1373.8 L2109.3,1373.1 L2110.1,1372.5 L2110.8,1370.7 L2111.6,1369.8 L2112.3,1369.0 L2113.1,1368.9 L2113.8,1367.2 L2114.6,1366.0 L2115.3,1365.4 L2115.3,1365.1 L2116.1,1364.1 L2116.8,1363.5 L2117.6,1362.5 L2118.3,1362.1 L2119.1,1360.6 L2119.8,1360.2 L2120.6,1359.4 L2121.3,1358.3 L2122.1,1357.4 L2122.8,1356.8 L2123.6,1355.8 L2124.3,1354.7 L2125.1,1353.8 L2125.8,1353.9 L2126.6,1352.9 L2127.3,1352.7 L2128.1,1353.2 L2128.8,1352.8 L2129.6,1352.7 L2130.3,1353.8 L2131.1,1353.3 L2131.8,1353.5 L2132.6,1355.1 L2133.3,1355.2 L2134.1,1356.4 L2134.8,1357.8 L2135.6,1359.5 L2136.3,1361.1 L2137.1,1363.9 L2137.8,1365.5 L2138.6,1368.7 L2139.3,1371.8 L2140.1,1374.6 L2140.8,1377.0 L2141.6,1380.3 L2142.3,1382.1 L2143.1,1384.7 L2143.8,1385.7 L2144.6,1387.1 L2145.3,1389.1 L2146.1,1391.9 L2146.8,1393.4 L2147.6,1395.4 L2148.1,1396.8 L2148.3,1396.8 L2149.1,1396.8 L2149.4,1396.8 L2149.8,1396.8 L2150.6,1396.8 L2151.3,1396.8 L2152.1,1396.8 L2152.8,1396.8 L2153.6,1396.8 L2154.3,1396.8 L2155.1,1396.8 L2155.7,1396.8 L2155.8,1396.6 L2156.6,1394.8 L2157.1,1392.8 L2157.3,1391.7 L2158.1,1389.9 L2158.8,1388.1 L2159.6,1385.3 L2160.3,1383.6 L2161.1,1381.2 L2161.8,1379.2 L2162.1,1377.6 L2162.6,1376.8 L2163.3,1376.0 L2164.1,1374.1 L2164.8,1373.2 L2165.6,1373.0 L2166.3,1372.9 L2167.1,1373.5 L2167.8,1373.0 L2168.6,1374.0 L2169.3,1372.8 L2170.1,1372.7 L2170.8,1371.6 L2171.6,1370.4 L2172.3,1369.8 L2173.1,1368.8 L2173.8,1368.2 L2174.6,1367.3 L2175.0,1367.4 L2175.3,1366.2 L2176.1,1365.8 L2176.8,1365.8 L2177.6,1364.0 L2178.3,1364.1 L2179.1,1363.0 L2179.8,1361.9 L2180.6,1360.9 L2181.3,1361.0 L2182.1,1360.1 L2182.8,1359.0 L2183.6,1358.1 L2184.3,1357.6 L2185.1,1356.7 L2185.8,1356.2 L2186.6,1357.2 L2187.3,1356.7 L2188.1,1356.3 L2188.8,1356.3 L2189.6,1356.2 L2190.3,1357.1 L2191.1,1357.2 L2191.8,1357.4 L2192.6,1358.2 L2193.3,1359.3 L2194.1,1360.7 L2194.8,1362.4 L2195.6,1363.6 L2196.3,1366.1 L2197.1,1368.3 L2197.8,1370.6 L2198.6,1372.5 L2199.3,1374.7 L2200.1,1376.8 L2200.8,1379.1 L2201.6,1381.3 L2202.3,1383.4 L2203.1,1385.6 L2203.8,1386.4 L2204.6,1388.1 L2205.3,1389.9 L2206.1,1392.2 L2206.8,1394.2 L2207.6,1396.1 L2207.8,1396.8 L2208.3,1396.8 L2209.1,1396.8 L2209.1,1396.8 L2209.8,1396.8 L2210.6,1396.8 L2211.3,1396.8 L2212.1,1396.8 L2212.8,1396.8 L2213.6,1396.8 L2214.3,1396.8 L2215.1,1396.8 L2215.5,1396.8 L2215.8,1395.7 L2216.6,1393.6 L2216.8,1392.6 L2217.3,1391.2 L2218.1,1389.5 L2218.8,1386.6 L2219.6,1385.2 L2220.3,1382.9 L2221.1,1380.1 L2221.8,1378.3 L2221.8,1378.6 L2222.6,1375.8 L2223.3,1374.9 L2224.1,1374.4 L2224.8,1372.8 L2225.6,1372.9 L2226.3,1373.3 L2227.1,1373.1 L2227.8,1374.0 L2228.6,1373.8 L2229.3,1371.9 L2230.1,1371.4 L2230.8,1370.6 L2231.6,1369.3 L2232.3,1368.6 L2233.1,1367.5 L2233.8,1367.3 L2234.6,1366.4 L2234.7,1366.2 L2235.3,1365.3 L2236.1,1364.3 L2236.8,1363.9 L2237.6,1362.6 L2238.3,1361.2 L2239.1,1360.6 L2239.8,1360.6 L2240.6,1359.1 L2241.3,1358.1 L2242.1,1357.9 L2242.8,1355.9 L2243.6,1355.2 L2244.3,1354.6 L2245.1,1354.3 L2245.8,1354.1 L2246.6,1354.2 L2247.3,1353.9 L2248.1,1354.1 L2248.8,1354.4 L2249.6,1354.3 L2250.3,1354.9 L2251.1,1354.3 L2251.8,1355.7 L2252.6,1356.8 L2253.3,1358.0 L2254.1,1358.3 L2254.8,1360.2 L2255.6,1362.0 L2256.3,1364.0 L2257.1,1366.2 L2257.8,1369.1 L2258.6,1371.8 L2259.3,1373.8 L2260.1,1376.5 L2260.8,1379.8 L2261.6,1382.4 L2262.3,1384.4 L2263.1,1385.4 L2263.8,1387.6 L2264.6,1389.4 L2265.3,1391.1 L2266.1,1393.0 L2266.8,1394.9 L2267.5,1396.8 L2267.6,1396.8 L2268.3,1396.8 L2268.8,1396.8 L2269.1,1396.8 L2269.8,1396.8 L2270.6,1396.8 L2271.3,1396.8 L2272.1,1396.8 L2272.8,1396.8 L2273.6,1396.8 L2274.3,1396.8 L2275.1,1396.8 L2275.2,1396.8 L2275.8,1394.9 L2276.5,1392.8 L2276.6,1393.0 L2277.3,1390.7 L2278.1,1387.8 L2278.8,1385.9 L2279.6,1384.4 L2280.3,1381.8 L2281.1,1380.1 L2281.6,1377.6 L2281.8,1377.7 L2282.6,1375.3 L2283.3,1374.9 L2284.1,1373.7 L2284.8,1372.7 L2285.6,1373.1 L2286.3,1373.3 L2287.1,1373.6 L2287.8,1373.9 L2288.6,1373.4 L2289.3,1371.8 L2290.1,1370.8 L2290.8,1370.5 L2291.6,1369.7 L2292.3,1368.9 L2293.1,1367.8 L2293.8,1366.5 L2294.4,1365.7 L2294.6,1365.1 L2295.3,1364.3 L2296.1,1364.2 L2296.8,1363.2 L2297.6,1362.4 L2298.3,1361.6 L2299.1,1360.8 L2299.8,1359.2 L2300.6,1357.8 L2301.3,1356.9 L2302.1,1357.2 L2302.8,1356.0 L2303.6,1354.9 L2304.3,1353.5 L2305.1,1354.3 L2305.8,1353.8 L2306.6,1353.1 L2307.3,1353.2 L2308.1,1354.0 L2308.8,1353.7 L2309.6,1353.6 L2310.3,1354.3 L2311.1,1353.8 L2311.8,1355.1 L2312.6,1356.6 L2313.3,1357.7 L2314.1,1359.0 L2314.8,1359.9 L2315.6,1362.7 L2316.3,1364.1 L2317.1,1366.6 L2317.8,1369.4 L2318.6,1371.9 L2319.3,1375.2 L2320.1,1377.4 L2320.8,1380.7 L2321.6,1382.7 L2322.3,1384.5 L2323.1,1386.4 L2323.8,1387.7 L2324.6,1389.6 L2325.3,1392.4 L2326.1,1393.7 L2326.8,1395.7 L2327.2,1396.8 L2327.6,1396.8 L2328.3,1396.8 L2328.5,1396.8 L2329.1,1396.8 L2329.8,1396.8 L2330.6,1396.8 L2331.3,1396.8 L2332.1,1396.8 L2332.8,1396.8 L2333.6,1396.8 L2334.3,1396.8 L2334.9,1396.8 L2335.1,1396.6 L2335.8,1394.5 L2336.2,1392.7 L2336.6,1391.5 L2337.3,1390.1 L2338.1,1387.0 L2338.8,1385.7 L2339.6,1383.2 L2340.3,1380.5 L2341.1,1379.1 L2341.3,1377.7 L2341.8,1377.2 L2342.6,1375.6 L2343.3,1373.7 L2344.1,1372.7 L2344.8,1373.1 L2345.6,1373.0 L2346.3,1373.2 L2347.1,1374.2 L2347.8,1372.9 L2348.6,1373.1 L2349.3,1371.1 L2350.1,1370.5 L2350.8,1369.6 L2351.6,1369.1 L2352.3,1368.3 L2353.1,1367.1 L2353.8,1365.6 L2354.1,1366.3 L2354.6,1365.3 L2355.3,1364.3 L2356.1,1362.9 L2356.8,1362.3 L2357.6,1361.1 L2358.3,1360.5 L2359.1,1359.9 L2359.8,1358.4 L2360.6,1358.6 L2361.3,1356.8 L2362.1,1356.8 L2362.8,1355.8 L2363.6,1355.0 L2364.3,1353.9 L2365.1,1353.4 L2365.8,1353.3 L2366.6,1353.4 L2367.3,1353.7 L2368.1,1353.9 L2368.8,1353.8 L2369.6,1354.0 L2370.3,1353.9 L2371.1,1354.5 L2371.8,1356.2 L2372.6,1356.3 L2373.3,1358.3 L2374.1,1358.8 L2374.8,1361.7 L2375.6,1363.6 L2376.3,1364.7 L2377.1,1368.1 L2377.8,1370.7 L2378.6,1373.0 L2379.3,1376.5 L2380.1,1378.5 L2380.8,1380.9 L2381.6,1383.9 L2382.3,1386.0 L2383.1,1387.4 L2383.8,1388.2 L2384.6,1390.9 L2385.3,1392.5 L2386.1,1394.5 L2386.8,1396.4 L2386.9,1396.8 L2387.6,1396.8 L2388.3,1396.8 L2388.3,1396.8 L2389.1,1396.8 L2389.8,1396.8 L2390.6,1396.8 L2391.3,1396.8 L2392.1,1396.8 L2392.8,1396.8 L2393.6,1396.8 L2394.3,1396.8 L2394.6,1396.8 L2395.1,1395.2 L2395.8,1393.1 L2395.9,1392.6 L2396.6,1390.9 L2397.3,1388.8 L2398.1,1386.3 L2398.8,1384.2 L2399.6,1382.6 L2400.3,1380.7 L2401.0,1378.1 L2401.1,1377.9 L2401.8,1375.9 L2402.6,1375.1 L2403.3,1373.0 L2404.1,1372.4 L2404.8,1372.9 L2405.6,1373.5 L2406.3,1373.8 L2407.1,1374.0 L2407.8,1372.9 L2408.6,1372.3 L2409.3,1370.9 L2410.1,1370.6 L2410.8,1369.0 L2411.6,1367.9 L2412.3,1367.4 L2413.1,1366.3 L2413.8,1366.0 L2413.8,1365.8 L2414.6,1364.9 L2415.3,1364.0 L2416.1,1362.4 L2416.8,1362.2 L2417.6,1360.6 L2418.3,1359.9 L2419.1,1359.6 L2419.8,1358.4 L2420.6,1357.5 L2421.3,1356.6 L2422.1,1355.0 L2422.8,1354.5 L2423.6,1353.8 L2424.3,1353.4 L2425.1,1353.6 L2425.8,1353.7 L2426.6,1353.4 L2427.3,1352.9 L2428.1,1353.0 L2428.8,1354.0 L2429.6,1353.4 L2430.3,1353.4 L2431.1,1354.6 L2431.8,1355.3 L2432.6,1357.2 L2433.3,1358.4 L2434.1,1359.8 L2434.8,1362.1 L2435.6,1363.0 L2436.3,1366.1 L2437.1,1368.5 L2437.8,1371.5 L2438.6,1374.1 L2439.3,1377.1 L2440.1,1379.3 L2440.8,1381.9 L2441.6,1383.9 L2442.3,1386.0 L2443.1,1387.6 L2443.8,1389.3 L2444.6,1390.8 L2445.3,1393.3 L2446.1,1395.2 L2446.7,1396.8 L2446.8,1396.8 L2447.6,1396.8 L2448.0,1396.8 L2448.3,1396.8 L2449.1,1396.8 L2449.8,1396.8 L2450.6,1396.8 L2451.3,1396.8 L2452.1,1396.8 L2452.8,1396.8 L2453.6,1396.8 L2454.3,1396.8 L2454.3,1396.8 L2455.1,1394.8 L2455.6,1393.6 L2455.8,1392.4 L2456.6,1389.8 L2457.3,1388.5 L2458.1,1386.0 L2458.8,1383.5 L2459.6,1381.3 L2460.3,1379.5 L2460.7,1377.9 L2461.1,1376.7 L2461.8,1375.3 L2462.6,1373.9 L2463.3,1373.6 L2464.1,1372.7 L2464.8,1373.0 L2465.6,1373.5 L2466.3,1373.6 L2467.1,1373.1 L2467.8,1372.5 L2468.6,1372.4 L2469.3,1370.9 L2470.1,1370.1 L2470.8,1369.8 L2471.6,1368.8 L2472.3,1368.3 L2473.1,1367.0 L2473.5,1366.2 L2473.8,1366.3 L2474.6,1365.5 L2475.3,1364.8 L2476.1,1363.0 L2476.8,1363.1 L2477.6,1362.0 L2478.3,1361.4 L2479.1,1360.3 L2479.8,1359.1 L2480.6,1358.1 L2481.3,1357.7 L2482.1,1356.4 L2482.8,1356.3 L2483.6,1355.2 L2484.3,1355.5 L2485.1,1355.5 L2485.8,1355.2 L2486.6,1355.4 L2487.3,1355.0 L2488.1,1355.7 L2488.8,1355.1 L2489.6,1355.1 L2490.3,1356.5 L2491.1,1357.2 L2491.8,1357.9 L2492.6,1359.0 L2493.3,1360.2 L2494.1,1362.8 L2494.8,1363.8 L2495.6,1366.6 L2496.3,1369.2 L2497.1,1370.8 L2497.8,1373.6 L2498.6,1376.4 L2499.3,1378.9 L2500.1,1381.1 L2500.8,1383.2 L2501.6,1385.6 L2502.3,1386.6 L2503.1,1388.2 L2503.8,1389.7 L2504.6,1392.2 L2505.3,1394.0 L2506.1,1396.0 L2506.4,1396.8 L2506.8,1396.8 L2507.6,1396.8 L2507.7,1396.8 L2508.3,1396.8 L2509.1,1396.8 L2509.8,1396.8 L2510.6,1396.8 L2511.3,1396.8 L2512.1,1396.8 L2512.8,1396.8 L2513.6,1396.8 L2514.0,1396.8 L2514.3,1396.3 L2515.1,1393.6 L2515.3,1393.5 L2515.8,1392.1 L2516.6,1388.9 L2517.3,1387.1 L2518.1,1385.2 L2518.8,1383.2 L2519.6,1381.1 L2520.3,1378.5 L2520.4,1378.3 L2521.1,1375.8 L2521.8,1375.1 L2522.6,1374.0 L2523.3,1372.7 L2524.1,1373.0 L2524.8,1373.0 L2525.6,1373.5 L2526.3,1374.0 L2527.1,1373.5 L2527.8,1372.2 L2528.6,1372.3 L2529.3,1370.9 L2530.1,1369.7 L2530.8,1369.3 L2531.6,1368.7 L2532.3,1367.4 L2533.1,1366.8 L2533.2,1367.1 L2533.8,1366.9 L2534.6,1365.0 L2535.3,1364.7 L2536.1,1364.1 L2536.8,1363.7 L2537.6,1362.6 L2538.3,1361.2 L2539.1,1360.6 L2539.8,1360.3 L2540.6,1358.8 L2541.3,1358.0 L2542.1,1358.1 L2542.8,1356.6 L2543.6,1356.6 L2544.3,1356.4 L2545.1,1356.4 L2545.8,1356.0 L2546.6,1356.6 L2547.3,1355.7 L2548.1,1356.7 L2548.8,1355.8 L2549.6,1357.0 L2550.3,1357.5 L2551.1,1358.7 L2551.8,1358.9 L2552.6,1360.8 L2553.3,1361.5 L2554.1,1364.1 L2554.8,1366.4 L2555.6,1368.2 L2556.3,1370.9 L2557.1,1372.7 L2557.8,1375.4 L2558.6,1377.7 L2559.3,1380.1 L2560.1,1382.2 L2560.8,1383.5 L2561.6,1385.6 L2562.3,1387.1 L2563.1,1388.5 L2563.8,1391.0 L2564.6,1392.8 L2565.3,1394.8 L2566.1,1396.7 L2566.1,1396.8 L2566.8,1396.8 L2567.4,1396.8 L2567.6,1396.8 L2568.3,1396.8 L2569.1,1396.8 L2569.8,1396.8 L2570.6,1396.8 L2571.3,1396.8 L2572.1,1396.8 L2572.8,1396.8 L2573.6,1396.8 L2573.7,1396.8 L2574.3,1394.9 L2575.0,1393.6 L2575.1,1392.9 L2575.8,1390.3 L2576.6,1388.7 L2577.3,1386.8 L2578.1,1383.6 L2578.8,1381.6 L2579.6,1380.0" stroke="#277a00" stroke-width="2.7" stroke-linejoin="round"/><path d="M1518.3,1352.9 V1396.8 M1506.3,1352.9 H1518.3 M1506.3,1396.8 H1518.3" stroke="#277a00" stroke-width="2"/><path d="M1506.3,1366.24 H1518.3 M1506.3,1376.43 H1518.3 " stroke="#277a00" stroke-width="2" stroke-opacity="0.45"/><path d="M1518.3,1470.0 L1519.0,1469.8 L1519.8,1469.2 L1520.5,1469.0 L1521.3,1468.9 L1522.0,1469.6 L1522.8,1468.5 L1523.5,1469.2 L1524.3,1469.3 L1525.0,1469.5 L1525.8,1468.7 L1526.5,1469.1 L1527.3,1468.8 L1528.0,1468.1 L1528.8,1467.8 L1529.5,1467.7 L1530.3,1468.6 L1531.0,1467.5 L1531.8,1465.6 L1532.5,1464.4 L1533.3,1463.1 L1534.0,1461.9 L1534.8,1460.6 L1535.5,1459.4 L1536.3,1458.2 L1537.0,1456.9 L1537.8,1455.7 L1538.5,1455.1 L1539.3,1453.7 L1540.0,1452.9 L1540.8,1452.7 L1541.5,1452.2 L1542.3,1452.5 L1543.0,1452.1 L1543.8,1452.4 L1544.5,1452.0 L1545.3,1451.9 L1546.0,1451.1 L1546.8,1450.7 L1547.5,1450.5 L1548.3,1450.5 L1549.0,1450.1 L1549.8,1450.1 L1550.5,1448.9 L1551.0,1449.0 L1551.3,1457.9 L1552.0,1480.2 L1552.3,1488.0 L1552.8,1488.0 L1553.5,1488.0 L1554.3,1488.0 L1555.0,1488.0 L1555.8,1488.0 L1556.5,1488.0 L1557.3,1488.0 L1558.0,1488.0 L1558.6,1488.0 L1558.8,1488.0 L1559.5,1488.0 L1560.0,1488.0 L1560.3,1487.5 L1561.0,1486.6 L1561.8,1486.1 L1562.5,1485.4 L1563.3,1484.5 L1564.0,1483.3 L1564.8,1482.6 L1565.0,1482.5 L1565.5,1481.7 L1566.3,1481.2 L1567.0,1480.1 L1567.8,1479.7 L1568.5,1478.5 L1569.3,1477.5 L1570.0,1477.0 L1570.8,1476.2 L1571.5,1475.6 L1572.3,1474.7 L1573.0,1473.9 L1573.8,1473.0 L1574.5,1472.4 L1575.3,1471.4 L1576.0,1470.7 L1576.8,1469.7 L1577.5,1469.6 L1577.9,1469.8 L1578.3,1468.6 L1579.0,1469.5 L1579.8,1469.0 L1580.5,1468.3 L1581.3,1468.3 L1582.0,1467.9 L1582.8,1468.3 L1583.5,1467.8 L1584.3,1468.9 L1585.0,1467.7 L1585.8,1468.2 L1586.5,1468.1 L1587.3,1467.3 L1588.0,1467.2 L1588.8,1467.7 L1589.5,1467.5 L1590.3,1467.2 L1591.0,1465.6 L1591.8,1464.3 L1592.5,1463.0 L1593.3,1461.7 L1594.0,1460.4 L1594.8,1459.1 L1595.5,1457.8 L1596.3,1456.5 L1597.0,1455.2 L1597.8,1453.9 L1598.5,1452.1 L1599.3,1452.1 L1600.0,1452.3 L1600.8,1451.6 L1601.5,1452.1 L1602.3,1451.4 L1603.0,1450.8 L1603.8,1449.7 L1604.5,1449.6 L1605.3,1449.8 L1606.0,1449.2 L1606.8,1449.7 L1607.5,1448.7 L1608.3,1448.0 L1609.0,1449.0 L1609.8,1447.5 L1610.5,1447.1 L1610.7,1447.6 L1611.3,1465.7 L1612.0,1488.0 L1612.0,1488.0 L1612.8,1488.0 L1613.5,1488.0 L1614.3,1488.0 L1615.0,1488.0 L1615.8,1488.0 L1616.5,1488.0 L1617.3,1488.0 L1618.0,1488.0 L1618.4,1488.0 L1618.8,1488.0 L1619.5,1488.0 L1619.7,1488.0 L1620.3,1487.1 L1621.0,1486.2 L1621.8,1485.9 L1622.5,1484.9 L1623.3,1484.0 L1624.0,1483.1 L1624.7,1482.6 L1624.8,1482.3 L1625.5,1481.5 L1626.3,1480.6 L1627.0,1479.8 L1627.8,1478.9 L1628.5,1478.2 L1629.3,1477.4 L1630.0,1476.6 L1630.8,1475.7 L1631.5,1474.8 L1632.3,1473.9 L1633.0,1473.1 L1633.8,1472.4 L1634.5,1471.3 L1635.3,1470.2 L1636.0,1469.9 L1636.8,1468.0 L1637.5,1468.1 L1637.6,1468.7 L1638.3,1469.0 L1639.0,1467.8 L1639.8,1467.5 L1640.5,1468.4 L1641.3,1467.7 L1642.0,1467.5 L1642.8,1467.5 L1643.5,1468.2 L1644.3,1467.9 L1645.0,1467.0 L1645.8,1467.0 L1646.5,1466.8 L1647.3,1467.3 L1648.0,1466.2 L1648.8,1466.2 L1649.5,1466.6 L1650.3,1465.1 L1651.0,1464.4 L1651.8,1463.2 L1652.5,1461.9 L1653.3,1460.7 L1654.0,1459.5 L1654.8,1458.2 L1655.5,1457.0 L1656.3,1455.7 L1657.0,1454.5 L1657.8,1453.2 L1658.5,1452.6 L1659.3,1452.0 L1660.0,1451.7 L1660.8,1450.7 L1661.5,1450.5 L1662.3,1451.1 L1663.0,1450.1 L1663.8,1450.6 L1664.5,1449.4 L1665.3,1449.1 L1666.0,1449.1 L1666.8,1449.9 L1667.5,1449.2 L1668.3,1449.1 L1669.0,1448.3 L1669.8,1448.7 L1670.4,1447.5 L1670.5,1451.5 L1671.3,1474.6 L1671.7,1488.0 L1672.0,1488.0 L1672.8,1488.0 L1673.5,1488.0 L1674.3,1488.0 L1675.0,1488.0 L1675.8,1488.0 L1676.5,1488.0 L1677.3,1488.0 L1678.0,1488.0 L1678.1,1488.0 L1678.8,1488.0 L1679.4,1488.0 L1679.5,1488.0 L1680.3,1486.8 L1681.0,1486.1 L1681.8,1485.2 L1682.5,1484.3 L1683.3,1483.7 L1684.0,1482.7 L1684.5,1482.5 L1684.8,1482.0 L1685.5,1481.4 L1686.3,1480.5 L1687.0,1479.8 L1687.8,1478.8 L1688.5,1477.8 L1689.3,1477.0 L1690.0,1476.3 L1690.8,1475.9 L1691.5,1474.6 L1692.3,1474.1 L1693.0,1473.2 L1693.8,1472.6 L1694.5,1471.6 L1695.3,1471.1 L1696.0,1470.8 L1696.8,1469.9 L1697.3,1470.2 L1697.5,1470.1 L1698.3,1470.0 L1699.0,1469.1 L1699.8,1469.0 L1700.5,1469.6 L1701.3,1468.7 L1702.0,1469.6 L1702.8,1468.0 L1703.5,1469.0 L1704.3,1468.5 L1705.0,1468.6 L1705.8,1467.6 L1706.5,1468.2 L1707.3,1468.5 L1708.0,1467.2 L1708.8,1467.6 L1709.5,1467.9 L1710.3,1465.9 L1711.0,1464.9 L1711.8,1463.6 L1712.5,1462.3 L1713.3,1460.9 L1714.0,1459.6 L1714.8,1458.3 L1715.5,1457.0 L1716.3,1455.7 L1717.0,1454.4 L1717.8,1452.7 L1718.5,1452.1 L1719.3,1451.7 L1720.0,1452.1 L1720.8,1452.0 L1721.5,1452.0 L1722.3,1450.4 L1723.0,1451.2 L1723.8,1450.7 L1724.5,1449.7 L1725.3,1450.5 L1726.0,1448.9 L1726.8,1449.2 L1727.5,1449.5 L1728.3,1448.2 L1729.0,1448.1 L1729.8,1448.8 L1730.1,1447.7 L1730.5,1460.6 L1731.3,1483.6 L1731.4,1488.0 L1732.0,1488.0 L1732.8,1488.0 L1733.5,1488.0 L1734.3,1488.0 L1735.0,1488.0 L1735.8,1488.0 L1736.5,1488.0 L1737.3,1488.0 L1737.8,1488.0 L1738.0,1488.0 L1738.8,1488.0 L1739.1,1488.0 L1739.5,1487.5 L1740.3,1486.6 L1741.0,1486.0 L1741.8,1485.1 L1742.5,1484.0 L1743.3,1483.6 L1744.0,1482.7 L1744.2,1482.7 L1744.8,1481.8 L1745.5,1481.0 L1746.3,1480.2 L1747.0,1479.5 L1747.8,1478.7 L1748.5,1477.5 L1749.3,1476.8 L1750.0,1475.8 L1750.8,1475.3 L1751.5,1474.0 L1752.3,1473.3 L1753.0,1472.5 L1753.8,1471.6 L1754.5,1471.1 L1755.3,1469.9 L1756.0,1469.5 L1756.8,1469.8 L1757.0,1468.6 L1757.5,1469.7 L1758.3,1468.4 L1759.0,1469.0 L1759.8,1468.0 L1760.5,1469.1 L1761.3,1468.3 L1762.0,1467.3 L1762.8,1467.9 L1763.5,1467.7 L1764.3,1467.7 L1765.0,1467.4 L1765.8,1467.6 L1766.5,1467.7 L1767.3,1467.5 L1768.0,1466.5 L1768.8,1467.2 L1769.5,1466.0 L1770.3,1465.2 L1771.0,1464.1 L1771.8,1462.9 L1772.5,1461.7 L1773.3,1460.6 L1774.0,1459.4 L1774.8,1458.3 L1775.5,1457.1 L1776.3,1456.0 L1777.0,1454.8 L1777.8,1453.2 L1778.5,1452.8 L1779.3,1452.7 L1780.0,1452.3 L1780.8,1452.4 L1781.5,1452.3 L1782.3,1452.7 L1783.0,1452.5 L1783.8,1451.8 L1784.5,1451.2 L1785.3,1450.9 L1786.0,1451.4 L1786.8,1450.2 L1787.5,1450.3 L1788.3,1449.9 L1789.0,1450.1 L1789.8,1448.7 L1789.8,1448.9 L1790.5,1470.0 L1791.2,1488.0 L1791.3,1488.0 L1792.0,1488.0 L1792.8,1488.0 L1793.5,1488.0 L1794.3,1488.0 L1795.0,1488.0 L1795.8,1488.0 L1796.5,1488.0 L1797.3,1488.0 L1797.5,1488.0 L1798.0,1488.0 L1798.8,1488.0 L1798.8,1487.8 L1799.5,1487.0 L1800.3,1486.6 L1801.0,1485.8 L1801.8,1484.5 L1802.5,1483.8 L1803.3,1482.8 L1803.9,1482.5 L1804.0,1482.1 L1804.8,1481.7 L1805.5,1480.9 L1806.3,1479.7 L1807.0,1478.9 L1807.8,1478.3 L1808.5,1477.4 L1809.3,1476.6 L1810.0,1476.1 L1810.8,1475.5 L1811.5,1474.5 L1812.3,1473.8 L1813.0,1472.7 L1813.8,1472.4 L1814.5,1471.5 L1815.3,1471.2 L1816.0,1470.3 L1816.7,1470.5 L1816.8,1470.5 L1817.5,1469.5 L1818.3,1469.4 L1819.0,1469.4 L1819.8,1468.7 L1820.5,1468.7 L1821.3,1469.2 L1822.0,1468.5 L1822.8,1468.7 L1823.5,1468.4 L1824.3,1469.1 L1825.0,1467.9 L1825.8,1468.2 L1826.5,1468.9 L1827.3,1469.0 L1828.0,1468.3 L1828.8,1467.7 L1829.5,1467.2 L1830.3,1465.6 L1831.0,1464.3 L1831.8,1463.0 L1832.5,1461.7 L1833.3,1460.5 L1834.0,1459.2 L1834.8,1457.9 L1835.5,1456.6 L1836.3,1455.3 L1837.0,1454.5 L1837.8,1452.9 L1838.5,1453.4 L1839.3,1453.4 L1840.0,1452.5 L1840.8,1452.3 L1841.5,1451.6 L1842.3,1452.2 L1843.0,1450.7 L1843.8,1450.2 L1844.5,1450.3 L1845.3,1450.3 L1846.0,1450.5 L1846.8,1450.5 L1847.5,1449.2 L1848.3,1448.5 L1849.0,1449.2 L1849.5,1448.4 L1849.8,1456.0 L1850.5,1478.6 L1850.9,1488.0 L1851.3,1488.0 L1852.0,1488.0 L1852.8,1488.0 L1853.5,1488.0 L1854.3,1488.0 L1855.0,1488.0 L1855.8,1488.0 L1856.5,1488.0 L1857.2,1488.0 L1857.3,1488.0 L1858.0,1488.0 L1858.5,1488.0 L1858.8,1487.5 L1859.5,1486.6 L1860.3,1485.9 L1861.0,1485.2 L1861.8,1484.3 L1862.5,1483.7 L1863.3,1482.8 L1863.6,1482.6 L1864.0,1481.8 L1864.8,1481.3 L1865.5,1480.1 L1866.3,1479.4 L1867.0,1478.8 L1867.8,1478.1 L1868.5,1477.0 L1869.3,1476.3 L1870.0,1475.4 L1870.8,1474.4 L1871.5,1473.9 L1872.3,1473.2 L1873.0,1472.1 L1873.8,1471.3 L1874.5,1470.5 L1875.3,1470.5 L1876.0,1469.5 L1876.4,1469.1 L1876.8,1468.6 L1877.5,1469.5 L1878.3,1469.3 L1879.0,1469.1 L1879.8,1468.4 L1880.5,1469.0 L1881.3,1468.1 L1882.0,1468.3 L1882.8,1468.0 L1883.5,1468.7 L1884.3,1467.4 L1885.0,1467.9 L1885.8,1467.8 L1886.5,1467.7 L1887.3,1466.8 L1888.0,1466.6 L1888.8,1466.5 L1889.5,1464.8 L1890.3,1464.1 L1891.0,1462.7 L1891.8,1461.3 L1892.5,1459.9 L1893.3,1458.5 L1894.0,1457.1 L1894.8,1455.7 L1895.5,1454.3 L1896.3,1452.9 L1897.0,1452.0 L1897.8,1450.3 L1898.5,1450.4 L1899.3,1450.1 L1900.0,1449.6 L1900.8,1450.4 L1901.5,1450.4 L1902.3,1449.9 L1903.0,1448.4 L1903.8,1448.8 L1904.5,1449.3 L1905.3,1447.9 L1906.0,1447.4 L1906.8,1448.0 L1907.5,1447.3 L1908.3,1447.4 L1909.0,1446.7 L1909.3,1446.4 L1909.8,1463.5 L1910.5,1487.3 L1910.6,1488.0 L1911.3,1488.0 L1912.0,1488.0 L1912.8,1488.0 L1913.5,1488.0 L1914.3,1488.0 L1915.0,1488.0 L1915.8,1488.0 L1916.5,1488.0 L1916.9,1488.0 L1917.3,1488.0 L1918.0,1488.0 L1918.2,1488.0 L1918.8,1487.5 L1919.5,1486.6 L1920.3,1485.7 L1921.0,1484.8 L1921.8,1483.8 L1922.5,1483.4 L1923.3,1482.2 L1923.3,1482.5 L1924.0,1481.7 L1924.8,1480.9 L1925.5,1480.1 L1926.3,1479.2 L1927.0,1478.2 L1927.8,1477.3 L1928.5,1476.4 L1929.3,1475.8 L1930.0,1475.0 L1930.8,1474.2 L1931.5,1473.1 L1932.3,1472.3 L1933.0,1471.6 L1933.8,1470.6 L1934.5,1469.1 L1935.3,1468.5 L1936.0,1468.5 L1936.1,1468.9 L1936.8,1468.0 L1937.5,1468.4 L1938.3,1468.6 L1939.0,1468.5 L1939.8,1468.2 L1940.5,1468.0 L1941.3,1468.0 L1942.0,1467.7 L1942.8,1467.5 L1943.5,1467.6 L1944.3,1467.7 L1945.0,1467.4 L1945.8,1467.0 L1946.5,1466.0 L1947.3,1467.5 L1948.0,1465.8 L1948.8,1465.8 L1949.5,1464.5 L1950.3,1463.2 L1951.0,1462.0 L1951.8,1460.7 L1952.5,1459.5 L1953.3,1458.2 L1954.0,1456.9 L1954.8,1455.7 L1955.5,1454.4 L1956.3,1453.1 L1957.0,1452.9 L1957.8,1452.0 L1958.5,1451.9 L1959.3,1452.1 L1960.0,1450.5 L1960.8,1450.4 L1961.5,1449.7 L1962.3,1450.4 L1963.0,1449.1 L1963.8,1448.9 L1964.5,1449.1 L1965.3,1448.9 L1966.0,1449.1 L1966.8,1448.1 L1967.5,1448.1 L1968.3,1447.5 L1969.0,1447.3 L1969.0,1449.8 L1969.8,1473.0 L1970.3,1488.0 L1970.5,1488.0 L1971.3,1488.0 L1972.0,1488.0 L1972.8,1488.0 L1973.5,1488.0 L1974.3,1488.0 L1975.0,1488.0 L1975.8,1488.0 L1976.5,1488.0 L1976.6,1488.0 L1977.3,1488.0 L1977.9,1488.0 L1978.0,1488.0 L1978.8,1487.2 L1979.5,1486.4 L1980.3,1485.3 L1981.0,1484.6 L1981.8,1483.7 L1982.5,1482.7 L1983.0,1482.6 L1983.3,1482.1 L1984.0,1481.2 L1984.8,1480.7 L1985.5,1479.5 L1986.3,1478.8 L1987.0,1478.1 L1987.8,1477.0 L1988.5,1476.4 L1989.3,1475.6 L1990.0,1474.7 L1990.8,1474.2 L1991.5,1473.6 L1992.3,1472.5 L1993.0,1471.7 L1993.8,1471.2 L1994.5,1470.9 L1995.3,1469.3 L1995.8,1470.5 L1996.0,1470.2 L1996.8,1469.2 L1997.5,1468.7 L1998.3,1468.9 L1999.0,1468.9 L1999.8,1468.5 L2000.5,1469.1 L2001.3,1469.3 L2002.0,1468.1 L2002.8,1468.8 L2003.5,1468.1 L2004.3,1468.2 L2005.0,1468.1 L2005.8,1468.4 L2006.5,1468.3 L2007.3,1467.8 L2008.0,1466.9 L2008.8,1467.1 L2009.5,1465.0 L2010.3,1463.7 L2011.0,1462.3 L2011.8,1461.0 L2012.5,1459.7 L2013.3,1458.4 L2014.0,1457.1 L2014.8,1455.8 L2015.5,1454.4 L2016.3,1453.4 L2017.0,1453.0 L2017.8,1452.6 L2018.5,1451.4 L2019.3,1451.8 L2020.0,1451.8 L2020.8,1451.1 L2021.5,1450.4 L2022.3,1450.2 L2023.0,1450.0 L2023.8,1449.7 L2024.5,1448.9 L2025.3,1448.9 L2026.0,1449.7 L2026.8,1448.6 L2027.5,1448.3 L2028.3,1447.8 L2028.7,1447.7 L2029.0,1459.1 L2029.8,1482.1 L2030.0,1488.0 L2030.5,1488.0 L2031.3,1488.0 L2032.0,1488.0 L2032.8,1488.0 L2033.5,1488.0 L2034.3,1488.0 L2035.0,1488.0 L2035.8,1488.0 L2036.3,1488.0 L2036.5,1488.0 L2037.3,1488.0 L2037.6,1488.0 L2038.0,1487.6 L2038.8,1486.5 L2039.5,1485.9 L2040.3,1484.9 L2041.0,1484.1 L2041.8,1483.6 L2042.5,1482.6 L2042.7,1482.5 L2043.3,1481.6 L2044.0,1481.1 L2044.8,1480.4 L2045.5,1479.2 L2046.3,1478.6 L2047.0,1477.8 L2047.8,1476.8 L2048.6,1475.9 L2049.3,1475.4 L2050.1,1474.1 L2050.8,1473.5 L2051.6,1472.5 L2052.3,1472.0 L2053.1,1470.8 L2053.8,1470.6 L2054.6,1468.9 L2055.3,1469.8 L2055.6,1468.4 L2056.1,1468.9 L2056.8,1469.1 L2057.6,1469.3 L2058.3,1468.7 L2059.1,1468.4 L2059.8,1468.1 L2060.6,1467.4 L2061.3,1467.4 L2062.1,1468.1 L2062.8,1467.0 L2063.6,1467.5 L2064.3,1467.3 L2065.1,1466.7 L2065.8,1466.5 L2066.6,1466.8 L2067.3,1466.3 L2068.1,1466.2 L2068.8,1464.9 L2069.6,1463.5 L2070.3,1462.1 L2071.1,1460.6 L2071.8,1459.2 L2072.6,1457.8 L2073.3,1456.3 L2074.1,1454.9 L2074.8,1453.5 L2075.6,1452.0 L2076.3,1450.9 L2077.1,1450.7 L2077.8,1449.8 L2078.6,1449.1 L2079.3,1449.2 L2080.1,1449.9 L2080.8,1449.5 L2081.6,1448.5 L2082.3,1447.9 L2083.1,1447.6 L2083.8,1447.4 L2084.6,1446.8 L2085.3,1447.3 L2086.1,1447.2 L2086.8,1446.2 L2087.6,1446.3 L2088.3,1445.3 L2088.4,1445.7 L2089.1,1466.9 L2089.7,1488.0 L2089.8,1488.0 L2090.6,1488.0 L2091.3,1488.0 L2092.1,1488.0 L2092.8,1488.0 L2093.6,1488.0 L2094.3,1488.0 L2095.1,1488.0 L2095.8,1488.0 L2096.0,1488.0 L2096.6,1488.0 L2097.3,1488.0 L2097.3,1488.0 L2098.1,1487.4 L2098.8,1486.6 L2099.6,1485.7 L2100.3,1484.7 L2101.1,1483.8 L2101.8,1483.0 L2102.4,1482.5 L2102.6,1482.3 L2103.3,1481.4 L2104.1,1480.9 L2104.8,1480.1 L2105.6,1479.2 L2106.3,1478.3 L2107.1,1477.4 L2107.8,1476.5 L2108.6,1475.8 L2109.3,1475.3 L2110.1,1474.4 L2110.8,1473.8 L2111.6,1472.8 L2112.3,1472.5 L2113.1,1471.4 L2113.8,1470.1 L2114.6,1469.4 L2115.3,1470.7 L2115.3,1469.7 L2116.1,1469.4 L2116.8,1469.7 L2117.6,1469.6 L2118.3,1469.3 L2119.1,1468.9 L2119.8,1468.6 L2120.6,1469.8 L2121.3,1468.7 L2122.1,1468.9 L2122.8,1468.3 L2123.6,1469.0 L2124.3,1467.8 L2125.1,1468.6 L2125.8,1468.6 L2126.6,1468.5 L2127.3,1468.6 L2128.1,1467.7 L2128.8,1465.7 L2129.6,1464.4 L2130.3,1463.1 L2131.1,1461.8 L2131.8,1460.5 L2132.6,1459.1 L2133.3,1457.8 L2134.1,1456.5 L2134.8,1455.2 L2135.6,1453.9 L2136.3,1453.5 L2137.1,1452.2 L2137.8,1453.2 L2138.6,1452.2 L2139.3,1452.0 L2140.1,1452.1 L2140.8,1451.7 L2141.6,1451.6 L2142.3,1450.8 L2143.1,1449.9 L2143.8,1449.9 L2144.6,1450.2 L2145.3,1450.3 L2146.1,1448.8 L2146.8,1449.2 L2147.6,1449.3 L2148.1,1448.3 L2148.3,1454.3 L2149.1,1477.0 L2149.4,1488.0 L2149.8,1488.0 L2150.6,1488.0 L2151.3,1488.0 L2152.1,1488.0 L2152.8,1488.0 L2153.6,1488.0 L2154.3,1488.0 L2155.1,1488.0 L2155.7,1488.0 L2155.8,1488.0 L2156.6,1488.0 L2157.1,1487.9 L2157.3,1487.8 L2158.1,1486.8 L2158.8,1486.3 L2159.6,1485.4 L2160.3,1484.5 L2161.1,1483.8 L2161.8,1483.0 L2162.1,1482.3 L2162.6,1481.8 L2163.3,1481.4 L2164.1,1480.2 L2164.8,1479.5 L2165.6,1478.6 L2166.3,1477.7 L2167.1,1477.2 L2167.8,1476.3 L2168.6,1475.7 L2169.3,1474.6 L2170.1,1473.9 L2170.8,1473.2 L2171.6,1472.1 L2172.3,1471.3 L2173.1,1470.5 L2173.8,1469.6 L2174.6,1469.1 L2175.0,1470.0 L2175.3,1469.2 L2176.1,1469.4 L2176.8,1468.8 L2177.6,1469.2 L2178.3,1468.0 L2179.1,1469.1 L2179.8,1469.0 L2180.6,1468.9 L2181.3,1468.7 L2182.1,1467.4 L2182.8,1468.7 L2183.6,1467.8 L2184.3,1467.9 L2185.1,1468.0 L2185.8,1466.8 L2186.6,1467.1 L2187.3,1467.8 L2188.1,1466.1 L2188.8,1464.4 L2189.6,1463.1 L2190.3,1461.8 L2191.1,1460.5 L2191.8,1459.1 L2192.6,1457.8 L2193.3,1456.5 L2194.1,1455.2 L2194.8,1453.9 L2195.6,1452.2 L2196.3,1451.9 L2197.1,1451.2 L2197.8,1451.8 L2198.6,1451.5 L2199.3,1451.6 L2200.1,1450.1 L2200.8,1450.2 L2201.6,1449.3 L2202.3,1449.4 L2203.1,1449.3 L2203.8,1448.7 L2204.6,1449.4 L2205.3,1448.0 L2206.1,1448.3 L2206.8,1448.0 L2207.6,1448.2 L2207.8,1447.4 L2208.3,1462.5 L2209.1,1485.7 L2209.1,1488.0 L2209.8,1488.0 L2210.6,1488.0 L2211.3,1488.0 L2212.1,1488.0 L2212.8,1488.0 L2213.6,1488.0 L2214.3,1488.0 L2215.1,1488.0 L2215.5,1488.0 L2215.8,1488.0 L2216.6,1488.0 L2216.8,1487.9 L2217.3,1487.5 L2218.1,1486.5 L2218.8,1486.0 L2219.6,1484.8 L2220.3,1484.3 L2221.1,1483.3 L2221.8,1482.5 L2221.8,1482.3 L2222.6,1481.9 L2223.3,1481.0 L2224.1,1479.9 L2224.8,1479.1 L2225.6,1478.5 L2226.3,1477.5 L2227.1,1476.8 L2227.8,1475.8 L2228.6,1474.9 L2229.3,1474.1 L2230.1,1473.1 L2230.8,1472.2 L2231.6,1471.3 L2232.3,1470.6 L2233.1,1469.1 L2233.8,1469.3 L2234.6,1468.0 L2234.7,1467.8 L2235.3,1469.1 L2236.1,1468.4 L2236.8,1468.0 L2237.6,1468.8 L2238.3,1468.6 L2239.1,1467.5 L2239.8,1468.2 L2240.6,1467.4 L2241.3,1468.2 L2242.1,1468.0 L2242.8,1467.4 L2243.6,1466.8 L2244.3,1466.5 L2245.1,1467.2 L2245.8,1466.6 L2246.6,1466.7 L2247.3,1466.1 L2248.1,1464.3 L2248.8,1462.8 L2249.6,1461.3 L2250.3,1459.9 L2251.1,1458.4 L2251.8,1456.9 L2252.6,1455.4 L2253.3,1454.0 L2254.1,1452.5 L2254.8,1451.0 L2255.6,1450.2 L2256.3,1450.0 L2257.1,1449.3 L2257.8,1449.7 L2258.6,1448.6 L2259.3,1449.0 L2260.1,1448.0 L2260.8,1448.0 L2261.6,1447.5 L2262.3,1447.4 L2263.1,1446.4 L2263.8,1445.9 L2264.6,1446.9 L2265.3,1445.8 L2266.1,1446.2 L2266.8,1446.0 L2267.5,1444.9 L2267.6,1445.9 L2268.3,1470.5 L2268.8,1488.0 L2269.1,1488.0 L2269.8,1488.0 L2270.6,1488.0 L2271.3,1488.0 L2272.1,1488.0 L2272.8,1488.0 L2273.6,1488.0 L2274.3,1488.0 L2275.1,1488.0 L2275.2,1488.0 L2275.8,1488.0 L2276.5,1488.0 L2276.6,1487.8 L2277.3,1486.9 L2278.1,1486.2 L2278.8,1485.6 L2279.6,1484.8 L2280.3,1483.8 L2281.1,1482.9 L2281.6,1482.5 L2281.8,1482.1 L2282.6,1481.2 L2283.3,1480.4 L2284.1,1479.8 L2284.8,1479.2 L2285.6,1477.9 L2286.3,1477.6 L2287.1,1476.3 L2287.8,1476.0 L2288.6,1475.1 L2289.3,1474.3 L2290.1,1473.3 L2290.8,1472.5 L2291.6,1471.9 L2292.3,1471.2 L2293.1,1469.7 L2293.8,1469.9 L2294.4,1468.9 L2294.6,1469.8 L2295.3,1469.5 L2296.1,1469.8 L2296.8,1469.3 L2297.6,1468.5 L2298.3,1468.5 L2299.1,1468.6 L2299.8,1468.9 L2300.6,1469.1 L2301.3,1468.1 L2302.1,1468.1 L2302.8,1468.7 L2303.6,1467.8 L2304.3,1468.2 L2305.1,1467.1 L2305.8,1467.6 L2306.6,1467.0 L2307.3,1466.1 L2308.1,1465.3 L2308.8,1464.1 L2309.6,1462.9 L2310.3,1461.7 L2311.1,1460.5 L2311.8,1459.3 L2312.6,1458.1 L2313.3,1456.9 L2314.1,1455.7 L2314.8,1455.0 L2315.6,1453.8 L2316.3,1453.0 L2317.1,1453.6 L2317.8,1453.1 L2318.6,1452.3 L2319.3,1452.5 L2320.1,1451.8 L2320.8,1452.2 L2321.6,1451.5 L2322.3,1450.6 L2323.1,1451.1 L2323.8,1450.9 L2324.6,1450.8 L2325.3,1450.7 L2326.1,1449.3 L2326.8,1449.3 L2327.2,1449.2 L2327.6,1458.6 L2328.3,1480.8 L2328.5,1488.0 L2329.1,1488.0 L2329.8,1488.0 L2330.6,1488.0 L2331.3,1488.0 L2332.1,1488.0 L2332.8,1488.0 L2333.6,1488.0 L2334.3,1488.0 L2334.9,1488.0 L2335.1,1488.0 L2335.8,1488.0 L2336.2,1488.0 L2336.6,1487.9 L2337.3,1486.9 L2338.1,1486.0 L2338.8,1485.0 L2339.6,1484.4 L2340.3,1483.7 L2341.1,1482.9 L2341.3,1482.6 L2341.8,1481.9 L2342.6,1481.1 L2343.3,1480.2 L2344.1,1479.2 L2344.8,1478.5 L2345.6,1477.8 L2346.3,1476.8 L2347.1,1476.3 L2347.8,1475.0 L2348.6,1474.3 L2349.3,1473.4 L2350.1,1472.7 L2350.8,1472.0 L2351.6,1471.1 L2352.3,1469.9 L2353.1,1469.3 L2353.8,1468.8 L2354.1,1469.4 L2354.6,1468.7 L2355.3,1468.5 L2356.1,1468.3 L2356.8,1469.1 L2357.6,1469.1 L2358.3,1467.6 L2359.1,1467.8 L2359.8,1468.0 L2360.6,1468.5 L2361.3,1468.3 L2362.1,1467.8 L2362.8,1467.0 L2363.6,1467.3 L2364.3,1466.9 L2365.1,1466.7 L2365.8,1466.9 L2366.6,1466.9 L2367.3,1465.3 L2368.1,1464.1 L2368.8,1462.9 L2369.6,1461.7 L2370.3,1460.5 L2371.1,1459.3 L2371.8,1458.0 L2372.6,1456.8 L2373.3,1455.6 L2374.1,1454.4 L2374.8,1454.1 L2375.6,1452.8 L2376.3,1453.1 L2377.1,1452.2 L2377.8,1452.4 L2378.6,1451.8 L2379.3,1451.4 L2380.1,1450.8 L2380.8,1450.9 L2381.6,1451.0 L2382.3,1450.1 L2383.1,1450.7 L2383.8,1449.6 L2384.6,1449.9 L2385.3,1449.4 L2386.1,1449.2 L2386.8,1447.9 L2386.9,1448.3 L2387.6,1466.7 L2388.3,1488.0 L2388.3,1488.0 L2389.1,1488.0 L2389.8,1488.0 L2390.6,1488.0 L2391.3,1488.0 L2392.1,1488.0 L2392.8,1488.0 L2393.6,1488.0 L2394.3,1488.0 L2394.6,1488.0 L2395.1,1488.0 L2395.8,1488.0 L2395.9,1488.0 L2396.6,1487.1 L2397.3,1486.3 L2398.1,1485.4 L2398.8,1484.7 L2399.6,1484.0 L2400.3,1483.2 L2401.0,1482.2 L2401.1,1482.2 L2401.8,1481.5 L2402.6,1480.6 L2403.3,1479.9 L2404.1,1479.1 L2404.8,1478.5 L2405.6,1477.3 L2406.3,1476.9 L2407.1,1476.2 L2407.8,1475.2 L2408.6,1474.6 L2409.3,1473.6 L2410.1,1472.9 L2410.8,1472.2 L2411.6,1471.4 L2412.3,1471.2 L2413.1,1470.3 L2413.8,1469.3 L2413.8,1470.8 L2414.6,1470.3 L2415.3,1470.6 L2416.1,1470.2 L2416.8,1469.7 L2417.6,1468.8 L2418.3,1468.6 L2419.1,1469.2 L2419.8,1468.5 L2420.6,1469.6 L2421.3,1468.0 L2422.1,1468.4 L2422.8,1467.9 L2423.6,1468.1 L2424.3,1467.5 L2425.1,1468.5 L2425.8,1467.6 L2426.6,1466.1 L2427.3,1465.4 L2428.1,1463.9 L2428.8,1462.4 L2429.6,1460.9 L2430.3,1459.4 L2431.1,1457.8 L2431.8,1456.3 L2432.6,1454.8 L2433.3,1453.3 L2434.1,1451.8 L2434.8,1451.4 L2435.6,1450.9 L2436.3,1449.5 L2437.1,1449.3 L2437.8,1449.7 L2438.6,1448.7 L2439.3,1449.1 L2440.1,1449.1 L2440.8,1447.7 L2441.6,1447.9 L2442.3,1448.6 L2443.1,1447.9 L2443.8,1446.5 L2444.6,1447.2 L2445.3,1446.4 L2446.1,1446.1 L2446.7,1445.9 L2446.8,1450.7 L2447.6,1474.7 L2448.0,1488.0 L2448.3,1488.0 L2449.1,1488.0 L2449.8,1488.0 L2450.6,1488.0 L2451.3,1488.0 L2452.1,1488.0 L2452.8,1488.0 L2453.6,1488.0 L2454.3,1488.0 L2454.3,1488.0 L2455.1,1488.0 L2455.6,1488.0 L2455.8,1488.0 L2456.6,1486.7 L2457.3,1486.2 L2458.1,1485.3 L2458.8,1484.5 L2459.6,1483.5 L2460.3,1482.8 L2460.7,1482.4 L2461.1,1482.2 L2461.8,1481.0 L2462.6,1480.5 L2463.3,1479.7 L2464.1,1478.9 L2464.8,1478.0 L2465.6,1477.2 L2466.3,1476.2 L2467.1,1475.3 L2467.8,1474.6 L2468.6,1474.1 L2469.3,1473.1 L2470.1,1472.3 L2470.8,1471.7 L2471.6,1470.6 L2472.3,1469.1 L2473.1,1468.9 L2473.5,1469.9 L2473.8,1468.9 L2474.6,1469.7 L2475.3,1469.1 L2476.1,1469.6 L2476.8,1469.3 L2477.6,1468.5 L2478.3,1467.8 L2479.1,1468.2 L2479.8,1467.8 L2480.6,1468.1 L2481.3,1468.2 L2482.1,1468.6 L2482.8,1467.3 L2483.6,1467.9 L2484.3,1468.2 L2485.1,1467.4 L2485.8,1466.7 L2486.6,1465.2 L2487.3,1464.7 L2488.1,1463.5 L2488.8,1462.2 L2489.6,1461.0 L2490.3,1459.8 L2491.1,1458.6 L2491.8,1457.3 L2492.6,1456.1 L2493.3,1454.9 L2494.1,1454.1 L2494.8,1452.6 L2495.6,1452.5 L2496.3,1451.9 L2497.1,1451.7 L2497.8,1452.1 L2498.6,1451.9 L2499.3,1451.6 L2500.1,1451.6 L2500.8,1451.6 L2501.6,1450.6 L2502.3,1449.7 L2503.1,1449.9 L2503.8,1450.2 L2504.6,1449.3 L2505.3,1449.3 L2506.1,1449.3 L2506.4,1448.4 L2506.8,1461.7 L2507.6,1484.3 L2507.7,1488.0 L2508.3,1488.0 L2509.1,1488.0 L2509.8,1488.0 L2510.6,1488.0 L2511.3,1488.0 L2512.1,1488.0 L2512.8,1488.0 L2513.6,1488.0 L2514.0,1488.0 L2514.3,1488.0 L2515.1,1488.0 L2515.3,1488.0 L2515.8,1487.5 L2516.6,1486.6 L2517.3,1485.6 L2518.1,1485.0 L2518.8,1484.1 L2519.6,1483.2 L2520.3,1482.3 L2520.4,1482.3 L2521.1,1481.5 L2521.8,1481.2 L2522.6,1479.9 L2523.3,1479.1 L2524.1,1478.4 L2524.8,1477.8 L2525.6,1476.5 L2526.3,1476.1 L2527.1,1474.9 L2527.8,1474.1 L2528.6,1473.5 L2529.3,1472.3 L2530.1,1471.4 L2530.8,1470.5 L2531.6,1469.4 L2532.3,1468.2 L2533.1,1469.3 L2533.2,1468.4 L2533.8,1467.8 L2534.6,1469.1 L2535.3,1468.4 L2536.1,1467.7 L2536.8,1468.6 L2537.6,1467.3 L2538.3,1468.4 L2539.1,1467.1 L2539.8,1467.4 L2540.6,1466.9 L2541.3,1467.7 L2542.1,1466.4 L2542.8,1467.2 L2543.6,1466.3 L2544.3,1466.8 L2545.1,1467.3 L2545.8,1466.4 L2546.6,1464.4 L2547.3,1463.0 L2548.1,1461.5 L2548.8,1460.1 L2549.6,1458.7 L2550.3,1457.2 L2551.1,1455.8 L2551.8,1454.3 L2552.6,1452.9 L2553.3,1451.5 L2554.1,1450.9 L2554.8,1449.5 L2555.6,1448.9 L2556.3,1449.6 L2557.1,1448.3 L2557.8,1448.6 L2558.6,1447.7 L2559.3,1447.6 L2560.1,1448.2 L2560.8,1447.4 L2561.6,1446.7 L2562.3,1447.3 L2563.1,1447.0 L2563.8,1446.1 L2564.6,1446.5 L2565.3,1445.5 L2566.1,1445.6 L2566.1,1445.2 L2566.8,1469.0 L2567.4,1488.0 L2567.6,1488.0 L2568.3,1488.0 L2569.1,1488.0 L2569.8,1488.0 L2570.6,1488.0 L2571.3,1488.0 L2572.1,1488.0 L2572.8,1488.0 L2573.6,1488.0 L2573.7,1488.0 L2574.3,1488.0 L2575.0,1488.0 L2575.1,1488.0 L2575.8,1487.1 L2576.6,1486.1 L2577.3,1485.5 L2578.1,1484.8 L2578.8,1483.8 L2579.6,1483.1 L2579.6,1490.0 L1518.3,1490.0 Z" fill="#4b0082" fill-opacity="0.05"/><path d="M1518.3,1470.0 L1519.0,1469.8 L1519.8,1469.2 L1520.5,1469.0 L1521.3,1468.9 L1522.0,1469.6 L1522.8,1468.5 L1523.5,1469.2 L1524.3,1469.3 L1525.0,1469.5 L1525.8,1468.7 L1526.5,1469.1 L1527.3,1468.8 L1528.0,1468.1 L1528.8,1467.8 L1529.5,1467.7 L1530.3,1468.6 L1531.0,1467.5 L1531.8,1465.6 L1532.5,1464.4 L1533.3,1463.1 L1534.0,1461.9 L1534.8,1460.6 L1535.5,1459.4 L1536.3,1458.2 L1537.0,1456.9 L1537.8,1455.7 L1538.5,1455.1 L1539.3,1453.7 L1540.0,1452.9 L1540.8,1452.7 L1541.5,1452.2 L1542.3,1452.5 L1543.0,1452.1 L1543.8,1452.4 L1544.5,1452.0 L1545.3,1451.9 L1546.0,1451.1 L1546.8,1450.7 L1547.5,1450.5 L1548.3,1450.5 L1549.0,1450.1 L1549.8,1450.1 L1550.5,1448.9 L1551.0,1449.0 L1551.3,1457.9 L1552.0,1480.2 L1552.3,1488.0 L1552.8,1488.0 L1553.5,1488.0 L1554.3,1488.0 L1555.0,1488.0 L1555.8,1488.0 L1556.5,1488.0 L1557.3,1488.0 L1558.0,1488.0 L1558.6,1488.0 L1558.8,1488.0 L1559.5,1488.0 L1560.0,1488.0 L1560.3,1487.5 L1561.0,1486.6 L1561.8,1486.1 L1562.5,1485.4 L1563.3,1484.5 L1564.0,1483.3 L1564.8,1482.6 L1565.0,1482.5 L1565.5,1481.7 L1566.3,1481.2 L1567.0,1480.1 L1567.8,1479.7 L1568.5,1478.5 L1569.3,1477.5 L1570.0,1477.0 L1570.8,1476.2 L1571.5,1475.6 L1572.3,1474.7 L1573.0,1473.9 L1573.8,1473.0 L1574.5,1472.4 L1575.3,1471.4 L1576.0,1470.7 L1576.8,1469.7 L1577.5,1469.6 L1577.9,1469.8 L1578.3,1468.6 L1579.0,1469.5 L1579.8,1469.0 L1580.5,1468.3 L1581.3,1468.3 L1582.0,1467.9 L1582.8,1468.3 L1583.5,1467.8 L1584.3,1468.9 L1585.0,1467.7 L1585.8,1468.2 L1586.5,1468.1 L1587.3,1467.3 L1588.0,1467.2 L1588.8,1467.7 L1589.5,1467.5 L1590.3,1467.2 L1591.0,1465.6 L1591.8,1464.3 L1592.5,1463.0 L1593.3,1461.7 L1594.0,1460.4 L1594.8,1459.1 L1595.5,1457.8 L1596.3,1456.5 L1597.0,1455.2 L1597.8,1453.9 L1598.5,1452.1 L1599.3,1452.1 L1600.0,1452.3 L1600.8,1451.6 L1601.5,1452.1 L1602.3,1451.4 L1603.0,1450.8 L1603.8,1449.7 L1604.5,1449.6 L1605.3,1449.8 L1606.0,1449.2 L1606.8,1449.7 L1607.5,1448.7 L1608.3,1448.0 L1609.0,1449.0 L1609.8,1447.5 L1610.5,1447.1 L1610.7,1447.6 L1611.3,1465.7 L1612.0,1488.0 L1612.0,1488.0 L1612.8,1488.0 L1613.5,1488.0 L1614.3,1488.0 L1615.0,1488.0 L1615.8,1488.0 L1616.5,1488.0 L1617.3,1488.0 L1618.0,1488.0 L1618.4,1488.0 L1618.8,1488.0 L1619.5,1488.0 L1619.7,1488.0 L1620.3,1487.1 L1621.0,1486.2 L1621.8,1485.9 L1622.5,1484.9 L1623.3,1484.0 L1624.0,1483.1 L1624.7,1482.6 L1624.8,1482.3 L1625.5,1481.5 L1626.3,1480.6 L1627.0,1479.8 L1627.8,1478.9 L1628.5,1478.2 L1629.3,1477.4 L1630.0,1476.6 L1630.8,1475.7 L1631.5,1474.8 L1632.3,1473.9 L1633.0,1473.1 L1633.8,1472.4 L1634.5,1471.3 L1635.3,1470.2 L1636.0,1469.9 L1636.8,1468.0 L1637.5,1468.1 L1637.6,1468.7 L1638.3,1469.0 L1639.0,1467.8 L1639.8,1467.5 L1640.5,1468.4 L1641.3,1467.7 L1642.0,1467.5 L1642.8,1467.5 L1643.5,1468.2 L1644.3,1467.9 L1645.0,1467.0 L1645.8,1467.0 L1646.5,1466.8 L1647.3,1467.3 L1648.0,1466.2 L1648.8,1466.2 L1649.5,1466.6 L1650.3,1465.1 L1651.0,1464.4 L1651.8,1463.2 L1652.5,1461.9 L1653.3,1460.7 L1654.0,1459.5 L1654.8,1458.2 L1655.5,1457.0 L1656.3,1455.7 L1657.0,1454.5 L1657.8,1453.2 L1658.5,1452.6 L1659.3,1452.0 L1660.0,1451.7 L1660.8,1450.7 L1661.5,1450.5 L1662.3,1451.1 L1663.0,1450.1 L1663.8,1450.6 L1664.5,1449.4 L1665.3,1449.1 L1666.0,1449.1 L1666.8,1449.9 L1667.5,1449.2 L1668.3,1449.1 L1669.0,1448.3 L1669.8,1448.7 L1670.4,1447.5 L1670.5,1451.5 L1671.3,1474.6 L1671.7,1488.0 L1672.0,1488.0 L1672.8,1488.0 L1673.5,1488.0 L1674.3,1488.0 L1675.0,1488.0 L1675.8,1488.0 L1676.5,1488.0 L1677.3,1488.0 L1678.0,1488.0 L1678.1,1488.0 L1678.8,1488.0 L1679.4,1488.0 L1679.5,1488.0 L1680.3,1486.8 L1681.0,1486.1 L1681.8,1485.2 L1682.5,1484.3 L1683.3,1483.7 L1684.0,1482.7 L1684.5,1482.5 L1684.8,1482.0 L1685.5,1481.4 L1686.3,1480.5 L1687.0,1479.8 L1687.8,1478.8 L1688.5,1477.8 L1689.3,1477.0 L1690.0,1476.3 L1690.8,1475.9 L1691.5,1474.6 L1692.3,1474.1 L1693.0,1473.2 L1693.8,1472.6 L1694.5,1471.6 L1695.3,1471.1 L1696.0,1470.8 L1696.8,1469.9 L1697.3,1470.2 L1697.5,1470.1 L1698.3,1470.0 L1699.0,1469.1 L1699.8,1469.0 L1700.5,1469.6 L1701.3,1468.7 L1702.0,1469.6 L1702.8,1468.0 L1703.5,1469.0 L1704.3,1468.5 L1705.0,1468.6 L1705.8,1467.6 L1706.5,1468.2 L1707.3,1468.5 L1708.0,1467.2 L1708.8,1467.6 L1709.5,1467.9 L1710.3,1465.9 L1711.0,1464.9 L1711.8,1463.6 L1712.5,1462.3 L1713.3,1460.9 L1714.0,1459.6 L1714.8,1458.3 L1715.5,1457.0 L1716.3,1455.7 L1717.0,1454.4 L1717.8,1452.7 L1718.5,1452.1 L1719.3,1451.7 L1720.0,1452.1 L1720.8,1452.0 L1721.5,1452.0 L1722.3,1450.4 L1723.0,1451.2 L1723.8,1450.7 L1724.5,1449.7 L1725.3,1450.5 L1726.0,1448.9 L1726.8,1449.2 L1727.5,1449.5 L1728.3,1448.2 L1729.0,1448.1 L1729.8,1448.8 L1730.1,1447.7 L1730.5,1460.6 L1731.3,1483.6 L1731.4,1488.0 L1732.0,1488.0 L1732.8,1488.0 L1733.5,1488.0 L1734.3,1488.0 L1735.0,1488.0 L1735.8,1488.0 L1736.5,1488.0 L1737.3,1488.0 L1737.8,1488.0 L1738.0,1488.0 L1738.8,1488.0 L1739.1,1488.0 L1739.5,1487.5 L1740.3,1486.6 L1741.0,1486.0 L1741.8,1485.1 L1742.5,1484.0 L1743.3,1483.6 L1744.0,1482.7 L1744.2,1482.7 L1744.8,1481.8 L1745.5,1481.0 L1746.3,1480.2 L1747.0,1479.5 L1747.8,1478.7 L1748.5,1477.5 L1749.3,1476.8 L1750.0,1475.8 L1750.8,1475.3 L1751.5,1474.0 L1752.3,1473.3 L1753.0,1472.5 L1753.8,1471.6 L1754.5,1471.1 L1755.3,1469.9 L1756.0,1469.5 L1756.8,1469.8 L1757.0,1468.6 L1757.5,1469.7 L1758.3,1468.4 L1759.0,1469.0 L1759.8,1468.0 L1760.5,1469.1 L1761.3,1468.3 L1762.0,1467.3 L1762.8,1467.9 L1763.5,1467.7 L1764.3,1467.7 L1765.0,1467.4 L1765.8,1467.6 L1766.5,1467.7 L1767.3,1467.5 L1768.0,1466.5 L1768.8,1467.2 L1769.5,1466.0 L1770.3,1465.2 L1771.0,1464.1 L1771.8,1462.9 L1772.5,1461.7 L1773.3,1460.6 L1774.0,1459.4 L1774.8,1458.3 L1775.5,1457.1 L1776.3,1456.0 L1777.0,1454.8 L1777.8,1453.2 L1778.5,1452.8 L1779.3,1452.7 L1780.0,1452.3 L1780.8,1452.4 L1781.5,1452.3 L1782.3,1452.7 L1783.0,1452.5 L1783.8,1451.8 L1784.5,1451.2 L1785.3,1450.9 L1786.0,1451.4 L1786.8,1450.2 L1787.5,1450.3 L1788.3,1449.9 L1789.0,1450.1 L1789.8,1448.7 L1789.8,1448.9 L1790.5,1470.0 L1791.2,1488.0 L1791.3,1488.0 L1792.0,1488.0 L1792.8,1488.0 L1793.5,1488.0 L1794.3,1488.0 L1795.0,1488.0 L1795.8,1488.0 L1796.5,1488.0 L1797.3,1488.0 L1797.5,1488.0 L1798.0,1488.0 L1798.8,1488.0 L1798.8,1487.8 L1799.5,1487.0 L1800.3,1486.6 L1801.0,1485.8 L1801.8,1484.5 L1802.5,1483.8 L1803.3,1482.8 L1803.9,1482.5 L1804.0,1482.1 L1804.8,1481.7 L1805.5,1480.9 L1806.3,1479.7 L1807.0,1478.9 L1807.8,1478.3 L1808.5,1477.4 L1809.3,1476.6 L1810.0,1476.1 L1810.8,1475.5 L1811.5,1474.5 L1812.3,1473.8 L1813.0,1472.7 L1813.8,1472.4 L1814.5,1471.5 L1815.3,1471.2 L1816.0,1470.3 L1816.7,1470.5 L1816.8,1470.5 L1817.5,1469.5 L1818.3,1469.4 L1819.0,1469.4 L1819.8,1468.7 L1820.5,1468.7 L1821.3,1469.2 L1822.0,1468.5 L1822.8,1468.7 L1823.5,1468.4 L1824.3,1469.1 L1825.0,1467.9 L1825.8,1468.2 L1826.5,1468.9 L1827.3,1469.0 L1828.0,1468.3 L1828.8,1467.7 L1829.5,1467.2 L1830.3,1465.6 L1831.0,1464.3 L1831.8,1463.0 L1832.5,1461.7 L1833.3,1460.5 L1834.0,1459.2 L1834.8,1457.9 L1835.5,1456.6 L1836.3,1455.3 L1837.0,1454.5 L1837.8,1452.9 L1838.5,1453.4 L1839.3,1453.4 L1840.0,1452.5 L1840.8,1452.3 L1841.5,1451.6 L1842.3,1452.2 L1843.0,1450.7 L1843.8,1450.2 L1844.5,1450.3 L1845.3,1450.3 L1846.0,1450.5 L1846.8,1450.5 L1847.5,1449.2 L1848.3,1448.5 L1849.0,1449.2 L1849.5,1448.4 L1849.8,1456.0 L1850.5,1478.6 L1850.9,1488.0 L1851.3,1488.0 L1852.0,1488.0 L1852.8,1488.0 L1853.5,1488.0 L1854.3,1488.0 L1855.0,1488.0 L1855.8,1488.0 L1856.5,1488.0 L1857.2,1488.0 L1857.3,1488.0 L1858.0,1488.0 L1858.5,1488.0 L1858.8,1487.5 L1859.5,1486.6 L1860.3,1485.9 L1861.0,1485.2 L1861.8,1484.3 L1862.5,1483.7 L1863.3,1482.8 L1863.6,1482.6 L1864.0,1481.8 L1864.8,1481.3 L1865.5,1480.1 L1866.3,1479.4 L1867.0,1478.8 L1867.8,1478.1 L1868.5,1477.0 L1869.3,1476.3 L1870.0,1475.4 L1870.8,1474.4 L1871.5,1473.9 L1872.3,1473.2 L1873.0,1472.1 L1873.8,1471.3 L1874.5,1470.5 L1875.3,1470.5 L1876.0,1469.5 L1876.4,1469.1 L1876.8,1468.6 L1877.5,1469.5 L1878.3,1469.3 L1879.0,1469.1 L1879.8,1468.4 L1880.5,1469.0 L1881.3,1468.1 L1882.0,1468.3 L1882.8,1468.0 L1883.5,1468.7 L1884.3,1467.4 L1885.0,1467.9 L1885.8,1467.8 L1886.5,1467.7 L1887.3,1466.8 L1888.0,1466.6 L1888.8,1466.5 L1889.5,1464.8 L1890.3,1464.1 L1891.0,1462.7 L1891.8,1461.3 L1892.5,1459.9 L1893.3,1458.5 L1894.0,1457.1 L1894.8,1455.7 L1895.5,1454.3 L1896.3,1452.9 L1897.0,1452.0 L1897.8,1450.3 L1898.5,1450.4 L1899.3,1450.1 L1900.0,1449.6 L1900.8,1450.4 L1901.5,1450.4 L1902.3,1449.9 L1903.0,1448.4 L1903.8,1448.8 L1904.5,1449.3 L1905.3,1447.9 L1906.0,1447.4 L1906.8,1448.0 L1907.5,1447.3 L1908.3,1447.4 L1909.0,1446.7 L1909.3,1446.4 L1909.8,1463.5 L1910.5,1487.3 L1910.6,1488.0 L1911.3,1488.0 L1912.0,1488.0 L1912.8,1488.0 L1913.5,1488.0 L1914.3,1488.0 L1915.0,1488.0 L1915.8,1488.0 L1916.5,1488.0 L1916.9,1488.0 L1917.3,1488.0 L1918.0,1488.0 L1918.2,1488.0 L1918.8,1487.5 L1919.5,1486.6 L1920.3,1485.7 L1921.0,1484.8 L1921.8,1483.8 L1922.5,1483.4 L1923.3,1482.2 L1923.3,1482.5 L1924.0,1481.7 L1924.8,1480.9 L1925.5,1480.1 L1926.3,1479.2 L1927.0,1478.2 L1927.8,1477.3 L1928.5,1476.4 L1929.3,1475.8 L1930.0,1475.0 L1930.8,1474.2 L1931.5,1473.1 L1932.3,1472.3 L1933.0,1471.6 L1933.8,1470.6 L1934.5,1469.1 L1935.3,1468.5 L1936.0,1468.5 L1936.1,1468.9 L1936.8,1468.0 L1937.5,1468.4 L1938.3,1468.6 L1939.0,1468.5 L1939.8,1468.2 L1940.5,1468.0 L1941.3,1468.0 L1942.0,1467.7 L1942.8,1467.5 L1943.5,1467.6 L1944.3,1467.7 L1945.0,1467.4 L1945.8,1467.0 L1946.5,1466.0 L1947.3,1467.5 L1948.0,1465.8 L1948.8,1465.8 L1949.5,1464.5 L1950.3,1463.2 L1951.0,1462.0 L1951.8,1460.7 L1952.5,1459.5 L1953.3,1458.2 L1954.0,1456.9 L1954.8,1455.7 L1955.5,1454.4 L1956.3,1453.1 L1957.0,1452.9 L1957.8,1452.0 L1958.5,1451.9 L1959.3,1452.1 L1960.0,1450.5 L1960.8,1450.4 L1961.5,1449.7 L1962.3,1450.4 L1963.0,1449.1 L1963.8,1448.9 L1964.5,1449.1 L1965.3,1448.9 L1966.0,1449.1 L1966.8,1448.1 L1967.5,1448.1 L1968.3,1447.5 L1969.0,1447.3 L1969.0,1449.8 L1969.8,1473.0 L1970.3,1488.0 L1970.5,1488.0 L1971.3,1488.0 L1972.0,1488.0 L1972.8,1488.0 L1973.5,1488.0 L1974.3,1488.0 L1975.0,1488.0 L1975.8,1488.0 L1976.5,1488.0 L1976.6,1488.0 L1977.3,1488.0 L1977.9,1488.0 L1978.0,1488.0 L1978.8,1487.2 L1979.5,1486.4 L1980.3,1485.3 L1981.0,1484.6 L1981.8,1483.7 L1982.5,1482.7 L1983.0,1482.6 L1983.3,1482.1 L1984.0,1481.2 L1984.8,1480.7 L1985.5,1479.5 L1986.3,1478.8 L1987.0,1478.1 L1987.8,1477.0 L1988.5,1476.4 L1989.3,1475.6 L1990.0,1474.7 L1990.8,1474.2 L1991.5,1473.6 L1992.3,1472.5 L1993.0,1471.7 L1993.8,1471.2 L1994.5,1470.9 L1995.3,1469.3 L1995.8,1470.5 L1996.0,1470.2 L1996.8,1469.2 L1997.5,1468.7 L1998.3,1468.9 L1999.0,1468.9 L1999.8,1468.5 L2000.5,1469.1 L2001.3,1469.3 L2002.0,1468.1 L2002.8,1468.8 L2003.5,1468.1 L2004.3,1468.2 L2005.0,1468.1 L2005.8,1468.4 L2006.5,1468.3 L2007.3,1467.8 L2008.0,1466.9 L2008.8,1467.1 L2009.5,1465.0 L2010.3,1463.7 L2011.0,1462.3 L2011.8,1461.0 L2012.5,1459.7 L2013.3,1458.4 L2014.0,1457.1 L2014.8,1455.8 L2015.5,1454.4 L2016.3,1453.4 L2017.0,1453.0 L2017.8,1452.6 L2018.5,1451.4 L2019.3,1451.8 L2020.0,1451.8 L2020.8,1451.1 L2021.5,1450.4 L2022.3,1450.2 L2023.0,1450.0 L2023.8,1449.7 L2024.5,1448.9 L2025.3,1448.9 L2026.0,1449.7 L2026.8,1448.6 L2027.5,1448.3 L2028.3,1447.8 L2028.7,1447.7 L2029.0,1459.1 L2029.8,1482.1 L2030.0,1488.0 L2030.5,1488.0 L2031.3,1488.0 L2032.0,1488.0 L2032.8,1488.0 L2033.5,1488.0 L2034.3,1488.0 L2035.0,1488.0 L2035.8,1488.0 L2036.3,1488.0 L2036.5,1488.0 L2037.3,1488.0 L2037.6,1488.0 L2038.0,1487.6 L2038.8,1486.5 L2039.5,1485.9 L2040.3,1484.9 L2041.0,1484.1 L2041.8,1483.6 L2042.5,1482.6 L2042.7,1482.5 L2043.3,1481.6 L2044.0,1481.1 L2044.8,1480.4 L2045.5,1479.2 L2046.3,1478.6 L2047.0,1477.8 L2047.8,1476.8 L2048.6,1475.9 L2049.3,1475.4 L2050.1,1474.1 L2050.8,1473.5 L2051.6,1472.5 L2052.3,1472.0 L2053.1,1470.8 L2053.8,1470.6 L2054.6,1468.9 L2055.3,1469.8 L2055.6,1468.4 L2056.1,1468.9 L2056.8,1469.1 L2057.6,1469.3 L2058.3,1468.7 L2059.1,1468.4 L2059.8,1468.1 L2060.6,1467.4 L2061.3,1467.4 L2062.1,1468.1 L2062.8,1467.0 L2063.6,1467.5 L2064.3,1467.3 L2065.1,1466.7 L2065.8,1466.5 L2066.6,1466.8 L2067.3,1466.3 L2068.1,1466.2 L2068.8,1464.9 L2069.6,1463.5 L2070.3,1462.1 L2071.1,1460.6 L2071.8,1459.2 L2072.6,1457.8 L2073.3,1456.3 L2074.1,1454.9 L2074.8,1453.5 L2075.6,1452.0 L2076.3,1450.9 L2077.1,1450.7 L2077.8,1449.8 L2078.6,1449.1 L2079.3,1449.2 L2080.1,1449.9 L2080.8,1449.5 L2081.6,1448.5 L2082.3,1447.9 L2083.1,1447.6 L2083.8,1447.4 L2084.6,1446.8 L2085.3,1447.3 L2086.1,1447.2 L2086.8,1446.2 L2087.6,1446.3 L2088.3,1445.3 L2088.4,1445.7 L2089.1,1466.9 L2089.7,1488.0 L2089.8,1488.0 L2090.6,1488.0 L2091.3,1488.0 L2092.1,1488.0 L2092.8,1488.0 L2093.6,1488.0 L2094.3,1488.0 L2095.1,1488.0 L2095.8,1488.0 L2096.0,1488.0 L2096.6,1488.0 L2097.3,1488.0 L2097.3,1488.0 L2098.1,1487.4 L2098.8,1486.6 L2099.6,1485.7 L2100.3,1484.7 L2101.1,1483.8 L2101.8,1483.0 L2102.4,1482.5 L2102.6,1482.3 L2103.3,1481.4 L2104.1,1480.9 L2104.8,1480.1 L2105.6,1479.2 L2106.3,1478.3 L2107.1,1477.4 L2107.8,1476.5 L2108.6,1475.8 L2109.3,1475.3 L2110.1,1474.4 L2110.8,1473.8 L2111.6,1472.8 L2112.3,1472.5 L2113.1,1471.4 L2113.8,1470.1 L2114.6,1469.4 L2115.3,1470.7 L2115.3,1469.7 L2116.1,1469.4 L2116.8,1469.7 L2117.6,1469.6 L2118.3,1469.3 L2119.1,1468.9 L2119.8,1468.6 L2120.6,1469.8 L2121.3,1468.7 L2122.1,1468.9 L2122.8,1468.3 L2123.6,1469.0 L2124.3,1467.8 L2125.1,1468.6 L2125.8,1468.6 L2126.6,1468.5 L2127.3,1468.6 L2128.1,1467.7 L2128.8,1465.7 L2129.6,1464.4 L2130.3,1463.1 L2131.1,1461.8 L2131.8,1460.5 L2132.6,1459.1 L2133.3,1457.8 L2134.1,1456.5 L2134.8,1455.2 L2135.6,1453.9 L2136.3,1453.5 L2137.1,1452.2 L2137.8,1453.2 L2138.6,1452.2 L2139.3,1452.0 L2140.1,1452.1 L2140.8,1451.7 L2141.6,1451.6 L2142.3,1450.8 L2143.1,1449.9 L2143.8,1449.9 L2144.6,1450.2 L2145.3,1450.3 L2146.1,1448.8 L2146.8,1449.2 L2147.6,1449.3 L2148.1,1448.3 L2148.3,1454.3 L2149.1,1477.0 L2149.4,1488.0 L2149.8,1488.0 L2150.6,1488.0 L2151.3,1488.0 L2152.1,1488.0 L2152.8,1488.0 L2153.6,1488.0 L2154.3,1488.0 L2155.1,1488.0 L2155.7,1488.0 L2155.8,1488.0 L2156.6,1488.0 L2157.1,1487.9 L2157.3,1487.8 L2158.1,1486.8 L2158.8,1486.3 L2159.6,1485.4 L2160.3,1484.5 L2161.1,1483.8 L2161.8,1483.0 L2162.1,1482.3 L2162.6,1481.8 L2163.3,1481.4 L2164.1,1480.2 L2164.8,1479.5 L2165.6,1478.6 L2166.3,1477.7 L2167.1,1477.2 L2167.8,1476.3 L2168.6,1475.7 L2169.3,1474.6 L2170.1,1473.9 L2170.8,1473.2 L2171.6,1472.1 L2172.3,1471.3 L2173.1,1470.5 L2173.8,1469.6 L2174.6,1469.1 L2175.0,1470.0 L2175.3,1469.2 L2176.1,1469.4 L2176.8,1468.8 L2177.6,1469.2 L2178.3,1468.0 L2179.1,1469.1 L2179.8,1469.0 L2180.6,1468.9 L2181.3,1468.7 L2182.1,1467.4 L2182.8,1468.7 L2183.6,1467.8 L2184.3,1467.9 L2185.1,1468.0 L2185.8,1466.8 L2186.6,1467.1 L2187.3,1467.8 L2188.1,1466.1 L2188.8,1464.4 L2189.6,1463.1 L2190.3,1461.8 L2191.1,1460.5 L2191.8,1459.1 L2192.6,1457.8 L2193.3,1456.5 L2194.1,1455.2 L2194.8,1453.9 L2195.6,1452.2 L2196.3,1451.9 L2197.1,1451.2 L2197.8,1451.8 L2198.6,1451.5 L2199.3,1451.6 L2200.1,1450.1 L2200.8,1450.2 L2201.6,1449.3 L2202.3,1449.4 L2203.1,1449.3 L2203.8,1448.7 L2204.6,1449.4 L2205.3,1448.0 L2206.1,1448.3 L2206.8,1448.0 L2207.6,1448.2 L2207.8,1447.4 L2208.3,1462.5 L2209.1,1485.7 L2209.1,1488.0 L2209.8,1488.0 L2210.6,1488.0 L2211.3,1488.0 L2212.1,1488.0 L2212.8,1488.0 L2213.6,1488.0 L2214.3,1488.0 L2215.1,1488.0 L2215.5,1488.0 L2215.8,1488.0 L2216.6,1488.0 L2216.8,1487.9 L2217.3,1487.5 L2218.1,1486.5 L2218.8,1486.0 L2219.6,1484.8 L2220.3,1484.3 L2221.1,1483.3 L2221.8,1482.5 L2221.8,1482.3 L2222.6,1481.9 L2223.3,1481.0 L2224.1,1479.9 L2224.8,1479.1 L2225.6,1478.5 L2226.3,1477.5 L2227.1,1476.8 L2227.8,1475.8 L2228.6,1474.9 L2229.3,1474.1 L2230.1,1473.1 L2230.8,1472.2 L2231.6,1471.3 L2232.3,1470.6 L2233.1,1469.1 L2233.8,1469.3 L2234.6,1468.0 L2234.7,1467.8 L2235.3,1469.1 L2236.1,1468.4 L2236.8,1468.0 L2237.6,1468.8 L2238.3,1468.6 L2239.1,1467.5 L2239.8,1468.2 L2240.6,1467.4 L2241.3,1468.2 L2242.1,1468.0 L2242.8,1467.4 L2243.6,1466.8 L2244.3,1466.5 L2245.1,1467.2 L2245.8,1466.6 L2246.6,1466.7 L2247.3,1466.1 L2248.1,1464.3 L2248.8,1462.8 L2249.6,1461.3 L2250.3,1459.9 L2251.1,1458.4 L2251.8,1456.9 L2252.6,1455.4 L2253.3,1454.0 L2254.1,1452.5 L2254.8,1451.0 L2255.6,1450.2 L2256.3,1450.0 L2257.1,1449.3 L2257.8,1449.7 L2258.6,1448.6 L2259.3,1449.0 L2260.1,1448.0 L2260.8,1448.0 L2261.6,1447.5 L2262.3,1447.4 L2263.1,1446.4 L2263.8,1445.9 L2264.6,1446.9 L2265.3,1445.8 L2266.1,1446.2 L2266.8,1446.0 L2267.5,1444.9 L2267.6,1445.9 L2268.3,1470.5 L2268.8,1488.0 L2269.1,1488.0 L2269.8,1488.0 L2270.6,1488.0 L2271.3,1488.0 L2272.1,1488.0 L2272.8,1488.0 L2273.6,1488.0 L2274.3,1488.0 L2275.1,1488.0 L2275.2,1488.0 L2275.8,1488.0 L2276.5,1488.0 L2276.6,1487.8 L2277.3,1486.9 L2278.1,1486.2 L2278.8,1485.6 L2279.6,1484.8 L2280.3,1483.8 L2281.1,1482.9 L2281.6,1482.5 L2281.8,1482.1 L2282.6,1481.2 L2283.3,1480.4 L2284.1,1479.8 L2284.8,1479.2 L2285.6,1477.9 L2286.3,1477.6 L2287.1,1476.3 L2287.8,1476.0 L2288.6,1475.1 L2289.3,1474.3 L2290.1,1473.3 L2290.8,1472.5 L2291.6,1471.9 L2292.3,1471.2 L2293.1,1469.7 L2293.8,1469.9 L2294.4,1468.9 L2294.6,1469.8 L2295.3,1469.5 L2296.1,1469.8 L2296.8,1469.3 L2297.6,1468.5 L2298.3,1468.5 L2299.1,1468.6 L2299.8,1468.9 L2300.6,1469.1 L2301.3,1468.1 L2302.1,1468.1 L2302.8,1468.7 L2303.6,1467.8 L2304.3,1468.2 L2305.1,1467.1 L2305.8,1467.6 L2306.6,1467.0 L2307.3,1466.1 L2308.1,1465.3 L2308.8,1464.1 L2309.6,1462.9 L2310.3,1461.7 L2311.1,1460.5 L2311.8,1459.3 L2312.6,1458.1 L2313.3,1456.9 L2314.1,1455.7 L2314.8,1455.0 L2315.6,1453.8 L2316.3,1453.0 L2317.1,1453.6 L2317.8,1453.1 L2318.6,1452.3 L2319.3,1452.5 L2320.1,1451.8 L2320.8,1452.2 L2321.6,1451.5 L2322.3,1450.6 L2323.1,1451.1 L2323.8,1450.9 L2324.6,1450.8 L2325.3,1450.7 L2326.1,1449.3 L2326.8,1449.3 L2327.2,1449.2 L2327.6,1458.6 L2328.3,1480.8 L2328.5,1488.0 L2329.1,1488.0 L2329.8,1488.0 L2330.6,1488.0 L2331.3,1488.0 L2332.1,1488.0 L2332.8,1488.0 L2333.6,1488.0 L2334.3,1488.0 L2334.9,1488.0 L2335.1,1488.0 L2335.8,1488.0 L2336.2,1488.0 L2336.6,1487.9 L2337.3,1486.9 L2338.1,1486.0 L2338.8,1485.0 L2339.6,1484.4 L2340.3,1483.7 L2341.1,1482.9 L2341.3,1482.6 L2341.8,1481.9 L2342.6,1481.1 L2343.3,1480.2 L2344.1,1479.2 L2344.8,1478.5 L2345.6,1477.8 L2346.3,1476.8 L2347.1,1476.3 L2347.8,1475.0 L2348.6,1474.3 L2349.3,1473.4 L2350.1,1472.7 L2350.8,1472.0 L2351.6,1471.1 L2352.3,1469.9 L2353.1,1469.3 L2353.8,1468.8 L2354.1,1469.4 L2354.6,1468.7 L2355.3,1468.5 L2356.1,1468.3 L2356.8,1469.1 L2357.6,1469.1 L2358.3,1467.6 L2359.1,1467.8 L2359.8,1468.0 L2360.6,1468.5 L2361.3,1468.3 L2362.1,1467.8 L2362.8,1467.0 L2363.6,1467.3 L2364.3,1466.9 L2365.1,1466.7 L2365.8,1466.9 L2366.6,1466.9 L2367.3,1465.3 L2368.1,1464.1 L2368.8,1462.9 L2369.6,1461.7 L2370.3,1460.5 L2371.1,1459.3 L2371.8,1458.0 L2372.6,1456.8 L2373.3,1455.6 L2374.1,1454.4 L2374.8,1454.1 L2375.6,1452.8 L2376.3,1453.1 L2377.1,1452.2 L2377.8,1452.4 L2378.6,1451.8 L2379.3,1451.4 L2380.1,1450.8 L2380.8,1450.9 L2381.6,1451.0 L2382.3,1450.1 L2383.1,1450.7 L2383.8,1449.6 L2384.6,1449.9 L2385.3,1449.4 L2386.1,1449.2 L2386.8,1447.9 L2386.9,1448.3 L2387.6,1466.7 L2388.3,1488.0 L2388.3,1488.0 L2389.1,1488.0 L2389.8,1488.0 L2390.6,1488.0 L2391.3,1488.0 L2392.1,1488.0 L2392.8,1488.0 L2393.6,1488.0 L2394.3,1488.0 L2394.6,1488.0 L2395.1,1488.0 L2395.8,1488.0 L2395.9,1488.0 L2396.6,1487.1 L2397.3,1486.3 L2398.1,1485.4 L2398.8,1484.7 L2399.6,1484.0 L2400.3,1483.2 L2401.0,1482.2 L2401.1,1482.2 L2401.8,1481.5 L2402.6,1480.6 L2403.3,1479.9 L2404.1,1479.1 L2404.8,1478.5 L2405.6,1477.3 L2406.3,1476.9 L2407.1,1476.2 L2407.8,1475.2 L2408.6,1474.6 L2409.3,1473.6 L2410.1,1472.9 L2410.8,1472.2 L2411.6,1471.4 L2412.3,1471.2 L2413.1,1470.3 L2413.8,1469.3 L2413.8,1470.8 L2414.6,1470.3 L2415.3,1470.6 L2416.1,1470.2 L2416.8,1469.7 L2417.6,1468.8 L2418.3,1468.6 L2419.1,1469.2 L2419.8,1468.5 L2420.6,1469.6 L2421.3,1468.0 L2422.1,1468.4 L2422.8,1467.9 L2423.6,1468.1 L2424.3,1467.5 L2425.1,1468.5 L2425.8,1467.6 L2426.6,1466.1 L2427.3,1465.4 L2428.1,1463.9 L2428.8,1462.4 L2429.6,1460.9 L2430.3,1459.4 L2431.1,1457.8 L2431.8,1456.3 L2432.6,1454.8 L2433.3,1453.3 L2434.1,1451.8 L2434.8,1451.4 L2435.6,1450.9 L2436.3,1449.5 L2437.1,1449.3 L2437.8,1449.7 L2438.6,1448.7 L2439.3,1449.1 L2440.1,1449.1 L2440.8,1447.7 L2441.6,1447.9 L2442.3,1448.6 L2443.1,1447.9 L2443.8,1446.5 L2444.6,1447.2 L2445.3,1446.4 L2446.1,1446.1 L2446.7,1445.9 L2446.8,1450.7 L2447.6,1474.7 L2448.0,1488.0 L2448.3,1488.0 L2449.1,1488.0 L2449.8,1488.0 L2450.6,1488.0 L2451.3,1488.0 L2452.1,1488.0 L2452.8,1488.0 L2453.6,1488.0 L2454.3,1488.0 L2454.3,1488.0 L2455.1,1488.0 L2455.6,1488.0 L2455.8,1488.0 L2456.6,1486.7 L2457.3,1486.2 L2458.1,1485.3 L2458.8,1484.5 L2459.6,1483.5 L2460.3,1482.8 L2460.7,1482.4 L2461.1,1482.2 L2461.8,1481.0 L2462.6,1480.5 L2463.3,1479.7 L2464.1,1478.9 L2464.8,1478.0 L2465.6,1477.2 L2466.3,1476.2 L2467.1,1475.3 L2467.8,1474.6 L2468.6,1474.1 L2469.3,1473.1 L2470.1,1472.3 L2470.8,1471.7 L2471.6,1470.6 L2472.3,1469.1 L2473.1,1468.9 L2473.5,1469.9 L2473.8,1468.9 L2474.6,1469.7 L2475.3,1469.1 L2476.1,1469.6 L2476.8,1469.3 L2477.6,1468.5 L2478.3,1467.8 L2479.1,1468.2 L2479.8,1467.8 L2480.6,1468.1 L2481.3,1468.2 L2482.1,1468.6 L2482.8,1467.3 L2483.6,1467.9 L2484.3,1468.2 L2485.1,1467.4 L2485.8,1466.7 L2486.6,1465.2 L2487.3,1464.7 L2488.1,1463.5 L2488.8,1462.2 L2489.6,1461.0 L2490.3,1459.8 L2491.1,1458.6 L2491.8,1457.3 L2492.6,1456.1 L2493.3,1454.9 L2494.1,1454.1 L2494.8,1452.6 L2495.6,1452.5 L2496.3,1451.9 L2497.1,1451.7 L2497.8,1452.1 L2498.6,1451.9 L2499.3,1451.6 L2500.1,1451.6 L2500.8,1451.6 L2501.6,1450.6 L2502.3,1449.7 L2503.1,1449.9 L2503.8,1450.2 L2504.6,1449.3 L2505.3,1449.3 L2506.1,1449.3 L2506.4,1448.4 L2506.8,1461.7 L2507.6,1484.3 L2507.7,1488.0 L2508.3,1488.0 L2509.1,1488.0 L2509.8,1488.0 L2510.6,1488.0 L2511.3,1488.0 L2512.1,1488.0 L2512.8,1488.0 L2513.6,1488.0 L2514.0,1488.0 L2514.3,1488.0 L2515.1,1488.0 L2515.3,1488.0 L2515.8,1487.5 L2516.6,1486.6 L2517.3,1485.6 L2518.1,1485.0 L2518.8,1484.1 L2519.6,1483.2 L2520.3,1482.3 L2520.4,1482.3 L2521.1,1481.5 L2521.8,1481.2 L2522.6,1479.9 L2523.3,1479.1 L2524.1,1478.4 L2524.8,1477.8 L2525.6,1476.5 L2526.3,1476.1 L2527.1,1474.9 L2527.8,1474.1 L2528.6,1473.5 L2529.3,1472.3 L2530.1,1471.4 L2530.8,1470.5 L2531.6,1469.4 L2532.3,1468.2 L2533.1,1469.3 L2533.2,1468.4 L2533.8,1467.8 L2534.6,1469.1 L2535.3,1468.4 L2536.1,1467.7 L2536.8,1468.6 L2537.6,1467.3 L2538.3,1468.4 L2539.1,1467.1 L2539.8,1467.4 L2540.6,1466.9 L2541.3,1467.7 L2542.1,1466.4 L2542.8,1467.2 L2543.6,1466.3 L2544.3,1466.8 L2545.1,1467.3 L2545.8,1466.4 L2546.6,1464.4 L2547.3,1463.0 L2548.1,1461.5 L2548.8,1460.1 L2549.6,1458.7 L2550.3,1457.2 L2551.1,1455.8 L2551.8,1454.3 L2552.6,1452.9 L2553.3,1451.5 L2554.1,1450.9 L2554.8,1449.5 L2555.6,1448.9 L2556.3,1449.6 L2557.1,1448.3 L2557.8,1448.6 L2558.6,1447.7 L2559.3,1447.6 L2560.1,1448.2 L2560.8,1447.4 L2561.6,1446.7 L2562.3,1447.3 L2563.1,1447.0 L2563.8,1446.1 L2564.6,1446.5 L2565.3,1445.5 L2566.1,1445.6 L2566.1,1445.2 L2566.8,1469.0 L2567.4,1488.0 L2567.6,1488.0 L2568.3,1488.0 L2569.1,1488.0 L2569.8,1488.0 L2570.6,1488.0 L2571.3,1488.0 L2572.1,1488.0 L2572.8,1488.0 L2573.6,1488.0 L2573.7,1488.0 L2574.3,1488.0 L2575.0,1488.0 L2575.1,1488.0 L2575.8,1487.1 L2576.6,1486.1 L2577.3,1485.5 L2578.1,1484.8 L2578.8,1483.8 L2579.6,1483.1" stroke="#4b0082" stroke-width="2.4" stroke-linejoin="round"/><path d="M1518.3,1444.8 V1488 M1506.3,1444.8 H1518.3 M1506.3,1488 H1518.3" stroke="#4b0082" stroke-width="2"/><path d="M1506.3,1461.33 H1518.3 M1506.3,1470.22 H1518.3 " stroke="#4b0082" stroke-width="2" stroke-opacity="0.45"/><path d="M1518.3,1564.2 L1519.0,1563.9 L1519.8,1563.9 L1520.5,1563.8 L1521.3,1564.6 L1522.0,1563.6 L1522.8,1564.2 L1523.5,1563.9 L1524.3,1563.6 L1525.0,1561.8 L1525.8,1559.6 L1526.5,1557.5 L1527.3,1555.3 L1528.0,1553.1 L1528.8,1550.9 L1529.5,1548.7 L1530.3,1546.6 L1531.0,1544.4 L1531.6,1542.8 L1531.8,1543.4 L1532.5,1545.7 L1532.9,1546.8 L1533.3,1548.0 L1534.0,1550.3 L1534.8,1552.6 L1535.5,1554.9 L1536.3,1557.2 L1537.0,1559.5 L1537.8,1561.8 L1538.5,1564.1 L1539.2,1566.3 L1539.3,1566.5 L1540.0,1568.8 L1540.6,1570.3 L1540.8,1571.1 L1541.5,1572.8 L1542.3,1574.5 L1543.0,1576.2 L1543.8,1577.7 L1544.5,1578.7 L1545.3,1579.7 L1545.6,1580.2 L1546.0,1580.2 L1546.8,1580.2 L1547.5,1580.2 L1548.3,1580.2 L1549.0,1580.2 L1549.8,1580.2 L1550.5,1580.2 L1551.3,1580.2 L1552.0,1580.2 L1552.8,1580.2 L1553.5,1580.2 L1554.3,1580.2 L1555.0,1580.2 L1555.8,1580.2 L1556.5,1580.2 L1557.3,1580.2 L1558.0,1580.2 L1558.5,1580.2 L1558.8,1579.5 L1559.5,1577.9 L1560.3,1576.3 L1561.0,1574.7 L1561.8,1573.1 L1562.5,1571.5 L1563.3,1569.9 L1564.0,1568.3 L1564.8,1566.7 L1565.5,1565.0 L1566.3,1565.9 L1567.0,1565.8 L1567.8,1565.3 L1568.5,1565.5 L1569.3,1565.2 L1570.0,1565.8 L1570.8,1564.9 L1571.5,1566.3 L1572.3,1565.3 L1573.0,1565.8 L1573.8,1566.3 L1574.5,1565.4 L1575.3,1566.3 L1576.0,1566.0 L1576.8,1565.9 L1577.5,1566.1 L1578.3,1566.1 L1579.0,1566.2 L1579.8,1565.1 L1580.5,1566.2 L1581.3,1566.1 L1582.0,1566.2 L1582.8,1565.0 L1583.5,1565.5 L1584.3,1564.2 L1585.0,1561.6 L1585.8,1559.0 L1586.5,1556.4 L1587.3,1553.8 L1588.0,1551.1 L1588.8,1548.5 L1589.5,1545.9 L1590.3,1543.3 L1591.0,1540.7 L1591.3,1539.8 L1591.8,1541.4 L1592.5,1544.0 L1592.6,1544.2 L1593.3,1546.5 L1594.0,1549.1 L1594.8,1551.6 L1595.5,1554.2 L1596.3,1556.7 L1597.0,1559.3 L1597.8,1561.8 L1598.5,1564.4 L1599.0,1565.8 L1599.3,1566.9 L1600.0,1569.5 L1600.3,1570.2 L1600.8,1571.8 L1601.5,1573.5 L1602.3,1575.2 L1603.0,1576.9 L1603.8,1578.1 L1604.5,1579.1 L1605.3,1580.1 L1605.3,1580.2 L1606.0,1580.2 L1606.8,1580.2 L1607.5,1580.2 L1608.3,1580.2 L1609.0,1580.2 L1609.8,1580.2 L1610.5,1580.2 L1611.3,1580.2 L1612.0,1580.2 L1612.8,1580.2 L1613.5,1580.2 L1614.3,1580.2 L1615.0,1580.2 L1615.8,1580.2 L1616.5,1580.2 L1617.3,1580.2 L1618.0,1580.2 L1618.2,1580.2 L1618.8,1578.9 L1619.5,1577.3 L1620.3,1575.8 L1621.0,1574.2 L1621.8,1572.6 L1622.5,1571.1 L1623.3,1569.5 L1624.0,1567.9 L1624.8,1565.9 L1625.5,1565.2 L1626.3,1565.9 L1627.0,1566.0 L1627.8,1566.0 L1628.5,1566.2 L1629.3,1565.7 L1630.0,1565.2 L1630.8,1565.8 L1631.5,1565.5 L1632.3,1565.3 L1633.0,1565.4 L1633.8,1565.6 L1634.5,1565.8 L1635.3,1566.4 L1636.0,1566.0 L1636.8,1565.3 L1637.5,1565.9 L1638.3,1565.6 L1639.0,1566.2 L1639.8,1565.7 L1640.5,1566.3 L1641.3,1565.4 L1642.0,1565.4 L1642.8,1566.6 L1643.5,1565.6 L1644.3,1563.7 L1645.0,1561.4 L1645.8,1559.1 L1646.5,1556.8 L1647.3,1554.5 L1648.0,1552.2 L1648.8,1549.9 L1649.5,1547.6 L1650.3,1545.2 L1651.0,1543.0 L1651.0,1543.1 L1651.8,1545.4 L1652.3,1547.0 L1652.5,1547.7 L1653.3,1550.0 L1654.0,1552.3 L1654.8,1554.5 L1655.5,1556.8 L1656.3,1559.1 L1657.0,1561.4 L1657.8,1563.7 L1658.5,1566.0 L1658.7,1566.3 L1659.3,1568.3 L1660.0,1570.3 L1660.0,1570.5 L1660.8,1572.4 L1661.5,1574.1 L1662.3,1575.8 L1663.0,1577.5 L1663.8,1578.5 L1664.5,1579.5 L1665.1,1580.2 L1665.3,1580.2 L1666.0,1580.2 L1666.8,1580.2 L1667.5,1580.2 L1668.3,1580.2 L1669.0,1580.2 L1669.8,1580.2 L1670.5,1580.2 L1671.3,1580.2 L1672.0,1580.2 L1672.8,1580.2 L1673.5,1580.2 L1674.3,1580.2 L1675.0,1580.2 L1675.8,1580.2 L1676.5,1580.2 L1677.3,1580.2 L1677.9,1580.2 L1678.0,1579.8 L1678.8,1577.8 L1679.5,1575.8 L1680.3,1573.8 L1681.0,1571.9 L1681.8,1569.9 L1682.5,1567.9 L1683.3,1565.9 L1684.0,1564.0 L1684.8,1562.7 L1685.5,1561.4 L1686.3,1562.6 L1687.0,1562.6 L1687.8,1561.5 L1688.5,1561.9 L1689.3,1562.8 L1690.0,1562.2 L1690.8,1561.6 L1691.5,1562.6 L1692.3,1561.7 L1693.0,1562.4 L1693.8,1562.2 L1694.5,1562.3 L1695.3,1562.8 L1696.0,1562.3 L1696.8,1562.1 L1697.5,1561.9 L1698.3,1562.0 L1699.0,1562.6 L1699.8,1561.9 L1700.5,1562.4 L1701.3,1561.5 L1702.0,1562.7 L1702.8,1561.7 L1703.5,1562.1 L1704.3,1559.2 L1705.0,1557.0 L1705.8,1554.8 L1706.5,1552.6 L1707.3,1550.4 L1708.0,1548.2 L1708.8,1546.0 L1709.5,1543.7 L1710.3,1541.5 L1710.7,1540.3 L1711.0,1541.3 L1711.8,1543.8 L1712.0,1544.7 L1712.5,1546.3 L1713.3,1548.9 L1714.0,1551.4 L1714.8,1553.9 L1715.5,1556.4 L1716.3,1558.9 L1717.0,1561.4 L1717.8,1563.9 L1718.4,1565.8 L1718.5,1566.4 L1719.3,1568.9 L1719.7,1570.2 L1720.0,1571.4 L1720.8,1573.1 L1721.5,1574.8 L1722.3,1576.5 L1723.0,1577.9 L1723.8,1578.9 L1724.5,1579.9 L1724.8,1580.2 L1725.3,1580.2 L1726.0,1580.2 L1726.8,1580.2 L1727.5,1580.2 L1728.3,1580.2 L1729.0,1580.2 L1729.8,1580.2 L1730.5,1580.2 L1731.3,1580.2 L1732.0,1580.2 L1732.8,1580.2 L1733.5,1580.2 L1734.3,1580.2 L1735.0,1580.2 L1735.8,1580.2 L1736.5,1580.2 L1737.3,1580.2 L1737.6,1580.2 L1738.0,1579.1 L1738.8,1577.4 L1739.5,1575.6 L1740.3,1573.8 L1741.0,1572.0 L1741.8,1570.3 L1742.5,1568.5 L1743.3,1566.7 L1744.0,1565.0 L1744.8,1563.9 L1745.5,1564.2 L1746.3,1564.0 L1747.0,1563.7 L1747.8,1563.5 L1748.5,1564.7 L1749.3,1563.4 L1750.0,1563.8 L1750.8,1564.6 L1751.5,1563.7 L1752.3,1563.5 L1753.0,1564.2 L1753.8,1563.4 L1754.5,1564.5 L1755.3,1564.0 L1756.0,1564.4 L1756.8,1563.5 L1757.5,1564.3 L1758.3,1564.3 L1759.0,1563.2 L1759.8,1564.1 L1760.5,1564.0 L1761.3,1563.7 L1762.0,1564.4 L1762.8,1563.5 L1763.5,1562.3 L1764.3,1559.8 L1765.0,1557.4 L1765.8,1554.9 L1766.5,1552.4 L1767.3,1550.0 L1768.0,1547.5 L1768.8,1545.1 L1769.5,1542.6 L1770.3,1540.1 L1770.4,1539.7 L1771.0,1541.8 L1771.8,1544.2 L1771.8,1544.3 L1772.5,1546.9 L1773.3,1549.4 L1774.0,1552.0 L1774.8,1554.5 L1775.5,1557.1 L1776.3,1559.7 L1777.0,1562.2 L1777.8,1564.8 L1778.1,1565.7 L1778.5,1567.3 L1779.3,1569.9 L1779.4,1570.2 L1780.0,1572.0 L1780.8,1573.7 L1781.5,1575.5 L1782.3,1577.2 L1783.0,1578.3 L1783.8,1579.3 L1784.5,1580.2 L1784.5,1580.2 L1785.3,1580.2 L1786.0,1580.2 L1786.8,1580.2 L1787.5,1580.2 L1788.3,1580.2 L1789.0,1580.2 L1789.8,1580.2 L1790.5,1580.2 L1791.3,1580.2 L1792.0,1580.2 L1792.8,1580.2 L1793.5,1580.2 L1794.3,1580.2 L1795.0,1580.2 L1795.8,1580.2 L1796.5,1580.2 L1797.3,1580.2 L1797.3,1580.2 L1798.0,1578.1 L1798.8,1576.1 L1799.5,1574.0 L1800.3,1571.9 L1801.0,1569.8 L1801.8,1567.7 L1802.5,1565.6 L1803.3,1563.6 L1804.0,1561.2 L1804.8,1561.1 L1805.5,1560.7 L1806.3,1560.6 L1807.0,1561.7 L1807.8,1560.4 L1808.5,1561.1 L1809.3,1560.7 L1810.0,1560.9 L1810.8,1560.4 L1811.5,1560.7 L1812.3,1561.5 L1813.0,1561.6 L1813.8,1561.3 L1814.5,1561.5 L1815.3,1561.5 L1816.0,1561.1 L1816.8,1561.1 L1817.5,1561.3 L1818.3,1560.7 L1819.0,1561.6 L1819.8,1561.2 L1820.5,1561.2 L1821.3,1561.0 L1822.0,1560.6 L1822.8,1560.8 L1823.5,1558.4 L1824.3,1555.9 L1825.0,1553.3 L1825.8,1550.8 L1826.5,1548.3 L1827.3,1545.7 L1828.0,1543.2 L1828.8,1540.7 L1829.5,1538.1 L1830.2,1536.1 L1830.3,1536.7 L1831.0,1539.5 L1831.5,1541.1 L1831.8,1542.4 L1832.5,1545.2 L1833.3,1548.1 L1834.0,1550.9 L1834.8,1553.8 L1835.5,1556.6 L1836.3,1559.4 L1837.0,1562.3 L1837.8,1565.1 L1837.8,1565.1 L1838.5,1568.0 L1839.1,1570.1 L1839.3,1570.8 L1840.0,1572.7 L1840.8,1574.4 L1841.5,1576.1 L1842.3,1577.6 L1843.0,1578.7 L1843.8,1579.7 L1844.2,1580.2 L1844.5,1580.2 L1845.3,1580.2 L1846.0,1580.2 L1846.8,1580.2 L1847.5,1580.2 L1848.3,1580.2 L1849.0,1580.2 L1849.8,1580.2 L1850.5,1580.2 L1851.3,1580.2 L1852.0,1580.2 L1852.8,1580.2 L1853.5,1580.2 L1854.3,1580.2 L1855.0,1580.2 L1855.8,1580.2 L1856.5,1580.2 L1857.0,1580.2 L1857.3,1579.4 L1858.0,1577.3 L1858.8,1575.2 L1859.5,1573.1 L1860.3,1571.0 L1861.0,1568.9 L1861.8,1566.8 L1862.5,1564.7 L1863.3,1562.6 L1864.0,1561.7 L1864.8,1560.8 L1865.5,1561.2 L1866.3,1561.1 L1867.0,1560.9 L1867.8,1561.4 L1868.5,1560.5 L1869.3,1561.2 L1870.0,1561.2 L1870.8,1560.9 L1871.5,1561.6 L1872.3,1561.2 L1873.0,1560.2 L1873.8,1561.5 L1874.5,1561.1 L1875.3,1560.6 L1876.0,1561.0 L1876.8,1560.8 L1877.5,1560.5 L1878.3,1560.5 L1879.0,1561.1 L1879.8,1561.2 L1880.5,1561.7 L1881.3,1560.6 L1882.0,1561.5 L1882.8,1559.8 L1883.5,1557.3 L1884.3,1554.8 L1885.0,1552.3 L1885.8,1549.8 L1886.5,1547.3 L1887.3,1544.8 L1888.0,1542.3 L1888.8,1539.8 L1889.5,1537.3 L1889.9,1536.3 L1890.3,1537.9 L1891.0,1540.8 L1891.2,1541.2 L1891.8,1543.6 L1892.5,1546.4 L1893.3,1549.3 L1894.0,1552.1 L1894.8,1554.9 L1895.5,1557.8 L1896.3,1560.6 L1897.0,1563.4 L1897.5,1565.1 L1897.8,1566.3 L1898.5,1569.1 L1898.8,1570.1 L1899.3,1571.7 L1900.0,1573.4 L1900.8,1575.1 L1901.5,1576.8 L1902.3,1578.0 L1903.0,1579.1 L1903.8,1580.1 L1903.9,1580.2 L1904.5,1580.2 L1905.3,1580.2 L1906.0,1580.2 L1906.8,1580.2 L1907.5,1580.2 L1908.3,1580.2 L1909.0,1580.2 L1909.8,1580.2 L1910.5,1580.2 L1911.3,1580.2 L1912.0,1580.2 L1912.8,1580.2 L1913.5,1580.2 L1914.3,1580.2 L1915.0,1580.2 L1915.8,1580.2 L1916.5,1580.2 L1916.7,1580.2 L1917.3,1578.9 L1918.0,1577.3 L1918.8,1575.6 L1919.5,1574.0 L1920.3,1572.3 L1921.0,1570.7 L1921.8,1569.0 L1922.5,1567.3 L1923.3,1565.7 L1924.0,1565.6 L1924.8,1564.7 L1925.5,1565.1 L1926.3,1565.6 L1927.0,1564.9 L1927.8,1565.6 L1928.5,1565.3 L1929.3,1565.4 L1930.0,1564.7 L1930.8,1564.9 L1931.5,1565.5 L1932.3,1565.3 L1933.0,1565.1 L1933.8,1564.6 L1934.5,1565.3 L1935.3,1564.7 L1936.0,1565.7 L1936.8,1565.6 L1937.5,1564.6 L1938.3,1565.2 L1939.0,1565.7 L1939.8,1565.5 L1940.5,1565.2 L1941.3,1565.6 L1942.0,1565.2 L1942.8,1563.2 L1943.5,1560.9 L1944.3,1558.7 L1945.0,1556.5 L1945.8,1554.2 L1946.5,1552.0 L1947.3,1549.8 L1948.0,1547.5 L1948.8,1545.3 L1949.5,1543.1 L1949.6,1543.0 L1950.3,1545.3 L1950.9,1547.0 L1951.0,1547.5 L1951.8,1549.8 L1952.5,1552.1 L1953.3,1554.4 L1954.0,1556.7 L1954.8,1559.0 L1955.5,1561.3 L1956.3,1563.5 L1957.0,1565.8 L1957.2,1566.3 L1957.8,1568.1 L1958.5,1570.3 L1958.5,1570.4 L1959.3,1572.3 L1960.0,1574.0 L1960.8,1575.7 L1961.5,1577.4 L1962.3,1578.4 L1963.0,1579.4 L1963.6,1580.2 L1963.8,1580.2 L1964.5,1580.2 L1965.3,1580.2 L1966.0,1580.2 L1966.8,1580.2 L1967.5,1580.2 L1968.3,1580.2 L1969.0,1580.2 L1969.8,1580.2 L1970.5,1580.2 L1971.3,1580.2 L1972.0,1580.2 L1972.8,1580.2 L1973.5,1580.2 L1974.3,1580.2 L1975.0,1580.2 L1975.8,1580.2 L1976.4,1580.2 L1976.5,1579.9 L1977.3,1578.1 L1978.0,1576.4 L1978.8,1574.6 L1979.5,1572.8 L1980.3,1571.0 L1981.0,1569.2 L1981.8,1567.4 L1982.5,1565.6 L1983.3,1563.1 L1984.0,1564.4 L1984.8,1564.0 L1985.5,1564.1 L1986.3,1564.3 L1987.0,1563.2 L1987.8,1564.1 L1988.5,1564.3 L1989.3,1563.9 L1990.0,1564.4 L1990.8,1563.9 L1991.5,1564.3 L1992.3,1563.8 L1993.0,1564.3 L1993.8,1563.3 L1994.5,1563.8 L1995.3,1563.6 L1996.0,1564.2 L1996.8,1564.5 L1997.5,1564.2 L1998.3,1563.8 L1999.0,1564.5 L1999.8,1564.3 L2000.5,1563.2 L2001.3,1564.1 L2002.0,1563.7 L2002.8,1561.0 L2003.5,1558.7 L2004.3,1556.3 L2005.0,1554.0 L2005.8,1551.7 L2006.5,1549.4 L2007.3,1547.1 L2008.0,1544.8 L2008.8,1542.5 L2009.3,1541.0 L2009.5,1541.9 L2010.3,1544.3 L2010.6,1545.3 L2011.0,1546.8 L2011.8,1549.2 L2012.5,1551.7 L2013.3,1554.1 L2014.0,1556.6 L2014.8,1559.0 L2015.5,1561.5 L2016.3,1563.9 L2016.9,1566.0 L2017.0,1566.4 L2017.8,1568.8 L2018.2,1570.3 L2018.5,1571.3 L2019.3,1573.0 L2020.0,1574.7 L2020.8,1576.4 L2021.5,1577.8 L2022.3,1578.8 L2023.0,1579.8 L2023.3,1580.2 L2023.8,1580.2 L2024.5,1580.2 L2025.3,1580.2 L2026.0,1580.2 L2026.8,1580.2 L2027.5,1580.2 L2028.3,1580.2 L2029.0,1580.2 L2029.8,1580.2 L2030.5,1580.2 L2031.3,1580.2 L2032.0,1580.2 L2032.8,1580.2 L2033.5,1580.2 L2034.3,1580.2 L2035.0,1580.2 L2035.8,1580.2 L2036.1,1580.2 L2036.5,1579.3 L2037.3,1577.5 L2038.0,1575.8 L2038.8,1574.1 L2039.5,1572.3 L2040.3,1570.6 L2041.0,1568.9 L2041.8,1567.1 L2042.5,1565.4 L2043.3,1563.8 L2044.0,1564.6 L2044.8,1564.2 L2045.5,1564.3 L2046.3,1564.3 L2047.0,1565.0 L2047.8,1564.0 L2048.6,1564.6 L2049.3,1563.8 L2050.1,1563.6 L2050.8,1564.5 L2051.6,1563.8 L2052.3,1563.6 L2053.1,1564.8 L2053.8,1564.6 L2054.6,1563.7 L2055.3,1563.8 L2056.1,1564.7 L2056.8,1564.7 L2057.6,1563.8 L2058.3,1564.9 L2059.1,1564.8 L2059.8,1564.8 L2060.6,1564.6 L2061.3,1564.4 L2062.1,1562.7 L2062.8,1560.1 L2063.6,1557.6 L2064.3,1555.0 L2065.1,1552.4 L2065.8,1549.9 L2066.6,1547.3 L2067.3,1544.7 L2068.1,1542.2 L2068.8,1539.6 L2069.0,1539.0 L2069.6,1540.9 L2070.3,1543.5 L2070.3,1543.5 L2071.1,1546.1 L2071.8,1548.8 L2072.6,1551.4 L2073.3,1554.0 L2074.1,1556.6 L2074.8,1559.2 L2075.6,1561.8 L2076.3,1564.4 L2076.6,1565.6 L2077.1,1567.1 L2077.8,1569.7 L2077.9,1570.2 L2078.6,1571.9 L2079.3,1573.6 L2080.1,1575.3 L2080.8,1577.0 L2081.6,1578.2 L2082.3,1579.2 L2083.0,1580.2 L2083.1,1580.2 L2083.8,1580.2 L2084.6,1580.2 L2085.3,1580.2 L2086.1,1580.2 L2086.8,1580.2 L2087.6,1580.2 L2088.3,1580.2 L2089.1,1580.2 L2089.8,1580.2 L2090.6,1580.2 L2091.3,1580.2 L2092.1,1580.2 L2092.8,1580.2 L2093.6,1580.2 L2094.3,1580.2 L2095.1,1580.2 L2095.8,1580.2 L2095.9,1580.2 L2096.6,1578.7 L2097.3,1577.0 L2098.1,1575.3 L2098.8,1573.6 L2099.6,1571.9 L2100.3,1570.2 L2101.1,1568.6 L2101.8,1566.9 L2102.6,1565.7 L2103.3,1565.2 L2104.1,1564.1 L2104.8,1564.8 L2105.6,1564.8 L2106.3,1565.1 L2107.1,1564.1 L2107.8,1564.6 L2108.6,1564.8 L2109.3,1565.3 L2110.1,1564.5 L2110.8,1565.0 L2111.6,1564.2 L2112.3,1565.3 L2113.1,1564.7 L2113.8,1564.4 L2114.6,1564.6 L2115.3,1564.1 L2116.1,1564.1 L2116.8,1564.5 L2117.6,1565.4 L2118.3,1564.2 L2119.1,1564.8 L2119.8,1565.0 L2120.6,1565.1 L2121.3,1565.5 L2122.1,1562.7 L2122.8,1560.6 L2123.6,1558.5 L2124.3,1556.5 L2125.1,1554.4 L2125.8,1552.3 L2126.6,1550.2 L2127.3,1548.1 L2128.1,1546.1 L2128.7,1544.3 L2128.8,1544.5 L2129.6,1546.7 L2130.0,1548.1 L2130.3,1548.9 L2131.1,1551.1 L2131.8,1553.3 L2132.6,1555.5 L2133.3,1557.7 L2134.1,1559.8 L2134.8,1562.0 L2135.6,1564.2 L2136.3,1566.4 L2136.3,1566.5 L2137.1,1568.6 L2137.7,1570.4 L2137.8,1570.8 L2138.6,1572.6 L2139.3,1574.3 L2140.1,1576.0 L2140.8,1577.6 L2141.6,1578.6 L2142.3,1579.6 L2142.7,1580.2 L2143.1,1580.2 L2143.8,1580.2 L2144.6,1580.2 L2145.3,1580.2 L2146.1,1580.2 L2146.8,1580.2 L2147.6,1580.2 L2148.3,1580.2 L2149.1,1580.2 L2149.8,1580.2 L2150.6,1580.2 L2151.3,1580.2 L2152.1,1580.2 L2152.8,1580.2 L2153.6,1580.2 L2154.3,1580.2 L2155.1,1580.2 L2155.6,1580.2 L2155.8,1579.6 L2156.6,1577.8 L2157.3,1575.9 L2158.1,1574.0 L2158.8,1572.1 L2159.6,1570.3 L2160.3,1568.4 L2161.1,1566.5 L2161.8,1564.7 L2162.6,1563.5 L2163.3,1563.5 L2164.1,1563.4 L2164.8,1562.7 L2165.6,1563.6 L2166.3,1563.4 L2167.1,1563.0 L2167.8,1563.6 L2168.6,1562.7 L2169.3,1563.8 L2170.1,1563.1 L2170.8,1563.6 L2171.6,1563.7 L2172.3,1562.9 L2173.1,1563.0 L2173.8,1563.1 L2174.6,1563.3 L2175.3,1563.3 L2176.1,1563.7 L2176.8,1563.8 L2177.6,1563.1 L2178.3,1562.8 L2179.1,1563.4 L2179.8,1563.1 L2180.6,1563.1 L2181.3,1562.3 L2182.1,1560.2 L2182.8,1558.2 L2183.6,1556.1 L2184.3,1554.1 L2185.1,1552.0 L2185.8,1549.9 L2186.6,1547.9 L2187.3,1545.8 L2188.1,1543.8 L2188.4,1542.8 L2188.8,1544.0 L2189.6,1546.3 L2189.7,1546.8 L2190.3,1548.6 L2191.1,1550.9 L2191.8,1553.2 L2192.6,1555.5 L2193.3,1557.8 L2194.1,1560.1 L2194.8,1562.4 L2195.6,1564.7 L2196.1,1566.3 L2196.3,1567.0 L2197.1,1569.3 L2197.4,1570.3 L2197.8,1571.5 L2198.6,1573.2 L2199.3,1575.0 L2200.1,1576.7 L2200.8,1578.0 L2201.6,1579.0 L2202.3,1580.0 L2202.4,1580.2 L2203.1,1580.2 L2203.8,1580.2 L2204.6,1580.2 L2205.3,1580.2 L2206.1,1580.2 L2206.8,1580.2 L2207.6,1580.2 L2208.3,1580.2 L2209.1,1580.2 L2209.8,1580.2 L2210.6,1580.2 L2211.3,1580.2 L2212.1,1580.2 L2212.8,1580.2 L2213.6,1580.2 L2214.3,1580.2 L2215.1,1580.2 L2215.3,1580.2 L2215.8,1578.9 L2216.6,1576.9 L2217.3,1575.0 L2218.1,1573.1 L2218.8,1571.1 L2219.6,1569.2 L2220.3,1567.3 L2221.1,1565.3 L2221.8,1563.4 L2222.6,1562.7 L2223.3,1562.9 L2224.1,1562.4 L2224.8,1562.7 L2225.6,1562.6 L2226.3,1562.1 L2227.1,1562.4 L2227.8,1562.1 L2228.6,1562.1 L2229.3,1562.4 L2230.1,1563.0 L2230.8,1562.0 L2231.6,1562.5 L2232.3,1562.0 L2233.1,1563.1 L2233.8,1562.3 L2234.6,1562.4 L2235.3,1562.0 L2236.1,1562.2 L2236.8,1562.1 L2237.6,1562.4 L2238.3,1561.9 L2239.1,1562.2 L2239.8,1563.0 L2240.6,1561.8 L2241.3,1560.7 L2242.1,1558.5 L2242.8,1556.2 L2243.6,1553.9 L2244.3,1551.6 L2245.1,1549.3 L2245.8,1547.1 L2246.6,1544.8 L2247.3,1542.5 L2248.1,1540.2 L2248.1,1540.0 L2248.8,1542.3 L2249.4,1544.4 L2249.6,1544.8 L2250.3,1547.4 L2251.1,1549.9 L2251.8,1552.4 L2252.6,1555.0 L2253.3,1557.5 L2254.1,1560.0 L2254.8,1562.5 L2255.6,1565.1 L2255.8,1565.8 L2256.3,1567.6 L2257.1,1570.1 L2257.1,1570.2 L2257.8,1572.2 L2258.6,1573.9 L2259.3,1575.6 L2260.1,1577.3 L2260.8,1578.4 L2261.6,1579.4 L2262.2,1580.2 L2262.3,1580.2 L2263.1,1580.2 L2263.8,1580.2 L2264.6,1580.2 L2265.3,1580.2 L2266.1,1580.2 L2266.8,1580.2 L2267.6,1580.2 L2268.3,1580.2 L2269.1,1580.2 L2269.8,1580.2 L2270.6,1580.2 L2271.3,1580.2 L2272.1,1580.2 L2272.8,1580.2 L2273.6,1580.2 L2274.3,1580.2 L2275.0,1580.2 L2275.1,1580.1 L2275.8,1578.4 L2276.6,1576.8 L2277.3,1575.1 L2278.1,1573.5 L2278.8,1571.8 L2279.6,1570.2 L2280.3,1568.5 L2281.1,1566.9 L2281.8,1565.6 L2282.6,1565.5 L2283.3,1565.4 L2284.1,1564.7 L2284.8,1565.0 L2285.6,1565.0 L2286.3,1565.5 L2287.1,1565.1 L2287.8,1564.6 L2288.6,1564.9 L2289.3,1565.2 L2290.1,1564.7 L2290.8,1565.4 L2291.6,1565.7 L2292.3,1564.7 L2293.1,1565.7 L2293.8,1565.8 L2294.6,1564.7 L2295.3,1565.1 L2296.1,1565.8 L2296.8,1565.4 L2297.6,1565.6 L2298.3,1565.1 L2299.1,1565.2 L2299.8,1564.6 L2300.6,1565.5 L2301.3,1562.8 L2302.1,1560.9 L2302.8,1559.0 L2303.6,1557.0 L2304.3,1555.1 L2305.1,1553.1 L2305.8,1551.2 L2306.6,1549.2 L2307.3,1547.3 L2307.8,1545.9 L2308.1,1546.5 L2308.8,1548.5 L2309.1,1549.5 L2309.6,1550.6 L2310.3,1552.6 L2311.1,1554.7 L2311.8,1556.8 L2312.6,1558.8 L2313.3,1560.9 L2314.1,1562.9 L2314.8,1565.0 L2315.5,1566.8 L2315.6,1567.0 L2316.3,1569.1 L2316.8,1570.4 L2317.1,1571.1 L2317.8,1572.9 L2318.6,1574.6 L2319.3,1576.3 L2320.1,1577.7 L2320.8,1578.8 L2321.6,1579.8 L2321.9,1580.2 L2322.3,1580.2 L2323.1,1580.2 L2323.8,1580.2 L2324.6,1580.2 L2325.3,1580.2 L2326.1,1580.2 L2326.8,1580.2 L2327.6,1580.2 L2328.3,1580.2 L2329.1,1580.2 L2329.8,1580.2 L2330.6,1580.2 L2331.3,1580.2 L2332.1,1580.2 L2332.8,1580.2 L2333.6,1580.2 L2334.3,1580.2 L2334.7,1580.2 L2335.1,1579.3 L2335.8,1577.5 L2336.6,1575.6 L2337.3,1573.7 L2338.1,1571.8 L2338.8,1570.0 L2339.6,1568.1 L2340.3,1566.2 L2341.1,1564.4 L2341.8,1563.0 L2342.6,1562.8 L2343.3,1563.6 L2344.1,1562.6 L2344.8,1562.4 L2345.6,1562.9 L2346.3,1562.8 L2347.1,1562.6 L2347.8,1562.3 L2348.6,1563.2 L2349.3,1563.4 L2350.1,1563.6 L2350.8,1563.3 L2351.6,1562.7 L2352.3,1562.4 L2353.1,1563.0 L2353.8,1562.9 L2354.6,1562.8 L2355.3,1563.8 L2356.1,1563.7 L2356.8,1563.8 L2357.6,1562.6 L2358.3,1562.6 L2359.1,1563.5 L2359.8,1562.6 L2360.6,1561.7 L2361.3,1559.1 L2362.1,1556.6 L2362.8,1554.0 L2363.6,1551.5 L2364.3,1548.9 L2365.1,1546.4 L2365.8,1543.8 L2366.6,1541.3 L2367.3,1538.7 L2367.5,1537.9 L2368.1,1539.7 L2368.8,1542.4 L2368.9,1542.6 L2369.6,1545.1 L2370.3,1547.8 L2371.1,1550.5 L2371.8,1553.2 L2372.6,1555.9 L2373.3,1558.6 L2374.1,1561.3 L2374.8,1564.0 L2375.2,1565.4 L2375.6,1566.7 L2376.3,1569.4 L2376.5,1570.2 L2377.1,1571.8 L2377.8,1573.5 L2378.6,1575.2 L2379.3,1576.9 L2380.1,1578.1 L2380.8,1579.1 L2381.6,1580.2 L2381.6,1580.2 L2382.3,1580.2 L2383.1,1580.2 L2383.8,1580.2 L2384.6,1580.2 L2385.3,1580.2 L2386.1,1580.2 L2386.8,1580.2 L2387.6,1580.2 L2388.3,1580.2 L2389.1,1580.2 L2389.8,1580.2 L2390.6,1580.2 L2391.3,1580.2 L2392.1,1580.2 L2392.8,1580.2 L2393.6,1580.2 L2394.3,1580.2 L2394.4,1580.2 L2395.1,1578.8 L2395.8,1577.1 L2396.6,1575.5 L2397.3,1573.8 L2398.1,1572.2 L2398.8,1570.5 L2399.6,1568.8 L2400.3,1567.2 L2401.1,1566.0 L2401.8,1565.2 L2402.6,1565.1 L2403.3,1564.3 L2404.1,1565.0 L2404.8,1565.7 L2405.6,1564.3 L2406.3,1564.5 L2407.1,1564.4 L2407.8,1564.3 L2408.6,1565.7 L2409.3,1565.6 L2410.1,1565.5 L2410.8,1565.0 L2411.6,1565.5 L2412.3,1565.6 L2413.1,1564.9 L2413.8,1564.4 L2414.6,1565.2 L2415.3,1565.4 L2416.1,1564.5 L2416.8,1564.7 L2417.6,1565.0 L2418.3,1565.6 L2419.1,1564.8 L2419.8,1565.7 L2420.6,1562.7 L2421.3,1560.3 L2422.1,1557.8 L2422.8,1555.3 L2423.6,1552.9 L2424.3,1550.4 L2425.1,1548.0 L2425.8,1545.5 L2426.6,1543.0 L2427.2,1540.7 L2427.3,1540.9 L2428.1,1543.4 L2428.6,1545.1 L2428.8,1545.9 L2429.6,1548.3 L2430.3,1550.8 L2431.1,1553.3 L2431.8,1555.7 L2432.6,1558.2 L2433.3,1560.7 L2434.1,1563.1 L2434.8,1565.6 L2434.9,1565.9 L2435.6,1568.1 L2436.2,1570.2 L2436.3,1570.6 L2437.1,1572.5 L2437.8,1574.2 L2438.6,1575.9 L2439.3,1577.5 L2440.1,1578.5 L2440.8,1579.5 L2441.3,1580.2 L2441.6,1580.2 L2442.3,1580.2 L2443.1,1580.2 L2443.8,1580.2 L2444.6,1580.2 L2445.3,1580.2 L2446.1,1580.2 L2446.8,1580.2 L2447.6,1580.2 L2448.3,1580.2 L2449.1,1580.2 L2449.8,1580.2 L2450.6,1580.2 L2451.3,1580.2 L2452.1,1580.2 L2452.8,1580.2 L2453.6,1580.2 L2454.1,1580.2 L2454.3,1579.7 L2455.1,1577.5 L2455.8,1575.4 L2456.6,1573.2 L2457.3,1571.0 L2458.1,1568.9 L2458.8,1566.7 L2459.6,1564.5 L2460.3,1562.4 L2461.1,1560.2 L2461.8,1559.9 L2462.6,1559.9 L2463.3,1560.1 L2464.1,1561.1 L2464.8,1560.0 L2465.6,1560.7 L2466.3,1561.0 L2467.1,1560.2 L2467.8,1560.3 L2468.6,1560.0 L2469.3,1560.0 L2470.1,1561.1 L2470.8,1560.3 L2471.6,1560.9 L2472.3,1560.6 L2473.1,1561.0 L2473.8,1560.8 L2474.6,1560.5 L2475.3,1560.3 L2476.1,1559.7 L2476.8,1560.9 L2477.6,1560.4 L2478.3,1560.9 L2479.1,1560.1 L2479.8,1559.7 L2480.6,1557.5 L2481.3,1555.3 L2482.1,1553.2 L2482.8,1551.0 L2483.6,1548.8 L2484.3,1546.7 L2485.1,1544.5 L2485.8,1542.3 L2486.6,1540.1 L2487.0,1539.0 L2487.3,1540.1 L2488.1,1542.8 L2488.3,1543.5 L2488.8,1545.4 L2489.6,1548.0 L2490.3,1550.6 L2491.1,1553.2 L2491.8,1555.8 L2492.6,1558.5 L2493.3,1561.1 L2494.1,1563.7 L2494.6,1565.6 L2494.8,1566.3 L2495.6,1568.9 L2495.9,1570.2 L2496.3,1571.4 L2497.1,1573.1 L2497.8,1574.8 L2498.6,1576.5 L2499.3,1577.9 L2500.1,1578.9 L2500.8,1579.9 L2501.0,1580.2 L2501.6,1580.2 L2502.3,1580.2 L2503.1,1580.2 L2503.8,1580.2 L2504.6,1580.2 L2505.3,1580.2 L2506.1,1580.2 L2506.8,1580.2 L2507.6,1580.2 L2508.3,1580.2 L2509.1,1580.2 L2509.8,1580.2 L2510.6,1580.2 L2511.3,1580.2 L2512.1,1580.2 L2512.8,1580.2 L2513.6,1580.2 L2513.8,1580.2 L2514.3,1579.0 L2515.1,1577.1 L2515.8,1575.2 L2516.6,1573.3 L2517.3,1571.4 L2518.1,1569.5 L2518.8,1567.6 L2519.6,1565.7 L2520.3,1563.8 L2521.1,1562.7 L2521.8,1562.6 L2522.6,1562.6 L2523.3,1562.8 L2524.1,1562.6 L2524.8,1562.8 L2525.6,1563.1 L2526.3,1563.0 L2527.1,1562.8 L2527.8,1562.9 L2528.6,1563.3 L2529.3,1562.9 L2530.1,1563.3 L2530.8,1563.0 L2531.6,1562.5 L2532.3,1563.4 L2533.1,1562.9 L2533.8,1562.2 L2534.6,1563.5 L2535.3,1562.5 L2536.1,1562.5 L2536.8,1563.5 L2537.6,1563.4 L2538.3,1562.1 L2539.1,1562.5 L2539.8,1561.0 L2540.6,1558.5 L2541.3,1555.9 L2542.1,1553.3 L2542.8,1550.8 L2543.6,1548.2 L2544.3,1545.7 L2545.1,1543.1 L2545.8,1540.5 L2546.6,1538.0 L2546.7,1537.6 L2547.3,1539.9 L2548.0,1542.3 L2548.1,1542.6 L2548.8,1545.3 L2549.6,1548.0 L2550.3,1550.8 L2551.1,1553.5 L2551.8,1556.2 L2552.6,1559.0 L2553.3,1561.7 L2554.1,1564.4 L2554.3,1565.4 L2554.8,1567.1 L2555.6,1569.9 L2555.6,1570.1 L2556.3,1572.1 L2557.1,1573.8 L2557.8,1575.5 L2558.6,1577.2 L2559.3,1578.3 L2560.1,1579.3 L2560.7,1580.2 L2560.8,1580.2 L2561.6,1580.2 L2562.3,1580.2 L2563.1,1580.2 L2563.8,1580.2 L2564.6,1580.2 L2565.3,1580.2 L2566.1,1580.2 L2566.8,1580.2 L2567.6,1580.2 L2568.3,1580.2 L2569.1,1580.2 L2569.8,1580.2 L2570.6,1580.2 L2571.3,1580.2 L2572.1,1580.2 L2572.8,1580.2 L2573.5,1580.2 L2573.6,1580.2 L2574.3,1578.4 L2575.1,1576.6 L2575.8,1574.8 L2576.6,1573.1 L2577.3,1571.3 L2578.1,1569.5 L2578.8,1567.7 L2579.6,1565.9 L2579.6,1582.2 L1518.3,1582.2 Z" fill="#2e8500" fill-opacity="0.05"/><path d="M1518.3,1564.2 L1519.0,1563.9 L1519.8,1563.9 L1520.5,1563.8 L1521.3,1564.6 L1522.0,1563.6 L1522.8,1564.2 L1523.5,1563.9 L1524.3,1563.6 L1525.0,1561.8 L1525.8,1559.6 L1526.5,1557.5 L1527.3,1555.3 L1528.0,1553.1 L1528.8,1550.9 L1529.5,1548.7 L1530.3,1546.6 L1531.0,1544.4 L1531.6,1542.8 L1531.8,1543.4 L1532.5,1545.7 L1532.9,1546.8 L1533.3,1548.0 L1534.0,1550.3 L1534.8,1552.6 L1535.5,1554.9 L1536.3,1557.2 L1537.0,1559.5 L1537.8,1561.8 L1538.5,1564.1 L1539.2,1566.3 L1539.3,1566.5 L1540.0,1568.8 L1540.6,1570.3 L1540.8,1571.1 L1541.5,1572.8 L1542.3,1574.5 L1543.0,1576.2 L1543.8,1577.7 L1544.5,1578.7 L1545.3,1579.7 L1545.6,1580.2 L1546.0,1580.2 L1546.8,1580.2 L1547.5,1580.2 L1548.3,1580.2 L1549.0,1580.2 L1549.8,1580.2 L1550.5,1580.2 L1551.3,1580.2 L1552.0,1580.2 L1552.8,1580.2 L1553.5,1580.2 L1554.3,1580.2 L1555.0,1580.2 L1555.8,1580.2 L1556.5,1580.2 L1557.3,1580.2 L1558.0,1580.2 L1558.5,1580.2 L1558.8,1579.5 L1559.5,1577.9 L1560.3,1576.3 L1561.0,1574.7 L1561.8,1573.1 L1562.5,1571.5 L1563.3,1569.9 L1564.0,1568.3 L1564.8,1566.7 L1565.5,1565.0 L1566.3,1565.9 L1567.0,1565.8 L1567.8,1565.3 L1568.5,1565.5 L1569.3,1565.2 L1570.0,1565.8 L1570.8,1564.9 L1571.5,1566.3 L1572.3,1565.3 L1573.0,1565.8 L1573.8,1566.3 L1574.5,1565.4 L1575.3,1566.3 L1576.0,1566.0 L1576.8,1565.9 L1577.5,1566.1 L1578.3,1566.1 L1579.0,1566.2 L1579.8,1565.1 L1580.5,1566.2 L1581.3,1566.1 L1582.0,1566.2 L1582.8,1565.0 L1583.5,1565.5 L1584.3,1564.2 L1585.0,1561.6 L1585.8,1559.0 L1586.5,1556.4 L1587.3,1553.8 L1588.0,1551.1 L1588.8,1548.5 L1589.5,1545.9 L1590.3,1543.3 L1591.0,1540.7 L1591.3,1539.8 L1591.8,1541.4 L1592.5,1544.0 L1592.6,1544.2 L1593.3,1546.5 L1594.0,1549.1 L1594.8,1551.6 L1595.5,1554.2 L1596.3,1556.7 L1597.0,1559.3 L1597.8,1561.8 L1598.5,1564.4 L1599.0,1565.8 L1599.3,1566.9 L1600.0,1569.5 L1600.3,1570.2 L1600.8,1571.8 L1601.5,1573.5 L1602.3,1575.2 L1603.0,1576.9 L1603.8,1578.1 L1604.5,1579.1 L1605.3,1580.1 L1605.3,1580.2 L1606.0,1580.2 L1606.8,1580.2 L1607.5,1580.2 L1608.3,1580.2 L1609.0,1580.2 L1609.8,1580.2 L1610.5,1580.2 L1611.3,1580.2 L1612.0,1580.2 L1612.8,1580.2 L1613.5,1580.2 L1614.3,1580.2 L1615.0,1580.2 L1615.8,1580.2 L1616.5,1580.2 L1617.3,1580.2 L1618.0,1580.2 L1618.2,1580.2 L1618.8,1578.9 L1619.5,1577.3 L1620.3,1575.8 L1621.0,1574.2 L1621.8,1572.6 L1622.5,1571.1 L1623.3,1569.5 L1624.0,1567.9 L1624.8,1565.9 L1625.5,1565.2 L1626.3,1565.9 L1627.0,1566.0 L1627.8,1566.0 L1628.5,1566.2 L1629.3,1565.7 L1630.0,1565.2 L1630.8,1565.8 L1631.5,1565.5 L1632.3,1565.3 L1633.0,1565.4 L1633.8,1565.6 L1634.5,1565.8 L1635.3,1566.4 L1636.0,1566.0 L1636.8,1565.3 L1637.5,1565.9 L1638.3,1565.6 L1639.0,1566.2 L1639.8,1565.7 L1640.5,1566.3 L1641.3,1565.4 L1642.0,1565.4 L1642.8,1566.6 L1643.5,1565.6 L1644.3,1563.7 L1645.0,1561.4 L1645.8,1559.1 L1646.5,1556.8 L1647.3,1554.5 L1648.0,1552.2 L1648.8,1549.9 L1649.5,1547.6 L1650.3,1545.2 L1651.0,1543.0 L1651.0,1543.1 L1651.8,1545.4 L1652.3,1547.0 L1652.5,1547.7 L1653.3,1550.0 L1654.0,1552.3 L1654.8,1554.5 L1655.5,1556.8 L1656.3,1559.1 L1657.0,1561.4 L1657.8,1563.7 L1658.5,1566.0 L1658.7,1566.3 L1659.3,1568.3 L1660.0,1570.3 L1660.0,1570.5 L1660.8,1572.4 L1661.5,1574.1 L1662.3,1575.8 L1663.0,1577.5 L1663.8,1578.5 L1664.5,1579.5 L1665.1,1580.2 L1665.3,1580.2 L1666.0,1580.2 L1666.8,1580.2 L1667.5,1580.2 L1668.3,1580.2 L1669.0,1580.2 L1669.8,1580.2 L1670.5,1580.2 L1671.3,1580.2 L1672.0,1580.2 L1672.8,1580.2 L1673.5,1580.2 L1674.3,1580.2 L1675.0,1580.2 L1675.8,1580.2 L1676.5,1580.2 L1677.3,1580.2 L1677.9,1580.2 L1678.0,1579.8 L1678.8,1577.8 L1679.5,1575.8 L1680.3,1573.8 L1681.0,1571.9 L1681.8,1569.9 L1682.5,1567.9 L1683.3,1565.9 L1684.0,1564.0 L1684.8,1562.7 L1685.5,1561.4 L1686.3,1562.6 L1687.0,1562.6 L1687.8,1561.5 L1688.5,1561.9 L1689.3,1562.8 L1690.0,1562.2 L1690.8,1561.6 L1691.5,1562.6 L1692.3,1561.7 L1693.0,1562.4 L1693.8,1562.2 L1694.5,1562.3 L1695.3,1562.8 L1696.0,1562.3 L1696.8,1562.1 L1697.5,1561.9 L1698.3,1562.0 L1699.0,1562.6 L1699.8,1561.9 L1700.5,1562.4 L1701.3,1561.5 L1702.0,1562.7 L1702.8,1561.7 L1703.5,1562.1 L1704.3,1559.2 L1705.0,1557.0 L1705.8,1554.8 L1706.5,1552.6 L1707.3,1550.4 L1708.0,1548.2 L1708.8,1546.0 L1709.5,1543.7 L1710.3,1541.5 L1710.7,1540.3 L1711.0,1541.3 L1711.8,1543.8 L1712.0,1544.7 L1712.5,1546.3 L1713.3,1548.9 L1714.0,1551.4 L1714.8,1553.9 L1715.5,1556.4 L1716.3,1558.9 L1717.0,1561.4 L1717.8,1563.9 L1718.4,1565.8 L1718.5,1566.4 L1719.3,1568.9 L1719.7,1570.2 L1720.0,1571.4 L1720.8,1573.1 L1721.5,1574.8 L1722.3,1576.5 L1723.0,1577.9 L1723.8,1578.9 L1724.5,1579.9 L1724.8,1580.2 L1725.3,1580.2 L1726.0,1580.2 L1726.8,1580.2 L1727.5,1580.2 L1728.3,1580.2 L1729.0,1580.2 L1729.8,1580.2 L1730.5,1580.2 L1731.3,1580.2 L1732.0,1580.2 L1732.8,1580.2 L1733.5,1580.2 L1734.3,1580.2 L1735.0,1580.2 L1735.8,1580.2 L1736.5,1580.2 L1737.3,1580.2 L1737.6,1580.2 L1738.0,1579.1 L1738.8,1577.4 L1739.5,1575.6 L1740.3,1573.8 L1741.0,1572.0 L1741.8,1570.3 L1742.5,1568.5 L1743.3,1566.7 L1744.0,1565.0 L1744.8,1563.9 L1745.5,1564.2 L1746.3,1564.0 L1747.0,1563.7 L1747.8,1563.5 L1748.5,1564.7 L1749.3,1563.4 L1750.0,1563.8 L1750.8,1564.6 L1751.5,1563.7 L1752.3,1563.5 L1753.0,1564.2 L1753.8,1563.4 L1754.5,1564.5 L1755.3,1564.0 L1756.0,1564.4 L1756.8,1563.5 L1757.5,1564.3 L1758.3,1564.3 L1759.0,1563.2 L1759.8,1564.1 L1760.5,1564.0 L1761.3,1563.7 L1762.0,1564.4 L1762.8,1563.5 L1763.5,1562.3 L1764.3,1559.8 L1765.0,1557.4 L1765.8,1554.9 L1766.5,1552.4 L1767.3,1550.0 L1768.0,1547.5 L1768.8,1545.1 L1769.5,1542.6 L1770.3,1540.1 L1770.4,1539.7 L1771.0,1541.8 L1771.8,1544.2 L1771.8,1544.3 L1772.5,1546.9 L1773.3,1549.4 L1774.0,1552.0 L1774.8,1554.5 L1775.5,1557.1 L1776.3,1559.7 L1777.0,1562.2 L1777.8,1564.8 L1778.1,1565.7 L1778.5,1567.3 L1779.3,1569.9 L1779.4,1570.2 L1780.0,1572.0 L1780.8,1573.7 L1781.5,1575.5 L1782.3,1577.2 L1783.0,1578.3 L1783.8,1579.3 L1784.5,1580.2 L1784.5,1580.2 L1785.3,1580.2 L1786.0,1580.2 L1786.8,1580.2 L1787.5,1580.2 L1788.3,1580.2 L1789.0,1580.2 L1789.8,1580.2 L1790.5,1580.2 L1791.3,1580.2 L1792.0,1580.2 L1792.8,1580.2 L1793.5,1580.2 L1794.3,1580.2 L1795.0,1580.2 L1795.8,1580.2 L1796.5,1580.2 L1797.3,1580.2 L1797.3,1580.2 L1798.0,1578.1 L1798.8,1576.1 L1799.5,1574.0 L1800.3,1571.9 L1801.0,1569.8 L1801.8,1567.7 L1802.5,1565.6 L1803.3,1563.6 L1804.0,1561.2 L1804.8,1561.1 L1805.5,1560.7 L1806.3,1560.6 L1807.0,1561.7 L1807.8,1560.4 L1808.5,1561.1 L1809.3,1560.7 L1810.0,1560.9 L1810.8,1560.4 L1811.5,1560.7 L1812.3,1561.5 L1813.0,1561.6 L1813.8,1561.3 L1814.5,1561.5 L1815.3,1561.5 L1816.0,1561.1 L1816.8,1561.1 L1817.5,1561.3 L1818.3,1560.7 L1819.0,1561.6 L1819.8,1561.2 L1820.5,1561.2 L1821.3,1561.0 L1822.0,1560.6 L1822.8,1560.8 L1823.5,1558.4 L1824.3,1555.9 L1825.0,1553.3 L1825.8,1550.8 L1826.5,1548.3 L1827.3,1545.7 L1828.0,1543.2 L1828.8,1540.7 L1829.5,1538.1 L1830.2,1536.1 L1830.3,1536.7 L1831.0,1539.5 L1831.5,1541.1 L1831.8,1542.4 L1832.5,1545.2 L1833.3,1548.1 L1834.0,1550.9 L1834.8,1553.8 L1835.5,1556.6 L1836.3,1559.4 L1837.0,1562.3 L1837.8,1565.1 L1837.8,1565.1 L1838.5,1568.0 L1839.1,1570.1 L1839.3,1570.8 L1840.0,1572.7 L1840.8,1574.4 L1841.5,1576.1 L1842.3,1577.6 L1843.0,1578.7 L1843.8,1579.7 L1844.2,1580.2 L1844.5,1580.2 L1845.3,1580.2 L1846.0,1580.2 L1846.8,1580.2 L1847.5,1580.2 L1848.3,1580.2 L1849.0,1580.2 L1849.8,1580.2 L1850.5,1580.2 L1851.3,1580.2 L1852.0,1580.2 L1852.8,1580.2 L1853.5,1580.2 L1854.3,1580.2 L1855.0,1580.2 L1855.8,1580.2 L1856.5,1580.2 L1857.0,1580.2 L1857.3,1579.4 L1858.0,1577.3 L1858.8,1575.2 L1859.5,1573.1 L1860.3,1571.0 L1861.0,1568.9 L1861.8,1566.8 L1862.5,1564.7 L1863.3,1562.6 L1864.0,1561.7 L1864.8,1560.8 L1865.5,1561.2 L1866.3,1561.1 L1867.0,1560.9 L1867.8,1561.4 L1868.5,1560.5 L1869.3,1561.2 L1870.0,1561.2 L1870.8,1560.9 L1871.5,1561.6 L1872.3,1561.2 L1873.0,1560.2 L1873.8,1561.5 L1874.5,1561.1 L1875.3,1560.6 L1876.0,1561.0 L1876.8,1560.8 L1877.5,1560.5 L1878.3,1560.5 L1879.0,1561.1 L1879.8,1561.2 L1880.5,1561.7 L1881.3,1560.6 L1882.0,1561.5 L1882.8,1559.8 L1883.5,1557.3 L1884.3,1554.8 L1885.0,1552.3 L1885.8,1549.8 L1886.5,1547.3 L1887.3,1544.8 L1888.0,1542.3 L1888.8,1539.8 L1889.5,1537.3 L1889.9,1536.3 L1890.3,1537.9 L1891.0,1540.8 L1891.2,1541.2 L1891.8,1543.6 L1892.5,1546.4 L1893.3,1549.3 L1894.0,1552.1 L1894.8,1554.9 L1895.5,1557.8 L1896.3,1560.6 L1897.0,1563.4 L1897.5,1565.1 L1897.8,1566.3 L1898.5,1569.1 L1898.8,1570.1 L1899.3,1571.7 L1900.0,1573.4 L1900.8,1575.1 L1901.5,1576.8 L1902.3,1578.0 L1903.0,1579.1 L1903.8,1580.1 L1903.9,1580.2 L1904.5,1580.2 L1905.3,1580.2 L1906.0,1580.2 L1906.8,1580.2 L1907.5,1580.2 L1908.3,1580.2 L1909.0,1580.2 L1909.8,1580.2 L1910.5,1580.2 L1911.3,1580.2 L1912.0,1580.2 L1912.8,1580.2 L1913.5,1580.2 L1914.3,1580.2 L1915.0,1580.2 L1915.8,1580.2 L1916.5,1580.2 L1916.7,1580.2 L1917.3,1578.9 L1918.0,1577.3 L1918.8,1575.6 L1919.5,1574.0 L1920.3,1572.3 L1921.0,1570.7 L1921.8,1569.0 L1922.5,1567.3 L1923.3,1565.7 L1924.0,1565.6 L1924.8,1564.7 L1925.5,1565.1 L1926.3,1565.6 L1927.0,1564.9 L1927.8,1565.6 L1928.5,1565.3 L1929.3,1565.4 L1930.0,1564.7 L1930.8,1564.9 L1931.5,1565.5 L1932.3,1565.3 L1933.0,1565.1 L1933.8,1564.6 L1934.5,1565.3 L1935.3,1564.7 L1936.0,1565.7 L1936.8,1565.6 L1937.5,1564.6 L1938.3,1565.2 L1939.0,1565.7 L1939.8,1565.5 L1940.5,1565.2 L1941.3,1565.6 L1942.0,1565.2 L1942.8,1563.2 L1943.5,1560.9 L1944.3,1558.7 L1945.0,1556.5 L1945.8,1554.2 L1946.5,1552.0 L1947.3,1549.8 L1948.0,1547.5 L1948.8,1545.3 L1949.5,1543.1 L1949.6,1543.0 L1950.3,1545.3 L1950.9,1547.0 L1951.0,1547.5 L1951.8,1549.8 L1952.5,1552.1 L1953.3,1554.4 L1954.0,1556.7 L1954.8,1559.0 L1955.5,1561.3 L1956.3,1563.5 L1957.0,1565.8 L1957.2,1566.3 L1957.8,1568.1 L1958.5,1570.3 L1958.5,1570.4 L1959.3,1572.3 L1960.0,1574.0 L1960.8,1575.7 L1961.5,1577.4 L1962.3,1578.4 L1963.0,1579.4 L1963.6,1580.2 L1963.8,1580.2 L1964.5,1580.2 L1965.3,1580.2 L1966.0,1580.2 L1966.8,1580.2 L1967.5,1580.2 L1968.3,1580.2 L1969.0,1580.2 L1969.8,1580.2 L1970.5,1580.2 L1971.3,1580.2 L1972.0,1580.2 L1972.8,1580.2 L1973.5,1580.2 L1974.3,1580.2 L1975.0,1580.2 L1975.8,1580.2 L1976.4,1580.2 L1976.5,1579.9 L1977.3,1578.1 L1978.0,1576.4 L1978.8,1574.6 L1979.5,1572.8 L1980.3,1571.0 L1981.0,1569.2 L1981.8,1567.4 L1982.5,1565.6 L1983.3,1563.1 L1984.0,1564.4 L1984.8,1564.0 L1985.5,1564.1 L1986.3,1564.3 L1987.0,1563.2 L1987.8,1564.1 L1988.5,1564.3 L1989.3,1563.9 L1990.0,1564.4 L1990.8,1563.9 L1991.5,1564.3 L1992.3,1563.8 L1993.0,1564.3 L1993.8,1563.3 L1994.5,1563.8 L1995.3,1563.6 L1996.0,1564.2 L1996.8,1564.5 L1997.5,1564.2 L1998.3,1563.8 L1999.0,1564.5 L1999.8,1564.3 L2000.5,1563.2 L2001.3,1564.1 L2002.0,1563.7 L2002.8,1561.0 L2003.5,1558.7 L2004.3,1556.3 L2005.0,1554.0 L2005.8,1551.7 L2006.5,1549.4 L2007.3,1547.1 L2008.0,1544.8 L2008.8,1542.5 L2009.3,1541.0 L2009.5,1541.9 L2010.3,1544.3 L2010.6,1545.3 L2011.0,1546.8 L2011.8,1549.2 L2012.5,1551.7 L2013.3,1554.1 L2014.0,1556.6 L2014.8,1559.0 L2015.5,1561.5 L2016.3,1563.9 L2016.9,1566.0 L2017.0,1566.4 L2017.8,1568.8 L2018.2,1570.3 L2018.5,1571.3 L2019.3,1573.0 L2020.0,1574.7 L2020.8,1576.4 L2021.5,1577.8 L2022.3,1578.8 L2023.0,1579.8 L2023.3,1580.2 L2023.8,1580.2 L2024.5,1580.2 L2025.3,1580.2 L2026.0,1580.2 L2026.8,1580.2 L2027.5,1580.2 L2028.3,1580.2 L2029.0,1580.2 L2029.8,1580.2 L2030.5,1580.2 L2031.3,1580.2 L2032.0,1580.2 L2032.8,1580.2 L2033.5,1580.2 L2034.3,1580.2 L2035.0,1580.2 L2035.8,1580.2 L2036.1,1580.2 L2036.5,1579.3 L2037.3,1577.5 L2038.0,1575.8 L2038.8,1574.1 L2039.5,1572.3 L2040.3,1570.6 L2041.0,1568.9 L2041.8,1567.1 L2042.5,1565.4 L2043.3,1563.8 L2044.0,1564.6 L2044.8,1564.2 L2045.5,1564.3 L2046.3,1564.3 L2047.0,1565.0 L2047.8,1564.0 L2048.6,1564.6 L2049.3,1563.8 L2050.1,1563.6 L2050.8,1564.5 L2051.6,1563.8 L2052.3,1563.6 L2053.1,1564.8 L2053.8,1564.6 L2054.6,1563.7 L2055.3,1563.8 L2056.1,1564.7 L2056.8,1564.7 L2057.6,1563.8 L2058.3,1564.9 L2059.1,1564.8 L2059.8,1564.8 L2060.6,1564.6 L2061.3,1564.4 L2062.1,1562.7 L2062.8,1560.1 L2063.6,1557.6 L2064.3,1555.0 L2065.1,1552.4 L2065.8,1549.9 L2066.6,1547.3 L2067.3,1544.7 L2068.1,1542.2 L2068.8,1539.6 L2069.0,1539.0 L2069.6,1540.9 L2070.3,1543.5 L2070.3,1543.5 L2071.1,1546.1 L2071.8,1548.8 L2072.6,1551.4 L2073.3,1554.0 L2074.1,1556.6 L2074.8,1559.2 L2075.6,1561.8 L2076.3,1564.4 L2076.6,1565.6 L2077.1,1567.1 L2077.8,1569.7 L2077.9,1570.2 L2078.6,1571.9 L2079.3,1573.6 L2080.1,1575.3 L2080.8,1577.0 L2081.6,1578.2 L2082.3,1579.2 L2083.0,1580.2 L2083.1,1580.2 L2083.8,1580.2 L2084.6,1580.2 L2085.3,1580.2 L2086.1,1580.2 L2086.8,1580.2 L2087.6,1580.2 L2088.3,1580.2 L2089.1,1580.2 L2089.8,1580.2 L2090.6,1580.2 L2091.3,1580.2 L2092.1,1580.2 L2092.8,1580.2 L2093.6,1580.2 L2094.3,1580.2 L2095.1,1580.2 L2095.8,1580.2 L2095.9,1580.2 L2096.6,1578.7 L2097.3,1577.0 L2098.1,1575.3 L2098.8,1573.6 L2099.6,1571.9 L2100.3,1570.2 L2101.1,1568.6 L2101.8,1566.9 L2102.6,1565.7 L2103.3,1565.2 L2104.1,1564.1 L2104.8,1564.8 L2105.6,1564.8 L2106.3,1565.1 L2107.1,1564.1 L2107.8,1564.6 L2108.6,1564.8 L2109.3,1565.3 L2110.1,1564.5 L2110.8,1565.0 L2111.6,1564.2 L2112.3,1565.3 L2113.1,1564.7 L2113.8,1564.4 L2114.6,1564.6 L2115.3,1564.1 L2116.1,1564.1 L2116.8,1564.5 L2117.6,1565.4 L2118.3,1564.2 L2119.1,1564.8 L2119.8,1565.0 L2120.6,1565.1 L2121.3,1565.5 L2122.1,1562.7 L2122.8,1560.6 L2123.6,1558.5 L2124.3,1556.5 L2125.1,1554.4 L2125.8,1552.3 L2126.6,1550.2 L2127.3,1548.1 L2128.1,1546.1 L2128.7,1544.3 L2128.8,1544.5 L2129.6,1546.7 L2130.0,1548.1 L2130.3,1548.9 L2131.1,1551.1 L2131.8,1553.3 L2132.6,1555.5 L2133.3,1557.7 L2134.1,1559.8 L2134.8,1562.0 L2135.6,1564.2 L2136.3,1566.4 L2136.3,1566.5 L2137.1,1568.6 L2137.7,1570.4 L2137.8,1570.8 L2138.6,1572.6 L2139.3,1574.3 L2140.1,1576.0 L2140.8,1577.6 L2141.6,1578.6 L2142.3,1579.6 L2142.7,1580.2 L2143.1,1580.2 L2143.8,1580.2 L2144.6,1580.2 L2145.3,1580.2 L2146.1,1580.2 L2146.8,1580.2 L2147.6,1580.2 L2148.3,1580.2 L2149.1,1580.2 L2149.8,1580.2 L2150.6,1580.2 L2151.3,1580.2 L2152.1,1580.2 L2152.8,1580.2 L2153.6,1580.2 L2154.3,1580.2 L2155.1,1580.2 L2155.6,1580.2 L2155.8,1579.6 L2156.6,1577.8 L2157.3,1575.9 L2158.1,1574.0 L2158.8,1572.1 L2159.6,1570.3 L2160.3,1568.4 L2161.1,1566.5 L2161.8,1564.7 L2162.6,1563.5 L2163.3,1563.5 L2164.1,1563.4 L2164.8,1562.7 L2165.6,1563.6 L2166.3,1563.4 L2167.1,1563.0 L2167.8,1563.6 L2168.6,1562.7 L2169.3,1563.8 L2170.1,1563.1 L2170.8,1563.6 L2171.6,1563.7 L2172.3,1562.9 L2173.1,1563.0 L2173.8,1563.1 L2174.6,1563.3 L2175.3,1563.3 L2176.1,1563.7 L2176.8,1563.8 L2177.6,1563.1 L2178.3,1562.8 L2179.1,1563.4 L2179.8,1563.1 L2180.6,1563.1 L2181.3,1562.3 L2182.1,1560.2 L2182.8,1558.2 L2183.6,1556.1 L2184.3,1554.1 L2185.1,1552.0 L2185.8,1549.9 L2186.6,1547.9 L2187.3,1545.8 L2188.1,1543.8 L2188.4,1542.8 L2188.8,1544.0 L2189.6,1546.3 L2189.7,1546.8 L2190.3,1548.6 L2191.1,1550.9 L2191.8,1553.2 L2192.6,1555.5 L2193.3,1557.8 L2194.1,1560.1 L2194.8,1562.4 L2195.6,1564.7 L2196.1,1566.3 L2196.3,1567.0 L2197.1,1569.3 L2197.4,1570.3 L2197.8,1571.5 L2198.6,1573.2 L2199.3,1575.0 L2200.1,1576.7 L2200.8,1578.0 L2201.6,1579.0 L2202.3,1580.0 L2202.4,1580.2 L2203.1,1580.2 L2203.8,1580.2 L2204.6,1580.2 L2205.3,1580.2 L2206.1,1580.2 L2206.8,1580.2 L2207.6,1580.2 L2208.3,1580.2 L2209.1,1580.2 L2209.8,1580.2 L2210.6,1580.2 L2211.3,1580.2 L2212.1,1580.2 L2212.8,1580.2 L2213.6,1580.2 L2214.3,1580.2 L2215.1,1580.2 L2215.3,1580.2 L2215.8,1578.9 L2216.6,1576.9 L2217.3,1575.0 L2218.1,1573.1 L2218.8,1571.1 L2219.6,1569.2 L2220.3,1567.3 L2221.1,1565.3 L2221.8,1563.4 L2222.6,1562.7 L2223.3,1562.9 L2224.1,1562.4 L2224.8,1562.7 L2225.6,1562.6 L2226.3,1562.1 L2227.1,1562.4 L2227.8,1562.1 L2228.6,1562.1 L2229.3,1562.4 L2230.1,1563.0 L2230.8,1562.0 L2231.6,1562.5 L2232.3,1562.0 L2233.1,1563.1 L2233.8,1562.3 L2234.6,1562.4 L2235.3,1562.0 L2236.1,1562.2 L2236.8,1562.1 L2237.6,1562.4 L2238.3,1561.9 L2239.1,1562.2 L2239.8,1563.0 L2240.6,1561.8 L2241.3,1560.7 L2242.1,1558.5 L2242.8,1556.2 L2243.6,1553.9 L2244.3,1551.6 L2245.1,1549.3 L2245.8,1547.1 L2246.6,1544.8 L2247.3,1542.5 L2248.1,1540.2 L2248.1,1540.0 L2248.8,1542.3 L2249.4,1544.4 L2249.6,1544.8 L2250.3,1547.4 L2251.1,1549.9 L2251.8,1552.4 L2252.6,1555.0 L2253.3,1557.5 L2254.1,1560.0 L2254.8,1562.5 L2255.6,1565.1 L2255.8,1565.8 L2256.3,1567.6 L2257.1,1570.1 L2257.1,1570.2 L2257.8,1572.2 L2258.6,1573.9 L2259.3,1575.6 L2260.1,1577.3 L2260.8,1578.4 L2261.6,1579.4 L2262.2,1580.2 L2262.3,1580.2 L2263.1,1580.2 L2263.8,1580.2 L2264.6,1580.2 L2265.3,1580.2 L2266.1,1580.2 L2266.8,1580.2 L2267.6,1580.2 L2268.3,1580.2 L2269.1,1580.2 L2269.8,1580.2 L2270.6,1580.2 L2271.3,1580.2 L2272.1,1580.2 L2272.8,1580.2 L2273.6,1580.2 L2274.3,1580.2 L2275.0,1580.2 L2275.1,1580.1 L2275.8,1578.4 L2276.6,1576.8 L2277.3,1575.1 L2278.1,1573.5 L2278.8,1571.8 L2279.6,1570.2 L2280.3,1568.5 L2281.1,1566.9 L2281.8,1565.6 L2282.6,1565.5 L2283.3,1565.4 L2284.1,1564.7 L2284.8,1565.0 L2285.6,1565.0 L2286.3,1565.5 L2287.1,1565.1 L2287.8,1564.6 L2288.6,1564.9 L2289.3,1565.2 L2290.1,1564.7 L2290.8,1565.4 L2291.6,1565.7 L2292.3,1564.7 L2293.1,1565.7 L2293.8,1565.8 L2294.6,1564.7 L2295.3,1565.1 L2296.1,1565.8 L2296.8,1565.4 L2297.6,1565.6 L2298.3,1565.1 L2299.1,1565.2 L2299.8,1564.6 L2300.6,1565.5 L2301.3,1562.8 L2302.1,1560.9 L2302.8,1559.0 L2303.6,1557.0 L2304.3,1555.1 L2305.1,1553.1 L2305.8,1551.2 L2306.6,1549.2 L2307.3,1547.3 L2307.8,1545.9 L2308.1,1546.5 L2308.8,1548.5 L2309.1,1549.5 L2309.6,1550.6 L2310.3,1552.6 L2311.1,1554.7 L2311.8,1556.8 L2312.6,1558.8 L2313.3,1560.9 L2314.1,1562.9 L2314.8,1565.0 L2315.5,1566.8 L2315.6,1567.0 L2316.3,1569.1 L2316.8,1570.4 L2317.1,1571.1 L2317.8,1572.9 L2318.6,1574.6 L2319.3,1576.3 L2320.1,1577.7 L2320.8,1578.8 L2321.6,1579.8 L2321.9,1580.2 L2322.3,1580.2 L2323.1,1580.2 L2323.8,1580.2 L2324.6,1580.2 L2325.3,1580.2 L2326.1,1580.2 L2326.8,1580.2 L2327.6,1580.2 L2328.3,1580.2 L2329.1,1580.2 L2329.8,1580.2 L2330.6,1580.2 L2331.3,1580.2 L2332.1,1580.2 L2332.8,1580.2 L2333.6,1580.2 L2334.3,1580.2 L2334.7,1580.2 L2335.1,1579.3 L2335.8,1577.5 L2336.6,1575.6 L2337.3,1573.7 L2338.1,1571.8 L2338.8,1570.0 L2339.6,1568.1 L2340.3,1566.2 L2341.1,1564.4 L2341.8,1563.0 L2342.6,1562.8 L2343.3,1563.6 L2344.1,1562.6 L2344.8,1562.4 L2345.6,1562.9 L2346.3,1562.8 L2347.1,1562.6 L2347.8,1562.3 L2348.6,1563.2 L2349.3,1563.4 L2350.1,1563.6 L2350.8,1563.3 L2351.6,1562.7 L2352.3,1562.4 L2353.1,1563.0 L2353.8,1562.9 L2354.6,1562.8 L2355.3,1563.8 L2356.1,1563.7 L2356.8,1563.8 L2357.6,1562.6 L2358.3,1562.6 L2359.1,1563.5 L2359.8,1562.6 L2360.6,1561.7 L2361.3,1559.1 L2362.1,1556.6 L2362.8,1554.0 L2363.6,1551.5 L2364.3,1548.9 L2365.1,1546.4 L2365.8,1543.8 L2366.6,1541.3 L2367.3,1538.7 L2367.5,1537.9 L2368.1,1539.7 L2368.8,1542.4 L2368.9,1542.6 L2369.6,1545.1 L2370.3,1547.8 L2371.1,1550.5 L2371.8,1553.2 L2372.6,1555.9 L2373.3,1558.6 L2374.1,1561.3 L2374.8,1564.0 L2375.2,1565.4 L2375.6,1566.7 L2376.3,1569.4 L2376.5,1570.2 L2377.1,1571.8 L2377.8,1573.5 L2378.6,1575.2 L2379.3,1576.9 L2380.1,1578.1 L2380.8,1579.1 L2381.6,1580.2 L2381.6,1580.2 L2382.3,1580.2 L2383.1,1580.2 L2383.8,1580.2 L2384.6,1580.2 L2385.3,1580.2 L2386.1,1580.2 L2386.8,1580.2 L2387.6,1580.2 L2388.3,1580.2 L2389.1,1580.2 L2389.8,1580.2 L2390.6,1580.2 L2391.3,1580.2 L2392.1,1580.2 L2392.8,1580.2 L2393.6,1580.2 L2394.3,1580.2 L2394.4,1580.2 L2395.1,1578.8 L2395.8,1577.1 L2396.6,1575.5 L2397.3,1573.8 L2398.1,1572.2 L2398.8,1570.5 L2399.6,1568.8 L2400.3,1567.2 L2401.1,1566.0 L2401.8,1565.2 L2402.6,1565.1 L2403.3,1564.3 L2404.1,1565.0 L2404.8,1565.7 L2405.6,1564.3 L2406.3,1564.5 L2407.1,1564.4 L2407.8,1564.3 L2408.6,1565.7 L2409.3,1565.6 L2410.1,1565.5 L2410.8,1565.0 L2411.6,1565.5 L2412.3,1565.6 L2413.1,1564.9 L2413.8,1564.4 L2414.6,1565.2 L2415.3,1565.4 L2416.1,1564.5 L2416.8,1564.7 L2417.6,1565.0 L2418.3,1565.6 L2419.1,1564.8 L2419.8,1565.7 L2420.6,1562.7 L2421.3,1560.3 L2422.1,1557.8 L2422.8,1555.3 L2423.6,1552.9 L2424.3,1550.4 L2425.1,1548.0 L2425.8,1545.5 L2426.6,1543.0 L2427.2,1540.7 L2427.3,1540.9 L2428.1,1543.4 L2428.6,1545.1 L2428.8,1545.9 L2429.6,1548.3 L2430.3,1550.8 L2431.1,1553.3 L2431.8,1555.7 L2432.6,1558.2 L2433.3,1560.7 L2434.1,1563.1 L2434.8,1565.6 L2434.9,1565.9 L2435.6,1568.1 L2436.2,1570.2 L2436.3,1570.6 L2437.1,1572.5 L2437.8,1574.2 L2438.6,1575.9 L2439.3,1577.5 L2440.1,1578.5 L2440.8,1579.5 L2441.3,1580.2 L2441.6,1580.2 L2442.3,1580.2 L2443.1,1580.2 L2443.8,1580.2 L2444.6,1580.2 L2445.3,1580.2 L2446.1,1580.2 L2446.8,1580.2 L2447.6,1580.2 L2448.3,1580.2 L2449.1,1580.2 L2449.8,1580.2 L2450.6,1580.2 L2451.3,1580.2 L2452.1,1580.2 L2452.8,1580.2 L2453.6,1580.2 L2454.1,1580.2 L2454.3,1579.7 L2455.1,1577.5 L2455.8,1575.4 L2456.6,1573.2 L2457.3,1571.0 L2458.1,1568.9 L2458.8,1566.7 L2459.6,1564.5 L2460.3,1562.4 L2461.1,1560.2 L2461.8,1559.9 L2462.6,1559.9 L2463.3,1560.1 L2464.1,1561.1 L2464.8,1560.0 L2465.6,1560.7 L2466.3,1561.0 L2467.1,1560.2 L2467.8,1560.3 L2468.6,1560.0 L2469.3,1560.0 L2470.1,1561.1 L2470.8,1560.3 L2471.6,1560.9 L2472.3,1560.6 L2473.1,1561.0 L2473.8,1560.8 L2474.6,1560.5 L2475.3,1560.3 L2476.1,1559.7 L2476.8,1560.9 L2477.6,1560.4 L2478.3,1560.9 L2479.1,1560.1 L2479.8,1559.7 L2480.6,1557.5 L2481.3,1555.3 L2482.1,1553.2 L2482.8,1551.0 L2483.6,1548.8 L2484.3,1546.7 L2485.1,1544.5 L2485.8,1542.3 L2486.6,1540.1 L2487.0,1539.0 L2487.3,1540.1 L2488.1,1542.8 L2488.3,1543.5 L2488.8,1545.4 L2489.6,1548.0 L2490.3,1550.6 L2491.1,1553.2 L2491.8,1555.8 L2492.6,1558.5 L2493.3,1561.1 L2494.1,1563.7 L2494.6,1565.6 L2494.8,1566.3 L2495.6,1568.9 L2495.9,1570.2 L2496.3,1571.4 L2497.1,1573.1 L2497.8,1574.8 L2498.6,1576.5 L2499.3,1577.9 L2500.1,1578.9 L2500.8,1579.9 L2501.0,1580.2 L2501.6,1580.2 L2502.3,1580.2 L2503.1,1580.2 L2503.8,1580.2 L2504.6,1580.2 L2505.3,1580.2 L2506.1,1580.2 L2506.8,1580.2 L2507.6,1580.2 L2508.3,1580.2 L2509.1,1580.2 L2509.8,1580.2 L2510.6,1580.2 L2511.3,1580.2 L2512.1,1580.2 L2512.8,1580.2 L2513.6,1580.2 L2513.8,1580.2 L2514.3,1579.0 L2515.1,1577.1 L2515.8,1575.2 L2516.6,1573.3 L2517.3,1571.4 L2518.1,1569.5 L2518.8,1567.6 L2519.6,1565.7 L2520.3,1563.8 L2521.1,1562.7 L2521.8,1562.6 L2522.6,1562.6 L2523.3,1562.8 L2524.1,1562.6 L2524.8,1562.8 L2525.6,1563.1 L2526.3,1563.0 L2527.1,1562.8 L2527.8,1562.9 L2528.6,1563.3 L2529.3,1562.9 L2530.1,1563.3 L2530.8,1563.0 L2531.6,1562.5 L2532.3,1563.4 L2533.1,1562.9 L2533.8,1562.2 L2534.6,1563.5 L2535.3,1562.5 L2536.1,1562.5 L2536.8,1563.5 L2537.6,1563.4 L2538.3,1562.1 L2539.1,1562.5 L2539.8,1561.0 L2540.6,1558.5 L2541.3,1555.9 L2542.1,1553.3 L2542.8,1550.8 L2543.6,1548.2 L2544.3,1545.7 L2545.1,1543.1 L2545.8,1540.5 L2546.6,1538.0 L2546.7,1537.6 L2547.3,1539.9 L2548.0,1542.3 L2548.1,1542.6 L2548.8,1545.3 L2549.6,1548.0 L2550.3,1550.8 L2551.1,1553.5 L2551.8,1556.2 L2552.6,1559.0 L2553.3,1561.7 L2554.1,1564.4 L2554.3,1565.4 L2554.8,1567.1 L2555.6,1569.9 L2555.6,1570.1 L2556.3,1572.1 L2557.1,1573.8 L2557.8,1575.5 L2558.6,1577.2 L2559.3,1578.3 L2560.1,1579.3 L2560.7,1580.2 L2560.8,1580.2 L2561.6,1580.2 L2562.3,1580.2 L2563.1,1580.2 L2563.8,1580.2 L2564.6,1580.2 L2565.3,1580.2 L2566.1,1580.2 L2566.8,1580.2 L2567.6,1580.2 L2568.3,1580.2 L2569.1,1580.2 L2569.8,1580.2 L2570.6,1580.2 L2571.3,1580.2 L2572.1,1580.2 L2572.8,1580.2 L2573.5,1580.2 L2573.6,1580.2 L2574.3,1578.4 L2575.1,1576.6 L2575.8,1574.8 L2576.6,1573.1 L2577.3,1571.3 L2578.1,1569.5 L2578.8,1567.7 L2579.6,1565.9" stroke="#2e8500" stroke-width="2.4" stroke-linejoin="round"/><path d="M1518.3,1536.1 V1580.2 M1506.3,1536.1 H1518.3 M1506.3,1580.2 H1518.3" stroke="#2e8500" stroke-width="2"/><path d="M1506.3,1547.59 H1518.3 M1506.3,1555.75 H1518.3 M1506.3,1563.9 H1518.3 " stroke="#2e8500" stroke-width="2" stroke-opacity="0.45"/><path d="M1518.3,1596.6 V1587.6 H2580.6 V1596.6 M1584.2,1587.6 V1596.6 M1716.9,1587.6 V1596.6 M1849.6,1587.6 V1596.6 M1982.3,1587.6 V1596.6 M2115,1587.6 V1596.6 M2247.7,1587.6 V1596.6 M2380.4,1587.6 V1596.6 M2513.1,1587.6 V1596.6" stroke="#111" stroke-width="2"/></svg><span class="t" style="left:91.6px;top:145px;font-size:20.3px;color:#a9a9a9;transform:scaleX(0.9650);">30</span><span class="t" style="left:90.59px;top:155px;font-size:20.3px;color:#a9a9a9;transform:scaleX(1.0104);">20</span><span class="t" style="left:91.6px;top:327px;font-size:20.3px;color:#a9a9a9;transform:scaleX(0.9650);">30</span><span class="t" style="left:90.59px;top:337px;font-size:20.3px;color:#a9a9a9;transform:scaleX(1.0104);">20</span><span class="t" style="left:91.6px;top:422px;font-size:20.3px;color:#a9a9a9;transform:scaleX(0.9650);">30</span><span class="t" style="left:90.59px;top:431px;font-size:20.3px;color:#a9a9a9;transform:scaleX(1.0104);">20</span><span class="t" style="left:91.6px;top:508px;font-size:20.3px;color:#a9a9a9;transform:scaleX(0.9650);">40</span><span class="t" style="left:91.6px;top:516px;font-size:20.3px;color:#a9a9a9;transform:scaleX(0.9650);">30</span><span class="t" style="left:90.59px;top:524px;font-size:20.3px;color:#a9a9a9;transform:scaleX(1.0104);">20</span><span class="t" style="left:74.8px;top:131px;font-size:20.3px;color:#111;transform:scaleX(0.9772);">44.3</span><span class="t" style="left:102.6px;top:174px;font-size:20.3px;color:#111;transform:scaleX(0.9545);">0</span><span class="t" style="left:76.1px;top:313px;font-size:20.3px;color:#111;transform:scaleX(0.9440);">43.1</span><span class="t" style="left:102.6px;top:357px;font-size:20.3px;color:#111;transform:scaleX(0.9545);">0</span><span class="t" style="left:74.1px;top:405px;font-size:20.3px;color:#111;transform:scaleX(0.9951);">48.6</span><span class="t" style="left:102.6px;top:449px;font-size:20.3px;color:#111;transform:scaleX(0.9545);">0</span><span class="t" style="left:75.6px;top:497px;font-size:20.3px;color:#111;transform:scaleX(0.9568);">54.1</span><span class="t" style="left:102.6px;top:541px;font-size:20.3px;color:#111;transform:scaleX(0.9545);">0</span><span class="t" style="left:45.1px;top:224px;font-size:19.6px;color:#111;transform:scaleX(0.9618);">ACTIVE</span><span class="t" style="left:23.91px;top:268px;font-size:19.6px;color:#111;transform:scaleX(0.9877);">INACTIVE</span><span class="t" style="left:169.45px;top:571px;font-size:20px;color:#111;transform:scaleX(1.0063);">06 PM</span><span class="t" style="left:302.15px;top:571px;font-size:20px;color:#111;transform:scaleX(1.0063);">09 PM</span><span class="t" style="left:435.89px;top:571px;font-size:20px;color:#111;transform:scaleX(0.9630);">Fri, 31</span><span class="t" style="left:566.3px;top:571px;font-size:20px;color:#111;transform:scaleX(1.0500);">03 AM</span><span class="t" style="left:699px;top:571px;font-size:20px;color:#111;transform:scaleX(1.0500);">06 AM</span><span class="t" style="left:831.7px;top:571px;font-size:20px;color:#111;transform:scaleX(1.0500);">09 AM</span><span class="t" style="left:965.4px;top:571px;font-size:20px;color:#111;transform:scaleX(0.9975);">12 PM</span><span class="t" style="left:1098.35px;top:571px;font-size:20px;color:#111;transform:scaleX(1.0063);">03 PM</span></section>
</div></body></html>
